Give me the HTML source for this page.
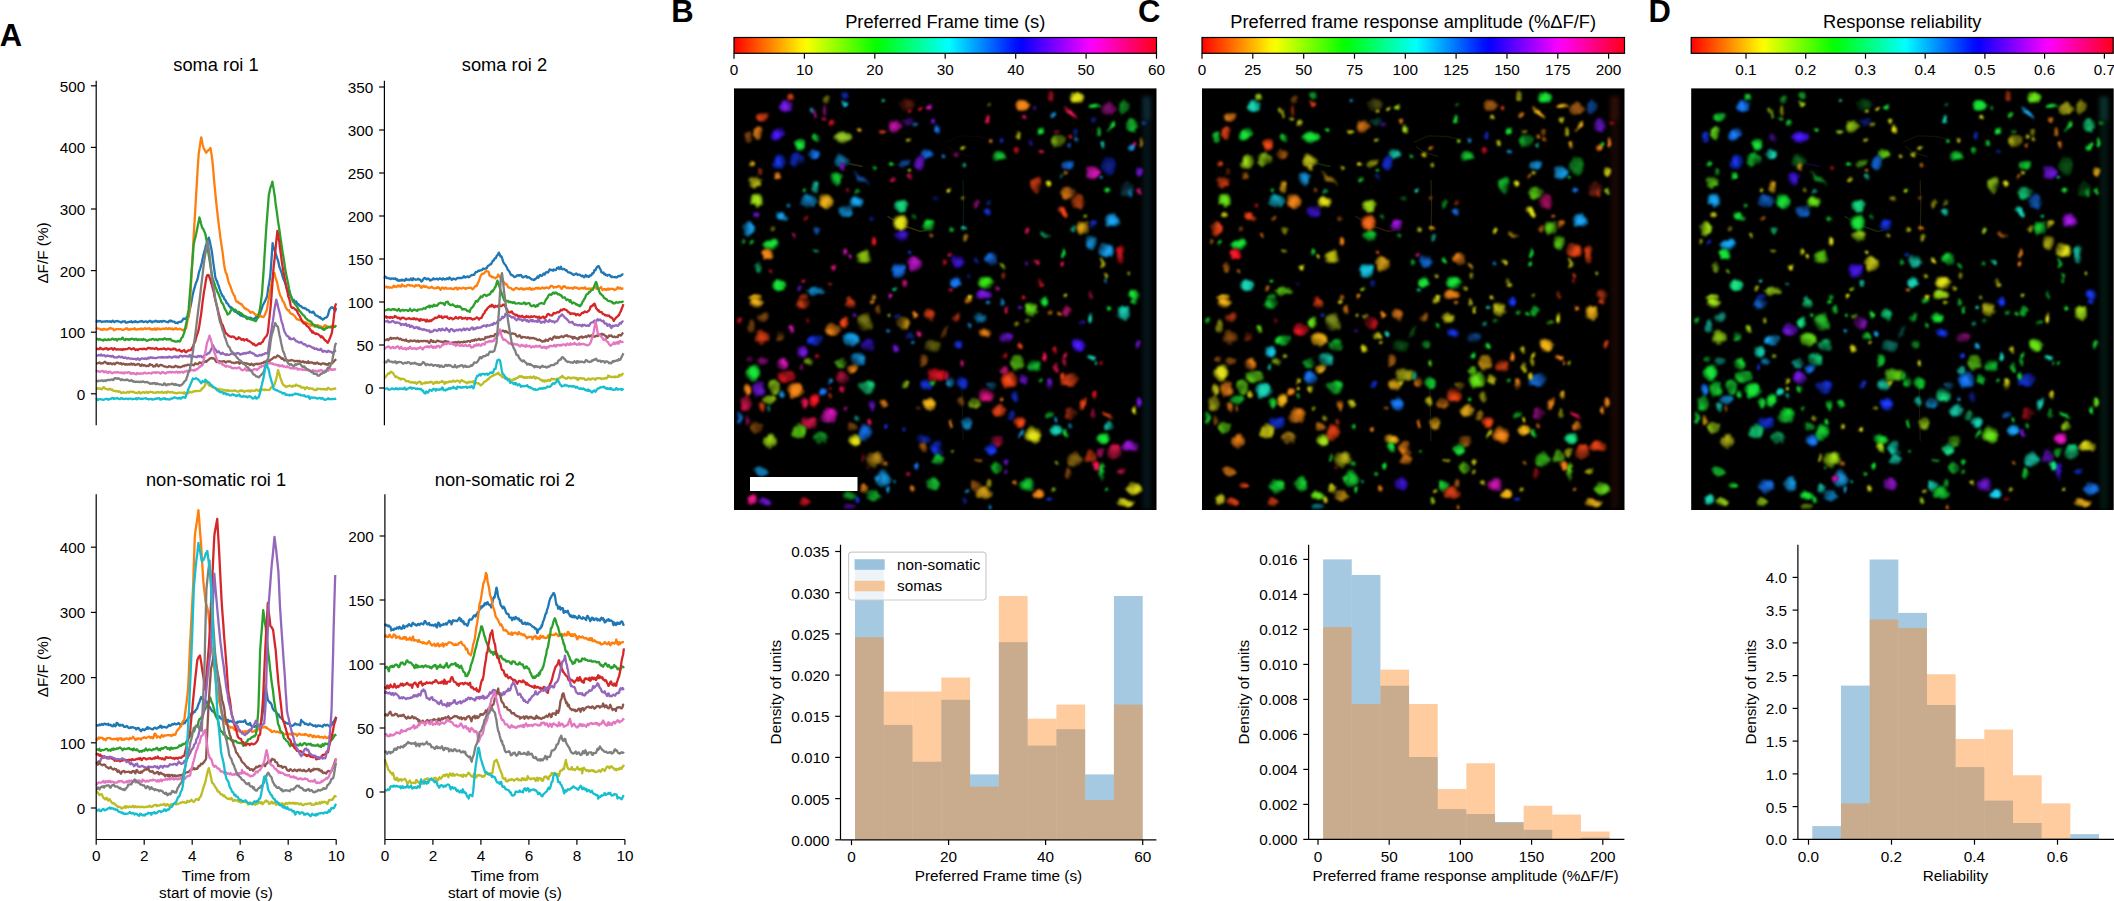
<!DOCTYPE html>
<html lang="en"><head><meta charset="utf-8"><title>Figure</title>
<style>html,body{margin:0;padding:0;background:#fff;overflow:hidden}svg{display:block}text{font-family:"Liberation Sans",Arial,sans-serif}</style>
</head><body>
<svg width="2114" height="901" viewBox="0 0 2114 901">
<rect width="2114" height="901" fill="#fff"/>
<text x="-0.3" y="45.7" font-size="31" text-anchor="start" fill="#000" font-weight="bold">A</text>
<text x="671.2" y="22.3" font-size="31" text-anchor="start" fill="#000" font-weight="bold">B</text>
<text x="1138.0" y="22.3" font-size="31" text-anchor="start" fill="#000" font-weight="bold">C</text>
<text x="1648.5" y="22.3" font-size="31" text-anchor="start" fill="#000" font-weight="bold">D</text>
<g id="panelA">
<polyline points="96.2,322.4 97.0,321.3 97.8,320.9 98.6,321.4 99.4,321.0 100.2,321.1 101.0,321.4 101.8,322.0 102.6,321.7 103.4,321.5 104.2,321.7 105.0,321.4 105.8,321.7 106.6,321.1 107.4,321.2 108.2,321.6 109.0,321.7 109.8,321.2 110.6,321.8 111.4,322.0 112.2,320.8 113.0,320.7 113.8,321.7 114.6,322.1 115.4,321.6 116.2,321.1 117.0,321.1 117.8,321.0 118.6,321.7 119.4,321.7 120.2,321.8 121.0,322.5 121.8,322.1 122.6,321.3 123.4,321.3 124.2,321.7 125.0,321.3 125.8,322.5 126.6,322.6 127.4,322.4 128.2,322.1 129.0,322.0 129.8,321.7 130.6,321.8 131.4,321.2 132.2,322.4 133.0,322.2 133.8,321.6 134.6,322.1 135.4,321.1 136.2,322.0 137.0,322.0 137.8,322.1 138.6,322.0 139.4,321.5 140.2,321.3 141.0,321.7 141.8,320.9 142.6,321.4 143.4,322.0 144.2,321.9 145.0,321.5 145.8,321.3 146.6,321.6 147.4,322.3 148.2,322.0 149.0,321.2 149.8,320.9 150.6,321.0 151.4,322.2 152.2,322.4 153.0,321.5 153.8,321.6 154.6,321.6 155.4,320.6 156.2,321.4 157.0,321.2 157.8,321.9 158.6,321.4 159.4,321.8 160.2,321.1 161.0,321.2 161.8,322.0 162.6,321.1 163.4,320.9 164.2,321.1 165.0,321.3 165.8,321.5 166.6,321.8 167.4,322.2 168.2,322.3 169.0,321.2 169.8,320.5 170.6,321.3 171.4,320.6 172.2,321.3 173.0,321.6 173.8,321.6 174.6,321.9 175.4,323.0 176.2,322.8 177.0,322.7 177.8,323.2 178.6,322.0 179.4,321.8 180.2,321.9 181.0,321.7 181.4,321.7 181.8,320.9 182.6,320.0 183.1,319.4 183.4,318.7 184.2,318.7 185.0,318.9 185.8,318.5 186.2,318.5 186.6,317.0 187.4,316.8 188.2,317.4 188.6,316.5 189.0,314.5 189.8,309.2 190.6,306.2 191.4,302.1 192.2,297.6 192.9,294.1 193.8,290.2 194.6,287.7 195.4,284.7 196.2,282.3 197.0,280.7 198.0,277.4 198.6,273.7 199.4,270.9 200.2,268.8 201.1,265.4 201.8,262.8 202.6,258.8 203.4,255.0 204.2,252.0 205.0,249.7 205.4,247.6 205.8,245.7 206.6,243.6 207.4,240.4 208.2,239.0 208.8,237.6 209.8,241.6 210.6,245.4 211.4,249.1 212.2,253.8 213.0,260.4 213.8,266.1 214.6,271.9 215.2,276.9 216.2,279.8 217.0,281.0 217.8,283.9 218.6,285.6 219.4,288.3 220.2,290.6 221.2,293.5 221.8,294.2 222.6,296.2 223.4,296.4 224.2,298.8 225.0,299.7 226.0,301.1 226.6,303.1 227.4,303.4 228.2,304.3 229.0,306.1 229.8,306.6 230.6,307.8 231.1,308.1 231.4,307.4 232.2,308.5 233.0,309.6 233.8,310.5 234.6,311.5 235.4,311.8 236.2,312.0 237.0,312.4 237.8,313.5 238.6,313.2 239.4,314.3 240.2,315.3 241.0,315.7 241.8,315.7 242.8,316.3 243.4,316.0 244.2,316.5 245.0,316.4 245.8,316.4 246.6,317.5 247.4,317.5 248.2,317.9 249.0,317.7 249.8,318.3 250.6,317.7 251.4,318.3 252.2,319.1 253.0,318.8 253.8,319.3 254.4,319.1 255.4,317.6 256.2,317.1 257.0,317.7 257.8,316.4 258.6,315.7 259.4,314.7 260.2,312.7 261.0,310.2 261.8,308.5 262.8,305.2 263.4,304.3 264.2,302.6 265.0,301.3 265.8,299.3 266.8,297.3 267.4,294.4 268.2,287.9 269.0,283.9 269.8,279.3 270.2,276.8 270.6,271.7 271.4,260.6 272.2,249.4 272.6,243.1 273.0,245.3 273.8,247.9 274.6,249.9 275.0,251.3 275.4,252.9 276.2,255.1 277.0,257.9 277.8,259.9 278.6,262.9 279.4,266.9 280.2,268.9 281.0,271.2 281.8,273.3 282.7,276.9 283.4,278.9 284.2,280.4 285.0,282.5 285.8,285.1 286.6,288.1 287.4,289.3 288.2,292.1 289.0,293.7 289.8,294.6 290.6,295.6 291.4,297.5 292.2,299.1 292.8,299.5 293.8,299.8 294.6,301.7 295.4,301.9 296.2,301.4 297.0,303.0 297.8,304.6 298.6,304.1 299.4,305.3 300.2,306.2 301.0,306.1 301.8,306.9 302.8,307.8 303.4,308.1 304.2,308.0 305.0,308.5 305.8,308.5 306.6,309.4 307.4,310.2 308.2,310.0 309.0,310.6 309.8,312.3 310.6,311.8 311.4,312.4 312.2,312.6 312.7,312.5 313.0,311.7 313.8,312.4 314.6,313.8 315.4,315.1 316.2,315.7 317.0,315.9 317.8,316.0 318.6,316.9 319.4,317.5 320.2,317.1 321.0,318.5 321.8,318.6 322.8,319.7 323.4,318.9 324.2,318.6 325.0,317.8 325.8,317.7 326.6,317.4 327.4,316.0 327.8,315.8 328.2,314.4 329.0,311.0 329.8,309.1 330.6,308.2 331.2,307.4 332.2,307.2 333.0,308.1 333.6,308.2 334.6,310.4 335.2,311.1 336.2,307.7" fill="none" stroke="#1f77b4" stroke-width="2.3" stroke-linejoin="round" stroke-linecap="butt"/>
<polyline points="96.2,327.5 97.0,328.4 97.8,328.6 98.6,328.7 99.4,328.8 100.2,329.3 101.0,329.6 101.8,329.2 102.6,330.0 103.4,329.0 104.2,329.0 105.0,329.4 105.8,329.3 106.6,329.7 107.4,329.7 108.2,328.9 109.0,328.9 109.8,328.0 110.6,327.8 111.4,328.7 112.2,328.9 113.0,328.7 113.8,330.1 114.6,330.1 115.4,329.5 116.2,329.2 117.0,329.2 117.8,329.2 118.6,329.0 119.4,329.2 120.2,329.1 121.0,329.2 121.8,329.7 122.6,329.9 123.4,329.9 124.2,329.3 125.0,329.2 125.8,328.4 126.6,328.8 127.4,328.4 128.2,329.6 129.0,329.4 129.8,329.8 130.6,329.3 131.4,328.8 132.2,329.2 133.0,329.2 133.8,328.7 134.6,328.2 135.4,329.4 136.2,329.7 137.0,329.4 137.8,329.2 138.6,329.4 139.4,328.9 140.2,328.7 141.0,329.3 141.8,328.5 142.6,329.4 143.4,328.9 144.2,328.7 145.0,328.1 145.8,329.0 146.6,328.9 147.4,328.6 148.2,328.5 149.0,328.8 149.8,328.2 150.6,329.4 151.4,329.5 152.2,329.1 153.0,329.5 153.8,329.6 154.6,328.3 155.4,328.6 156.2,329.8 157.0,328.6 157.8,328.4 158.6,329.2 159.4,328.6 160.2,329.5 161.0,329.3 161.8,329.0 162.6,328.6 163.4,328.6 164.2,328.8 165.0,329.1 165.8,328.1 166.6,328.4 167.4,329.1 168.2,329.0 169.0,328.1 169.8,328.4 170.6,329.2 171.4,328.9 172.2,328.5 173.0,329.6 173.8,329.2 174.6,328.5 175.4,329.0 176.2,328.1 177.0,329.1 177.8,329.5 178.6,329.3 179.4,328.7 180.2,328.8 181.0,329.4 181.8,329.6 182.6,330.4 183.1,330.2 183.4,329.8 184.2,329.6 185.0,329.6 185.8,328.4 186.2,328.1 186.6,325.6 187.4,321.4 188.2,317.5 189.0,312.9 189.6,309.3 190.6,291.6 191.4,277.6 192.2,262.4 193.0,248.5 193.6,237.2 194.6,221.1 195.4,207.7 196.2,193.5 197.0,180.7 197.8,166.8 198.7,153.7 199.4,149.3 200.2,143.7 201.2,137.3 201.8,139.9 202.6,144.3 203.5,147.6 204.2,149.2 205.0,150.5 205.8,152.1 206.1,152.7 206.6,152.0 207.4,151.4 208.2,150.3 209.0,149.8 209.8,149.0 210.4,147.9 211.4,153.5 212.1,158.4 213.0,166.6 213.8,176.8 214.6,185.9 215.4,193.6 216.2,202.3 217.0,209.3 217.8,216.5 218.6,223.5 219.4,229.7 220.3,236.6 221.0,241.8 221.8,247.2 222.6,252.4 223.4,259.1 224.2,265.0 224.6,267.4 225.0,269.6 225.8,272.7 226.6,273.9 227.4,277.1 228.2,280.6 229.0,283.3 229.4,283.8 229.8,284.9 230.6,286.9 231.4,289.2 232.2,291.7 233.0,293.3 233.8,295.1 234.6,295.9 235.4,298.9 236.1,301.0 237.0,301.8 237.8,301.6 238.6,303.0 239.4,302.9 240.2,303.6 241.0,304.3 241.8,304.1 242.6,305.9 243.4,306.6 244.2,308.0 245.0,308.5 245.8,308.5 246.2,309.4 246.6,309.4 247.4,309.5 248.2,310.2 249.0,311.0 249.8,311.5 250.6,312.8 251.4,312.4 252.2,312.0 253.0,312.1 253.8,313.1 254.6,313.9 255.4,314.5 256.0,315.2 257.0,314.8 257.8,315.0 258.6,316.1 259.4,316.8 260.2,316.1 261.0,315.9 261.8,316.9 262.6,316.9 263.4,317.0 263.7,316.8 264.2,316.0 265.0,314.7 265.8,312.2 266.8,310.0 267.4,306.6 268.2,301.8 269.0,298.1 269.8,292.6 270.6,288.6 271.2,285.0 272.2,280.4 273.0,277.4 273.8,275.5 274.5,273.2 275.4,277.0 276.2,279.8 277.0,282.0 277.8,285.9 278.6,289.9 279.6,293.5 280.2,295.5 281.0,296.8 281.8,298.3 282.6,300.8 283.4,301.7 284.2,303.0 285.0,305.3 286.0,308.1 286.6,308.5 287.4,310.0 288.2,310.7 289.0,310.3 289.8,312.4 290.6,313.3 291.4,313.7 292.2,314.2 293.0,314.4 293.8,315.3 294.6,315.9 295.4,317.0 296.1,318.2 297.0,319.3 297.8,319.2 298.6,319.8 299.4,320.2 300.2,320.1 301.0,319.4 301.8,320.0 302.6,320.7 303.4,322.0 304.2,322.0 305.0,322.3 305.8,322.4 306.6,322.6 307.4,323.3 308.2,323.6 309.0,323.7 309.3,323.8 309.8,324.1 310.6,325.8 311.4,325.4 312.2,325.1 313.0,325.6 313.8,326.0 314.6,326.6 315.4,325.4 316.2,325.8 317.0,326.1 317.8,325.3 318.6,326.1 319.4,325.9 320.2,326.2 321.1,326.5 321.8,327.6 322.6,327.0 323.4,326.8 324.2,326.1 325.0,325.1 325.8,325.5 326.6,326.0 327.4,327.2 328.2,326.7 329.0,326.9 329.8,327.3 330.6,326.5 331.4,326.1 332.2,326.3 333.0,326.0 333.8,325.9 334.6,326.5 335.4,325.8 336.2,327.0" fill="none" stroke="#ff7f0e" stroke-width="2.3" stroke-linejoin="round" stroke-linecap="butt"/>
<polyline points="96.2,338.5 97.0,338.8 97.8,339.1 98.6,339.8 99.4,339.0 100.2,339.3 101.0,339.8 101.8,340.0 102.6,339.9 103.4,340.5 104.2,339.3 105.0,339.4 105.8,339.8 106.6,340.1 107.4,339.7 108.2,339.2 109.0,340.1 109.8,339.6 110.6,339.6 111.4,339.3 112.2,338.6 113.0,339.0 113.8,339.7 114.6,339.6 115.4,339.0 116.2,339.4 117.0,340.5 117.8,339.3 118.6,338.9 119.4,339.2 120.2,339.4 121.0,339.1 121.8,338.4 122.6,337.6 123.4,339.3 124.2,339.7 125.0,340.1 125.8,338.8 126.6,339.1 127.4,339.5 128.2,339.1 129.0,340.0 129.8,339.2 130.6,339.5 131.4,338.7 132.2,338.8 133.0,338.9 133.8,339.5 134.6,339.9 135.4,338.9 136.2,338.8 137.0,339.9 137.8,340.2 138.6,339.4 139.4,339.5 140.2,339.5 141.0,339.9 141.8,339.3 142.6,339.9 143.4,339.0 144.2,339.6 145.0,339.6 145.8,339.9 146.6,340.8 147.4,340.6 148.2,340.3 149.0,339.9 149.8,339.6 150.6,339.7 151.4,339.6 152.2,339.0 153.0,338.8 153.8,339.3 154.6,339.9 155.4,339.7 156.2,339.1 157.0,340.1 157.8,340.1 158.6,339.3 159.4,339.0 160.2,339.4 161.0,339.3 161.8,339.1 162.6,339.6 163.4,339.6 164.2,338.5 165.0,338.5 165.8,338.8 166.6,339.6 167.4,339.2 168.2,339.0 169.0,339.5 169.8,339.2 170.6,338.9 171.4,340.3 172.2,340.6 173.0,340.7 173.8,341.2 174.6,341.2 175.4,341.6 176.1,341.7 177.0,341.6 177.8,340.9 178.6,341.0 179.4,341.5 180.2,341.2 181.0,339.1 181.8,337.5 182.6,337.2 183.4,334.6 184.2,332.8 184.5,331.5 185.0,329.3 185.8,325.5 186.6,321.5 187.4,316.2 188.2,311.8 188.6,309.9 189.0,304.7 189.8,295.2 190.6,285.2 191.2,276.1 192.2,264.2 193.0,254.1 193.6,245.1 194.6,240.3 195.4,237.1 196.3,233.3 197.0,229.7 197.8,225.8 198.6,222.1 199.4,217.5 200.2,219.9 201.0,223.5 201.8,226.5 202.6,228.5 203.4,229.2 203.7,230.0 204.2,231.2 205.0,232.9 205.8,235.9 206.1,238.4 206.6,240.3 207.4,245.9 208.2,252.1 209.0,256.9 209.8,261.7 210.6,267.1 211.4,272.1 211.9,275.2 212.2,277.1 213.0,279.7 213.8,281.5 214.6,284.0 215.4,287.2 216.2,288.5 217.0,291.3 217.9,292.7 218.6,294.4 219.4,296.5 220.2,298.2 221.0,301.0 221.8,302.8 222.6,303.4 223.4,305.1 224.2,307.1 224.6,308.5 225.0,309.3 225.8,310.4 226.6,311.8 227.4,314.2 227.7,314.6 228.2,313.8 229.0,313.7 229.8,312.8 230.6,311.0 231.4,309.9 232.0,308.6 233.0,309.1 233.8,309.6 234.6,310.0 235.4,309.7 236.2,310.9 237.0,312.3 237.8,312.2 238.6,311.7 239.5,312.4 240.2,313.0 241.0,313.1 241.8,314.0 242.6,314.4 243.4,315.5 244.2,315.8 245.0,316.2 245.8,317.5 246.6,318.5 247.4,319.0 247.9,318.8 248.2,318.1 249.0,318.7 249.8,318.9 250.6,319.4 251.4,319.5 252.2,319.5 253.0,320.2 253.8,320.3 254.6,320.5 255.4,321.0 256.0,321.0 257.0,318.8 257.8,317.9 258.6,314.3 259.4,311.7 260.2,307.1 261.0,301.6 262.0,293.5 262.6,284.6 263.4,273.7 263.7,269.4 264.2,261.0 265.0,248.3 265.8,235.6 266.1,230.7 266.6,223.8 267.4,213.7 268.2,203.1 268.8,195.2 269.8,190.4 270.6,187.2 271.4,185.1 272.4,181.6 273.0,185.4 273.8,189.9 274.6,195.3 275.0,197.6 275.4,202.2 276.2,207.5 277.0,213.4 277.9,220.1 278.6,224.8 279.4,229.7 280.2,235.9 281.0,241.2 281.8,246.7 282.6,252.2 283.4,256.5 284.2,261.9 285.0,267.7 285.3,269.8 285.8,271.9 286.6,276.6 287.4,280.1 288.2,283.9 289.0,288.5 289.4,290.4 289.8,291.9 290.6,294.8 291.4,297.0 292.2,299.5 292.8,301.6 293.8,302.3 294.6,303.5 295.4,304.6 296.2,305.6 297.0,306.3 297.8,308.1 298.6,309.5 299.4,311.1 300.2,311.3 301.0,312.5 301.8,313.5 302.8,314.8 303.4,315.4 304.2,315.7 305.0,317.2 305.8,318.4 306.6,318.8 307.4,319.7 308.2,320.2 309.0,320.6 309.8,321.2 310.6,321.5 311.4,321.9 312.2,324.1 312.7,324.3 313.0,324.1 313.8,324.9 314.6,325.2 315.4,326.4 316.2,326.1 317.0,325.6 317.8,327.1 318.6,327.6 319.4,327.5 320.2,327.7 321.0,327.8 321.8,328.4 322.8,329.3 323.4,328.7 324.2,329.9 325.0,329.1 325.8,328.0 326.6,328.1 327.4,327.8 328.2,327.2 329.0,327.2 329.5,327.1 329.8,327.1 330.6,327.4 331.4,327.1 332.2,326.4 333.0,327.3 333.8,327.0 334.6,326.9 335.4,326.4 336.2,326.6" fill="none" stroke="#2ca02c" stroke-width="2.3" stroke-linejoin="round" stroke-linecap="butt"/>
<polyline points="96.2,349.6 97.0,349.1 97.8,348.7 98.6,349.1 99.4,349.2 100.2,347.8 101.0,348.4 101.8,348.8 102.6,349.4 103.4,349.3 104.2,348.7 105.0,348.8 105.8,348.3 106.6,348.2 107.4,349.5 108.2,349.7 109.0,348.6 109.8,348.8 110.6,348.6 111.4,348.2 112.2,348.5 113.0,349.7 113.8,348.8 114.6,348.3 115.4,349.1 116.2,349.6 117.0,349.6 117.8,349.2 118.6,349.4 119.4,349.4 120.2,349.7 121.0,349.2 121.8,349.7 122.6,350.0 123.4,349.0 124.2,349.4 125.0,349.4 125.8,349.1 126.6,349.2 127.4,348.9 128.2,348.5 129.0,348.0 129.8,348.3 130.6,348.8 131.4,349.4 132.2,349.0 133.0,348.7 133.8,348.1 134.6,349.2 135.4,350.1 136.2,349.5 137.0,349.5 137.8,350.1 138.6,349.4 139.4,349.1 140.2,348.8 141.0,349.0 141.8,348.8 142.6,349.3 143.4,348.8 144.2,348.6 145.0,349.0 145.8,349.4 146.6,349.2 147.4,348.3 148.2,347.9 149.0,348.2 149.8,348.0 150.6,348.6 151.4,348.4 152.2,348.7 153.0,348.3 153.8,348.5 154.6,349.0 155.4,348.7 156.2,347.9 157.0,348.5 157.8,349.5 158.6,349.3 159.4,349.1 160.2,349.1 161.0,348.8 161.8,349.2 162.6,348.9 163.4,348.7 164.2,348.4 165.0,349.3 165.8,349.2 166.6,349.6 167.4,348.6 168.2,348.6 169.0,348.8 169.8,348.9 170.6,349.9 171.4,349.3 172.2,349.4 173.0,348.7 173.8,349.1 174.6,348.6 175.4,348.8 176.2,350.0 177.0,350.4 177.8,350.4 178.6,349.9 179.4,349.7 180.2,350.8 181.0,351.1 181.8,351.7 182.6,350.6 183.4,350.7 184.2,350.0 185.0,351.6 185.8,352.0 186.2,352.2 186.6,351.6 187.4,351.2 188.2,350.4 189.0,350.4 189.8,350.3 190.6,350.2 191.0,349.7 191.4,349.2 192.2,347.7 193.0,346.2 193.8,344.2 194.6,342.6 195.4,340.7 196.2,337.5 197.0,334.8 197.8,332.8 198.6,329.9 199.4,325.5 200.2,319.8 201.0,315.1 201.8,308.6 202.6,301.9 203.4,296.2 203.7,293.9 204.2,290.6 205.0,286.3 205.8,280.9 206.6,276.8 207.1,275.6 207.4,275.1 208.2,275.0 208.8,275.5 209.8,278.3 210.6,280.6 211.4,283.7 211.9,284.7 212.2,286.2 213.0,289.4 213.8,292.3 214.6,296.8 215.4,300.3 216.2,303.1 217.0,306.5 217.8,309.6 218.6,313.4 219.4,316.1 220.3,319.0 221.0,322.0 221.8,323.9 222.6,325.0 223.4,327.1 224.2,329.5 225.0,331.5 226.0,333.6 226.6,333.7 227.4,334.3 228.2,335.5 229.0,335.8 229.8,336.3 230.6,336.6 231.4,337.0 232.2,336.5 233.0,336.7 233.8,336.6 234.4,337.6 235.4,337.8 236.2,339.2 237.0,338.8 237.8,338.9 238.6,337.3 239.4,337.7 240.2,338.2 241.0,339.5 241.8,339.8 242.6,339.1 243.4,339.2 244.2,340.5 245.0,339.6 245.8,339.6 246.2,339.8 246.6,339.1 247.4,340.0 248.2,340.9 249.0,341.0 249.8,341.5 250.6,342.1 251.4,342.7 252.2,343.1 253.0,344.4 253.8,343.8 254.6,344.8 255.4,345.5 256.0,345.5 257.0,345.2 257.8,344.3 258.6,343.9 259.4,343.2 260.2,343.9 261.0,343.4 261.8,342.4 262.8,341.7 263.4,340.2 264.2,338.9 265.0,337.5 265.8,336.8 266.6,335.9 267.4,333.9 267.8,332.5 268.2,329.5 269.0,321.5 269.8,314.1 270.6,306.8 271.2,299.8 272.2,286.6 273.0,275.9 273.6,267.2 274.6,258.8 275.4,250.3 276.2,241.9 277.0,234.6 277.4,230.8 277.8,232.9 278.6,238.1 279.4,242.6 280.0,248.0 281.0,255.1 281.8,261.5 282.7,267.4 283.4,271.5 284.2,275.5 285.0,280.3 285.8,283.9 286.6,288.4 287.4,291.8 287.7,293.1 288.2,296.3 289.0,297.9 289.8,301.0 290.6,305.3 291.1,306.6 291.4,307.2 292.2,308.0 293.0,307.7 293.8,307.9 294.6,308.8 295.4,309.7 296.1,309.7 297.0,311.0 297.8,313.0 298.6,314.4 299.4,315.6 300.2,316.9 301.0,319.3 301.8,320.9 302.8,322.5 303.4,322.5 304.2,323.7 305.0,323.6 305.8,324.4 306.6,325.7 307.4,326.2 308.2,326.8 309.0,327.8 309.8,328.8 310.6,330.5 311.4,330.5 312.2,332.6 312.7,332.0 313.0,331.5 313.8,332.9 314.6,333.1 315.4,334.0 316.2,333.5 317.0,333.9 317.8,334.0 318.6,334.7 319.4,335.4 320.2,336.1 321.0,337.2 321.8,336.3 322.8,337.5 323.4,338.0 324.2,339.6 325.0,340.1 325.8,340.9 326.6,341.3 327.4,342.6 327.8,342.8 328.2,342.1 329.0,340.4 329.8,338.3 330.6,336.5 331.4,334.2 331.9,332.9 332.2,330.5 333.0,324.8 333.8,317.7 334.6,310.9 335.2,305.7 336.2,303.4" fill="none" stroke="#d62728" stroke-width="2.3" stroke-linejoin="round" stroke-linecap="butt"/>
<polyline points="96.2,355.6 97.0,355.7 97.8,355.6 98.6,354.9 99.4,355.1 100.2,355.5 101.0,354.5 101.8,355.4 102.6,355.7 103.4,355.4 104.2,355.1 105.0,355.9 105.8,356.4 106.6,356.0 107.4,355.5 108.2,355.9 109.0,355.9 109.8,356.3 110.6,356.2 111.4,356.6 112.2,355.9 113.0,356.0 113.8,357.3 114.6,357.2 115.4,357.3 116.2,357.4 117.0,357.6 117.8,357.1 118.6,356.5 119.4,356.5 120.2,357.3 121.0,357.2 121.8,356.7 122.6,357.0 123.4,357.9 124.2,357.9 125.0,357.4 125.8,357.7 126.6,358.5 127.4,358.4 128.2,357.8 129.0,358.5 129.8,358.7 130.6,358.5 131.4,358.6 132.2,358.9 133.0,358.9 133.8,358.8 134.6,358.9 135.4,358.8 136.2,359.7 137.0,358.7 137.8,358.3 138.6,358.8 139.4,360.1 140.2,359.5 141.0,358.8 141.8,358.3 142.6,358.6 143.4,358.7 144.2,358.9 145.0,358.5 145.8,358.5 146.6,359.1 147.4,358.6 148.2,357.7 149.0,358.4 149.8,357.7 150.6,357.2 151.4,357.6 152.2,358.1 153.0,357.6 153.8,357.9 154.6,358.0 155.4,358.2 156.2,358.2 157.0,357.6 157.8,357.6 158.6,357.4 159.4,357.4 160.2,357.3 161.0,357.6 161.8,357.0 162.6,357.6 163.4,357.2 164.2,357.4 165.0,357.5 165.8,357.4 166.6,357.1 167.4,357.6 168.2,357.4 169.0,356.6 169.8,356.9 170.6,357.2 171.4,357.8 172.2,357.5 173.0,356.9 173.8,357.0 174.6,356.4 175.4,356.7 176.2,357.4 177.0,356.6 177.8,356.9 178.6,357.6 179.4,356.3 180.2,355.7 181.0,355.9 181.8,356.2 182.6,356.6 183.4,356.2 184.2,356.2 185.0,355.9 185.8,356.1 186.6,356.3 187.4,356.3 188.2,356.6 189.0,356.2 189.8,354.9 190.6,356.2 191.4,357.6 192.2,357.3 193.0,356.2 193.8,356.6 194.6,356.7 195.4,356.8 196.2,357.1 197.0,357.1 197.8,355.8 198.6,356.0 199.4,356.6 200.2,355.8 201.0,355.8 201.8,357.1 202.6,357.3 203.4,356.5 204.2,355.6 205.0,354.7 205.8,354.6 206.6,354.6 207.4,353.8 208.2,353.1 209.0,353.3 209.5,352.9 209.8,351.9 210.6,350.8 211.4,349.1 212.2,346.8 212.8,345.1 213.8,347.0 214.6,348.7 215.4,349.4 216.2,350.4 216.9,352.3 217.8,352.0 218.6,351.2 219.4,352.5 220.2,353.1 221.0,354.0 221.8,353.6 222.6,352.6 223.4,353.6 224.2,354.2 225.0,354.5 226.0,355.0 226.6,354.1 227.4,354.5 228.2,354.8 229.0,354.9 229.8,354.5 230.6,354.3 231.4,353.5 232.2,353.5 233.0,353.6 233.8,353.4 234.6,353.5 235.4,353.7 236.2,353.5 237.0,353.6 237.8,353.0 238.6,353.2 239.4,353.8 240.2,354.7 241.0,354.3 241.8,353.7 242.6,354.1 243.4,353.4 244.2,352.9 245.0,353.6 245.8,353.7 246.6,352.7 247.4,352.8 248.2,352.7 249.0,352.8 249.6,351.6 250.6,352.2 251.4,353.0 252.2,352.8 253.0,353.6 253.8,353.7 254.6,354.3 255.4,355.6 256.2,355.4 257.0,355.7 257.7,356.2 258.6,355.8 259.4,355.0 260.2,355.0 261.0,355.3 261.8,355.3 262.6,354.2 263.4,354.3 264.2,354.0 265.0,353.4 265.8,353.1 266.6,353.3 267.4,353.4 267.8,353.7 268.2,351.3 269.0,345.2 269.8,339.7 270.6,334.7 271.4,330.1 271.9,326.9 272.2,324.8 273.0,320.4 273.8,314.4 274.6,308.3 275.4,304.6 276.2,299.6 277.0,302.4 277.8,305.6 278.6,309.2 279.4,311.9 280.3,315.3 281.0,319.0 281.8,322.1 282.6,324.2 283.4,327.8 284.4,331.5 285.0,332.5 285.8,334.0 286.6,335.5 287.4,336.1 288.2,336.4 289.0,337.8 289.4,338.7 289.8,337.6 290.6,339.0 291.4,339.3 292.2,338.9 293.0,338.9 293.8,338.3 294.4,339.3 295.4,340.1 296.2,341.3 297.0,341.3 297.8,341.8 298.6,342.4 299.4,342.5 300.2,342.5 301.0,342.0 301.8,342.6 302.8,343.7 303.4,344.3 304.2,344.2 305.0,344.2 305.8,345.5 306.6,345.7 307.4,346.5 308.2,345.6 309.0,345.8 309.8,345.9 310.6,346.6 311.4,347.0 312.2,347.5 312.7,347.8 313.0,347.7 313.8,347.6 314.6,349.0 315.4,348.8 316.2,348.5 317.0,348.8 317.8,349.8 318.6,349.5 319.4,350.0 320.2,349.6 321.0,348.8 321.8,350.5 322.8,351.8 323.4,350.9 324.2,351.0 325.0,351.4 325.8,351.2 326.6,352.1 327.4,351.9 328.2,350.7 329.0,351.5 329.8,351.5 330.6,351.6 331.2,351.8 332.2,352.9 333.0,352.7 333.8,351.8 334.6,351.4 335.4,350.7 336.2,350.5" fill="none" stroke="#9467bd" stroke-width="2.3" stroke-linejoin="round" stroke-linecap="butt"/>
<polyline points="96.2,363.0 97.0,363.3 97.8,363.3 98.6,362.9 99.4,362.5 100.2,363.1 101.0,363.7 101.8,363.1 102.6,363.4 103.4,363.1 104.2,362.1 105.0,361.7 105.8,362.6 106.6,362.9 107.4,363.8 108.2,363.0 109.0,363.9 109.8,363.4 110.6,363.2 111.4,363.8 112.2,364.3 113.0,363.5 113.8,363.3 114.6,364.4 115.4,363.8 116.2,362.9 117.0,362.6 117.8,362.8 118.6,363.3 119.4,363.5 120.2,363.6 121.0,363.1 121.8,364.4 122.6,364.0 123.4,363.7 124.2,364.0 125.0,364.7 125.8,364.2 126.6,364.2 127.4,364.6 128.2,364.5 129.0,364.2 129.8,364.6 130.6,364.1 131.4,363.5 132.2,364.7 133.0,364.4 133.8,363.8 134.6,364.9 135.4,365.0 136.2,364.6 137.0,364.6 137.8,363.9 138.6,364.3 139.4,364.4 140.2,365.6 141.0,365.9 141.8,364.5 142.6,365.1 143.4,365.5 144.2,364.9 145.0,365.5 145.8,366.2 146.6,366.1 147.4,365.6 148.2,366.2 149.0,365.8 149.8,364.1 150.6,364.9 151.4,364.9 152.2,365.0 153.0,366.3 153.8,366.6 154.6,365.8 155.4,366.2 156.2,364.4 157.0,364.4 157.8,365.8 158.6,366.5 159.4,365.8 160.2,364.9 161.0,364.9 161.8,365.1 162.6,365.6 163.4,366.2 164.2,366.4 165.0,366.7 165.8,366.5 166.6,367.2 167.4,367.1 168.2,366.8 169.0,366.1 169.8,366.3 170.6,366.6 171.4,367.1 172.2,366.9 173.0,367.0 173.8,367.1 174.6,366.8 175.4,365.8 176.2,366.2 177.0,366.3 177.8,367.3 178.6,366.7 179.4,367.0 180.2,367.3 181.0,367.0 181.8,366.7 182.6,366.2 183.4,365.8 184.2,366.1 185.0,365.3 185.8,365.4 186.6,365.5 187.4,364.7 188.2,364.9 189.0,364.8 189.8,365.3 190.6,364.6 191.4,364.1 192.2,364.8 193.0,365.0 193.8,365.4 194.6,364.2 195.4,363.3 196.2,363.9 197.0,364.2 197.8,364.1 198.6,363.6 199.4,362.3 200.2,362.6 201.0,362.7 201.8,363.7 202.6,362.7 203.4,362.1 204.2,362.1 205.0,361.8 205.8,361.1 206.1,361.7 206.6,361.8 207.4,360.4 208.2,360.2 209.0,359.3 209.8,358.4 210.6,358.5 211.4,357.9 211.9,358.2 212.2,358.0 213.0,358.7 213.8,358.4 214.6,358.9 215.4,360.5 216.2,361.7 217.0,362.2 217.9,362.0 218.6,361.3 219.4,361.1 220.2,361.4 221.0,361.6 221.8,361.8 222.6,361.3 223.4,361.4 224.2,361.1 225.0,361.9 225.8,362.5 226.6,362.0 227.4,361.3 228.2,361.4 229.0,361.5 229.8,361.4 230.6,361.7 231.4,362.5 232.2,362.6 233.0,362.7 233.8,362.8 234.4,363.2 235.4,362.7 236.2,362.4 237.0,362.6 237.8,362.2 238.6,362.2 239.4,363.8 240.2,363.2 241.0,362.2 241.8,362.7 242.6,362.9 243.4,362.8 244.2,362.9 245.0,363.6 245.8,363.3 246.6,363.4 247.4,363.6 248.2,364.0 249.0,364.2 249.8,364.9 250.6,364.8 251.4,363.7 252.2,364.0 253.0,365.2 253.8,365.5 254.4,364.3 255.4,364.0 256.2,364.0 257.0,363.6 257.8,364.3 258.6,363.9 259.4,363.7 260.2,363.6 261.0,363.6 261.8,362.8 262.6,363.1 263.4,362.7 264.2,361.7 265.0,362.3 265.8,361.5 266.6,361.0 267.4,360.0 268.2,361.0 269.0,361.3 269.5,361.3 269.8,360.3 270.6,359.6 271.4,359.5 272.2,358.8 273.0,358.1 273.8,357.3 274.6,357.2 275.4,357.5 276.2,357.1 277.0,356.0 277.6,355.4 278.6,356.1 279.4,356.6 280.2,357.0 281.0,358.1 281.8,358.8 282.6,358.2 283.4,359.2 284.4,360.4 285.0,360.5 285.8,359.8 286.6,359.7 287.4,360.7 288.2,360.6 289.0,360.5 289.8,360.7 290.6,360.5 291.4,359.9 292.2,360.3 293.0,360.5 293.8,360.6 294.6,361.3 295.4,361.1 296.2,360.8 297.0,360.9 297.8,361.3 298.6,361.3 299.4,360.8 300.2,361.8 301.0,361.9 301.8,361.9 302.8,361.4 303.4,361.5 304.2,362.6 305.0,361.9 305.8,362.2 306.6,362.9 307.4,362.6 308.2,361.3 309.0,363.0 309.8,362.6 310.6,362.5 311.4,362.5 312.2,362.5 313.0,362.9 313.8,363.6 314.6,362.9 315.4,363.8 316.2,363.3 317.0,362.5 317.8,363.1 318.6,364.0 319.4,363.7 320.2,363.9 321.0,364.6 321.8,363.7 322.6,363.3 323.4,363.6 324.2,363.4 325.0,364.3 325.8,363.9 326.1,363.8 326.6,364.7 327.4,364.2 328.2,364.7 329.0,363.2 329.8,363.3 330.6,363.5 331.4,364.0 332.2,362.4 332.6,362.7 333.0,362.6 333.8,361.6 334.6,360.6 335.4,359.8 336.2,359.1" fill="none" stroke="#8c564b" stroke-width="2.3" stroke-linejoin="round" stroke-linecap="butt"/>
<polyline points="96.2,370.0 97.0,371.4 97.8,371.1 98.6,371.1 99.4,371.9 100.2,371.8 101.0,371.4 101.8,371.2 102.6,370.8 103.4,371.6 104.2,372.4 105.0,371.7 105.8,371.2 106.6,372.5 107.4,372.1 108.2,372.9 109.0,371.6 109.8,371.7 110.6,372.4 111.4,372.8 112.2,373.3 113.0,372.8 113.8,372.5 114.6,372.4 115.4,372.1 116.2,372.5 117.0,372.4 117.8,372.0 118.6,372.4 119.4,372.7 120.2,372.8 121.0,372.4 121.8,373.2 122.6,372.7 123.4,372.7 124.2,373.6 125.0,372.4 125.8,372.5 126.6,372.7 127.4,372.8 128.2,372.1 129.0,372.5 129.8,372.3 130.6,373.9 131.4,373.2 132.2,373.6 133.0,373.0 133.8,373.5 134.6,373.5 135.4,374.1 136.2,374.3 137.0,373.0 137.8,373.8 138.6,373.3 139.4,373.6 140.2,373.8 141.0,373.3 141.8,373.4 142.6,373.7 143.4,373.4 144.2,372.7 145.0,372.6 145.8,373.3 146.6,373.4 147.4,373.3 148.2,373.2 149.0,372.8 149.8,373.1 150.6,373.3 151.4,373.5 152.2,372.3 153.0,372.5 153.8,372.6 154.6,372.7 155.4,372.2 156.2,372.9 157.0,372.5 157.8,372.4 158.6,372.3 159.4,372.7 160.2,373.5 161.0,373.4 161.8,372.1 162.6,371.9 163.4,372.6 164.2,372.7 165.0,373.1 165.8,373.5 166.6,372.7 167.4,372.4 168.2,372.1 169.0,372.5 169.8,371.9 170.6,371.9 171.4,372.5 172.2,371.9 173.0,372.2 173.8,372.3 174.6,372.5 175.4,372.4 176.2,371.6 177.0,371.8 177.8,372.7 178.6,372.0 179.4,372.6 180.2,372.2 181.0,372.2 181.8,371.7 182.6,372.4 183.4,372.7 184.2,371.6 185.0,371.5 185.8,371.7 186.6,370.8 187.4,370.8 188.2,371.5 189.0,371.4 189.8,370.9 190.6,370.0 191.4,369.7 192.2,370.2 193.0,370.4 193.8,370.7 194.6,369.8 195.4,370.3 196.3,369.1 197.0,369.3 197.8,368.8 198.6,367.9 199.4,366.5 200.2,366.8 201.0,366.0 201.8,365.5 202.8,364.8 203.4,361.3 204.2,357.9 205.0,353.7 205.8,349.7 206.6,345.0 207.1,342.6 207.4,341.6 208.2,340.2 209.0,337.3 209.5,335.6 209.8,336.9 210.6,338.8 211.4,341.5 212.2,345.8 213.0,348.2 213.6,350.2 214.6,353.2 215.4,355.2 216.2,357.2 217.0,359.7 217.9,361.6 218.6,362.5 219.4,363.3 220.2,362.7 221.0,362.9 221.8,363.8 222.6,364.8 223.4,364.6 224.2,365.5 225.0,366.0 226.0,366.7 226.6,365.7 227.4,366.2 228.2,366.3 229.0,366.8 229.8,366.9 230.6,366.7 231.4,368.0 232.2,367.8 233.0,368.3 233.8,368.3 234.6,367.9 235.4,368.0 236.2,368.2 237.0,368.4 237.8,367.8 238.6,367.5 239.4,367.5 240.2,368.5 241.0,369.4 241.8,370.1 242.8,370.3 243.4,369.8 244.2,369.7 245.0,368.4 245.8,369.4 246.6,370.6 247.4,370.4 248.2,370.0 249.0,370.4 249.8,369.5 250.6,369.6 251.4,370.3 252.2,370.3 253.0,370.2 253.8,369.1 254.6,369.1 255.4,369.4 256.0,369.3 257.0,370.0 257.8,368.9 258.6,368.7 259.4,367.7 260.2,366.5 261.0,367.0 261.8,366.1 262.6,366.3 263.4,365.9 264.2,365.6 265.0,364.5 265.8,365.0 266.6,364.4 267.4,363.9 268.2,363.5 269.0,362.8 269.5,362.8 269.8,363.4 270.6,363.1 271.4,363.3 272.2,363.8 273.0,363.6 273.8,364.3 274.6,364.5 275.4,364.3 276.2,364.9 277.0,365.2 277.8,365.5 278.6,364.9 279.6,366.2 280.2,365.6 281.0,366.1 281.8,366.1 282.6,365.3 283.4,366.5 284.2,366.5 285.0,366.6 285.8,366.9 286.6,367.3 287.4,366.3 288.2,367.2 289.0,367.4 289.8,367.7 290.6,368.4 291.4,368.5 292.2,367.7 292.8,368.2 293.8,368.7 294.6,368.5 295.4,368.3 296.2,368.0 297.0,368.3 297.8,369.7 298.6,369.1 299.4,369.0 300.2,369.4 301.0,369.4 301.8,369.3 302.6,370.0 303.4,369.4 304.2,369.9 305.0,369.5 305.8,370.2 306.6,369.9 307.4,369.5 308.2,370.2 309.0,369.8 309.3,370.7 309.8,370.6 310.6,371.0 311.4,371.0 312.2,370.5 313.0,370.2 313.8,370.9 314.6,371.3 315.4,370.7 316.2,371.1 317.0,371.0 317.8,371.5 318.6,370.5 319.4,371.2 320.2,370.5 321.0,369.9 321.8,370.5 322.6,371.0 323.4,370.8 324.2,371.1 325.0,370.9 325.8,371.0 326.1,371.3 326.6,370.9 327.4,370.4 328.2,370.8 329.0,369.8 329.8,369.0 330.6,369.6 331.4,369.1 332.2,369.8 333.0,369.9 333.8,369.1 334.6,369.5 335.4,369.4 336.2,369.4" fill="none" stroke="#e377c2" stroke-width="2.3" stroke-linejoin="round" stroke-linecap="butt"/>
<polyline points="96.2,380.3 97.0,381.0 97.8,381.3 98.6,380.6 99.4,380.9 100.2,380.8 101.0,380.7 101.8,380.4 102.6,380.3 103.4,381.1 104.2,380.9 105.0,380.3 105.8,381.0 106.6,380.4 107.4,379.9 108.2,379.9 109.0,380.0 109.8,380.1 110.6,379.7 111.4,379.6 112.2,379.4 113.0,380.1 113.8,379.5 114.4,378.4 115.4,378.1 116.2,378.6 117.0,378.5 117.8,378.8 118.6,378.2 119.4,379.0 120.2,379.4 121.0,380.2 121.8,379.2 122.6,379.6 123.4,379.9 124.2,380.2 125.0,380.0 125.8,380.1 126.6,379.5 127.4,379.7 128.2,380.2 129.0,380.7 129.8,381.0 130.8,380.6 131.4,380.0 132.2,380.9 133.0,381.6 133.8,381.1 134.6,381.8 135.4,382.0 136.2,381.7 137.0,381.8 137.8,381.6 138.6,381.9 139.4,382.2 140.2,381.7 141.0,382.0 141.8,381.9 142.6,381.3 143.4,381.8 144.2,381.8 145.0,382.4 145.8,382.2 146.6,382.1 147.4,381.9 148.2,382.8 149.0,382.8 149.8,383.9 150.6,383.7 151.4,383.6 152.2,383.2 153.0,383.6 153.8,383.0 154.6,382.8 155.4,384.1 156.2,384.2 157.0,383.1 157.8,383.9 158.6,384.1 159.4,384.4 160.2,384.3 161.0,384.3 161.8,384.9 162.6,384.8 163.4,384.9 164.2,383.3 165.0,383.7 165.8,385.0 166.6,385.4 167.4,384.3 168.2,384.2 169.0,384.6 169.8,384.4 170.6,384.2 171.4,384.1 172.2,383.6 173.0,383.8 173.8,384.9 174.6,384.4 175.4,383.9 176.2,385.1 177.0,384.9 177.8,384.9 178.6,385.3 179.4,385.8 180.2,385.1 181.0,385.4 181.8,384.6 182.6,383.9 183.4,383.1 184.2,381.6 185.0,381.0 185.8,380.2 186.2,379.7 186.6,377.7 187.4,376.3 188.2,372.8 189.0,371.6 189.8,369.1 190.6,365.5 191.2,362.7 192.2,355.7 193.0,351.4 193.8,344.8 194.6,339.5 195.4,333.3 196.3,326.5 197.0,320.3 197.8,314.0 198.6,307.1 199.4,301.6 200.4,293.3 201.0,287.7 201.8,281.3 202.6,274.7 203.4,267.6 204.2,261.2 205.0,255.8 205.8,251.2 206.6,247.5 207.6,241.3 208.2,245.4 209.0,250.9 209.7,255.5 210.6,264.1 211.4,272.2 211.9,277.8 212.2,279.4 213.0,284.2 213.8,289.0 214.6,293.7 215.2,298.5 216.2,303.7 217.0,306.9 217.8,310.8 218.6,315.3 219.6,320.2 220.2,322.6 221.0,324.4 221.8,327.3 222.6,330.1 223.4,331.8 224.2,334.8 224.6,336.5 225.0,337.5 225.8,339.4 226.6,342.0 227.4,344.4 228.2,346.4 229.0,346.6 229.8,347.8 230.6,350.0 231.1,351.2 231.4,351.2 232.2,351.7 233.0,353.5 233.8,354.4 234.6,355.0 235.4,355.2 236.2,356.6 237.0,357.6 237.8,358.3 238.6,359.2 239.4,360.0 240.2,360.6 241.0,360.9 241.8,361.9 242.8,363.7 243.4,363.7 244.2,364.1 245.0,364.8 245.8,365.6 246.6,366.7 247.4,367.6 248.2,367.5 249.0,369.3 249.8,370.4 250.6,370.4 251.4,371.3 252.2,372.3 252.9,373.7 253.8,374.6 254.6,374.7 255.4,375.5 256.2,376.4 257.0,376.6 257.8,376.7 258.7,377.5 259.4,376.5 260.2,375.8 261.0,375.2 261.8,374.1 262.8,373.5 263.4,372.3 264.2,370.8 265.0,367.3 265.8,365.7 266.6,363.7 267.4,360.8 267.8,359.5 268.2,357.8 269.0,352.8 269.8,348.3 270.6,341.6 271.4,336.8 271.9,334.1 272.2,333.3 273.0,331.2 273.8,327.5 274.6,325.5 275.2,323.0 276.2,324.9 277.0,326.1 277.9,326.7 278.6,330.4 279.4,335.0 280.2,337.9 281.0,342.2 281.8,345.7 282.7,349.8 283.4,351.8 284.2,353.4 285.0,356.0 285.8,358.4 286.6,360.1 287.4,362.1 287.7,362.7 288.2,363.5 289.0,363.8 289.8,364.8 290.6,364.1 291.4,364.4 292.2,365.4 292.8,365.3 293.8,366.5 294.6,365.6 295.4,364.2 296.2,364.8 297.0,364.5 297.8,363.6 298.6,364.0 299.5,363.9 300.2,363.9 301.0,364.7 301.8,366.1 302.6,367.0 303.4,366.8 304.2,366.4 305.0,367.5 305.8,368.0 306.6,369.0 307.4,369.3 307.9,369.6 308.2,370.3 309.0,370.2 309.8,370.8 310.6,371.3 311.4,372.3 312.2,371.8 313.0,372.3 313.8,373.9 314.6,373.6 315.4,374.0 316.2,373.6 317.0,374.4 317.7,375.6 318.6,375.6 319.4,375.5 320.2,374.3 321.0,373.7 321.8,373.9 322.6,372.9 323.4,372.7 324.2,372.6 325.0,372.2 325.8,371.8 326.1,371.2 326.6,370.1 327.4,368.4 328.2,367.4 329.0,368.1 329.8,367.0 330.6,365.3 331.4,363.8 331.9,362.7 332.2,361.1 333.0,356.3 333.8,353.1 334.6,348.2 335.2,344.9 336.2,342.8" fill="none" stroke="#7f7f7f" stroke-width="2.3" stroke-linejoin="round" stroke-linecap="butt"/>
<polyline points="96.2,389.8 97.0,388.9 97.8,388.2 98.6,388.2 99.4,388.8 100.2,388.6 101.0,388.8 101.8,389.3 102.6,388.2 103.4,387.4 103.9,387.1 104.2,387.6 105.0,388.5 105.8,388.8 106.6,389.2 107.4,389.0 108.2,389.7 109.0,389.2 109.8,388.9 110.6,389.2 111.4,389.8 112.2,389.5 113.0,390.4 113.8,390.9 114.6,390.9 115.4,391.3 116.2,391.4 117.0,391.0 117.8,391.3 118.6,391.8 119.4,391.3 120.2,391.5 121.0,393.0 121.4,392.8 121.8,393.0 122.6,392.6 123.4,392.2 124.2,392.3 125.0,392.9 125.8,392.9 126.6,392.6 127.4,391.8 128.2,391.9 129.0,392.7 129.8,391.9 130.6,391.7 131.4,391.6 132.2,392.1 133.0,391.8 133.8,391.8 134.6,392.6 135.4,392.8 136.2,392.8 137.0,393.2 137.8,392.8 138.6,391.9 139.4,392.0 140.2,393.3 141.0,393.1 141.8,392.7 142.6,392.3 143.4,392.1 144.2,392.4 145.0,392.9 145.8,392.5 146.6,391.8 147.4,392.4 148.2,393.0 149.0,392.2 149.8,392.0 150.6,391.7 151.4,392.1 152.2,392.1 153.0,392.5 153.8,392.9 154.6,392.7 155.4,392.5 156.2,392.8 157.0,392.2 157.8,392.0 158.6,392.6 159.4,392.3 160.2,392.5 161.0,392.3 161.8,391.6 162.6,392.6 163.4,392.9 164.2,392.3 165.0,392.2 165.8,392.3 166.6,393.0 167.4,391.6 168.2,392.0 169.0,391.7 169.8,392.5 170.6,392.4 171.4,392.1 172.2,391.9 173.0,392.7 173.8,392.7 174.6,393.0 175.4,392.8 176.2,393.4 177.0,393.3 177.8,392.6 178.6,392.8 179.4,392.6 180.2,392.7 181.0,392.8 181.8,393.0 182.6,392.6 183.4,393.5 184.2,392.3 185.0,393.7 185.8,393.0 186.6,393.1 187.4,393.2 188.2,393.3 189.0,392.7 189.8,391.6 190.6,392.1 191.4,392.3 192.2,392.2 193.0,391.9 193.8,391.2 194.6,391.4 195.4,391.1 196.2,390.8 197.0,391.2 197.8,391.2 198.6,390.8 199.4,390.8 200.2,390.8 201.1,390.3 201.8,388.5 202.6,388.5 203.4,387.5 204.2,386.7 204.7,385.8 205.0,385.0 205.8,382.9 206.6,380.6 207.4,382.6 208.2,383.8 209.0,385.5 209.5,385.5 209.8,385.5 210.6,386.0 211.4,386.5 212.2,387.2 213.0,387.4 213.8,387.6 214.6,388.2 215.4,388.5 216.2,388.6 217.0,389.3 217.9,388.9 218.6,388.8 219.4,389.3 220.2,389.9 221.0,389.5 221.8,389.3 222.6,389.5 223.4,390.2 224.2,390.5 225.0,390.1 226.0,390.3 226.6,391.2 227.4,390.2 228.2,390.1 229.0,390.9 229.8,390.8 230.6,390.7 231.4,390.6 232.2,391.2 233.0,390.6 233.8,390.6 234.6,390.8 235.4,390.4 236.2,391.0 237.0,391.4 237.8,391.5 238.6,391.6 239.4,391.1 240.2,390.5 241.0,391.1 241.8,390.3 242.6,390.6 243.4,391.0 244.2,392.1 245.0,391.6 245.8,390.9 246.6,390.9 247.4,390.7 248.2,391.2 249.0,390.5 249.8,391.3 250.6,391.6 251.2,390.3 252.2,390.6 253.0,390.6 253.8,390.8 254.6,390.8 255.4,390.6 256.2,389.5 257.0,389.8 257.8,390.7 258.6,390.8 259.4,390.2 260.2,389.2 261.0,389.7 261.8,390.2 262.6,389.4 263.4,389.6 264.2,390.2 265.0,389.4 265.8,389.9 266.6,390.0 267.4,389.8 268.2,389.8 269.0,390.1 269.5,389.8 269.8,389.5 270.6,388.3 271.4,387.2 272.2,387.0 273.0,386.5 273.8,385.9 274.5,384.7 275.4,381.7 276.2,379.1 277.0,375.6 277.8,371.6 278.1,370.1 278.6,371.8 279.4,374.2 280.2,377.3 281.0,379.4 282.0,382.6 282.6,383.4 283.4,385.1 284.2,385.5 285.0,385.9 286.0,387.1 286.6,386.5 287.4,386.4 288.2,386.0 289.0,386.0 289.8,385.6 290.6,386.1 291.4,386.3 292.2,386.7 293.0,385.6 293.8,385.7 294.6,386.2 295.4,385.7 296.1,384.5 297.0,385.3 297.8,385.5 298.6,386.0 299.4,386.4 300.2,386.0 301.0,387.2 301.8,387.8 302.6,387.7 303.4,387.3 304.2,387.5 305.0,389.2 305.8,388.5 306.2,387.8 306.6,387.2 307.4,387.5 308.2,388.2 309.0,388.9 309.8,388.2 310.6,388.6 311.4,388.6 312.2,388.5 313.0,388.9 313.8,389.8 314.6,390.0 315.4,390.0 316.2,390.0 317.0,388.6 317.7,389.3 318.6,388.6 319.4,388.8 320.2,388.8 321.0,389.3 321.8,389.2 322.6,388.8 323.4,389.3 324.2,389.0 325.0,389.4 325.8,389.0 326.6,389.7 327.4,388.7 328.2,387.8 329.0,388.5 329.8,388.7 330.6,389.6 331.4,389.3 332.2,389.4 333.0,388.8 333.8,388.7 334.6,388.8 335.4,388.5 336.2,388.2" fill="none" stroke="#bcbd22" stroke-width="2.3" stroke-linejoin="round" stroke-linecap="butt"/>
<polyline points="96.2,399.8 97.0,398.8 97.8,400.0 98.6,399.5 99.4,399.2 100.2,399.0 101.0,399.3 101.8,399.5 102.6,399.6 103.4,399.8 104.2,399.5 105.0,399.3 105.8,398.8 106.6,399.0 107.4,398.9 108.2,399.8 109.0,399.3 109.8,399.0 110.6,398.9 111.4,398.6 112.2,397.8 113.0,398.0 113.8,398.9 114.6,398.5 115.4,398.6 116.2,398.4 117.0,398.0 117.8,398.5 118.6,398.6 119.4,399.2 120.2,399.1 121.0,398.1 121.8,398.2 122.6,398.9 123.4,398.8 124.2,399.2 125.0,398.9 125.8,398.6 126.6,398.7 127.4,398.8 128.2,399.1 129.0,398.7 129.8,398.7 130.6,398.6 131.4,398.8 132.2,399.3 133.0,398.9 133.8,398.8 134.6,399.0 135.4,398.8 136.2,398.3 137.0,399.4 137.8,398.6 138.6,398.0 139.4,398.3 140.2,398.9 141.0,398.9 141.8,398.7 142.6,399.0 143.4,398.7 144.2,398.5 145.0,398.3 145.8,398.2 146.6,398.9 147.4,398.9 148.2,399.1 149.0,399.4 149.8,399.0 150.6,398.8 151.4,398.9 152.2,399.6 153.0,399.3 153.8,399.4 154.6,399.2 155.4,398.5 156.2,398.8 157.0,398.6 157.8,398.2 158.6,398.5 159.4,398.2 160.2,399.6 161.0,399.4 161.8,399.4 162.6,398.5 163.4,398.3 164.2,398.8 165.0,398.3 165.8,399.3 166.6,399.1 167.4,399.1 168.2,399.4 169.0,399.4 169.8,399.6 170.6,398.7 171.4,398.5 172.2,398.7 173.0,398.3 173.8,397.6 174.6,397.4 175.4,397.7 176.2,398.0 177.0,398.0 177.8,398.7 178.6,398.4 179.4,397.6 180.2,398.4 181.0,398.7 181.8,397.6 182.6,397.4 183.4,397.2 184.2,397.2 185.2,397.8 185.8,396.6 186.6,394.0 187.4,391.9 188.2,389.5 189.0,387.8 189.6,386.5 190.6,384.0 191.4,382.2 192.2,380.3 192.9,378.5 193.8,379.0 194.6,378.8 195.4,378.5 196.2,378.1 197.0,379.1 198.0,379.2 198.6,380.2 199.4,380.9 200.2,381.7 201.1,383.2 201.8,382.4 202.6,381.0 203.4,381.6 204.2,381.8 205.0,381.1 205.4,379.6 205.8,380.2 206.6,381.5 207.4,382.1 208.2,382.1 209.0,382.5 209.5,383.0 209.8,383.3 210.6,385.0 211.4,385.2 212.2,385.6 213.0,386.6 213.8,387.2 214.6,387.6 215.4,388.1 216.2,389.0 217.0,390.3 217.9,390.5 218.6,390.8 219.4,391.9 220.2,392.0 221.0,392.1 221.8,392.1 222.6,392.1 223.4,393.8 224.2,393.1 225.0,393.2 226.0,394.0 226.6,394.5 227.4,394.0 228.2,394.3 229.0,394.6 229.8,395.4 230.6,395.3 231.4,395.1 232.2,394.5 233.0,394.4 233.8,395.1 234.6,394.8 235.4,395.5 236.2,396.2 237.0,395.4 237.8,395.6 238.6,395.0 239.4,394.5 240.2,396.3 241.0,396.4 241.8,396.8 242.8,396.7 243.4,395.9 244.2,396.4 245.0,396.6 245.8,396.5 246.6,396.5 247.4,397.4 248.2,396.7 249.0,396.3 249.8,396.2 250.6,396.9 251.4,397.3 252.2,398.3 253.0,398.5 253.8,398.4 254.4,397.6 255.4,396.5 256.2,398.6 257.0,398.6 257.8,397.5 258.7,397.3 259.4,395.2 260.2,392.1 261.0,388.0 262.0,384.3 262.6,381.6 263.4,378.4 264.2,373.9 265.0,369.6 265.4,367.7 265.8,366.4 266.8,363.4 267.4,366.6 268.2,368.4 269.0,370.9 269.5,373.5 269.8,375.0 270.6,378.0 271.4,381.3 272.2,383.3 273.0,386.5 273.6,389.0 274.6,389.4 275.4,389.8 276.2,390.3 277.0,390.1 277.8,390.7 278.6,391.3 279.6,391.7 280.2,392.0 281.0,392.0 281.8,392.7 282.6,393.6 283.4,393.2 284.2,393.2 285.0,393.5 285.8,394.8 286.6,394.6 287.4,394.9 288.2,395.0 289.0,395.1 289.4,394.8 289.8,395.5 290.6,395.0 291.4,394.7 292.2,395.3 293.0,394.7 293.8,394.5 294.6,394.1 295.4,393.5 296.1,394.1 297.0,393.9 297.8,393.9 298.6,394.6 299.4,394.8 300.2,394.5 301.0,395.4 301.8,395.4 302.6,395.4 303.4,395.7 304.2,395.1 305.0,396.2 305.8,396.6 306.6,396.7 307.4,396.4 308.2,396.5 309.0,396.5 309.3,398.1 309.8,398.9 310.6,397.5 311.4,397.3 312.2,397.9 313.0,397.7 313.8,397.5 314.6,397.6 315.4,397.9 316.2,397.9 317.0,398.6 317.8,398.7 318.6,398.1 319.4,398.0 320.2,397.9 321.0,398.8 321.8,398.3 322.6,398.0 323.4,399.1 324.2,399.5 325.0,399.9 325.8,399.5 326.6,399.3 327.4,399.1 328.2,398.2 329.0,399.2 329.8,399.1 330.6,399.0 331.4,399.2 332.2,399.3 333.0,398.9 333.8,398.8 334.6,399.0 335.4,398.9 336.2,398.6" fill="none" stroke="#17becf" stroke-width="2.3" stroke-linejoin="round" stroke-linecap="butt"/>
<line x1="96.2" y1="80.8" x2="96.2" y2="425.3" stroke="#000" stroke-width="1.2"/>
<line x1="90.9" y1="393.8" x2="96.2" y2="393.8" stroke="#000" stroke-width="1.2"/>
<text x="85.2" y="399.7" font-size="15.3" text-anchor="end" fill="#000">0</text>
<line x1="90.9" y1="332.2" x2="96.2" y2="332.2" stroke="#000" stroke-width="1.2"/>
<text x="85.2" y="338.1" font-size="15.3" text-anchor="end" fill="#000">100</text>
<line x1="90.9" y1="270.6" x2="96.2" y2="270.6" stroke="#000" stroke-width="1.2"/>
<text x="85.2" y="276.5" font-size="15.3" text-anchor="end" fill="#000">200</text>
<line x1="90.9" y1="209.0" x2="96.2" y2="209.0" stroke="#000" stroke-width="1.2"/>
<text x="85.2" y="214.9" font-size="15.3" text-anchor="end" fill="#000">300</text>
<line x1="90.9" y1="147.4" x2="96.2" y2="147.4" stroke="#000" stroke-width="1.2"/>
<text x="85.2" y="153.3" font-size="15.3" text-anchor="end" fill="#000">400</text>
<line x1="90.9" y1="85.8" x2="96.2" y2="85.8" stroke="#000" stroke-width="1.2"/>
<text x="85.2" y="91.7" font-size="15.3" text-anchor="end" fill="#000">500</text>
<text x="216.0" y="71.2" font-size="18.3" text-anchor="middle" fill="#000">soma roi 1</text>
<text x="48.4" y="253.0" font-size="15.3" text-anchor="middle" fill="#000" transform="rotate(-90 48.4 253.0)">ΔF/F (%)</text>
<polyline points="384.4,278.4 385.2,276.5 386.0,277.1 386.8,278.0 387.6,277.9 388.4,278.3 389.2,278.5 390.0,278.4 390.8,279.0 391.6,278.5 392.4,278.7 393.2,278.4 394.0,278.9 394.8,278.6 395.6,278.4 396.4,279.7 397.2,279.1 397.8,280.7 398.8,280.8 399.6,280.2 400.4,280.6 401.2,279.6 402.0,280.6 402.8,279.7 403.7,280.3 404.5,280.8 405.3,279.7 406.1,278.6 406.9,279.8 407.7,279.7 408.5,279.5 409.3,280.2 410.1,279.5 410.9,278.5 411.7,280.1 412.5,280.2 413.3,278.3 414.1,279.0 414.9,279.3 415.7,279.8 416.5,279.7 417.3,279.5 418.1,278.6 418.9,279.6 419.7,279.3 420.5,280.0 421.3,281.5 422.1,281.2 422.9,279.7 423.7,278.7 424.5,277.8 425.3,278.0 426.1,279.0 426.9,279.4 427.7,278.6 428.5,278.6 429.3,279.4 430.1,280.6 430.9,280.0 431.7,280.1 432.5,279.2 433.4,278.3 434.1,279.3 434.9,279.2 435.7,279.2 436.5,278.6 437.3,279.1 438.1,279.6 438.9,279.0 439.7,278.2 440.6,278.9 441.4,278.9 442.2,279.7 443.0,278.3 443.8,278.5 444.6,279.4 445.4,279.2 446.2,279.3 447.0,278.3 447.8,278.8 448.6,279.1 449.4,277.4 450.2,278.3 451.0,278.6 451.8,279.9 452.6,279.3 453.4,278.5 454.2,278.9 455.0,279.1 455.8,279.6 456.6,278.7 457.4,277.9 458.2,278.2 459.0,277.9 460.0,278.2 460.6,277.8 461.4,278.1 462.2,277.8 463.0,277.4 463.8,276.1 464.6,277.0 465.4,277.6 466.2,276.9 467.0,276.8 467.8,276.4 468.6,277.2 469.4,276.7 470.2,276.2 471.0,275.5 471.8,274.9 472.5,275.2 473.4,274.7 474.2,274.8 475.0,273.2 475.8,272.0 476.6,272.2 477.4,271.8 478.3,270.6 479.1,270.6 479.7,270.8 480.7,270.3 481.5,270.1 482.3,269.9 483.1,268.5 483.9,268.9 484.7,268.9 485.5,268.7 486.3,268.2 486.6,268.4 487.1,267.3 487.9,265.8 488.7,265.5 489.5,265.1 490.3,264.2 491.1,264.2 491.9,262.6 492.7,260.8 493.5,260.7 493.8,260.3 494.3,259.3 495.1,258.2 495.9,258.0 496.7,255.8 497.5,255.3 498.3,253.9 498.9,252.6 499.9,255.1 500.7,256.6 501.5,256.5 502.3,258.7 503.1,261.6 503.9,263.2 504.4,263.8 504.7,264.2 505.5,265.0 506.3,266.5 507.1,268.1 507.9,270.1 508.7,270.6 509.7,272.1 510.3,273.6 511.1,275.0 511.9,274.9 512.7,275.5 513.5,276.3 514.2,277.1 515.2,276.6 516.0,276.6 516.8,275.5 517.6,275.5 518.4,275.1 519.2,275.8 519.5,275.1 520.0,275.4 520.8,274.9 521.6,275.7 522.4,277.1 523.2,277.3 524.0,276.8 524.8,276.5 525.6,276.2 526.4,276.1 527.2,277.6 528.0,277.2 528.8,277.2 529.6,277.9 530.4,278.3 531.2,279.1 532.0,279.6 532.8,279.7 533.6,279.6 533.9,280.1 534.4,279.2 535.2,279.3 536.0,278.6 536.8,277.6 537.6,276.5 538.4,277.8 539.2,276.2 540.0,274.9 540.8,275.5 541.6,275.9 542.4,275.4 543.2,274.0 544.0,273.4 544.8,274.5 545.6,273.0 546.4,272.1 547.2,272.1 548.1,272.5 548.8,271.1 549.6,269.4 550.4,270.2 551.2,269.9 552.0,270.0 552.9,270.7 553.7,269.5 554.5,270.0 555.3,270.1 556.1,269.8 556.9,268.0 557.7,268.3 558.5,267.1 559.3,269.0 560.1,268.9 560.6,267.7 560.9,266.8 561.7,268.8 562.5,269.4 563.3,269.2 564.1,268.9 564.9,269.4 565.8,270.5 566.5,270.2 567.3,271.4 568.1,272.4 568.9,272.3 569.7,272.3 570.5,273.2 571.3,273.1 572.1,274.0 572.9,274.4 573.7,275.0 574.5,274.7 575.3,273.8 576.4,273.5 576.9,274.0 577.7,275.0 578.5,274.6 579.3,274.6 580.1,275.1 580.9,275.7 581.7,276.2 582.5,275.5 583.3,276.3 584.1,277.4 584.9,276.4 585.7,275.0 586.5,276.5 587.3,276.0 588.1,276.4 588.9,276.9 589.7,275.4 590.6,275.6 591.4,275.2 592.2,273.3 593.0,273.5 593.8,272.5 594.2,270.5 594.6,270.2 595.4,270.4 596.2,268.4 597.0,267.1 597.8,266.4 598.7,266.1 599.4,267.6 600.2,269.0 601.0,270.6 601.4,272.3 601.8,272.3 602.6,272.9 603.4,272.4 604.2,274.3 605.0,273.9 605.8,275.1 606.6,275.0 607.4,275.8 608.2,274.8 609.0,274.8 609.8,275.0 610.6,276.4 611.4,277.1 612.2,276.5 613.0,277.2 613.8,277.1 614.6,277.2 615.4,276.9 616.2,277.5 617.0,277.3 617.8,276.7 618.6,275.9 619.4,276.0 620.2,276.2 621.0,275.4 621.8,274.8 622.6,274.4 623.4,274.6" fill="none" stroke="#1f77b4" stroke-width="2.3" stroke-linejoin="round" stroke-linecap="butt"/>
<polyline points="384.4,287.2 385.2,287.4 386.0,286.5 386.8,286.9 387.6,287.5 388.4,287.0 389.2,287.5 390.0,287.5 390.8,287.6 391.6,287.6 392.4,287.5 393.2,286.4 394.0,285.6 394.8,286.7 395.6,286.3 396.4,287.0 397.2,286.4 398.0,285.4 398.8,286.3 399.6,285.8 400.4,286.7 401.2,286.7 402.0,284.4 402.8,285.4 403.7,285.7 404.5,286.4 405.3,286.4 406.1,286.4 406.9,285.5 407.7,285.0 408.5,284.9 409.3,285.1 410.1,285.7 410.9,285.3 411.7,285.4 412.0,285.7 412.5,285.6 413.3,286.2 414.1,286.5 414.9,286.5 415.7,285.2 416.5,285.3 417.3,285.6 418.1,285.5 418.9,285.1 419.7,285.8 420.5,286.8 421.3,287.9 422.1,286.5 422.9,286.7 423.7,285.7 424.5,286.9 425.3,286.8 426.1,286.4 426.9,286.8 427.7,287.5 428.5,287.6 429.3,288.1 430.1,287.6 430.9,287.3 431.7,286.6 432.5,287.7 433.3,287.9 434.1,288.4 434.9,288.4 435.7,288.2 436.5,288.2 437.3,287.3 438.1,287.8 438.9,287.4 439.7,288.3 440.6,289.8 441.4,288.5 442.2,287.5 443.0,287.8 443.8,288.8 444.6,288.7 445.4,287.6 446.2,288.0 447.0,288.6 447.8,288.6 448.6,288.5 449.4,288.7 450.2,288.6 451.0,288.1 451.8,289.1 452.6,288.9 453.4,288.9 454.2,289.1 455.0,287.8 455.8,287.8 456.6,287.7 457.4,289.5 458.2,289.0 459.0,287.8 459.8,288.1 460.6,288.3 461.4,288.6 462.2,288.2 463.0,287.6 463.8,288.0 464.6,288.2 465.4,289.0 466.2,288.1 467.0,288.4 467.8,287.9 468.6,287.8 469.4,287.9 470.2,287.8 471.0,287.7 471.8,288.6 472.5,289.3 473.4,288.6 474.2,287.4 475.0,286.4 475.8,286.1 476.6,286.0 477.0,285.0 477.4,284.1 478.3,282.2 479.1,280.4 479.9,277.8 480.7,275.7 481.4,274.8 482.3,273.7 483.1,273.6 483.9,273.5 484.7,272.5 485.5,271.4 486.4,271.2 487.1,271.3 487.9,271.4 488.7,272.0 489.5,275.7 490.3,275.9 491.1,276.3 491.9,277.2 492.7,276.9 493.5,277.3 494.3,277.5 495.1,278.3 495.5,278.3 495.9,277.7 496.7,277.3 497.5,276.7 498.2,274.5 499.1,276.0 499.9,277.0 500.7,277.6 501.5,278.7 502.3,281.1 502.7,280.5 503.1,280.9 503.9,282.7 504.7,282.9 505.5,284.4 506.3,284.2 507.1,284.9 507.9,287.0 508.7,287.7 509.7,287.7 510.3,288.0 511.1,288.2 511.9,289.1 512.7,289.5 513.5,290.2 514.2,289.2 515.2,288.6 516.0,287.8 516.8,287.9 517.6,288.7 518.4,288.8 519.2,289.3 520.0,288.7 520.8,288.2 521.6,288.9 522.4,288.4 523.2,289.6 524.0,289.3 524.8,288.6 525.6,289.2 526.4,288.4 527.2,288.4 528.0,288.9 528.8,289.1 529.6,287.8 530.4,288.4 531.2,289.8 532.0,289.1 532.8,288.6 533.6,289.5 534.4,288.8 535.2,288.6 536.0,287.9 536.8,288.0 537.6,288.8 538.4,287.8 539.2,288.2 540.0,288.8 540.8,288.5 541.6,287.9 542.4,287.5 543.2,288.1 544.0,288.6 544.8,287.8 545.6,288.0 546.4,287.4 547.2,287.8 548.0,287.8 548.8,288.3 549.6,287.6 550.4,286.3 551.2,285.9 552.0,285.9 552.9,286.8 553.4,287.3 553.7,287.7 554.5,287.1 555.3,287.0 556.1,287.4 556.9,286.6 557.7,286.8 558.5,286.0 559.3,286.4 560.1,286.6 560.9,288.1 561.7,289.0 562.5,287.6 563.3,286.3 564.1,286.9 564.9,286.3 565.7,287.2 566.5,288.0 567.3,288.1 568.1,287.5 568.9,288.3 569.7,288.2 570.5,287.8 571.1,287.9 572.1,288.2 572.9,288.7 573.7,287.6 574.5,287.2 575.3,287.6 576.1,288.0 576.9,287.6 577.7,288.3 578.5,288.4 579.3,289.0 580.1,288.2 580.9,288.3 581.7,288.0 582.5,287.8 583.3,288.6 584.1,288.0 584.9,287.2 585.7,288.9 586.5,288.6 587.3,288.8 588.1,289.2 588.9,288.5 589.7,288.6 590.6,288.9 591.4,288.5 592.2,288.3 593.0,288.4 593.8,287.7 594.6,286.8 595.4,287.0 596.2,288.4 597.0,288.9 597.8,288.6 598.6,288.6 599.4,288.7 600.2,287.8 601.0,286.9 601.8,288.7 602.6,290.1 603.4,289.2 604.2,289.5 605.0,288.9 605.8,289.7 606.6,290.0 607.4,289.0 608.2,288.5 609.0,289.6 609.8,289.2 610.6,288.7 611.4,288.8 612.2,288.8 613.0,288.8 613.8,289.5 614.6,290.1 615.4,289.5 616.2,289.3 617.0,288.2 617.8,287.1 618.6,288.4 619.4,288.7 620.2,287.7 621.0,288.6 621.8,288.9 622.6,288.4 623.4,288.3" fill="none" stroke="#ff7f0e" stroke-width="2.3" stroke-linejoin="round" stroke-linecap="butt"/>
<polyline points="384.4,310.2 385.2,310.3 386.0,310.2 386.8,309.6 387.6,309.8 388.4,309.2 389.2,309.5 390.0,309.6 390.8,310.2 391.6,309.7 392.4,309.1 393.2,309.5 394.0,308.9 394.8,309.9 395.6,309.6 396.4,310.1 397.2,310.7 398.0,309.7 398.8,308.9 399.6,310.2 400.4,311.2 401.2,310.4 402.0,310.1 402.8,309.7 403.7,310.7 404.5,310.4 405.3,310.2 406.1,310.2 406.9,310.2 407.7,310.8 408.5,310.8 409.3,310.1 410.1,308.8 410.9,310.1 411.7,311.1 412.5,310.7 413.3,309.8 414.1,309.5 414.9,310.0 415.6,309.9 416.5,310.7 417.3,310.8 418.1,309.5 418.9,309.7 419.7,309.5 420.5,309.3 421.3,309.4 422.1,309.4 422.9,308.7 423.7,308.2 424.5,308.3 425.3,308.7 426.1,307.6 426.9,307.1 427.7,306.8 428.5,306.4 429.3,305.7 429.8,307.3 430.1,306.9 430.9,305.8 431.7,306.3 432.5,306.7 433.3,305.4 434.1,304.7 434.9,306.0 435.7,305.7 436.5,305.5 437.3,305.6 438.1,304.4 438.9,303.3 439.7,303.4 440.6,302.7 441.3,303.0 442.2,303.3 443.0,303.1 443.8,304.0 444.6,305.0 445.4,303.2 446.2,302.0 447.0,301.8 447.8,301.6 448.6,303.8 449.4,304.0 450.2,305.0 451.0,305.1 451.8,305.0 452.6,304.2 453.4,305.0 454.2,305.8 454.7,305.9 455.8,306.9 456.6,306.8 457.4,305.6 458.2,306.7 459.0,306.9 459.8,306.2 460.6,307.0 461.4,308.2 462.2,309.5 463.0,309.0 463.6,309.4 464.6,309.1 465.4,309.6 466.2,309.7 467.0,310.7 467.8,311.2 468.6,310.9 469.4,311.5 469.8,311.9 470.2,310.0 471.0,308.5 471.8,307.9 472.6,307.1 473.4,306.0 474.2,304.3 475.0,303.1 475.8,301.2 476.6,300.9 477.4,301.5 478.3,300.3 479.1,298.7 479.9,298.4 480.7,296.4 481.4,296.9 482.3,297.2 483.1,295.5 483.9,295.2 484.7,294.6 485.5,295.2 486.3,296.0 487.1,295.6 487.9,295.0 488.7,294.5 489.5,294.6 490.2,294.0 491.1,292.0 491.9,291.0 492.7,291.6 493.5,289.7 494.3,289.0 494.8,287.2 495.1,287.4 495.9,285.9 496.7,282.9 497.4,280.6 498.3,282.9 499.1,285.5 499.9,287.9 500.8,290.9 501.5,292.5 502.3,295.1 503.1,297.6 503.9,299.4 504.4,300.7 504.7,299.9 505.5,300.6 506.3,300.8 507.1,301.0 507.9,300.8 508.7,302.2 509.5,301.7 510.3,301.9 510.9,302.5 511.9,302.1 512.7,303.0 513.5,302.5 514.3,302.1 515.2,303.4 516.0,303.7 516.8,303.5 517.6,303.3 518.4,303.2 519.2,303.2 520.0,303.6 520.8,303.7 521.6,303.9 522.4,303.6 523.2,303.4 524.0,302.5 525.0,302.8 525.6,304.3 526.4,303.9 527.2,303.7 528.0,303.1 528.8,303.1 529.6,303.6 530.4,305.2 531.2,306.0 532.0,305.9 532.8,306.1 533.6,305.2 534.4,305.3 535.2,306.5 535.6,306.8 536.0,306.3 536.8,305.3 537.6,306.2 538.4,304.6 539.2,303.8 540.0,303.5 540.8,303.2 541.6,303.0 542.4,303.5 543.2,303.7 544.0,303.9 544.5,303.0 544.8,301.8 545.6,300.4 546.4,298.9 547.2,298.1 548.0,296.6 548.8,295.0 549.8,294.3 550.4,294.5 551.2,294.9 552.0,294.2 552.9,292.6 553.7,292.8 554.5,293.6 555.3,292.4 556.1,293.1 556.9,293.0 557.7,294.3 558.5,294.5 559.3,294.2 560.1,295.0 560.6,295.6 560.9,295.1 561.7,295.8 562.5,297.5 563.3,297.6 564.1,297.5 564.9,297.5 565.7,298.9 566.5,300.1 567.3,299.4 568.1,299.8 568.9,299.8 569.7,301.7 570.5,300.2 571.1,301.9 572.1,303.5 572.9,302.6 573.7,302.4 574.5,303.4 575.3,303.5 576.1,304.5 576.9,304.3 577.7,305.4 578.5,305.5 579.3,305.2 580.0,306.3 580.9,305.3 581.7,303.9 582.5,301.8 583.3,301.0 584.1,299.2 584.6,298.5 584.9,298.5 585.7,296.1 586.5,294.4 587.3,294.2 588.1,293.7 588.9,291.9 589.7,292.3 590.6,291.1 591.4,290.0 592.2,289.8 593.0,289.7 593.4,288.2 593.8,287.3 594.6,285.5 595.4,283.0 596.1,282.0 597.0,284.5 597.8,288.1 598.6,289.4 599.4,292.0 599.7,292.3 600.2,293.7 601.0,293.9 601.8,295.1 602.6,295.6 603.0,295.9 603.4,296.9 604.2,298.2 605.0,298.2 605.8,299.1 606.6,299.2 607.4,300.2 608.2,301.0 609.0,301.2 609.8,301.0 610.6,301.5 611.4,301.7 611.9,302.4 612.2,301.8 613.0,303.3 613.8,303.1 614.6,303.5 615.4,302.7 616.2,302.0 617.0,302.7 617.4,302.5 617.8,302.6 618.6,302.6 619.4,302.0 620.2,302.2 621.0,302.2 621.8,302.0 622.6,301.6 623.4,302.5" fill="none" stroke="#2ca02c" stroke-width="2.3" stroke-linejoin="round" stroke-linecap="butt"/>
<polyline points="384.4,317.7 385.2,317.0 386.0,316.2 386.8,317.7 387.6,317.2 388.4,317.3 389.2,317.2 390.0,317.9 390.8,317.0 391.6,317.3 392.4,317.8 393.2,317.3 394.0,317.3 394.8,316.0 395.6,316.4 396.4,317.0 397.2,317.8 398.0,318.1 398.8,317.7 399.6,318.1 400.4,319.2 401.2,318.4 402.0,317.7 402.8,317.9 403.7,317.7 404.5,318.5 405.3,318.7 406.1,319.3 406.7,318.8 407.7,318.6 408.5,318.5 409.3,318.1 410.1,318.8 410.9,319.2 411.7,318.9 412.5,318.5 413.3,319.2 414.1,318.1 414.9,318.7 415.7,319.6 416.5,318.6 417.3,319.0 418.1,319.4 418.9,320.0 419.7,320.9 420.5,319.0 421.3,319.4 422.1,320.0 422.8,320.0 423.7,319.7 424.5,319.7 425.3,320.9 426.1,321.6 426.9,319.6 427.7,321.2 428.5,320.9 429.3,321.4 430.1,320.2 430.9,321.1 431.7,320.5 432.5,319.5 433.3,319.4 434.1,318.8 434.9,317.7 435.7,317.6 436.5,318.0 437.3,317.7 438.1,317.0 438.9,315.7 439.6,317.1 440.6,316.8 441.4,316.1 442.2,318.0 443.0,318.0 443.8,317.3 444.6,316.4 445.4,316.9 446.2,316.7 447.0,316.5 447.8,318.2 448.6,318.5 449.4,318.9 450.2,317.7 451.1,318.2 451.8,318.1 452.6,319.3 453.4,318.9 454.2,318.6 455.0,318.0 455.8,316.9 456.6,318.0 457.4,318.3 458.2,318.5 459.0,317.3 459.8,317.7 460.6,317.2 461.4,317.9 462.2,318.9 463.0,318.1 463.8,318.4 464.6,318.3 465.4,317.7 466.2,318.3 467.0,319.3 467.8,318.0 468.9,318.4 469.4,318.1 470.2,318.6 471.0,318.2 471.8,319.0 472.6,319.5 473.4,318.9 474.2,319.2 475.0,318.7 475.8,318.4 476.6,317.4 477.4,317.7 478.3,318.4 479.1,319.6 479.7,318.5 480.7,318.0 481.5,317.9 482.3,316.3 483.1,314.3 483.9,313.6 484.7,312.8 485.0,311.6 485.5,310.5 486.3,310.1 487.1,308.8 487.9,307.8 488.7,307.1 489.5,306.5 490.2,305.6 491.1,306.5 491.9,304.7 492.7,305.2 493.5,306.8 494.3,307.4 495.1,306.6 495.5,305.7 495.9,306.1 496.7,306.4 497.5,306.6 498.3,305.3 499.1,305.3 499.9,305.7 500.7,306.0 501.5,306.1 502.3,305.4 503.1,304.6 503.9,304.7 504.4,305.2 504.7,304.9 505.5,306.7 506.3,308.5 507.3,309.8 507.9,311.7 508.7,312.1 509.5,312.3 510.3,312.4 511.1,311.6 511.9,311.5 512.7,313.4 513.5,313.6 514.3,314.2 515.2,314.6 516.0,315.5 516.8,314.8 517.8,316.0 518.4,316.6 519.2,316.0 520.0,316.6 520.8,316.4 521.6,316.7 522.4,315.8 523.2,317.2 524.0,317.5 524.8,317.1 525.6,317.1 526.4,315.9 527.2,316.8 528.0,317.1 528.8,316.5 529.6,317.4 530.4,317.1 531.2,316.2 532.0,316.9 532.8,316.9 533.6,316.3 534.4,316.2 535.2,316.6 536.0,317.2 536.8,316.8 537.6,317.8 538.4,317.4 539.2,316.6 540.0,318.3 540.8,318.3 541.6,317.4 542.4,317.3 543.2,316.5 544.0,317.2 544.5,318.5 544.8,318.1 545.6,317.2 546.4,316.7 547.2,314.6 548.0,314.0 548.8,313.8 549.6,315.0 550.4,315.3 551.2,315.3 552.0,315.5 552.9,314.3 553.4,313.4 553.7,313.0 554.5,313.1 555.3,313.3 556.1,313.0 556.9,312.3 557.7,312.1 558.5,312.4 559.3,312.0 560.1,310.9 560.9,309.8 561.7,310.3 562.5,310.1 563.2,309.1 564.1,309.1 564.9,309.6 565.7,309.8 566.5,310.2 567.3,310.7 568.1,312.1 568.9,312.3 569.7,312.8 570.5,314.1 571.1,313.4 572.1,313.7 572.9,313.3 573.7,313.9 574.5,313.6 575.3,314.1 576.1,315.3 576.9,314.4 577.7,314.0 578.5,314.7 579.3,315.4 580.0,315.3 580.9,314.3 581.7,313.2 582.5,312.6 583.3,313.0 584.1,312.1 584.9,311.5 585.7,312.0 586.5,312.1 587.3,311.9 588.1,311.0 588.9,310.7 589.7,309.5 590.6,306.4 591.4,306.6 592.2,305.9 593.0,304.8 593.8,305.4 594.2,303.8 594.6,303.7 595.4,305.8 596.2,308.4 597.0,309.0 597.8,310.6 598.6,310.1 599.4,311.8 600.2,312.0 601.0,312.1 601.8,312.1 602.6,313.7 603.4,314.2 604.2,314.3 605.0,315.4 605.8,315.1 606.6,315.5 607.4,315.5 608.2,315.9 609.0,315.4 609.8,316.6 610.6,317.4 611.4,317.5 612.2,318.0 613.0,319.3 613.8,320.9 614.6,319.4 615.4,318.5 616.2,317.5 617.0,316.9 617.8,316.3 618.6,315.1 619.1,315.1 619.4,313.7 620.2,312.3 621.0,310.9 621.8,308.3 622.6,306.7 623.4,304.2" fill="none" stroke="#d62728" stroke-width="2.3" stroke-linejoin="round" stroke-linecap="butt"/>
<polyline points="384.4,321.9 385.2,321.3 386.0,321.4 386.8,321.1 387.6,320.7 388.4,322.2 389.2,321.8 390.0,322.4 390.8,322.0 391.6,321.6 392.4,321.1 393.2,321.0 394.0,321.9 394.8,322.4 395.6,323.0 396.4,322.2 397.2,322.6 398.0,322.7 398.8,322.9 399.6,322.9 400.4,324.3 401.2,325.1 402.0,324.0 403.1,324.3 403.7,324.6 404.5,325.0 405.3,324.1 406.1,323.7 406.9,325.8 407.7,325.6 408.5,325.2 409.3,324.9 410.1,327.0 410.9,326.7 411.7,325.8 412.5,326.4 413.3,327.0 414.1,328.2 414.9,327.7 415.7,327.9 416.5,326.9 417.3,327.6 418.1,328.5 418.9,328.8 419.2,327.5 419.7,329.0 420.5,329.0 421.3,329.0 422.1,329.6 422.9,329.8 423.7,329.2 424.5,329.5 425.3,330.0 426.1,330.0 426.9,330.6 427.7,330.4 428.5,330.6 429.3,330.4 429.8,332.0 430.1,331.9 430.9,332.1 431.7,331.4 432.5,331.5 433.3,331.1 434.1,329.8 434.9,329.8 435.7,330.1 436.5,330.7 437.3,331.1 438.1,330.1 438.9,329.0 439.7,329.2 440.6,330.6 441.4,330.0 442.2,328.7 443.0,329.7 443.8,329.9 444.2,330.2 444.6,330.4 445.4,330.0 446.2,328.3 447.0,328.8 447.8,330.2 448.6,330.2 449.4,331.7 450.2,330.0 451.0,329.1 451.8,329.2 452.6,329.6 453.4,330.8 454.2,331.4 454.7,330.4 455.8,330.5 456.6,329.7 457.4,330.2 458.2,330.4 459.0,329.5 459.8,329.6 460.6,329.4 461.4,330.5 462.2,329.9 463.0,329.5 463.8,328.5 464.6,330.0 465.4,330.0 466.2,329.0 467.0,328.7 467.8,328.9 468.9,329.9 469.4,330.1 470.2,329.4 471.0,328.2 471.8,327.7 472.6,327.5 473.4,329.5 474.2,329.1 475.0,328.1 475.8,328.8 476.6,327.6 477.4,327.3 478.3,328.0 479.1,327.6 479.9,327.6 480.7,327.3 481.4,327.3 482.3,326.1 483.1,326.0 483.9,325.5 484.7,325.7 485.5,325.9 486.3,326.5 487.1,325.0 487.9,325.6 488.7,325.6 489.5,325.5 490.3,325.2 491.1,324.7 491.9,324.2 492.7,324.9 493.5,324.2 493.8,322.8 494.3,323.4 495.1,323.6 495.9,323.2 496.7,322.6 497.5,321.5 498.3,320.4 499.1,320.4 499.9,320.1 500.7,319.5 501.5,318.5 502.3,316.7 502.7,318.2 503.1,317.8 503.9,317.3 504.7,316.4 505.5,313.8 506.3,314.2 507.1,314.1 507.9,315.0 508.7,315.4 509.5,315.8 510.3,316.0 511.1,317.1 511.9,317.6 512.7,317.4 513.5,317.0 514.2,317.4 515.2,319.2 516.0,319.7 516.8,320.3 517.6,319.3 518.4,318.1 519.2,318.1 520.0,319.7 520.8,319.7 521.6,319.5 522.4,320.8 523.2,320.3 524.0,320.1 524.8,319.1 525.6,319.8 526.4,320.7 526.7,321.2 527.2,320.1 528.0,320.7 528.8,321.9 529.6,321.1 530.4,320.2 531.2,320.0 532.0,321.4 532.8,319.9 533.6,321.1 534.4,321.4 535.2,321.4 536.0,320.8 536.8,321.6 537.6,321.8 538.4,319.1 539.2,320.7 540.0,321.3 540.8,322.8 541.6,321.9 542.4,322.3 543.2,321.7 544.0,322.0 544.5,322.6 544.8,322.0 545.6,319.9 546.4,320.7 547.2,321.5 548.0,321.7 548.8,321.8 549.6,319.8 550.4,320.9 551.2,320.8 552.0,321.6 552.9,321.3 553.7,321.4 554.5,322.5 555.3,321.5 556.1,321.3 557.0,321.2 557.7,320.0 558.5,318.6 559.3,316.6 560.1,316.3 560.9,316.0 561.7,314.4 562.2,314.6 563.3,315.6 564.1,316.6 564.9,317.7 565.7,318.3 566.5,318.8 567.5,320.1 568.1,320.3 568.9,322.1 569.7,322.4 570.5,322.4 571.3,322.3 572.1,321.8 572.9,322.6 573.7,324.0 574.5,324.8 575.3,324.5 576.4,324.7 576.9,325.2 577.7,325.1 578.5,325.4 579.3,324.8 580.1,325.0 580.9,325.4 581.7,326.3 582.5,324.8 583.3,325.5 584.1,325.0 584.9,325.0 585.7,325.7 586.5,325.9 587.3,325.3 588.1,325.8 588.9,326.0 589.7,324.6 590.6,323.2 591.4,322.5 592.2,322.3 593.0,322.5 593.8,321.2 594.6,320.5 595.4,320.8 596.2,321.4 597.0,319.9 597.8,319.2 598.6,320.3 599.4,319.9 600.2,319.6 601.0,320.3 601.8,321.2 602.6,321.3 603.4,320.7 604.2,322.7 605.0,323.7 605.8,323.4 606.6,323.8 607.4,325.8 608.2,325.5 609.0,324.4 609.8,324.8 610.6,327.1 611.4,328.1 611.9,326.5 612.2,325.8 613.0,325.7 613.8,326.3 614.6,325.8 615.4,325.5 616.2,325.2 617.0,325.6 617.8,325.8 618.6,325.1 619.1,324.5 619.4,323.6 620.2,322.9 621.0,323.5 621.8,322.1 622.6,321.4 623.4,322.0" fill="none" stroke="#9467bd" stroke-width="2.3" stroke-linejoin="round" stroke-linecap="butt"/>
<polyline points="384.4,340.4 385.2,340.0 386.0,340.0 386.8,339.3 387.6,339.2 388.4,340.2 389.2,339.4 390.0,338.2 390.8,337.6 391.6,338.8 392.4,338.3 393.2,338.2 393.5,338.4 394.0,338.3 394.8,338.1 395.6,338.7 396.4,338.4 397.2,337.7 398.0,338.2 398.8,338.7 399.6,339.3 400.4,338.7 401.2,339.0 402.0,340.0 402.8,340.2 403.7,339.9 404.5,340.4 405.3,340.7 406.1,339.4 406.7,340.9 407.7,341.1 408.5,341.5 409.3,341.5 410.1,340.3 410.9,340.5 411.7,340.8 412.5,341.1 413.3,340.8 414.1,340.6 414.9,340.5 415.7,341.3 416.5,341.6 417.3,340.9 418.1,340.6 418.9,341.8 419.7,341.1 420.5,341.1 421.3,340.8 422.1,341.2 422.9,341.3 423.7,340.9 424.5,340.9 425.3,341.1 426.1,341.3 426.9,340.8 427.7,341.3 428.5,342.3 429.3,343.0 430.1,341.5 430.9,340.0 431.7,340.6 432.5,341.7 433.4,341.0 434.1,342.0 434.9,341.8 435.7,342.1 436.5,341.4 437.3,340.6 438.1,340.8 438.9,341.1 439.7,341.4 440.6,341.7 441.4,341.5 442.2,342.0 443.0,342.2 443.8,341.9 444.6,341.2 445.4,341.0 446.2,341.6 447.0,341.7 447.8,341.7 448.6,341.9 449.4,342.7 450.2,343.6 451.0,343.1 451.8,342.6 452.6,342.8 453.4,342.4 454.2,342.4 455.0,342.6 455.8,342.1 456.6,342.5 457.4,342.8 458.2,341.7 459.0,342.3 460.0,342.7 460.6,341.8 461.4,342.1 462.2,342.2 463.0,342.4 463.8,341.5 464.6,341.7 465.4,342.2 466.2,341.5 467.0,341.6 467.8,341.2 468.6,341.2 469.4,341.2 470.2,341.9 471.0,340.7 471.8,340.3 472.6,340.8 473.4,340.0 474.2,340.8 475.0,339.5 475.8,339.5 476.6,340.2 477.4,339.7 478.3,339.3 479.1,338.8 479.7,339.7 480.7,339.9 481.5,339.2 482.3,339.2 483.1,339.3 483.9,339.5 484.7,338.8 485.5,337.0 486.3,337.5 487.1,337.5 487.9,336.7 488.7,337.1 489.5,337.2 490.2,336.2 491.1,335.9 491.9,336.4 492.7,335.8 493.5,336.2 494.3,335.8 495.1,334.1 495.9,334.0 496.7,333.8 497.4,333.2 498.3,332.6 499.1,333.1 499.9,332.4 500.7,331.8 501.5,331.2 502.3,331.0 502.7,330.7 503.1,330.6 503.9,331.1 504.7,332.1 505.5,331.0 506.3,331.4 507.3,332.4 507.9,332.5 508.7,333.1 509.5,333.0 510.3,333.3 511.1,334.2 511.9,333.3 512.7,333.3 513.5,333.8 514.3,333.8 515.2,333.9 516.0,335.1 516.8,336.3 517.8,336.7 518.4,336.2 519.2,335.2 520.0,335.6 520.8,337.1 521.6,337.9 522.4,337.0 523.2,337.0 524.0,337.2 524.8,337.1 525.6,337.4 526.4,337.7 527.2,337.8 528.0,337.2 528.8,337.6 529.6,338.6 530.4,338.0 531.2,337.9 532.0,338.3 532.8,338.0 533.6,338.0 534.4,338.5 535.2,338.6 536.0,338.7 536.8,339.7 537.6,339.8 538.4,340.2 539.2,339.5 540.0,339.8 540.8,340.8 541.6,340.9 542.4,341.8 542.8,341.6 543.2,341.1 544.0,340.9 544.8,341.4 545.6,339.7 546.4,339.9 547.2,340.7 548.0,340.8 548.8,339.5 549.6,338.6 550.4,338.5 551.2,339.1 552.0,339.8 552.9,338.5 553.4,337.3 553.7,337.6 554.5,336.4 555.3,336.7 556.1,337.9 556.9,337.7 557.7,336.9 558.5,337.8 559.3,337.7 560.1,336.6 560.9,336.6 561.7,336.2 562.5,336.8 563.3,337.3 564.1,336.5 564.9,335.6 565.8,335.9 566.5,335.2 567.3,335.4 568.1,336.5 568.9,336.3 569.7,336.3 570.5,336.5 571.3,337.1 572.1,337.0 572.9,338.7 573.7,337.1 574.5,336.8 575.3,338.1 576.4,338.3 576.9,338.2 577.7,339.3 578.5,339.0 579.3,337.2 580.1,337.4 580.9,337.0 581.7,336.4 582.5,337.7 583.3,337.2 584.1,337.1 584.9,336.7 585.7,336.3 586.5,337.2 587.3,336.3 588.1,335.6 588.9,335.3 589.7,336.5 590.6,336.1 591.4,335.3 592.2,336.5 592.5,336.9 593.0,336.0 593.8,336.6 594.6,336.4 595.4,336.6 596.2,335.7 597.0,335.5 597.8,336.0 598.6,335.4 599.4,334.6 599.7,334.1 600.2,334.8 601.0,335.2 601.8,333.7 602.6,334.6 603.4,334.3 604.2,334.8 605.0,335.7 605.8,335.8 606.6,337.6 607.4,337.9 608.2,336.6 609.0,335.4 609.8,336.0 610.6,335.6 611.4,335.5 612.2,336.6 613.0,336.9 613.8,337.0 614.6,336.5 615.4,337.2 616.2,337.2 617.0,336.6 617.8,337.0 618.6,335.0 619.4,334.8 620.2,335.0 620.8,335.6 621.8,334.4 622.6,333.3 623.4,332.9" fill="none" stroke="#8c564b" stroke-width="2.3" stroke-linejoin="round" stroke-linecap="butt"/>
<polyline points="384.4,347.5 385.2,348.6 386.0,347.2 386.8,347.2 387.6,346.7 388.4,346.3 389.2,346.7 390.0,347.8 390.8,348.3 391.6,347.6 392.4,347.2 393.2,346.9 394.0,348.0 394.8,348.1 395.6,347.8 396.4,346.8 397.2,346.7 398.0,346.3 398.8,347.6 399.6,348.8 400.4,348.0 401.2,346.7 402.0,348.2 402.8,348.8 403.7,349.0 404.5,348.2 405.3,348.1 406.1,349.5 406.9,348.9 407.7,348.1 408.5,348.9 409.3,347.7 410.1,346.7 410.9,348.2 411.7,348.8 412.5,348.5 413.3,348.7 414.1,348.2 414.9,348.2 415.6,348.9 416.5,349.3 417.3,348.3 418.1,348.5 418.9,348.3 419.7,347.3 420.5,347.2 421.3,348.1 422.1,349.0 422.9,349.4 423.7,347.8 424.5,347.5 425.3,346.8 426.1,346.6 426.9,347.1 427.7,346.1 428.5,347.2 429.3,347.4 430.1,346.7 430.9,345.7 431.7,346.0 432.5,347.5 433.3,348.0 434.1,346.6 434.9,346.7 435.7,347.8 436.5,347.3 437.0,346.0 437.3,345.8 438.1,345.8 438.9,345.8 439.7,347.5 440.6,346.7 441.4,346.2 442.2,345.0 443.0,343.9 443.8,344.5 444.6,343.9 445.4,343.6 446.2,344.2 447.0,343.7 447.5,343.4 448.6,343.3 449.4,342.8 450.2,343.8 451.0,343.0 451.8,343.5 452.6,344.1 453.4,344.6 454.2,344.6 455.0,344.1 455.8,346.0 456.4,344.8 457.4,344.6 458.2,345.1 459.0,345.3 459.8,345.6 460.6,345.8 461.4,344.9 462.2,345.1 463.0,345.8 463.8,345.9 464.6,345.4 465.4,345.1 466.2,345.4 467.0,346.1 467.8,345.9 468.6,345.9 469.4,344.8 470.2,345.3 471.0,347.4 471.8,347.5 472.5,346.8 473.4,347.1 474.2,345.2 475.0,345.6 475.8,345.9 476.6,344.3 477.4,344.8 478.3,345.6 479.1,344.3 479.9,345.0 480.7,345.8 481.5,345.2 482.3,344.0 483.1,343.9 483.9,344.3 484.7,344.6 485.0,343.9 485.5,342.2 486.3,342.4 487.1,341.8 487.9,342.1 488.7,341.5 489.5,340.9 490.3,341.5 491.1,341.0 491.9,341.6 492.7,341.1 493.5,340.3 493.8,341.1 494.3,339.2 495.1,338.3 495.9,338.6 496.7,336.1 497.5,335.9 498.2,334.9 499.1,333.1 500.1,329.4 500.7,331.4 501.5,335.7 502.3,337.8 502.7,338.0 503.1,339.4 503.9,339.9 504.7,339.4 505.5,340.0 506.3,340.9 507.1,341.5 507.9,342.1 508.7,343.5 509.5,343.2 510.3,343.3 510.9,344.2 511.9,344.0 512.7,343.9 513.5,344.2 514.3,343.6 515.2,344.5 516.0,344.7 516.8,344.1 517.6,345.0 518.4,345.2 519.2,345.6 520.0,346.5 520.8,345.9 521.6,344.8 522.4,345.2 523.2,346.1 524.0,345.5 524.8,346.3 525.6,346.8 526.4,344.9 526.7,345.9 527.2,346.2 528.0,346.3 528.8,346.1 529.6,345.7 530.4,346.4 531.2,347.6 532.0,347.1 532.8,346.2 533.6,346.6 534.4,347.2 535.2,346.3 536.0,345.6 536.8,346.6 537.6,346.6 538.4,346.0 539.2,346.5 540.0,345.7 540.8,346.8 541.6,347.9 542.4,347.9 543.2,347.1 544.0,346.7 544.5,347.4 544.8,346.9 545.6,348.2 546.4,348.4 547.2,346.9 548.0,347.0 548.8,347.3 549.6,345.9 550.4,346.2 551.2,345.9 552.0,346.3 552.9,346.2 553.7,345.5 554.5,344.9 555.3,346.6 556.1,346.6 556.9,345.0 557.7,345.1 558.5,344.8 559.3,345.5 560.1,345.0 560.9,345.6 561.7,345.4 562.2,344.7 563.3,344.5 564.1,344.5 564.9,344.7 565.7,345.6 566.5,344.3 567.3,343.5 568.1,344.4 568.9,344.8 569.7,344.9 570.5,343.3 571.3,344.3 572.1,344.4 572.9,344.1 573.7,344.0 574.5,342.8 575.3,344.1 576.1,344.1 576.9,344.8 577.7,344.3 578.5,344.4 579.3,343.3 580.0,344.7 580.9,344.4 581.7,344.1 582.5,344.2 583.3,343.8 584.1,344.2 584.9,344.5 585.7,344.9 586.5,345.0 587.3,345.3 588.1,345.1 588.9,344.8 589.7,344.0 590.6,342.6 591.4,340.1 592.2,337.8 592.5,336.2 593.0,334.8 593.8,331.3 594.6,326.7 595.6,321.5 596.2,324.4 597.0,328.5 597.8,333.9 598.6,334.0 599.4,334.6 600.2,335.6 601.0,336.2 601.8,337.2 602.6,338.4 603.0,338.8 603.4,339.8 604.2,340.1 605.0,339.1 605.8,339.3 606.6,341.1 607.4,342.1 608.2,342.2 609.0,344.2 609.8,344.9 610.6,345.7 611.2,345.3 612.2,344.3 613.0,344.2 613.8,342.5 614.6,342.6 615.4,344.1 616.2,342.6 617.0,343.1 617.4,341.9 617.8,342.1 618.6,343.8 619.4,341.5 620.2,341.0 621.0,342.1 621.8,341.8 622.6,341.9 623.4,341.3" fill="none" stroke="#e377c2" stroke-width="2.3" stroke-linejoin="round" stroke-linecap="butt"/>
<polyline points="384.4,362.8 385.2,361.6 386.0,362.5 386.8,361.9 387.6,360.7 388.4,359.9 389.2,361.4 390.0,361.5 390.8,361.7 391.6,361.7 392.4,362.3 393.2,361.8 394.0,362.4 394.8,361.5 395.6,361.5 396.4,363.2 397.2,362.1 398.0,362.6 398.8,362.1 399.6,361.8 400.4,362.0 401.2,362.2 402.0,363.0 402.8,363.5 403.7,363.5 404.5,362.8 405.3,362.6 406.1,363.2 406.7,363.1 407.7,362.1 408.5,362.3 409.3,362.4 410.1,363.1 410.9,364.0 411.7,363.5 412.5,363.0 413.3,363.4 414.1,363.5 414.9,362.7 415.7,363.4 416.5,364.1 417.3,363.8 418.1,364.0 418.9,364.9 419.7,364.2 420.5,365.1 421.3,364.0 422.1,363.7 422.9,362.1 423.7,362.3 424.5,362.9 425.3,364.6 426.1,365.2 426.9,364.1 427.7,364.3 428.5,364.8 429.3,365.0 430.1,365.1 430.9,364.3 431.7,364.6 432.5,365.0 433.4,365.9 434.1,365.1 434.9,365.1 435.7,365.1 436.5,365.4 437.3,366.0 438.1,365.1 438.9,365.4 439.7,367.0 440.6,365.8 441.4,365.5 442.2,366.6 443.0,366.9 443.8,366.8 444.6,366.1 445.4,364.9 446.2,365.0 447.0,366.0 447.8,365.6 448.6,364.9 449.4,365.6 450.2,365.4 451.1,365.8 451.8,366.5 452.6,366.9 453.4,367.2 454.2,366.7 455.0,365.0 455.8,366.7 456.6,367.6 457.4,367.1 458.2,366.2 459.0,366.1 459.8,366.3 460.6,365.3 461.4,365.4 462.2,365.2 463.0,366.3 463.6,367.2 464.6,365.8 465.4,365.7 466.2,366.9 467.0,366.7 467.8,366.9 468.6,366.6 469.4,366.7 470.2,366.2 471.0,365.1 471.8,365.8 472.5,365.3 473.4,364.0 474.2,362.5 475.0,362.5 475.8,362.8 476.6,362.5 477.4,361.9 478.3,360.4 479.1,359.1 479.7,357.4 480.7,357.1 481.5,358.2 482.3,357.4 483.1,356.2 483.9,356.3 484.7,356.2 485.5,355.8 486.3,355.4 486.6,354.7 487.1,355.1 487.9,355.2 488.7,353.9 489.5,352.1 490.3,351.6 491.1,352.0 491.9,351.7 492.7,352.0 493.5,351.3 493.8,351.1 494.3,351.0 495.1,348.0 495.9,344.8 496.5,343.1 497.5,330.9 498.3,320.4 498.9,312.0 499.9,294.2 500.8,278.7 501.5,275.0 502.0,273.1 502.3,275.4 503.1,281.7 503.9,290.0 504.4,294.1 504.7,295.8 505.5,302.5 506.3,308.9 507.1,313.6 508.0,320.3 508.7,324.8 509.5,329.5 510.3,335.0 511.1,338.9 511.6,342.6 511.9,344.1 512.7,345.4 513.5,347.7 514.3,349.1 515.2,350.6 516.2,354.2 516.8,355.0 517.6,354.9 518.4,356.0 519.2,358.3 520.0,358.8 520.8,360.1 521.6,360.7 522.4,361.4 523.1,360.3 524.0,360.5 524.8,361.8 525.6,362.5 526.4,363.1 527.2,364.6 528.0,363.8 528.8,363.8 529.6,364.9 530.4,364.0 531.2,364.9 532.0,365.2 532.8,365.8 533.6,366.5 533.9,366.1 534.4,367.4 535.2,365.9 536.0,366.7 536.8,366.2 537.6,367.1 538.4,366.7 539.2,366.9 540.0,367.9 540.8,366.6 541.6,366.9 542.4,365.7 543.2,366.3 544.0,367.0 544.8,366.8 545.6,366.6 546.4,367.6 547.2,367.4 548.0,366.6 548.8,366.4 549.6,366.5 550.4,365.5 551.2,365.1 552.0,365.2 552.9,365.2 553.7,365.2 554.5,364.4 555.3,363.6 556.1,363.3 556.9,363.5 557.7,362.4 558.5,360.5 559.3,360.2 560.1,359.5 560.9,359.6 561.7,357.5 562.7,357.1 563.3,357.6 564.1,358.7 564.9,359.0 565.7,360.7 566.5,360.9 567.5,362.0 568.1,361.7 568.9,361.9 569.7,361.8 570.5,362.5 571.3,362.4 572.1,362.4 572.9,362.9 573.7,362.2 574.5,361.2 575.3,362.0 576.4,363.0 576.9,361.2 577.7,361.2 578.5,362.4 579.3,361.6 580.1,362.1 580.9,361.7 581.7,361.6 582.5,361.9 583.3,362.1 584.1,362.4 584.9,362.0 585.7,360.2 586.5,360.2 587.3,360.8 588.1,361.7 588.9,361.9 589.7,362.1 590.6,361.6 591.4,361.7 592.2,360.2 593.0,360.6 593.8,359.6 594.6,359.9 595.4,359.0 596.1,358.7 597.0,360.0 597.8,361.1 598.6,360.9 599.4,360.6 600.2,360.7 601.0,362.0 601.4,361.7 601.8,361.1 602.6,361.4 603.4,361.1 604.2,361.7 605.0,362.7 605.8,361.4 606.6,361.4 607.4,361.7 608.2,362.0 609.0,363.2 609.8,362.9 610.6,363.0 611.4,363.3 612.2,361.9 613.0,361.0 613.8,361.7 614.6,361.0 615.4,361.0 616.2,360.6 617.0,360.2 617.8,360.6 618.6,359.3 619.4,359.8 620.2,359.8 620.8,358.7 621.8,356.5 622.6,354.9 623.4,353.2" fill="none" stroke="#7f7f7f" stroke-width="2.3" stroke-linejoin="round" stroke-linecap="butt"/>
<polyline points="384.4,378.6 385.2,377.6 386.0,376.4 386.8,375.2 387.6,374.3 388.0,373.6 388.4,373.1 389.2,373.7 390.0,372.8 390.8,371.6 391.6,372.4 392.4,372.5 393.2,373.2 394.0,374.9 394.8,375.9 395.6,377.0 396.4,376.4 397.2,377.1 397.8,377.5 398.8,378.4 399.6,378.1 400.4,379.5 401.2,378.6 402.0,379.1 402.8,379.0 403.7,378.8 404.5,379.4 405.3,380.4 406.1,381.3 406.7,380.9 407.7,381.1 408.5,381.1 409.3,382.0 410.1,382.3 410.9,382.5 411.7,382.0 412.5,382.2 413.3,382.7 414.1,383.0 414.9,382.2 415.7,382.4 416.5,383.8 417.3,382.8 418.1,382.7 418.9,381.6 419.7,381.8 420.5,381.8 421.3,384.0 422.1,384.2 422.9,383.3 423.7,383.2 424.5,382.7 425.3,383.4 426.1,382.3 426.9,382.9 427.7,382.6 428.5,382.4 429.3,382.8 430.1,381.8 430.9,381.8 431.7,381.9 432.5,383.0 433.3,383.9 434.1,383.3 434.9,382.1 435.7,382.9 436.5,381.7 437.3,382.0 438.1,383.0 438.9,382.9 439.7,382.2 440.6,382.0 441.4,381.9 442.2,380.9 443.0,381.9 443.8,382.4 444.6,383.9 445.4,382.0 446.2,382.8 447.0,382.1 447.8,382.4 448.6,382.1 449.4,381.4 450.2,381.4 451.1,382.0 451.8,381.7 452.6,381.1 453.4,380.6 454.2,381.3 455.0,381.6 455.8,381.6 456.6,380.7 457.4,380.7 458.2,380.8 459.0,381.5 459.8,382.5 460.6,381.1 461.4,380.1 462.2,380.3 463.0,381.2 463.8,381.5 464.6,381.7 465.4,382.5 466.2,382.3 467.0,383.2 467.8,382.7 468.6,381.6 469.4,382.4 470.2,381.9 471.0,382.0 471.8,382.0 472.5,382.0 473.4,381.2 474.2,382.9 475.0,382.4 475.8,382.9 476.6,383.3 477.4,383.3 478.3,383.1 479.1,383.7 479.9,384.7 480.7,385.5 481.4,384.7 482.3,384.3 483.1,383.5 483.9,382.0 484.7,381.6 485.5,381.3 486.3,380.9 487.1,379.9 487.9,378.9 488.7,379.1 489.5,377.6 490.2,377.1 491.1,376.9 491.9,375.9 492.7,375.9 493.5,375.1 494.3,375.0 495.1,374.6 495.9,374.3 496.7,373.6 497.5,374.0 498.2,372.6 499.1,373.9 499.9,375.2 500.7,374.8 501.5,375.5 502.3,377.3 503.1,377.0 503.9,376.3 504.4,377.6 504.7,378.4 505.5,378.6 506.3,377.7 507.1,378.7 507.9,379.4 508.7,378.8 509.5,378.8 510.3,379.5 510.9,380.7 511.9,380.3 512.7,379.9 513.5,379.9 514.3,378.7 515.2,379.4 516.0,378.5 516.8,377.8 517.6,377.9 518.4,377.1 519.2,376.6 519.5,376.1 520.0,376.8 520.8,376.8 521.6,376.0 522.4,377.0 523.2,377.8 524.0,376.9 524.8,378.0 525.6,377.8 526.4,376.9 527.2,377.7 528.0,377.2 528.8,377.4 529.6,377.8 530.4,376.7 531.2,377.5 532.0,377.9 532.8,377.0 533.6,376.4 534.4,377.1 535.2,378.6 535.6,377.9 536.0,377.3 536.8,378.2 537.6,378.0 538.4,378.1 539.2,378.7 540.0,379.4 540.8,379.9 541.6,380.0 542.4,381.2 543.2,380.4 544.0,380.5 544.5,381.7 544.8,381.2 545.6,380.4 546.4,381.1 547.2,381.0 548.0,380.0 548.8,379.8 549.6,380.9 550.4,380.4 551.2,378.9 552.0,378.6 552.9,379.3 553.7,378.8 554.5,379.0 555.3,379.7 556.1,379.6 556.9,379.1 557.7,378.6 558.5,378.5 559.3,378.4 560.1,377.6 560.9,376.9 561.7,377.1 562.2,375.8 563.3,377.2 564.1,377.5 564.9,378.1 565.7,378.4 566.5,378.9 567.3,378.0 568.1,377.2 568.9,377.6 569.7,378.2 570.5,377.6 571.3,378.5 572.1,378.0 572.9,377.7 573.7,377.5 574.5,378.2 575.3,377.8 576.1,378.7 576.9,377.9 577.7,380.1 578.5,379.6 579.3,378.1 580.0,378.2 580.9,378.0 581.7,378.6 582.5,378.5 583.3,378.4 584.1,378.4 584.9,379.8 585.7,379.7 586.5,379.8 587.3,379.7 588.1,378.6 588.9,378.4 589.7,379.3 590.6,379.6 591.4,379.0 592.2,378.4 593.0,378.6 593.8,378.7 594.6,379.2 595.4,379.8 596.2,378.6 597.0,378.1 597.8,378.2 598.6,378.4 599.4,378.2 600.2,378.2 601.0,378.8 601.8,379.1 602.6,378.3 603.4,378.3 604.2,379.0 605.0,378.3 605.8,377.9 606.6,378.3 607.4,378.0 608.2,375.5 609.0,376.7 609.8,376.7 610.2,376.3 610.6,376.8 611.4,377.2 612.2,377.0 613.0,377.0 613.8,376.7 614.6,377.4 615.4,376.4 616.2,377.0 617.0,376.8 617.8,376.5 618.6,376.8 619.1,374.9 619.4,374.9 620.2,375.0 621.0,375.8 621.8,374.8 622.6,373.9 623.4,373.2" fill="none" stroke="#bcbd22" stroke-width="2.3" stroke-linejoin="round" stroke-linecap="butt"/>
<polyline points="384.4,389.6 385.2,388.7 386.0,388.7 386.8,388.3 387.6,388.4 388.4,389.7 389.2,389.7 390.0,389.5 390.8,389.3 391.6,388.4 392.4,388.5 393.2,389.0 394.0,389.0 394.8,389.2 395.6,388.3 396.4,389.1 397.2,388.4 398.0,389.2 398.8,389.3 399.6,388.3 400.4,388.5 401.2,388.8 402.0,388.5 402.8,389.0 403.7,389.1 404.5,387.6 405.3,388.4 406.1,389.8 406.7,389.4 407.7,388.7 408.5,388.1 409.3,388.1 410.1,387.3 410.9,387.4 411.7,388.8 412.5,387.9 413.3,388.2 414.1,388.0 414.9,388.3 415.7,388.9 416.5,389.0 417.3,388.4 418.1,389.1 418.9,389.0 419.7,388.9 420.5,388.8 421.3,389.3 421.6,390.3 422.1,390.5 422.9,390.5 423.7,392.4 424.5,392.9 425.3,393.6 426.1,391.4 426.9,392.0 427.7,392.8 428.5,391.9 429.3,390.5 429.8,389.7 430.1,390.2 430.9,390.2 431.7,390.9 432.5,390.0 433.3,388.9 434.1,388.9 434.9,389.3 435.7,390.8 436.5,389.1 437.3,389.7 438.1,389.5 438.9,389.9 439.7,389.3 440.6,389.0 441.4,389.4 442.2,387.4 443.0,388.3 443.8,390.2 444.6,390.2 445.4,390.5 446.2,389.3 447.0,389.5 447.8,389.5 448.6,388.1 449.4,388.5 450.2,389.0 451.1,388.0 451.8,388.0 452.6,388.1 453.4,386.8 454.2,387.8 455.0,388.1 455.8,388.6 456.6,388.9 457.4,386.7 458.2,386.9 459.0,387.4 459.8,386.8 460.6,387.3 461.4,387.9 462.2,387.4 463.0,387.0 463.8,387.3 464.6,387.0 465.4,386.8 466.2,386.6 467.0,388.0 467.8,387.4 468.9,387.1 469.4,386.7 470.2,387.4 471.0,386.6 471.8,386.2 472.6,387.4 473.4,388.4 474.2,386.0 475.0,382.6 475.8,378.9 476.6,377.1 477.0,376.0 477.4,376.1 478.3,375.8 479.1,374.7 479.9,374.2 480.7,375.5 481.4,374.1 482.3,374.1 483.1,373.7 483.9,374.1 484.7,374.6 485.5,373.9 486.3,374.3 487.1,373.6 487.9,374.7 488.7,374.3 489.5,373.6 490.3,372.5 491.1,372.8 491.9,372.4 492.7,372.9 493.5,371.3 494.3,369.1 495.1,368.8 495.5,368.9 495.9,366.7 496.7,362.9 497.4,360.2 498.3,359.8 499.1,359.6 500.1,360.7 500.7,364.1 501.8,370.4 502.3,372.9 503.1,374.1 503.9,374.7 504.7,376.3 505.4,378.3 506.3,377.8 507.1,379.3 507.9,380.4 508.7,379.9 509.5,381.3 510.3,382.9 510.9,382.3 511.9,382.3 512.7,382.7 513.5,384.0 514.3,382.9 515.2,384.5 516.0,383.1 516.8,384.3 517.6,385.4 518.4,384.8 519.2,384.2 520.0,384.9 520.8,386.7 521.4,386.0 522.4,386.4 523.2,386.1 524.0,386.2 524.8,386.0 525.6,386.1 526.4,385.8 527.2,385.1 528.0,386.5 528.8,387.4 529.6,387.2 530.4,387.1 531.2,388.2 532.0,388.3 532.8,388.6 533.6,389.6 534.4,389.5 535.2,389.0 535.6,389.7 536.0,389.9 536.8,389.8 537.6,389.5 538.4,389.3 539.2,388.4 540.0,388.8 540.8,388.5 541.6,388.1 542.4,388.9 543.2,388.5 544.0,387.7 544.5,388.2 544.8,388.4 545.6,388.1 546.4,387.5 547.2,386.5 548.0,386.6 548.8,386.8 549.6,387.0 550.4,386.3 551.2,385.6 552.0,384.5 552.9,383.3 553.4,383.3 553.7,383.2 554.5,383.9 555.3,382.5 556.1,382.3 556.9,381.0 557.2,379.5 557.7,379.8 558.5,381.4 559.3,382.6 560.1,384.6 560.9,385.0 561.3,385.8 561.7,386.5 562.5,386.2 563.3,385.9 564.1,385.6 564.9,384.6 565.7,385.2 566.5,385.7 567.3,385.3 568.1,385.9 568.9,386.6 569.7,386.1 570.5,385.8 571.3,386.4 572.1,386.7 572.9,386.0 573.7,386.4 574.7,386.5 575.3,387.5 576.1,387.6 576.9,386.7 577.7,387.5 578.5,388.3 579.3,388.7 580.1,389.0 580.9,388.3 581.7,388.8 582.5,389.1 583.3,388.5 584.1,389.1 584.9,389.9 585.3,389.5 585.7,390.3 586.5,390.1 587.3,390.7 588.1,389.5 588.9,390.9 589.7,390.3 590.6,391.3 591.4,392.2 592.2,391.7 592.5,392.3 593.0,391.1 593.8,390.8 594.6,390.4 595.4,391.7 596.2,390.8 597.0,389.4 597.8,388.4 598.6,388.5 599.4,388.1 600.2,387.2 601.0,387.4 601.4,387.3 601.8,387.4 602.6,386.9 603.4,387.0 604.2,386.7 605.0,387.9 605.8,388.3 606.6,388.8 607.4,388.2 608.2,388.9 609.0,388.6 609.8,389.1 610.2,389.3 610.6,388.0 611.4,388.6 612.2,389.5 613.0,389.9 613.8,389.7 614.6,389.6 615.4,389.6 616.2,388.1 617.0,388.9 617.8,389.6 618.6,389.3 619.4,389.3 620.2,389.2 621.0,388.9 621.8,390.1 622.6,389.1 623.4,390.2" fill="none" stroke="#17becf" stroke-width="2.3" stroke-linejoin="round" stroke-linecap="butt"/>
<line x1="384.4" y1="80.8" x2="384.4" y2="425.3" stroke="#000" stroke-width="1.2"/>
<line x1="379.1" y1="388.0" x2="384.4" y2="388.0" stroke="#000" stroke-width="1.2"/>
<text x="373.4" y="393.9" font-size="15.3" text-anchor="end" fill="#000">0</text>
<line x1="379.1" y1="345.0" x2="384.4" y2="345.0" stroke="#000" stroke-width="1.2"/>
<text x="373.4" y="350.9" font-size="15.3" text-anchor="end" fill="#000">50</text>
<line x1="379.1" y1="302.0" x2="384.4" y2="302.0" stroke="#000" stroke-width="1.2"/>
<text x="373.4" y="307.9" font-size="15.3" text-anchor="end" fill="#000">100</text>
<line x1="379.1" y1="259.0" x2="384.4" y2="259.0" stroke="#000" stroke-width="1.2"/>
<text x="373.4" y="264.9" font-size="15.3" text-anchor="end" fill="#000">150</text>
<line x1="379.1" y1="216.0" x2="384.4" y2="216.0" stroke="#000" stroke-width="1.2"/>
<text x="373.4" y="221.9" font-size="15.3" text-anchor="end" fill="#000">200</text>
<line x1="379.1" y1="173.0" x2="384.4" y2="173.0" stroke="#000" stroke-width="1.2"/>
<text x="373.4" y="178.9" font-size="15.3" text-anchor="end" fill="#000">250</text>
<line x1="379.1" y1="130.0" x2="384.4" y2="130.0" stroke="#000" stroke-width="1.2"/>
<text x="373.4" y="135.9" font-size="15.3" text-anchor="end" fill="#000">300</text>
<line x1="379.1" y1="87.0" x2="384.4" y2="87.0" stroke="#000" stroke-width="1.2"/>
<text x="373.4" y="92.9" font-size="15.3" text-anchor="end" fill="#000">350</text>
<text x="504.5" y="71.2" font-size="18.3" text-anchor="middle" fill="#000">soma roi 2</text>
<polyline points="96.2,725.8 97.0,725.2 97.8,725.7 98.6,725.3 99.4,724.4 100.2,725.1 101.0,724.9 101.8,723.9 102.6,724.6 103.4,724.8 104.2,723.7 105.0,723.7 105.8,724.3 106.6,724.1 107.4,724.6 108.2,723.8 109.0,725.1 109.8,724.8 110.6,724.7 111.4,725.7 112.2,726.2 113.0,726.3 113.8,724.4 114.6,725.8 115.4,726.2 116.2,725.1 116.6,722.8 117.0,722.9 117.8,723.4 118.6,724.9 119.5,725.7 120.2,724.7 121.0,725.4 121.8,725.4 122.6,724.8 123.4,726.0 124.2,727.0 125.0,726.7 125.8,726.8 126.6,726.0 127.4,726.4 128.2,727.6 129.0,728.1 129.8,728.1 130.6,727.1 131.4,727.7 132.2,727.1 133.0,727.3 133.8,727.6 134.6,727.8 135.4,728.0 136.2,729.4 137.0,728.2 137.8,728.3 138.6,727.9 139.4,729.5 140.2,729.9 141.0,731.3 141.8,730.1 142.6,729.2 143.4,729.5 144.2,730.3 145.0,729.9 145.8,728.6 146.6,728.8 147.4,727.1 148.2,728.7 149.0,727.9 149.8,728.3 150.6,728.5 151.4,729.0 152.2,729.1 153.0,729.4 153.8,728.2 154.6,727.6 155.4,728.1 156.2,728.6 157.0,728.5 157.8,727.9 158.6,727.1 159.4,727.4 160.2,725.7 161.0,725.9 161.8,727.8 162.6,726.6 163.4,727.2 164.2,726.9 165.0,727.1 165.8,727.4 166.6,727.6 167.4,727.0 168.2,726.0 169.0,724.9 169.8,725.9 170.6,725.9 171.4,724.9 172.2,724.1 173.0,724.6 173.8,724.0 174.6,723.4 175.4,723.9 176.2,724.4 177.0,724.0 177.8,723.7 178.6,722.9 179.4,724.3 180.2,724.7 181.0,723.8 181.8,724.1 182.6,723.3 183.4,723.7 184.2,722.9 185.0,723.0 185.8,721.0 186.6,720.9 187.4,719.7 188.1,718.0 189.0,717.6 189.8,716.7 190.6,715.7 191.4,713.4 192.2,714.3 193.0,713.0 193.8,712.0 194.6,712.2 195.4,710.6 196.3,709.6 197.0,708.8 197.8,706.4 198.6,703.8 199.4,702.3 200.2,699.7 201.1,697.0 201.8,698.9 202.6,698.8 203.4,699.9 204.2,700.3 205.0,700.4 205.4,702.4 205.8,702.9 206.6,701.5 207.4,703.3 208.2,705.6 209.0,707.1 209.8,707.0 210.2,707.7 210.6,708.7 211.4,709.7 212.2,711.1 213.0,711.6 213.8,711.4 214.6,713.3 215.4,715.0 216.2,716.0 217.0,716.6 217.8,717.7 218.6,717.3 219.4,716.3 220.2,718.1 221.0,718.5 221.8,719.3 222.6,719.5 223.4,719.5 224.2,720.0 225.0,719.3 225.8,720.6 226.6,721.3 227.4,720.0 228.2,720.0 229.0,721.8 229.8,721.4 230.6,720.8 231.4,721.5 232.2,721.6 233.0,722.2 233.8,722.8 234.6,722.8 235.4,723.5 236.1,722.4 237.0,723.0 237.8,721.7 238.6,722.2 239.4,721.5 240.2,721.4 241.0,721.9 241.8,721.6 242.6,721.7 243.4,721.8 244.2,721.1 245.0,720.2 245.8,722.3 246.6,723.8 247.4,724.1 248.2,724.6 249.0,724.6 250.0,722.9 250.6,724.5 251.4,726.1 252.2,726.6 253.0,726.8 253.8,726.2 254.6,726.8 255.4,726.3 256.2,725.7 257.0,726.5 257.8,724.8 258.6,725.3 259.4,726.8 260.1,726.4 261.0,722.3 261.8,718.5 262.6,713.3 263.4,709.8 264.2,703.8 265.0,694.1 265.6,685.7 266.6,692.6 267.4,697.3 268.0,700.4 269.0,701.3 269.8,702.8 270.6,702.7 271.4,704.2 272.2,706.9 273.0,709.1 274.0,710.4 274.6,711.0 275.4,711.3 276.2,712.1 277.0,713.4 277.8,714.3 278.6,714.4 279.4,716.7 280.2,717.4 281.0,717.8 281.8,718.7 282.2,719.2 282.6,719.2 283.4,721.0 284.2,722.6 285.0,722.0 285.8,722.9 286.6,723.2 287.4,723.6 288.2,723.2 289.0,724.0 289.8,724.4 290.1,726.0 290.6,725.7 291.4,725.5 292.2,725.8 293.0,725.5 293.8,725.1 294.6,723.8 295.4,723.5 296.2,724.4 297.0,724.5 297.8,724.5 298.6,724.6 299.4,724.6 300.2,725.5 301.2,720.0 301.8,721.6 302.6,721.5 303.4,722.2 304.0,722.6 305.0,724.1 305.8,723.6 306.6,724.1 307.4,724.5 308.2,725.0 309.0,724.5 309.8,723.5 310.6,724.3 311.4,724.5 312.2,725.0 313.0,725.8 313.8,725.6 314.6,725.9 315.4,725.3 316.0,726.7 317.0,726.4 317.8,725.5 318.6,725.5 319.4,725.9 320.2,725.6 321.0,726.2 321.8,726.4 322.6,726.7 323.4,725.2 324.2,724.6 325.0,725.0 325.8,725.5 326.6,725.0 327.4,724.9 328.2,725.3 329.0,725.9 329.8,726.8 330.2,726.4 330.6,725.4 331.4,725.3 332.2,723.6 333.0,722.2 333.8,721.6 334.6,720.0 335.4,718.7 336.2,716.8" fill="none" stroke="#1f77b4" stroke-width="2.3" stroke-linejoin="round" stroke-linecap="butt"/>
<polyline points="96.2,738.3 97.0,739.9 97.8,738.6 98.6,737.5 99.4,738.6 100.2,737.6 101.0,737.9 101.8,737.9 102.6,737.9 103.4,739.4 104.2,739.7 105.0,738.9 105.8,740.2 106.6,738.5 107.4,738.1 108.2,738.2 109.0,738.0 109.8,738.1 110.6,738.4 111.4,739.2 112.2,739.2 113.0,739.3 113.8,738.9 114.6,739.0 115.4,739.1 116.2,739.1 117.0,738.3 117.8,740.4 118.6,739.0 119.4,738.4 120.2,738.5 121.0,738.2 121.8,740.0 122.6,738.9 123.4,739.2 124.2,739.9 125.0,738.9 125.8,738.4 126.6,738.5 127.4,738.6 128.2,739.0 129.0,739.5 129.8,737.9 130.6,738.6 131.4,738.7 132.2,738.0 133.0,736.8 133.8,737.8 134.6,738.6 135.4,740.0 136.2,739.6 137.0,738.5 137.8,739.1 138.6,738.3 139.4,738.7 140.2,738.6 141.0,739.6 141.8,738.4 142.6,737.8 143.4,737.8 144.2,737.2 145.0,737.6 145.8,738.0 146.6,738.0 147.4,737.3 148.2,737.0 149.0,736.6 149.8,737.1 150.6,738.1 151.4,737.0 152.2,737.3 153.0,738.3 153.3,737.9 153.8,736.3 154.6,733.6 155.0,733.8 155.4,733.9 156.2,735.3 156.7,737.2 157.0,737.6 157.8,736.3 158.6,736.5 159.4,736.8 160.2,737.8 161.0,736.3 161.8,735.0 162.6,736.4 163.4,736.7 164.2,735.4 165.0,735.6 165.8,735.5 166.6,735.3 167.4,735.2 168.2,735.2 169.0,735.0 169.8,735.5 170.6,735.2 171.4,736.0 172.2,735.4 173.0,734.5 173.8,734.6 174.6,734.9 175.4,734.6 176.2,732.4 177.0,730.6 177.8,730.0 178.6,729.1 179.4,727.9 180.2,726.8 181.0,726.5 181.8,724.0 182.6,721.8 183.4,720.7 184.3,720.0 185.0,714.0 185.8,707.9 186.6,702.3 187.4,695.4 188.1,688.3 189.0,669.6 189.8,650.3 190.6,634.2 191.4,618.2 192.2,603.3 193.2,585.0 193.8,565.4 194.8,536.7 195.4,531.3 196.2,525.8 197.0,521.1 197.8,515.1 198.4,510.1 199.4,522.3 200.2,533.6 201.1,544.1 201.8,557.4 202.8,572.9 203.4,581.9 204.2,589.5 205.0,596.4 205.4,600.8 205.8,602.5 206.6,605.4 207.4,608.2 208.3,612.8 209.0,619.4 209.8,627.9 210.6,636.4 211.4,645.4 212.2,651.9 213.0,657.0 213.8,664.8 214.6,670.5 215.4,678.1 216.2,684.5 217.0,688.8 217.8,692.4 218.6,698.3 219.4,702.7 220.2,705.4 221.0,710.0 221.8,713.3 222.6,715.2 223.4,717.8 224.2,719.7 225.0,720.4 225.8,723.9 226.6,723.3 227.4,724.7 228.2,726.1 229.2,726.5 229.8,726.8 230.6,727.7 231.4,727.3 232.2,727.4 233.0,727.8 233.8,728.9 234.6,730.0 235.4,729.8 236.1,730.1 237.0,730.2 237.8,729.8 238.6,731.2 239.4,731.0 240.2,731.6 241.0,732.2 241.8,732.1 242.6,731.2 243.4,732.7 244.0,732.5 245.0,731.2 245.8,731.9 246.6,731.6 247.4,730.9 248.2,731.6 249.0,730.7 249.8,730.6 250.6,731.0 251.4,731.0 252.2,731.9 253.0,731.9 253.8,731.4 254.6,730.6 255.4,730.7 256.0,730.3 257.0,730.7 257.8,729.6 258.6,729.1 259.4,727.9 260.2,729.1 261.0,727.2 261.8,727.6 262.6,727.2 263.4,727.5 264.2,726.8 265.0,726.7 265.8,727.8 266.1,727.2 266.6,727.3 267.4,728.6 268.2,728.8 269.0,729.4 269.8,730.4 270.6,730.0 271.4,731.8 272.1,732.1 273.0,731.5 273.8,730.9 274.6,731.3 275.4,731.7 276.2,732.2 277.0,731.6 277.8,731.7 278.6,732.2 279.4,732.3 280.2,733.0 281.0,732.9 281.8,732.9 282.6,733.2 283.4,733.9 284.2,734.4 285.0,734.3 285.8,733.7 286.6,733.0 287.4,733.6 288.2,733.9 289.0,734.2 289.8,733.7 290.6,733.9 291.4,734.9 292.2,734.1 293.0,733.7 293.8,733.4 294.6,734.3 295.4,734.1 296.2,734.6 297.0,735.8 297.8,735.2 298.6,733.8 299.4,733.7 300.2,734.2 301.0,734.7 301.8,734.8 302.6,734.6 303.4,734.7 304.2,735.0 305.0,733.9 305.8,734.1 306.6,734.9 307.4,735.2 308.2,735.7 309.0,736.2 309.8,734.7 310.6,735.1 311.4,735.4 312.2,736.5 313.0,737.3 313.8,735.6 314.6,736.1 315.4,736.8 316.0,737.2 317.0,736.4 317.8,736.8 318.6,736.0 319.4,737.3 320.2,737.0 321.0,737.3 321.8,736.9 322.6,737.2 323.4,738.0 324.2,737.4 325.0,736.5 325.8,737.1 326.6,738.2 327.4,738.0 328.2,737.5 329.0,736.4 329.8,737.4 330.6,738.0 331.4,738.9 332.1,738.7 333.0,737.3 333.8,736.2 334.6,735.2 335.4,735.2 336.2,734.9" fill="none" stroke="#ff7f0e" stroke-width="2.3" stroke-linejoin="round" stroke-linecap="butt"/>
<polyline points="96.2,749.3 97.0,749.6 97.8,749.3 98.6,750.1 99.4,748.7 100.2,750.9 101.0,750.8 101.8,749.9 102.6,750.1 103.4,750.2 104.2,750.0 105.0,749.5 105.8,748.9 106.6,748.8 107.4,749.3 108.2,750.5 109.0,749.9 109.8,749.8 110.6,750.8 111.4,749.2 112.2,748.7 113.0,749.8 113.8,748.5 114.6,749.4 115.4,749.2 116.2,749.1 117.0,748.1 117.8,748.7 118.6,748.4 119.4,747.7 120.2,747.5 121.0,748.3 121.8,749.1 122.6,750.2 123.4,749.0 124.2,748.5 125.0,749.2 125.8,749.2 126.6,749.0 127.4,748.5 128.2,748.5 129.0,748.0 129.8,748.9 130.6,749.3 131.4,749.6 132.2,749.1 133.0,750.3 133.8,748.5 134.6,749.4 135.4,749.9 136.2,750.3 137.0,749.3 137.8,750.3 138.6,750.9 139.4,751.7 140.2,751.2 141.0,751.2 141.8,751.7 142.6,750.3 143.4,750.4 144.2,750.8 145.0,750.1 145.8,748.5 146.6,749.6 147.4,750.6 148.2,750.1 149.0,749.3 149.8,749.5 150.6,749.8 151.4,750.3 152.2,750.2 153.0,749.4 153.8,749.0 154.6,749.3 155.4,749.2 156.2,748.3 157.0,747.8 157.8,749.0 158.6,750.0 159.4,748.9 160.2,750.3 161.0,748.6 161.8,748.0 162.6,748.9 163.4,748.3 164.2,747.8 165.0,747.2 165.8,747.1 166.6,747.6 167.4,748.9 168.2,748.3 169.0,748.2 169.8,749.7 170.6,748.1 171.4,747.6 172.2,748.8 173.0,748.1 173.8,748.3 174.6,748.1 175.4,748.0 176.1,748.1 177.0,747.7 177.8,747.4 178.6,746.8 179.4,745.4 180.2,745.7 181.0,746.0 181.8,744.5 182.6,744.9 183.4,743.7 184.3,744.2 185.0,743.6 185.8,743.1 186.6,741.1 187.4,740.1 188.2,738.5 189.0,737.9 189.8,736.4 190.6,735.6 191.4,734.0 192.2,733.2 193.0,730.8 193.8,730.7 194.1,731.5 194.6,729.6 195.4,727.4 196.2,726.3 197.0,725.8 197.8,725.3 198.6,721.3 199.4,719.3 200.2,718.8 201.0,718.3 201.8,716.4 202.3,716.9 202.6,715.5 203.4,712.8 204.2,710.8 205.0,709.5 205.8,707.9 206.6,707.1 207.4,704.9 208.2,702.8 209.0,700.9 209.8,697.9 210.2,697.5 210.6,698.7 211.4,701.6 212.2,703.1 213.0,705.2 213.8,708.6 214.3,709.6 214.6,712.0 215.4,714.1 216.2,717.3 217.0,718.2 217.8,720.0 218.6,723.4 219.4,727.0 220.3,730.2 221.0,731.0 221.8,731.9 222.6,732.3 223.4,734.4 224.2,734.7 225.0,734.9 225.8,735.6 226.6,736.3 227.4,738.7 228.2,738.1 229.0,738.2 229.8,738.6 230.6,739.6 231.4,740.2 232.2,741.0 233.0,740.2 233.8,740.8 234.6,741.4 235.4,740.8 236.1,741.2 237.0,742.4 237.8,742.7 238.6,742.8 239.4,742.8 240.2,743.2 241.0,743.0 241.8,742.9 242.6,744.3 243.4,745.9 244.0,744.8 245.0,744.3 245.8,742.5 246.6,741.8 247.4,741.3 248.2,739.3 249.0,739.1 250.0,738.8 250.6,738.6 251.4,737.3 252.2,737.2 253.0,736.7 253.8,736.0 254.6,736.4 255.4,735.2 256.0,734.1 257.0,725.4 257.8,717.4 258.4,708.6 259.4,676.9 260.1,651.3 261.0,638.7 261.8,629.3 262.6,618.6 263.2,610.2 264.2,617.1 265.0,623.0 265.8,628.2 266.1,632.1 266.6,636.5 267.4,643.8 268.2,652.2 269.0,658.8 269.8,665.9 270.2,669.9 270.6,672.7 271.4,680.5 272.2,685.6 273.0,690.7 274.0,700.1 274.6,703.7 275.4,708.7 276.2,712.8 277.0,716.8 277.8,721.8 278.1,724.2 278.6,725.0 279.4,726.9 280.2,730.4 281.0,731.6 281.8,732.0 282.6,732.9 283.4,736.2 284.1,738.4 285.0,738.8 285.8,739.9 286.6,741.1 287.4,741.3 288.2,742.2 289.0,744.4 289.8,745.2 290.1,746.3 290.6,745.4 291.4,744.5 292.2,745.1 293.0,745.6 293.8,743.8 294.6,744.9 295.4,745.9 296.2,744.6 297.0,744.8 297.8,744.8 298.6,745.6 299.4,744.4 300.2,743.4 301.0,745.0 301.8,745.4 302.6,744.9 303.4,743.8 304.0,743.2 305.0,743.1 305.8,743.9 306.6,745.0 307.4,744.5 308.2,743.8 309.0,744.3 309.8,744.3 310.6,743.6 311.4,745.3 312.2,745.5 313.0,745.0 313.8,745.7 314.6,745.3 315.4,745.7 316.0,745.8 317.0,745.3 317.8,744.4 318.6,746.0 319.4,746.4 320.2,745.4 321.0,747.0 321.8,745.9 322.6,744.0 323.4,745.8 324.2,745.3 325.0,743.4 325.8,743.9 326.6,743.8 327.4,743.7 328.0,744.6 329.0,743.9 329.8,741.8 330.6,740.8 331.4,740.0 332.2,739.5 333.0,738.1 333.8,736.9 334.6,735.0 335.4,735.1 336.2,734.5" fill="none" stroke="#2ca02c" stroke-width="2.3" stroke-linejoin="round" stroke-linecap="butt"/>
<polyline points="96.2,755.1 97.0,754.0 97.8,753.9 98.6,755.0 99.4,755.8 100.2,754.5 101.0,756.1 101.8,756.8 102.6,756.2 103.4,757.6 104.2,757.5 105.0,756.8 105.8,757.1 106.6,758.1 107.4,758.3 108.2,757.3 109.0,757.3 109.8,756.9 110.6,757.9 111.4,758.5 112.2,758.7 113.0,759.1 113.8,759.2 114.6,760.7 115.4,759.1 116.2,760.4 117.0,760.9 117.8,760.1 118.6,760.2 119.4,760.9 120.2,761.4 121.0,760.8 121.8,759.8 122.6,760.7 123.4,759.6 124.2,759.6 125.0,759.6 125.8,760.4 126.6,760.4 127.4,760.1 128.2,760.5 129.0,759.7 129.8,760.1 130.6,759.7 131.4,760.5 132.2,759.2 133.0,759.3 133.8,760.0 134.6,759.9 135.4,759.5 136.2,759.2 137.0,758.9 137.8,759.1 138.6,758.5 139.4,759.2 140.2,758.0 141.0,759.5 141.8,760.1 142.6,758.6 143.4,758.2 144.2,758.2 145.0,758.3 145.8,759.4 146.6,759.3 147.4,758.6 148.2,758.6 149.0,758.7 149.8,758.0 150.6,758.6 151.4,759.0 152.2,759.0 153.0,758.6 153.8,758.0 154.6,758.6 155.4,757.3 156.2,758.2 157.0,758.0 157.8,756.5 158.6,758.4 159.4,758.4 160.2,758.2 161.0,758.3 161.8,759.1 162.6,758.3 163.4,759.0 164.2,759.6 165.0,759.4 165.8,757.2 166.6,757.4 167.4,757.8 168.2,757.7 169.0,757.8 169.8,757.7 170.6,757.3 171.4,757.9 172.2,758.3 173.0,758.4 173.8,758.0 174.6,759.0 175.4,758.1 176.1,757.9 177.0,758.1 177.8,758.8 178.6,757.7 179.4,757.6 180.2,757.6 181.0,758.0 181.8,757.2 182.6,756.4 183.4,756.0 184.3,755.7 185.0,752.6 185.8,749.4 186.6,746.0 187.4,742.1 188.2,738.4 189.0,735.8 189.8,733.3 190.3,730.4 190.6,725.9 191.4,717.7 192.2,710.7 193.0,701.3 193.8,693.4 194.1,690.1 194.6,685.4 195.4,677.3 196.2,670.3 197.2,660.6 197.8,658.9 198.6,657.1 199.4,656.1 199.9,655.5 200.2,656.6 201.0,661.2 201.8,666.8 202.3,670.1 202.6,672.4 203.4,677.1 204.2,682.3 205.2,689.9 205.8,682.5 206.6,673.4 207.4,664.2 208.2,654.6 209.0,644.9 209.8,629.7 210.6,611.7 211.4,596.4 212.2,580.1 212.6,571.7 213.0,563.1 213.8,545.9 214.3,536.7 214.6,533.5 215.4,529.0 216.2,524.7 217.2,518.9 217.8,529.0 218.8,545.5 219.4,556.9 220.2,573.5 221.0,588.7 221.5,598.7 221.8,603.7 222.6,615.0 223.4,625.3 224.1,636.2 225.0,647.0 226.0,659.5 226.6,667.4 227.4,679.0 228.2,690.6 229.0,695.5 229.8,699.6 230.6,705.4 231.4,712.6 232.0,715.8 233.0,718.3 233.8,722.4 234.6,725.6 235.4,727.3 236.2,729.7 237.0,733.6 238.0,737.1 238.6,737.6 239.4,738.4 240.2,738.7 241.0,738.9 241.8,741.2 242.6,742.0 243.4,742.1 244.0,743.9 245.0,745.1 245.8,745.4 246.6,744.1 247.4,744.0 248.2,743.9 249.0,743.8 249.8,745.1 250.6,744.3 251.4,743.5 252.2,743.8 253.0,744.1 253.8,744.3 254.6,743.9 255.4,743.3 256.0,742.5 257.0,741.4 257.8,739.8 258.6,735.4 259.4,735.3 260.1,734.5 261.0,724.2 261.8,714.7 262.6,704.6 263.0,699.5 263.4,690.8 264.2,672.9 265.2,651.4 265.8,639.0 266.6,625.0 267.4,611.2 267.8,603.0 268.2,607.5 269.0,614.1 269.8,620.2 270.4,626.2 271.4,626.7 272.2,628.4 273.1,629.8 273.8,635.7 274.6,642.0 275.4,648.1 275.7,650.2 276.4,658.9 277.0,667.0 277.8,675.7 278.1,679.8 278.6,684.9 279.4,691.2 280.2,698.4 281.0,705.2 281.8,712.4 282.2,716.8 282.6,718.5 283.4,721.2 284.2,723.0 285.0,726.5 285.8,728.5 286.6,731.9 287.4,734.6 288.2,737.9 289.0,738.9 289.8,739.5 290.6,740.6 291.4,743.6 292.2,745.2 293.0,744.9 293.8,746.6 294.6,748.1 295.4,748.7 296.1,749.5 297.0,750.9 297.8,750.4 298.6,751.5 299.4,751.2 300.2,751.2 301.0,751.3 301.8,752.4 302.6,752.4 303.4,753.4 304.2,754.7 305.0,754.3 305.8,754.9 306.2,755.7 306.6,755.2 307.4,756.0 308.2,755.4 309.0,754.4 309.8,755.6 310.6,756.7 311.4,755.7 312.2,756.9 313.0,757.3 313.8,756.1 314.6,756.2 315.4,757.3 316.2,759.3 317.0,759.1 317.8,757.1 318.6,758.8 319.4,758.3 320.1,758.1 321.0,756.6 321.8,757.2 322.6,755.0 323.4,755.0 324.2,754.6 325.0,754.6 325.8,753.6 326.6,751.7 327.4,751.9 328.0,752.2 329.0,747.0 329.8,743.5 330.6,740.5 331.4,737.5 332.2,734.0 333.1,730.4 333.8,725.8 334.6,722.8 335.4,720.8 336.2,717.0" fill="none" stroke="#d62728" stroke-width="2.3" stroke-linejoin="round" stroke-linecap="butt"/>
<polyline points="96.2,762.7 97.0,763.0 97.8,762.3 98.6,761.2 99.4,761.6 100.2,761.3 101.0,758.9 101.8,758.3 102.6,757.9 103.4,756.8 104.2,756.0 105.0,757.2 105.8,757.6 106.6,757.2 107.4,757.0 108.2,758.4 109.0,758.8 109.8,756.9 110.6,757.0 111.4,757.1 112.2,757.3 113.0,757.9 113.8,758.6 114.6,758.2 115.5,759.2 116.3,759.7 117.1,759.0 117.9,759.3 118.7,759.1 119.5,759.5 120.2,759.5 121.1,759.4 121.9,758.5 122.7,758.4 123.5,759.5 124.3,759.8 125.1,760.3 125.9,761.3 126.7,762.2 127.5,761.5 128.3,761.3 129.1,762.0 129.9,763.7 130.7,764.2 131.5,763.0 132.2,764.2 133.1,764.4 133.9,766.3 134.7,765.9 135.5,764.1 136.3,764.5 137.1,763.6 137.9,766.3 138.7,766.3 139.5,767.0 140.3,766.5 141.1,766.3 141.9,765.9 142.7,766.3 143.5,766.4 144.2,767.4 145.1,767.1 145.9,767.9 146.7,768.1 147.5,767.4 148.3,766.4 149.1,767.5 149.9,766.7 150.7,767.1 151.5,766.8 152.4,767.2 153.2,767.2 154.0,766.3 154.8,766.2 155.6,766.6 156.4,767.4 157.2,766.4 158.0,767.9 158.6,768.6 159.6,767.5 160.4,766.0 161.2,766.3 162.0,766.4 162.8,767.7 163.6,766.3 164.4,765.8 165.2,766.3 166.0,766.5 166.8,766.2 167.6,766.7 168.4,766.3 169.2,765.2 170.0,764.3 170.8,764.7 171.6,764.7 172.4,764.5 173.2,764.5 174.0,763.9 174.8,763.8 175.4,763.8 176.4,765.1 177.2,764.5 178.0,762.9 178.8,761.5 179.6,762.7 180.4,763.1 181.2,763.9 182.0,763.4 182.8,763.3 183.6,762.6 184.3,760.8 185.2,760.9 186.0,759.7 186.8,758.6 187.6,758.5 188.4,756.1 189.2,754.8 190.1,753.2 190.9,751.5 191.7,749.5 192.2,748.8 193.3,747.9 194.1,744.7 194.9,744.0 195.7,743.0 196.5,739.1 197.3,738.1 198.2,736.3 198.9,733.2 199.7,729.6 200.5,725.5 201.3,722.0 202.1,719.1 202.9,715.9 203.7,712.2 204.2,710.1 204.5,707.2 205.3,700.3 206.1,692.3 206.9,683.9 207.7,675.4 208.3,669.0 209.3,661.5 210.1,655.1 210.7,648.3 211.7,628.0 212.5,610.9 213.3,594.1 214.3,573.7 214.9,580.9 215.7,591.2 216.5,599.9 217.3,609.2 217.9,615.8 218.9,626.7 219.7,634.7 220.5,642.6 221.3,648.5 222.1,655.5 222.7,659.6 223.7,666.2 224.1,669.9 224.5,673.3 225.3,678.8 226.1,686.0 227.0,691.2 227.8,694.8 228.2,698.7 228.6,701.1 229.4,704.2 230.2,707.6 231.0,711.3 231.8,714.2 232.6,717.4 233.0,719.2 233.4,720.4 234.2,722.5 235.0,724.2 235.8,724.2 236.6,725.6 237.4,726.0 238.2,727.8 239.0,729.6 239.8,730.0 240.2,731.1 240.6,731.9 241.4,732.2 242.2,733.5 243.0,733.4 243.8,734.3 244.6,734.8 245.0,735.2 245.4,734.6 246.2,733.7 247.0,733.6 247.8,732.8 248.6,732.3 249.4,730.0 250.2,729.5 251.0,730.1 251.8,728.6 252.2,727.2 252.6,727.0 253.4,725.8 254.2,724.3 255.0,722.7 256.0,720.6 256.6,722.4 257.4,724.7 258.2,724.6 259.0,725.6 260.1,728.3 260.6,726.6 261.4,726.0 262.2,725.2 263.0,724.3 263.8,723.6 264.2,723.5 264.7,717.3 265.6,703.4 266.3,681.8 266.8,659.0 267.9,628.3 268.5,607.0 269.5,593.7 270.3,583.4 271.2,571.3 271.9,563.0 272.7,556.2 273.5,547.4 274.5,536.9 275.1,542.0 275.9,547.9 276.7,555.1 277.5,562.8 278.4,571.9 279.1,586.5 280.0,606.8 280.7,617.4 281.5,629.3 282.3,641.1 283.1,652.5 283.6,660.4 284.7,674.0 285.1,680.7 285.5,688.6 286.3,700.0 287.0,711.1 287.9,715.5 288.7,718.5 289.5,722.6 290.3,725.8 291.1,729.2 291.9,732.3 292.7,735.3 293.5,737.8 294.3,741.1 295.1,743.9 296.1,747.0 296.7,748.0 297.5,749.4 298.3,750.9 299.1,752.2 299.9,754.3 300.7,755.0 301.2,756.2 301.5,755.9 302.4,754.6 303.2,752.5 304.0,750.6 304.8,748.9 305.6,749.1 306.2,748.5 307.2,750.4 308.0,749.8 308.8,751.3 309.6,753.3 310.0,754.1 310.4,753.7 311.2,754.7 312.0,755.1 312.8,755.3 313.6,755.7 314.4,755.9 315.2,755.7 316.0,756.6 316.8,757.6 317.6,757.9 318.4,757.0 319.2,758.8 320.1,758.2 320.8,757.1 321.6,757.6 322.4,758.6 323.2,758.4 324.0,758.1 324.8,757.9 325.2,758.2 325.6,757.4 326.4,753.9 327.2,751.7 328.0,749.3 329.0,745.3 329.6,737.7 330.4,726.6 331.2,715.8 331.6,709.4 332.0,693.2 333.1,653.1 333.6,630.3 334.4,601.5 335.2,575.0" fill="none" stroke="#9467bd" stroke-width="2.3" stroke-linejoin="round" stroke-linecap="butt"/>
<polyline points="96.2,762.2 97.0,763.2 97.8,764.8 98.6,763.0 99.4,762.1 100.2,764.1 101.0,764.6 101.8,764.7 102.6,765.3 103.4,764.7 104.2,764.5 105.0,764.8 105.8,766.3 106.6,767.0 107.4,767.3 108.2,768.1 109.0,768.4 109.8,767.8 110.6,766.9 111.4,768.2 112.2,768.8 113.0,769.5 113.8,768.9 114.6,768.7 115.4,769.6 116.2,769.1 117.0,771.1 117.8,772.0 118.6,770.5 119.4,771.7 120.2,772.7 121.0,773.7 121.8,771.7 122.6,771.6 123.4,771.1 124.2,770.9 125.0,772.4 125.8,772.0 126.6,771.8 127.4,771.9 128.2,771.9 129.0,771.6 129.8,772.6 130.6,772.1 131.4,772.9 132.2,771.1 133.0,771.6 133.8,771.0 134.6,772.0 135.4,773.4 136.2,770.6 137.0,769.9 137.8,771.6 138.6,772.6 139.4,772.5 140.2,772.9 141.0,771.5 141.8,772.6 142.6,771.3 143.4,770.9 144.2,770.1 145.0,769.5 145.8,769.3 146.6,769.6 147.4,769.4 148.2,768.3 149.0,770.1 149.8,771.5 150.6,771.5 151.4,771.9 152.2,770.9 153.0,771.6 153.8,773.3 154.6,773.1 155.4,773.3 156.2,772.7 157.0,772.0 157.8,771.8 158.6,774.1 159.4,774.3 160.2,772.6 161.0,772.8 161.8,773.9 162.6,773.9 163.4,774.5 164.2,774.5 165.0,776.3 165.8,775.5 166.6,775.0 167.4,774.9 168.2,776.4 169.0,774.8 169.8,776.5 170.6,775.3 171.4,775.0 172.2,774.8 173.0,776.3 173.8,776.3 174.6,775.1 175.4,775.9 176.2,776.4 177.0,775.6 177.8,775.8 178.6,775.5 179.4,775.6 180.2,775.1 181.0,775.5 181.8,775.0 182.6,774.4 183.4,775.5 184.2,774.4 185.0,772.9 185.8,772.6 186.6,772.3 187.4,772.4 188.2,771.9 189.0,771.4 189.8,771.0 190.6,769.6 191.4,769.8 192.2,769.5 193.0,768.9 193.8,767.9 194.6,769.4 195.4,769.0 196.3,768.5 197.0,768.9 197.8,768.0 198.6,766.0 199.4,766.1 200.2,765.5 201.0,763.6 201.8,764.2 202.6,763.9 203.2,762.9 204.2,761.9 205.0,760.4 205.8,759.5 206.1,758.5 206.6,747.0 207.4,729.2 208.3,710.2 209.0,698.6 209.8,686.0 210.6,674.4 210.9,668.3 211.4,667.1 212.2,663.4 213.0,659.3 213.8,656.3 214.6,659.2 215.4,661.9 216.2,665.5 217.0,670.3 217.8,673.9 218.6,677.5 219.1,680.7 219.4,683.5 220.2,686.8 221.0,693.0 221.8,697.8 222.2,700.8 222.6,701.5 223.4,704.5 224.2,708.2 225.0,715.4 226.0,721.0 226.6,722.5 227.4,724.5 228.2,728.1 229.0,731.2 229.8,734.9 230.1,735.4 230.6,736.4 231.4,739.8 232.2,740.8 233.0,742.5 233.8,745.7 234.6,747.0 235.4,749.4 236.1,752.4 237.0,752.9 237.8,754.4 238.6,755.8 239.4,757.0 240.2,757.7 241.0,759.9 241.8,761.3 242.1,761.9 242.6,762.3 243.4,763.0 244.2,763.7 245.0,764.9 245.8,765.8 246.6,766.6 247.4,768.0 248.2,767.4 249.0,768.3 250.0,770.0 250.6,769.8 251.4,769.2 252.2,769.3 253.0,770.7 253.8,769.7 254.6,768.8 255.4,768.1 256.2,766.8 257.0,767.4 257.8,767.0 258.2,766.8 258.6,766.2 259.4,765.6 260.2,766.3 261.0,766.0 261.8,766.0 262.6,765.3 263.4,764.1 264.2,765.5 265.0,766.2 265.8,764.3 266.6,763.6 267.4,762.9 268.2,761.1 269.0,762.0 269.8,762.4 270.2,763.0 270.6,761.7 271.4,759.7 272.2,758.8 273.1,759.7 273.8,759.5 274.6,759.9 275.4,762.2 276.2,762.2 277.0,762.3 277.8,764.7 278.1,766.0 278.6,765.9 279.4,765.6 280.2,766.4 281.0,766.0 281.8,766.4 282.6,767.9 283.4,767.2 284.2,766.8 285.0,766.9 285.8,767.3 286.6,769.1 287.4,770.3 288.2,770.7 289.0,770.8 289.8,769.5 290.6,769.2 291.4,770.1 292.2,770.7 293.0,771.1 293.8,770.2 294.6,769.5 295.4,770.5 296.2,770.3 297.0,771.2 297.8,770.1 298.6,769.7 299.4,770.4 300.2,769.5 301.0,770.4 301.8,770.6 302.6,771.0 303.4,770.0 304.0,769.8 305.0,770.9 305.8,771.4 306.6,771.2 307.4,770.6 308.2,770.3 309.0,769.0 309.8,770.6 310.6,771.6 311.4,770.9 312.2,769.8 313.0,770.4 313.8,768.7 314.6,769.3 315.4,769.4 316.0,769.1 317.0,768.9 317.8,768.9 318.6,770.0 319.4,769.3 320.2,770.8 321.0,771.4 321.8,770.5 322.6,772.5 323.4,773.1 324.2,772.7 325.0,772.7 325.8,773.2 326.1,773.6 326.6,772.7 327.4,771.6 328.2,771.0 329.0,771.1 329.8,771.3 330.6,771.7 331.4,771.4 332.1,769.7 333.0,767.3 333.8,764.7 334.6,762.7 335.4,759.7 336.2,758.6" fill="none" stroke="#8c564b" stroke-width="2.3" stroke-linejoin="round" stroke-linecap="butt"/>
<polyline points="96.2,783.2 97.0,784.2 97.8,782.9 98.6,782.5 99.4,782.6 100.2,782.7 101.0,782.7 101.8,782.3 102.6,781.8 103.4,780.9 104.2,782.7 105.0,782.6 105.8,781.1 106.6,781.9 107.4,782.1 108.2,780.9 109.0,781.9 109.8,780.9 110.6,782.3 111.4,782.1 112.2,781.6 113.0,781.9 113.8,782.3 114.6,782.7 115.4,782.5 116.2,782.5 117.0,782.7 117.8,781.9 118.6,781.0 119.4,781.6 120.2,781.3 121.0,781.2 121.8,780.9 122.6,781.6 123.4,782.6 124.2,782.4 125.0,782.3 125.8,782.1 126.6,781.2 127.4,782.4 128.2,781.6 129.0,780.7 129.8,781.7 130.6,781.0 131.4,780.4 132.2,781.7 133.0,781.3 133.8,781.7 134.6,781.7 135.4,782.3 136.2,781.2 137.0,780.3 137.8,780.5 138.6,781.0 139.4,780.5 140.2,781.4 141.0,781.2 141.8,782.0 142.6,779.7 143.4,780.3 144.2,780.8 145.0,781.5 145.8,781.6 146.6,780.9 147.4,780.6 148.2,781.6 149.0,781.0 149.8,780.3 150.6,780.1 151.4,780.4 152.2,780.5 153.0,779.5 153.8,779.8 154.6,780.0 155.4,780.6 156.2,780.9 157.0,781.6 157.8,780.0 158.6,781.4 159.4,781.3 160.2,780.0 161.0,779.4 161.8,781.3 162.6,780.1 163.4,779.9 164.2,779.9 165.0,779.8 165.8,778.7 166.6,779.0 167.4,779.7 168.2,779.0 169.0,778.9 169.8,779.6 170.6,779.0 171.4,778.1 172.2,778.4 173.0,778.9 173.8,779.6 174.6,779.0 175.4,778.6 176.2,778.4 177.0,779.3 177.8,779.3 178.6,778.3 179.4,779.1 180.2,778.8 181.0,777.8 181.8,778.1 182.6,778.1 183.4,778.1 184.3,778.6 185.0,778.9 185.8,777.7 186.6,776.9 187.4,776.2 188.2,776.0 189.0,775.9 189.8,775.4 190.3,775.0 190.6,772.1 191.4,768.9 192.2,766.9 193.0,763.0 193.8,760.5 194.6,757.6 195.4,753.8 196.3,750.6 197.0,749.3 197.8,747.3 198.6,743.7 199.4,743.4 200.2,740.0 201.1,736.2 201.8,736.0 202.6,735.2 203.4,732.7 204.2,731.4 205.2,729.9 205.8,735.4 206.6,741.3 207.4,747.2 208.3,753.4 209.0,755.2 209.8,758.1 210.6,758.3 211.4,759.5 212.2,762.3 213.0,765.1 213.8,765.9 214.3,766.8 214.6,766.2 215.4,765.8 216.2,766.7 217.0,767.6 217.8,768.7 218.6,768.5 219.4,769.0 220.2,770.9 221.0,771.7 221.8,771.4 222.2,771.4 222.6,771.4 223.4,772.4 224.2,773.2 225.0,773.2 225.8,772.2 226.6,772.8 227.4,773.9 228.2,773.3 229.0,773.6 229.8,774.3 230.6,773.1 231.4,774.4 232.0,774.7 233.0,774.8 233.8,773.9 234.6,774.6 235.4,774.0 236.2,774.6 237.0,775.1 237.8,774.7 238.6,773.7 239.4,773.0 240.2,773.4 241.0,773.7 241.8,771.6 242.1,769.8 242.6,772.6 243.4,773.3 244.2,772.2 245.0,772.5 245.8,773.9 246.6,774.3 247.4,773.7 248.2,775.0 249.0,775.5 249.8,775.4 250.6,776.5 251.4,776.2 252.2,775.6 253.0,775.8 253.8,774.7 254.6,774.6 255.4,772.7 256.2,771.5 257.0,772.3 257.8,772.4 258.6,770.6 259.4,770.3 260.1,770.1 261.0,768.2 261.8,767.2 262.6,764.7 263.4,763.7 264.2,761.7 265.0,757.5 265.8,753.5 266.6,750.2 267.4,753.5 268.2,758.0 269.0,762.0 269.8,763.4 270.6,764.2 271.4,764.9 272.2,765.7 273.0,765.6 273.8,767.0 274.6,768.3 275.4,769.2 276.2,769.0 277.0,770.8 277.8,770.9 278.6,772.7 279.4,771.8 280.2,772.9 281.0,772.6 281.8,772.7 282.6,773.1 283.4,773.5 284.2,774.1 285.0,774.9 285.8,775.1 286.6,775.1 287.4,775.6 288.2,775.4 289.0,775.0 289.8,776.2 290.6,777.1 291.4,776.7 292.2,777.2 293.0,776.5 293.8,776.5 294.6,777.9 295.4,777.4 296.2,777.4 297.0,778.4 297.8,779.3 298.6,778.9 299.4,779.1 300.2,778.2 301.0,778.5 301.8,779.3 302.6,779.5 303.4,779.1 304.0,779.1 305.0,778.3 305.8,779.0 306.6,779.2 307.4,779.1 308.2,780.5 309.0,781.1 309.8,781.2 310.6,781.5 311.4,781.2 312.2,780.9 313.0,781.5 313.8,781.0 314.6,779.8 315.4,781.7 316.2,782.8 317.0,783.2 317.8,782.4 318.6,782.6 319.4,783.1 320.1,782.7 321.0,782.2 321.8,780.9 322.6,781.6 323.4,780.6 324.2,779.8 325.0,779.6 325.8,778.6 326.6,778.0 327.4,778.8 328.0,777.4 329.0,776.7 329.8,773.8 330.6,772.8 331.4,770.5 332.2,768.2 333.0,766.9 334.0,765.3 334.6,763.9 335.4,762.8 336.2,758.4" fill="none" stroke="#e377c2" stroke-width="2.3" stroke-linejoin="round" stroke-linecap="butt"/>
<polyline points="96.2,788.9 97.0,789.0 97.8,787.4 98.6,788.0 99.4,789.4 100.2,788.0 101.0,787.0 101.8,786.6 102.6,787.1 103.4,786.3 104.2,787.5 105.0,786.2 105.8,786.1 106.6,785.6 107.4,785.3 108.2,785.4 109.0,785.4 109.8,787.3 110.6,787.7 111.4,786.0 112.2,785.2 113.0,785.3 113.8,784.5 114.6,786.1 115.4,786.5 116.2,786.5 117.0,786.3 117.8,786.9 118.6,787.6 119.4,788.4 120.2,787.7 121.0,788.9 121.8,789.2 122.6,789.5 123.4,789.0 124.2,790.1 125.0,789.7 125.8,788.7 126.6,787.7 127.4,787.1 128.2,784.7 129.0,784.7 129.8,784.5 130.6,784.2 131.4,784.4 132.2,782.6 133.0,781.2 133.8,780.7 134.6,779.5 135.4,780.1 136.2,781.5 137.0,782.3 137.8,781.8 138.6,782.7 139.4,783.2 140.2,784.3 141.0,784.6 141.8,784.7 142.6,785.3 143.4,785.3 144.2,785.4 145.0,786.8 145.8,788.1 146.6,787.7 147.4,786.1 148.2,786.8 149.0,787.3 149.8,789.2 150.6,788.1 151.4,787.1 152.2,788.8 153.0,788.9 153.8,789.3 154.6,790.2 155.4,789.1 156.2,789.7 157.0,790.1 157.8,790.1 158.6,790.6 159.4,791.3 160.2,790.3 161.0,790.6 161.8,790.9 162.6,791.5 163.4,792.6 164.2,793.2 165.0,793.8 165.8,792.7 166.6,793.3 167.4,795.2 168.2,794.9 169.0,793.7 169.8,793.6 170.6,794.3 171.4,792.9 172.2,790.9 173.0,791.8 173.8,791.4 174.6,792.6 175.4,792.1 176.1,792.6 177.0,790.0 177.8,787.7 178.6,786.9 179.4,784.9 180.2,784.3 181.0,782.8 181.8,782.0 182.1,780.6 182.6,778.3 183.4,774.3 184.2,770.7 185.0,767.7 185.8,764.1 186.6,760.1 187.4,755.9 188.1,752.7 189.0,749.9 189.8,745.9 190.6,741.3 191.4,738.8 192.2,735.6 193.2,730.4 193.8,727.8 194.6,727.6 195.4,726.7 196.3,725.5 197.0,726.3 197.8,726.8 198.6,727.0 199.4,729.0 200.2,729.0 201.0,730.3 201.8,730.6 202.6,710.2 203.4,692.0 204.2,673.2 204.7,659.8 205.0,644.5 205.8,612.7 206.4,589.5 207.4,579.5 208.2,571.5 209.0,565.1 209.5,560.7 209.8,566.2 210.6,579.6 211.4,593.0 212.2,605.9 212.6,612.8 213.0,619.9 213.8,632.2 214.6,645.2 215.0,652.0 215.4,655.2 216.2,661.8 217.2,670.3 217.8,677.0 218.6,684.9 219.4,691.5 220.3,700.0 221.0,706.5 221.8,712.0 222.6,717.5 223.4,724.2 224.1,730.2 225.0,734.4 225.8,738.2 226.6,740.6 227.4,744.7 228.2,748.4 229.2,754.9 229.8,756.5 230.6,758.0 231.4,759.1 232.2,761.9 233.0,764.0 233.8,765.1 234.6,767.6 235.4,769.5 236.1,771.7 237.0,773.1 237.8,774.0 238.6,775.3 239.4,776.8 240.2,777.0 241.0,777.9 241.8,779.5 242.6,779.9 243.4,780.2 244.0,780.6 245.0,782.3 245.8,783.0 246.6,784.1 247.4,784.2 248.2,783.1 249.0,783.1 249.8,785.8 250.6,786.4 251.4,786.7 252.2,786.4 253.0,788.2 253.8,787.1 254.6,789.6 255.4,790.0 256.0,790.5 257.0,790.5 257.8,789.0 258.6,788.2 259.4,787.7 260.2,787.6 261.0,785.9 262.0,786.2 262.6,784.9 263.4,783.7 264.2,781.7 265.0,778.5 265.8,777.1 266.6,775.8 267.1,774.1 267.4,773.9 268.2,772.8 269.0,773.6 269.8,775.6 270.2,775.9 270.6,776.3 271.4,777.0 272.2,779.8 273.0,782.3 274.0,783.6 274.6,785.3 275.4,785.4 276.2,787.0 277.0,787.8 277.8,787.9 278.6,787.2 279.4,787.9 280.2,788.7 281.0,789.9 281.8,789.3 282.2,790.2 282.6,791.2 283.4,791.4 284.2,790.4 285.0,790.6 285.8,790.2 286.6,790.4 287.4,790.6 288.2,790.6 289.0,790.8 289.8,791.2 290.6,789.6 291.4,789.4 292.0,789.3 293.0,789.8 293.8,788.9 294.6,788.1 295.4,787.6 296.2,786.4 297.0,785.6 297.8,785.8 298.6,786.5 299.0,785.8 299.4,787.1 300.2,787.6 301.0,787.9 301.8,787.8 302.6,788.6 303.4,789.8 304.0,790.3 305.0,790.0 305.8,790.9 306.6,790.0 307.4,789.9 308.2,789.0 309.0,789.3 309.8,791.0 310.6,790.3 311.4,790.2 312.2,790.5 313.0,791.9 313.8,792.3 314.6,792.3 315.4,791.4 316.0,791.7 317.0,791.2 317.8,790.2 318.6,789.9 319.4,790.4 320.2,790.5 321.0,790.1 321.8,789.6 322.6,789.5 323.4,788.1 324.2,788.6 325.0,788.9 325.8,788.5 326.1,788.5 326.6,787.4 327.4,785.3 328.2,784.9 329.0,783.8 329.8,782.9 330.6,781.2 331.4,778.8 332.2,778.6 333.1,778.3 333.8,775.4 334.6,770.7 335.4,765.4 336.2,763.1" fill="none" stroke="#7f7f7f" stroke-width="2.3" stroke-linejoin="round" stroke-linecap="butt"/>
<polyline points="96.2,791.1 97.0,791.5 97.8,792.8 98.6,793.9 99.4,795.0 100.2,794.5 101.0,794.6 101.8,794.1 102.6,796.1 103.4,798.2 104.2,798.1 105.0,799.3 105.8,798.8 106.6,797.7 107.4,799.8 108.2,800.6 109.0,799.1 109.8,799.3 110.6,800.9 111.4,802.0 112.2,803.0 113.0,803.5 113.8,803.1 114.6,803.7 115.4,804.8 116.2,805.3 117.0,806.3 117.8,806.9 118.6,806.7 119.4,806.8 120.2,807.1 121.0,808.0 121.8,808.6 122.6,807.9 123.4,807.5 124.2,807.5 125.0,806.1 125.8,807.8 126.6,806.6 127.4,806.3 128.2,807.4 129.0,807.0 129.8,806.4 130.6,806.9 131.4,807.2 132.2,806.6 133.0,805.8 133.8,807.2 134.6,807.4 135.4,806.3 136.2,806.9 137.0,807.3 137.8,806.5 138.6,806.7 139.4,807.1 140.2,807.1 141.0,806.7 141.8,807.0 142.6,807.1 143.4,806.8 144.2,807.4 145.0,806.8 145.8,807.0 146.6,807.1 147.4,806.5 148.2,806.3 149.0,806.6 149.8,805.6 150.6,806.7 151.4,807.0 152.2,806.7 153.0,805.9 153.8,805.6 154.6,804.9 155.4,804.8 156.2,804.8 157.0,806.1 157.8,805.4 158.6,805.4 159.4,805.5 160.2,805.1 161.0,804.6 161.8,804.8 162.6,804.9 163.4,804.3 164.2,803.7 165.0,805.3 165.8,805.6 166.6,804.9 167.4,804.1 168.2,805.0 169.0,806.1 169.8,805.8 170.6,804.6 171.4,804.1 172.2,805.2 173.0,804.6 173.8,803.8 174.6,803.1 175.4,804.2 176.1,804.6 177.0,804.0 177.8,803.8 178.6,803.8 179.4,803.3 180.2,803.0 181.0,802.6 181.8,802.4 182.6,801.9 183.4,802.3 184.2,802.0 185.0,802.7 185.8,802.8 186.6,802.6 187.4,800.7 188.2,801.8 189.0,801.3 189.8,801.6 190.6,800.6 191.4,799.7 192.2,800.9 193.0,801.5 193.8,801.8 194.6,801.2 195.4,799.8 196.2,799.1 197.0,799.2 197.8,799.7 198.6,800.0 199.4,798.0 200.1,797.2 201.0,795.9 201.8,793.1 202.6,790.7 203.4,787.5 204.2,785.3 205.2,782.5 205.8,779.9 206.6,776.3 207.4,772.5 208.2,769.7 208.8,768.1 209.8,772.2 210.6,775.6 211.4,779.3 212.1,782.7 213.0,783.4 213.8,784.3 214.6,785.8 215.4,787.1 216.2,788.4 217.0,789.5 217.8,791.6 218.1,791.4 218.6,791.4 219.4,791.9 220.2,793.5 221.0,794.4 221.8,794.1 222.6,795.0 223.4,796.1 224.2,795.5 225.0,796.5 225.8,797.4 226.6,798.0 227.4,798.6 228.2,798.9 229.0,798.5 229.8,799.2 230.6,798.7 231.4,798.0 232.2,799.4 233.0,801.0 233.8,800.2 234.6,799.8 235.4,800.6 236.2,800.7 237.0,800.2 237.8,800.4 238.6,801.5 239.4,802.0 240.2,801.7 241.0,802.5 241.8,802.0 242.6,802.1 243.4,801.3 244.2,801.2 245.0,802.0 245.8,802.0 246.6,802.3 247.4,802.4 248.2,804.5 249.0,804.2 249.8,802.5 250.6,802.6 251.4,803.6 252.2,803.7 253.0,802.8 253.8,803.2 254.6,804.7 255.4,804.7 256.0,804.0 257.0,803.2 257.8,803.7 258.6,802.3 259.4,802.0 260.2,803.2 261.0,802.2 261.8,802.3 262.6,804.3 263.4,803.4 264.2,802.4 265.0,801.4 265.8,800.5 266.1,801.4 266.6,800.7 267.4,801.7 268.2,801.7 269.0,803.8 269.8,803.9 270.6,803.3 271.4,801.7 272.2,801.9 273.0,803.5 273.8,802.9 274.6,802.9 275.4,803.6 276.2,804.7 277.0,803.7 277.8,803.0 278.6,804.3 279.4,803.5 280.0,803.7 281.0,804.0 281.8,803.4 282.6,803.5 283.4,804.4 284.2,805.4 285.0,803.9 285.8,802.9 286.6,803.7 287.4,804.0 288.2,802.9 289.0,803.3 289.8,802.6 290.6,803.4 291.4,803.1 292.2,803.5 293.0,802.6 293.8,803.2 294.6,803.9 295.4,802.9 296.1,803.6 297.0,803.3 297.8,803.2 298.6,804.0 299.4,804.4 300.2,803.7 301.0,803.5 301.8,804.6 302.6,805.2 303.4,805.2 304.2,804.3 305.0,804.0 305.8,804.0 306.6,804.3 307.4,803.9 308.2,803.7 309.0,803.6 309.8,803.3 310.6,803.2 311.4,804.8 312.2,804.6 313.0,804.5 313.8,804.8 314.6,804.5 315.4,803.9 316.0,802.6 317.0,804.0 317.8,803.7 318.6,803.5 319.4,802.3 320.2,803.7 321.0,803.0 321.8,801.8 322.6,802.7 323.4,802.4 324.2,801.7 325.0,802.1 325.8,802.1 326.1,802.7 326.6,803.2 327.4,804.0 328.2,802.3 329.0,800.1 329.8,799.9 330.6,800.0 331.4,799.6 332.2,799.9 333.0,799.1 333.8,797.3 334.6,796.0 335.4,796.5 336.2,795.5" fill="none" stroke="#bcbd22" stroke-width="2.3" stroke-linejoin="round" stroke-linecap="butt"/>
<polyline points="96.2,810.4 97.0,810.4 97.8,810.5 98.6,809.5 99.4,809.7 100.2,811.1 101.0,811.0 101.8,810.4 102.6,809.2 103.4,808.9 104.2,809.9 105.0,810.4 105.8,809.6 106.6,809.5 107.4,808.9 108.2,808.5 109.0,807.9 109.8,807.4 110.6,808.8 111.4,808.1 112.2,808.3 113.0,808.3 113.8,809.2 114.6,808.7 115.4,809.6 116.2,809.9 117.0,809.4 117.8,810.7 118.6,811.7 119.4,811.7 120.2,812.1 121.0,812.3 121.8,813.0 122.6,812.4 123.4,813.6 124.2,814.1 125.0,813.6 125.8,813.8 126.6,813.8 127.4,813.6 128.2,813.5 129.0,812.8 129.8,812.0 130.6,812.9 131.4,813.5 132.2,813.1 133.0,812.8 133.8,813.4 134.6,814.5 135.4,813.6 136.2,813.9 137.0,813.9 137.8,815.3 138.6,815.4 139.4,815.8 140.2,813.7 141.0,813.8 141.8,814.6 142.6,815.3 143.4,815.3 144.2,814.6 145.0,815.5 145.8,814.2 146.6,814.2 147.4,813.8 148.2,812.8 149.0,813.4 149.8,813.0 150.6,812.8 151.4,814.7 152.2,812.9 153.0,813.4 153.8,812.4 154.6,812.2 155.4,813.6 156.2,812.9 157.0,812.9 157.8,812.0 158.6,811.2 159.4,811.1 160.2,811.2 161.0,812.2 161.8,811.4 162.6,811.4 163.4,810.8 164.2,809.4 165.0,809.4 165.8,811.0 166.6,810.5 167.4,809.4 168.2,809.7 169.0,809.6 169.8,807.8 170.6,807.3 171.4,806.9 172.2,806.5 173.0,804.5 173.8,804.0 174.6,803.0 175.4,802.5 176.1,802.2 177.0,799.7 177.8,797.8 178.6,796.7 179.4,796.4 180.2,793.7 181.0,791.4 181.8,790.4 182.1,789.1 182.6,787.0 183.4,781.4 184.2,774.7 185.0,768.8 185.8,763.9 186.2,761.1 186.6,753.5 187.4,739.8 188.2,724.4 189.1,708.4 189.8,691.9 190.6,673.7 191.2,659.5 192.2,634.4 193.0,611.4 193.9,586.7 194.6,579.3 195.4,569.9 196.2,562.2 196.5,559.4 197.0,556.6 197.8,548.9 198.4,542.8 199.4,549.1 200.2,551.8 201.0,556.9 202.0,561.7 202.6,559.7 203.4,560.1 204.2,558.4 205.0,556.1 205.8,553.4 206.6,552.6 207.3,551.0 208.2,558.0 209.0,564.1 209.8,570.8 210.6,577.2 210.9,580.8 211.4,593.1 212.2,613.0 212.6,623.7 213.0,632.8 213.8,649.2 214.3,660.4 214.6,664.8 215.2,670.8 216.2,689.6 217.2,709.7 217.8,717.4 218.6,725.9 219.4,733.3 220.2,742.1 221.0,751.7 221.8,755.5 222.6,758.8 223.4,762.3 224.2,766.7 225.0,772.9 226.0,776.7 226.6,779.1 227.4,780.3 228.2,781.3 229.0,783.9 229.8,787.1 230.6,788.4 231.4,789.7 232.0,791.8 233.0,792.1 233.8,793.7 234.6,795.4 235.4,794.7 236.2,796.4 237.0,796.7 237.8,796.9 238.6,798.6 239.4,799.9 240.2,799.6 241.0,799.9 241.8,800.7 242.6,801.1 243.4,801.6 244.2,800.9 245.0,800.3 245.8,800.4 246.6,801.5 247.4,802.6 248.2,803.1 249.0,803.5 249.8,803.7 250.6,803.2 251.4,803.8 252.2,804.4 253.0,803.7 253.8,802.0 254.6,801.2 255.4,802.0 256.2,802.1 257.0,800.9 257.8,801.5 258.6,799.7 259.4,798.3 260.1,798.5 261.0,795.1 261.8,790.4 262.6,786.3 263.4,781.3 264.2,776.8 265.0,776.3 265.6,776.0 266.6,781.4 267.4,784.7 268.0,789.1 269.0,791.4 269.8,792.5 270.6,794.7 271.4,794.9 272.2,796.4 273.0,797.9 274.0,799.0 274.6,799.2 275.4,801.4 276.2,801.8 277.0,801.5 277.8,802.9 278.6,802.9 279.4,805.2 280.2,805.1 281.0,804.9 281.8,806.3 282.6,805.5 283.4,807.5 284.1,807.8 285.0,806.9 285.8,808.2 286.6,808.8 287.4,807.3 288.2,808.9 289.0,809.7 289.8,809.7 290.6,809.5 291.4,809.7 292.2,811.3 293.0,811.3 293.8,811.0 294.6,813.2 295.4,814.6 296.1,812.7 297.0,811.9 297.8,812.2 298.6,812.1 299.4,813.8 300.2,813.5 301.0,812.6 301.8,812.4 302.6,812.6 303.4,812.9 304.2,814.7 305.0,814.0 305.8,814.5 306.6,813.6 307.4,813.8 308.2,813.6 309.0,814.9 309.8,815.5 310.6,816.3 311.4,815.0 312.2,813.7 313.0,814.5 313.8,815.2 314.6,815.1 315.4,814.1 316.2,815.6 317.0,814.0 317.8,814.6 318.6,813.5 319.4,813.4 320.2,813.4 321.0,812.9 321.8,813.2 322.6,813.1 323.4,813.6 324.2,812.7 325.0,812.4 325.8,812.5 326.1,812.4 326.6,812.8 327.4,813.0 328.2,811.6 329.0,810.2 329.8,811.6 330.6,809.8 331.4,808.1 332.2,807.8 333.0,808.5 334.0,808.0 334.6,806.7 335.4,804.9 336.2,803.9" fill="none" stroke="#17becf" stroke-width="2.3" stroke-linejoin="round" stroke-linecap="butt"/>
<line x1="96.2" y1="494.3" x2="96.2" y2="839.5" stroke="#000" stroke-width="1.2"/>
<line x1="90.9" y1="808.0" x2="96.2" y2="808.0" stroke="#000" stroke-width="1.2"/>
<text x="85.2" y="813.9" font-size="15.3" text-anchor="end" fill="#000">0</text>
<line x1="90.9" y1="742.8" x2="96.2" y2="742.8" stroke="#000" stroke-width="1.2"/>
<text x="85.2" y="748.7" font-size="15.3" text-anchor="end" fill="#000">100</text>
<line x1="90.9" y1="677.6" x2="96.2" y2="677.6" stroke="#000" stroke-width="1.2"/>
<text x="85.2" y="683.5" font-size="15.3" text-anchor="end" fill="#000">200</text>
<line x1="90.9" y1="612.4" x2="96.2" y2="612.4" stroke="#000" stroke-width="1.2"/>
<text x="85.2" y="618.3" font-size="15.3" text-anchor="end" fill="#000">300</text>
<line x1="90.9" y1="547.2" x2="96.2" y2="547.2" stroke="#000" stroke-width="1.2"/>
<text x="85.2" y="553.1" font-size="15.3" text-anchor="end" fill="#000">400</text>
<line x1="96.2" y1="839.5" x2="336.2" y2="839.5" stroke="#000" stroke-width="1.2"/>
<line x1="96.2" y1="839.5" x2="96.2" y2="844.8" stroke="#000" stroke-width="1.2"/>
<text x="96.2" y="861.1" font-size="15.3" text-anchor="middle" fill="#000">0</text>
<line x1="144.2" y1="839.5" x2="144.2" y2="844.8" stroke="#000" stroke-width="1.2"/>
<text x="144.2" y="861.1" font-size="15.3" text-anchor="middle" fill="#000">2</text>
<line x1="192.2" y1="839.5" x2="192.2" y2="844.8" stroke="#000" stroke-width="1.2"/>
<text x="192.2" y="861.1" font-size="15.3" text-anchor="middle" fill="#000">4</text>
<line x1="240.2" y1="839.5" x2="240.2" y2="844.8" stroke="#000" stroke-width="1.2"/>
<text x="240.2" y="861.1" font-size="15.3" text-anchor="middle" fill="#000">6</text>
<line x1="288.2" y1="839.5" x2="288.2" y2="844.8" stroke="#000" stroke-width="1.2"/>
<text x="288.2" y="861.1" font-size="15.3" text-anchor="middle" fill="#000">8</text>
<line x1="336.2" y1="839.5" x2="336.2" y2="844.8" stroke="#000" stroke-width="1.2"/>
<text x="336.2" y="861.1" font-size="15.3" text-anchor="middle" fill="#000">10</text>
<text x="216.0" y="486.0" font-size="18.3" text-anchor="middle" fill="#000">non-somatic roi 1</text>
<text x="48.4" y="666.7" font-size="15.3" text-anchor="middle" fill="#000" transform="rotate(-90 48.4 666.7)">ΔF/F (%)</text>
<text x="216.0" y="880.8" font-size="15.3" text-anchor="middle" fill="#000">Time from</text>
<text x="216.0" y="897.7" font-size="15.3" text-anchor="middle" fill="#000">start of movie (s)</text>
<polyline points="384.9,625.8 385.7,624.5 386.5,625.5 387.3,625.3 388.1,626.4 388.9,625.5 389.7,626.6 390.5,627.1 391.3,630.5 392.1,629.2 392.9,629.6 393.7,630.0 394.0,629.4 394.5,628.5 395.3,628.8 396.1,628.9 396.9,627.5 397.7,627.6 398.5,628.6 399.3,626.7 400.1,627.4 400.9,628.7 401.7,628.9 402.5,627.7 403.3,625.4 404.2,628.2 405.0,627.0 405.8,626.4 406.6,625.8 407.4,626.5 407.9,625.2 409.0,624.1 409.8,624.9 410.6,625.8 411.4,626.1 412.2,623.8 413.0,622.8 413.8,624.1 414.6,624.6 415.4,624.4 416.2,625.5 417.0,625.4 417.8,624.1 418.6,623.9 419.4,625.0 420.2,623.9 421.0,623.4 421.8,623.8 422.6,623.9 423.4,624.4 424.2,622.3 425.0,620.9 425.8,622.0 426.6,623.6 427.4,624.4 428.2,624.0 429.0,622.9 429.8,625.1 430.6,624.8 431.4,625.4 432.2,624.8 433.0,625.4 433.8,625.8 434.6,624.8 435.4,624.4 436.2,626.6 437.0,627.5 437.5,625.3 437.8,623.4 438.6,622.6 439.4,623.6 440.2,626.4 441.1,625.2 441.9,624.8 442.7,625.0 443.5,623.9 444.3,624.5 445.1,624.2 445.9,623.3 446.7,624.6 447.5,622.9 448.3,622.3 449.1,620.6 449.9,622.1 450.7,621.3 451.5,624.4 452.3,622.4 453.1,620.3 453.9,620.8 454.7,620.6 455.5,620.6 456.3,621.2 457.1,621.1 457.9,619.8 458.7,618.9 459.5,617.7 460.3,619.3 460.7,620.9 461.1,619.2 461.9,621.1 462.7,622.3 463.5,621.3 464.3,624.3 465.1,623.9 465.9,624.0 467.0,625.5 467.5,625.7 468.3,623.4 469.1,620.2 469.9,619.4 470.7,619.5 471.5,619.7 472.3,618.6 473.1,617.1 473.9,615.6 474.9,615.3 475.5,616.5 476.3,614.5 477.1,613.7 477.9,612.0 478.8,611.7 479.6,609.3 480.4,608.7 480.9,606.4 482.0,607.5 482.8,605.8 483.6,606.1 484.4,603.9 485.2,603.1 486.0,604.5 486.4,603.5 486.8,602.6 487.6,602.2 488.4,604.3 489.2,605.0 490.0,604.7 490.8,606.2 491.2,607.5 491.6,605.3 492.4,602.5 493.2,598.6 494.0,596.9 494.3,597.9 494.8,596.5 495.6,592.1 496.5,587.6 497.2,590.4 498.0,596.1 498.9,598.8 499.6,599.9 500.4,604.3 501.2,605.9 502.0,606.7 502.7,608.4 503.6,606.6 504.4,607.6 505.2,609.9 506.0,612.4 506.8,613.8 507.6,614.0 508.4,614.0 509.2,617.0 510.0,617.7 510.8,617.6 511.6,618.1 512.1,620.1 512.4,619.8 513.2,617.7 514.0,617.7 514.8,619.2 515.7,616.9 516.5,618.4 517.3,618.1 518.1,619.3 518.9,618.5 519.7,620.8 520.5,621.2 521.3,620.3 522.1,623.2 522.9,623.8 523.7,623.8 524.5,622.6 525.3,622.7 526.1,624.4 526.9,624.0 527.7,623.0 528.5,624.3 529.3,624.0 530.1,624.1 530.9,625.1 531.7,625.7 532.3,626.5 533.3,626.8 534.1,627.1 534.9,628.6 535.7,628.5 536.5,629.0 537.3,633.1 537.8,632.0 538.1,630.2 538.9,629.4 539.7,629.0 540.5,627.5 541.3,627.6 541.6,625.2 542.1,625.8 542.9,622.1 543.7,620.2 544.5,617.9 545.3,614.8 546.1,613.0 546.4,613.3 546.9,610.4 547.7,608.0 548.5,605.3 549.3,601.5 550.3,598.2 550.9,597.7 551.7,595.7 552.5,595.0 553.4,593.1 554.2,593.6 555.0,596.2 555.8,601.2 556.5,605.0 557.4,605.2 558.2,608.7 559.0,607.7 559.8,606.7 560.6,609.6 561.4,608.5 562.2,608.1 563.0,608.6 563.5,612.4 563.8,612.8 564.6,611.8 565.4,611.0 566.2,612.2 567.0,612.2 567.8,610.7 568.6,613.6 569.4,614.5 570.2,616.2 571.0,615.4 571.8,617.0 572.6,617.2 573.4,615.6 574.3,617.4 575.0,616.2 575.8,616.9 576.6,617.8 577.4,618.6 578.2,617.6 579.0,615.8 579.8,616.8 580.6,618.1 581.4,618.3 582.2,618.8 583.0,617.2 583.8,618.2 584.6,618.1 585.4,619.2 586.2,620.1 586.7,617.3 587.0,616.3 587.8,615.9 588.6,617.8 589.4,618.8 590.2,621.2 591.1,619.7 591.9,617.6 592.7,617.8 593.5,619.8 594.3,620.1 595.1,618.6 595.9,618.8 596.7,618.5 597.5,620.5 598.3,619.5 599.1,619.6 599.9,620.6 600.7,618.6 601.5,617.7 602.3,619.5 603.1,618.3 603.9,619.6 604.7,622.4 605.5,622.0 606.3,620.9 607.1,619.8 607.9,620.5 608.7,619.3 609.5,620.9 610.3,620.5 611.1,620.6 611.9,621.1 612.7,621.9 613.1,624.1 613.5,625.1 614.3,622.5 615.1,623.3 615.9,625.1 616.7,623.6 617.5,622.4 618.3,623.9 619.1,623.5 619.9,623.8 620.7,621.9 621.5,621.4 622.3,621.8 623.1,624.1 623.9,625.8" fill="none" stroke="#1f77b4" stroke-width="2.3" stroke-linejoin="round" stroke-linecap="butt"/>
<polyline points="384.9,636.9 385.7,635.2 386.5,636.9 387.3,636.6 388.1,637.1 388.9,635.5 389.7,634.6 390.5,636.6 391.3,636.8 392.1,637.6 392.9,636.7 393.7,634.5 394.5,634.9 395.3,635.4 396.1,638.0 396.9,636.9 397.7,637.2 398.5,637.4 399.3,636.4 400.1,638.5 400.9,638.6 401.7,638.3 402.5,639.0 403.3,637.3 404.2,637.0 404.8,638.5 405.8,637.2 406.6,639.8 407.4,638.8 408.2,639.4 409.0,639.5 409.8,637.5 410.6,638.8 411.4,640.2 412.2,638.9 413.0,636.5 413.8,640.4 414.6,640.5 415.4,640.1 416.2,640.4 417.0,640.3 417.8,641.8 418.6,640.9 419.0,640.0 419.4,641.4 420.2,642.0 421.0,642.2 421.8,642.2 422.6,643.3 423.4,642.2 424.2,642.6 425.0,643.3 425.8,643.3 426.6,644.0 427.4,643.3 428.2,642.1 429.0,641.2 429.8,642.2 430.6,643.7 431.4,644.9 432.2,645.6 433.0,644.7 433.8,644.3 434.3,643.7 434.6,644.7 435.4,646.1 436.2,645.5 437.0,644.2 437.8,643.4 438.6,646.0 439.4,646.3 440.2,644.7 441.1,645.5 441.9,644.8 442.7,643.3 443.5,646.5 444.3,645.6 445.1,643.8 445.9,643.9 446.7,644.9 447.5,643.7 448.5,642.6 449.1,642.3 449.9,642.4 450.7,642.6 451.5,642.8 452.3,643.6 453.1,644.4 453.9,645.0 454.7,645.0 455.5,643.9 456.3,645.0 457.1,644.6 457.9,644.7 458.7,643.2 459.5,643.2 460.3,642.4 460.7,642.8 461.1,641.8 461.9,643.3 462.7,644.8 463.5,645.2 464.3,645.5 465.1,647.0 465.9,649.5 467.0,648.6 467.5,650.0 468.3,653.3 469.1,653.8 469.9,654.3 470.8,655.3 471.5,652.8 472.3,649.5 473.1,644.6 473.9,642.0 474.9,638.2 475.5,633.5 476.3,627.2 477.1,623.5 477.9,618.0 478.8,611.4 479.5,604.1 480.4,601.6 481.2,597.3 482.0,591.8 482.8,587.3 483.3,583.8 484.4,581.1 485.2,577.5 485.9,573.0 486.8,574.8 487.6,581.5 488.4,585.2 488.8,586.5 489.2,589.2 490.0,594.9 490.8,596.9 491.6,600.0 492.7,605.9 493.2,607.2 494.0,609.7 494.8,612.2 495.6,616.2 496.4,617.6 497.2,618.6 498.2,620.5 498.8,621.8 499.6,623.4 500.4,625.3 501.2,624.4 502.0,625.9 502.8,627.6 503.6,630.3 504.4,630.3 505.2,630.5 506.0,630.0 506.8,631.3 507.6,631.7 508.4,633.8 509.2,633.5 510.0,633.8 510.8,634.5 511.6,632.4 512.1,634.4 512.4,634.9 513.2,633.9 514.0,632.9 514.8,632.7 515.7,632.9 516.5,633.4 516.9,633.4 517.3,634.5 518.1,634.2 518.9,632.0 519.7,633.5 520.5,634.3 521.3,633.6 522.1,634.6 522.9,635.2 523.7,634.4 524.5,634.7 525.3,636.1 526.1,636.8 526.9,638.3 527.7,637.8 528.5,636.8 529.3,637.0 530.1,636.9 530.9,636.9 531.7,637.0 532.5,639.5 533.3,637.9 534.1,636.7 534.9,636.2 535.7,635.9 536.5,638.6 537.3,637.4 538.1,638.8 538.5,637.8 538.9,637.5 539.7,638.7 540.5,635.7 541.3,637.1 542.1,637.5 542.9,636.1 543.7,636.8 544.5,638.0 545.3,638.2 546.1,637.6 546.9,637.9 547.7,636.6 548.5,634.9 549.3,637.4 550.1,634.9 551.0,634.5 551.7,635.2 552.5,635.2 553.4,634.6 554.2,635.1 555.0,634.7 555.8,633.5 556.6,634.1 557.4,635.0 558.2,636.1 559.0,636.2 559.8,635.4 560.3,635.2 561.4,633.8 562.2,634.0 563.0,634.9 563.8,635.5 564.6,633.8 565.4,634.7 566.2,635.6 567.0,634.9 567.8,631.8 568.6,632.0 569.4,634.7 570.2,634.1 571.0,636.1 571.8,634.1 572.6,636.2 573.4,636.0 574.3,634.1 575.0,634.4 575.8,635.7 576.6,637.8 577.4,639.4 578.2,636.8 579.0,636.1 579.8,637.4 580.6,637.1 581.4,637.3 582.2,636.4 583.0,637.0 583.8,638.2 584.6,638.4 585.4,638.1 586.2,638.0 587.0,638.9 587.8,639.5 588.6,638.8 589.4,640.1 589.9,638.1 590.2,639.2 591.1,640.3 591.9,638.3 592.7,641.0 593.5,641.3 594.3,640.2 595.1,640.8 595.9,641.9 596.7,641.8 597.5,642.6 598.3,642.4 599.1,642.9 599.9,642.4 600.7,644.3 601.5,644.5 602.3,644.2 603.1,643.5 603.9,643.5 604.7,642.0 605.5,642.8 606.3,643.7 607.1,644.1 607.9,644.0 608.7,642.1 609.5,643.5 610.3,645.4 611.1,644.4 611.9,642.7 612.7,642.7 613.5,643.0 614.3,643.7 615.1,642.9 615.9,641.2 616.3,639.5 616.7,641.2 617.5,643.9 618.3,644.7 619.1,642.2 619.9,644.1 620.7,642.7 621.5,642.6 622.3,642.2 623.1,642.2 623.9,642.2" fill="none" stroke="#ff7f0e" stroke-width="2.3" stroke-linejoin="round" stroke-linecap="butt"/>
<polyline points="384.9,667.4 385.7,667.7 386.5,666.6 387.3,667.5 388.1,669.4 388.9,671.3 389.7,667.1 390.5,666.5 391.3,666.0 392.1,667.0 392.9,665.7 393.7,666.9 394.5,665.8 395.3,664.6 396.1,664.9 396.9,664.7 397.7,665.7 398.5,667.2 399.3,666.9 400.3,664.2 400.9,662.6 401.7,663.5 402.5,662.5 403.3,663.3 404.2,664.7 405.0,664.5 405.8,662.7 406.6,660.6 407.4,660.5 407.9,661.8 409.0,662.4 409.8,662.6 410.6,662.5 411.4,663.3 412.2,664.4 413.0,664.9 413.8,666.4 414.6,668.1 415.4,666.9 415.9,664.7 416.2,667.3 417.0,667.5 417.8,665.5 418.6,667.1 419.4,666.6 420.2,666.7 421.0,666.9 421.8,665.9 422.6,666.1 423.4,667.2 424.2,666.5 425.0,665.6 425.8,665.4 426.6,666.6 427.4,666.6 428.2,666.4 429.0,666.3 429.8,667.5 430.6,667.0 431.4,668.3 432.2,667.2 433.0,666.1 433.8,666.4 434.3,665.2 434.6,665.5 435.4,664.9 436.2,666.6 437.0,669.0 437.8,666.4 438.6,667.4 439.4,666.3 440.2,664.8 441.1,667.0 441.9,667.1 442.7,666.7 443.5,667.9 444.3,667.5 445.1,665.3 445.9,665.0 446.7,663.0 447.5,666.7 448.3,667.5 449.1,666.9 449.9,665.6 450.7,665.1 451.5,664.0 452.3,664.4 453.1,664.4 453.9,664.0 454.7,664.1 455.5,663.0 456.3,665.9 457.1,666.3 457.9,664.7 458.7,666.7 459.5,667.9 460.3,666.3 461.1,665.6 461.9,668.4 462.4,668.4 462.7,669.8 463.5,671.9 464.3,672.3 465.1,673.0 465.5,675.8 465.9,675.8 466.7,676.1 467.5,675.7 468.3,673.0 468.7,673.4 469.1,671.3 469.9,670.1 470.7,665.9 471.5,663.5 472.3,661.4 473.2,658.1 473.9,655.8 474.7,651.9 475.5,648.7 476.3,646.2 477.1,642.2 478.0,638.8 478.8,636.3 479.6,632.9 480.4,631.1 481.2,626.3 481.9,626.3 482.8,629.3 483.6,632.5 484.4,636.2 485.0,637.0 486.0,641.2 486.8,642.8 487.6,645.1 488.4,648.2 488.8,647.8 489.2,649.2 490.0,650.9 490.8,652.6 491.6,651.6 492.4,652.6 493.4,654.8 494.0,651.8 494.8,652.8 495.6,654.2 496.4,654.5 497.2,653.8 498.0,656.4 498.8,658.3 499.6,656.4 500.4,655.8 501.2,656.0 502.0,658.3 502.7,658.5 503.6,659.7 504.4,659.5 505.2,659.9 506.0,661.4 506.8,661.7 507.6,661.0 508.4,661.4 509.2,661.4 510.0,662.7 510.8,663.5 511.6,663.9 512.4,661.4 513.2,661.8 513.8,661.5 514.8,661.9 515.7,663.9 516.5,664.3 517.3,664.3 518.1,664.6 518.9,663.5 519.7,662.4 520.5,664.0 521.3,664.4 522.1,664.8 522.9,664.5 523.7,667.3 524.5,668.4 525.3,667.6 526.1,666.4 526.9,666.7 527.7,668.4 528.5,668.3 529.1,669.0 530.1,672.4 530.9,673.2 531.7,675.8 532.5,677.2 533.2,678.1 534.1,676.5 534.9,677.9 535.7,677.2 536.5,675.6 537.3,674.9 538.1,675.8 538.5,675.5 538.9,672.8 539.7,674.4 540.5,671.2 541.3,670.0 542.1,669.7 542.9,667.2 543.3,666.7 543.7,664.8 544.5,661.7 545.3,657.6 546.1,654.9 546.9,649.6 547.9,647.2 548.5,643.7 549.3,639.1 550.1,635.1 550.9,628.3 551.7,627.8 552.5,625.6 553.4,621.8 554.2,619.7 554.8,618.2 555.8,620.5 556.6,623.9 557.4,625.7 558.2,627.4 558.7,629.9 559.0,630.6 559.8,634.4 560.6,635.3 561.4,635.0 562.2,638.6 563.0,640.6 563.5,643.7 563.8,643.4 564.6,645.8 565.4,650.2 566.2,652.0 567.0,651.4 568.0,653.7 568.6,655.5 569.4,656.9 570.2,659.9 571.0,660.5 571.8,661.7 572.6,663.9 573.5,663.4 574.2,662.0 575.0,662.8 575.8,659.6 576.6,659.3 577.4,659.5 578.2,660.1 579.0,661.8 579.8,661.2 580.6,661.3 581.4,660.9 581.9,658.9 582.2,658.5 583.0,659.2 583.8,658.9 584.6,658.5 585.4,660.0 586.2,659.7 587.0,659.8 587.8,660.9 588.6,660.8 589.4,660.7 590.2,661.0 591.1,660.4 591.9,661.5 592.7,661.4 593.5,661.7 594.3,661.4 595.1,661.3 595.9,661.8 596.7,662.5 597.5,662.1 598.3,662.0 599.1,662.2 599.9,664.5 600.7,664.3 601.5,665.9 602.3,665.5 603.1,666.7 603.9,665.0 604.7,664.2 605.5,663.2 606.3,664.1 607.1,665.9 607.9,666.5 608.7,665.0 609.5,666.2 610.0,666.9 611.1,668.2 611.9,667.0 612.7,667.8 613.5,666.4 614.3,665.0 615.1,666.5 615.9,666.4 616.7,667.8 617.5,669.2 618.3,668.4 619.1,668.8 619.9,670.6 620.7,668.5 621.5,667.2 622.3,666.6 623.1,666.7 623.9,668.1" fill="none" stroke="#2ca02c" stroke-width="2.3" stroke-linejoin="round" stroke-linecap="butt"/>
<polyline points="384.9,686.5 385.7,688.2 386.5,688.4 387.3,685.4 388.1,686.0 388.9,688.3 389.7,686.9 390.5,684.7 391.3,686.5 392.1,686.5 392.9,687.4 393.7,686.5 394.5,683.9 395.3,686.5 396.1,687.7 396.9,687.0 397.7,685.9 398.5,687.0 399.3,685.7 400.1,685.6 400.9,683.8 401.7,685.0 402.5,683.8 403.4,685.7 404.2,684.5 405.0,684.7 405.8,684.4 406.6,683.1 407.4,683.0 408.2,684.3 409.0,684.6 409.8,685.4 410.6,684.5 411.4,684.8 412.2,687.8 413.0,684.3 413.8,683.7 414.6,682.6 415.4,682.6 416.2,684.5 417.0,685.2 417.8,687.1 418.6,683.5 419.4,682.5 420.2,682.9 421.0,681.6 421.8,683.9 422.6,685.5 423.4,684.1 424.2,683.4 425.0,684.1 425.8,683.4 426.7,682.1 427.4,682.9 428.2,683.2 429.0,682.8 429.8,682.5 430.6,683.1 431.4,683.0 432.2,683.5 433.0,681.9 433.8,682.0 434.6,681.9 435.4,680.2 436.2,680.4 437.0,681.4 437.8,682.5 438.6,683.3 439.4,682.9 440.2,682.3 441.1,683.1 441.9,681.5 442.7,681.6 443.5,683.7 444.3,679.6 445.1,680.8 445.4,683.7 445.9,683.6 446.7,683.7 447.5,681.8 448.3,681.6 449.1,681.7 449.9,681.5 450.2,681.5 450.7,678.9 451.5,677.2 451.9,678.1 452.3,677.3 453.1,679.5 453.9,681.6 454.5,681.8 455.5,682.2 456.3,683.1 457.1,684.6 457.9,683.9 458.7,685.9 459.5,683.7 460.3,683.8 461.1,683.3 461.9,683.4 462.7,683.1 463.5,684.3 464.3,683.6 465.1,682.8 465.9,683.3 466.7,683.7 467.5,683.4 468.3,684.8 469.1,683.9 470.1,682.7 470.7,686.8 471.5,687.6 472.3,686.9 473.2,688.1 473.9,689.3 474.7,689.1 475.5,689.6 476.3,688.3 477.1,691.2 477.9,690.3 478.7,691.8 479.6,690.5 480.4,686.0 481.2,682.4 482.0,679.9 482.6,680.1 483.6,675.2 484.4,668.6 485.2,663.5 486.0,658.9 486.8,652.3 487.1,653.0 487.6,651.2 488.4,645.2 489.2,640.9 490.3,634.8 490.8,633.2 491.6,632.3 492.2,630.4 493.2,637.7 494.0,641.5 495.1,644.9 495.6,649.2 496.4,653.8 497.2,657.6 498.0,658.3 498.8,658.5 499.6,662.8 500.4,663.6 501.2,667.6 502.0,670.0 502.8,670.2 503.6,670.7 504.4,673.6 505.2,675.1 505.9,676.3 506.8,674.6 507.6,676.7 508.4,678.2 509.2,677.6 510.0,677.1 510.8,677.6 511.6,678.8 512.4,679.2 513.2,680.4 513.8,680.0 514.8,679.9 515.7,681.0 516.5,682.4 517.3,683.8 518.1,681.8 518.9,681.0 519.7,681.0 520.5,681.4 521.3,682.0 522.1,682.0 522.9,680.4 523.7,681.0 524.5,682.3 525.3,682.2 526.1,684.6 526.9,683.1 527.7,684.7 528.5,684.5 529.3,685.5 530.1,685.8 530.9,686.0 531.7,686.6 532.3,686.9 533.3,686.5 534.1,687.8 534.9,685.8 535.7,687.4 536.5,687.7 537.3,686.9 538.1,687.0 538.9,687.7 539.7,688.6 540.5,687.7 541.3,688.6 541.6,690.0 542.1,690.2 542.9,689.3 543.7,686.9 544.5,687.3 545.3,687.6 546.1,690.0 546.9,692.0 547.9,692.8 548.5,688.6 549.3,685.8 550.1,683.7 550.9,682.6 551.7,680.5 552.4,677.8 553.4,673.6 554.2,671.0 555.0,668.2 555.5,667.0 556.6,665.6 557.4,664.7 558.2,662.7 558.7,660.3 559.0,660.4 559.8,663.3 560.6,666.6 561.4,667.1 562.2,670.4 562.5,669.7 563.0,671.9 563.8,672.3 564.6,673.7 565.4,674.8 566.2,675.8 567.0,676.2 568.0,678.2 568.6,680.2 569.4,679.4 570.2,678.7 571.0,680.3 571.8,680.2 572.6,680.5 573.4,681.7 574.2,682.6 575.0,681.7 575.8,680.3 576.6,680.2 577.4,677.8 578.2,680.7 579.0,680.2 579.8,677.1 580.6,678.9 581.4,681.2 582.2,682.1 583.0,681.0 583.8,682.8 584.6,679.0 585.4,678.2 586.2,679.0 587.0,678.6 587.8,679.3 588.6,679.8 589.4,677.8 589.9,679.1 590.2,680.8 591.1,679.7 591.9,677.5 592.7,677.6 593.5,679.3 594.3,677.8 595.1,678.1 595.9,680.1 596.7,678.8 597.5,676.5 598.3,675.2 599.1,678.2 599.9,676.4 600.7,676.9 601.5,678.0 602.3,677.2 603.1,679.5 603.9,679.7 604.7,680.7 605.5,680.0 606.3,680.8 607.1,683.2 607.9,684.0 608.3,685.8 608.7,685.9 609.5,684.1 610.3,682.1 611.1,681.4 611.9,684.5 612.7,684.8 613.5,685.7 614.3,683.5 615.1,684.7 615.9,685.9 616.3,685.6 616.7,682.9 617.5,680.6 618.3,678.1 619.1,676.2 620.1,671.6 620.7,667.3 621.5,661.6 622.3,657.5 623.1,654.7 623.9,648.3" fill="none" stroke="#d62728" stroke-width="2.3" stroke-linejoin="round" stroke-linecap="butt"/>
<polyline points="384.9,693.7 385.7,691.6 386.5,692.8 387.3,692.6 388.1,693.4 388.9,693.4 389.7,692.5 390.5,694.0 391.3,694.7 392.1,693.1 392.9,693.2 393.7,695.3 394.5,693.9 395.5,693.3 396.1,694.1 396.9,694.5 397.7,695.3 398.5,696.0 399.3,698.1 400.1,698.3 400.9,697.6 401.7,697.3 402.5,698.4 403.3,697.2 404.2,697.8 405.0,698.2 405.8,699.0 406.5,699.0 407.4,698.0 408.2,698.2 409.0,698.4 409.8,698.4 410.6,697.4 411.4,697.8 412.2,697.5 413.0,696.5 413.8,695.1 414.6,696.5 415.4,695.5 416.2,695.2 417.0,696.5 417.8,696.0 418.6,694.0 419.4,694.3 420.4,695.5 421.0,693.3 421.8,690.7 422.6,690.9 423.5,689.4 424.2,691.4 425.0,690.7 425.8,694.3 426.7,698.0 427.4,697.8 428.2,698.5 429.0,699.4 429.8,699.6 430.6,697.9 431.4,697.5 432.2,697.2 433.0,700.0 433.8,699.7 434.6,700.4 435.4,700.7 436.2,701.0 437.0,702.1 437.8,703.4 438.6,702.8 439.1,704.2 439.4,702.9 440.2,702.8 441.1,700.6 441.9,703.5 442.7,705.0 443.5,704.5 444.3,704.2 445.1,705.2 445.9,704.9 446.7,706.5 447.5,702.9 448.5,704.0 449.1,705.9 449.9,703.0 450.7,704.4 451.5,703.3 452.3,703.0 453.1,702.7 453.9,700.5 454.7,700.1 455.5,702.8 456.3,703.7 457.1,704.0 457.9,702.6 458.7,702.2 459.5,702.3 460.3,701.1 460.7,702.2 461.1,703.3 461.9,702.5 462.7,701.8 463.5,700.7 464.3,701.3 465.1,701.0 465.9,699.3 466.7,700.0 467.5,698.9 468.3,697.6 469.1,697.9 469.9,699.3 470.7,697.9 471.5,698.2 472.3,698.8 473.2,699.3 473.9,699.0 474.7,700.5 475.5,699.9 476.3,697.5 477.1,697.4 477.9,698.2 478.8,696.9 479.6,698.7 480.4,697.0 481.2,697.0 482.0,698.1 482.8,695.8 483.6,696.2 484.4,698.8 485.2,697.4 485.7,697.6 486.8,697.9 487.6,695.9 488.4,696.1 489.2,694.3 490.0,692.2 490.8,693.6 491.6,692.9 492.4,691.2 493.2,689.9 494.0,690.1 495.1,690.4 495.6,691.5 496.4,692.4 497.2,693.2 498.0,692.8 498.8,693.4 499.6,693.3 500.4,693.1 501.2,693.9 502.0,695.3 502.8,694.6 503.6,692.1 504.4,694.2 505.2,692.4 506.0,691.6 506.8,690.6 507.6,691.0 508.4,688.7 509.2,690.6 510.0,690.2 510.7,688.8 511.6,685.0 512.4,684.4 513.2,682.1 513.8,683.1 514.8,685.1 515.7,687.4 516.5,689.8 517.3,692.8 518.3,694.9 518.9,694.2 519.7,693.7 520.5,694.3 521.3,697.3 522.1,697.2 522.9,698.6 523.7,701.0 524.5,700.0 525.3,701.3 526.1,702.2 526.9,702.2 527.7,702.8 528.5,701.3 529.3,699.5 530.1,699.9 530.9,698.0 531.7,697.3 532.5,695.9 533.3,695.7 534.1,694.8 534.9,693.6 535.4,691.6 535.7,691.3 536.5,694.3 537.3,694.4 538.1,693.9 538.9,692.1 539.7,692.0 540.5,691.5 541.3,690.2 542.1,690.4 542.9,690.4 543.7,690.8 544.7,688.8 545.3,687.8 546.1,691.2 546.9,688.6 547.7,687.2 548.5,687.2 549.3,689.0 550.1,686.5 550.9,686.9 551.7,685.8 552.5,686.2 553.4,687.5 554.1,687.2 555.0,683.3 555.8,683.3 556.6,681.9 557.4,681.4 558.2,679.7 558.7,678.0 559.0,677.1 559.8,673.6 560.6,669.3 561.4,666.3 562.2,662.0 562.5,661.5 563.0,661.2 563.8,660.3 564.6,658.2 564.9,655.7 565.4,658.1 566.2,662.8 567.0,665.3 567.3,668.2 567.8,669.3 568.6,674.5 569.4,678.4 570.4,683.6 571.0,686.0 571.8,685.9 572.6,686.5 573.4,687.2 574.2,687.0 575.0,688.2 575.9,691.4 576.6,692.7 577.4,693.0 578.2,693.9 579.0,693.9 579.8,693.1 580.6,693.6 581.4,694.2 582.2,693.2 583.0,695.2 583.8,695.2 584.6,695.5 585.1,694.3 585.4,694.8 586.2,692.8 587.0,692.5 587.8,692.6 588.6,691.6 589.4,690.2 590.2,690.8 591.1,690.5 591.9,690.0 592.7,687.9 593.0,686.2 593.5,686.3 594.3,687.7 595.1,686.9 595.9,685.8 596.7,685.5 597.5,683.3 598.3,683.9 599.1,686.3 599.9,688.1 600.7,688.5 601.5,690.9 602.1,692.0 603.1,692.0 603.9,692.5 604.7,691.3 605.5,693.5 606.3,694.4 607.1,696.0 607.9,693.6 608.7,693.5 609.5,696.1 610.0,696.3 611.1,695.8 611.9,696.2 612.7,695.3 613.5,694.6 614.3,695.0 615.1,695.8 615.9,694.2 616.7,693.3 617.7,692.6 618.3,693.4 619.1,692.7 619.9,689.1 620.7,688.1 621.5,689.3 622.5,687.9 623.1,689.0 623.9,689.9" fill="none" stroke="#9467bd" stroke-width="2.3" stroke-linejoin="round" stroke-linecap="butt"/>
<polyline points="384.9,716.1 385.7,714.1 386.5,715.1 387.3,715.5 388.1,715.0 388.9,713.1 389.7,712.1 390.5,711.8 390.9,713.5 391.3,713.9 392.1,715.5 392.9,715.2 393.7,715.3 394.5,714.9 395.3,713.7 396.1,714.1 396.9,714.1 397.7,715.9 398.5,716.4 399.3,715.6 400.1,715.9 400.9,715.3 401.7,716.1 402.5,715.6 403.4,714.6 404.2,715.9 405.0,717.1 405.8,718.0 406.6,718.8 407.4,717.4 408.2,716.6 409.0,718.0 409.8,717.9 410.6,718.1 411.4,717.4 412.2,716.3 413.0,717.1 413.8,718.2 414.2,717.4 414.6,718.1 415.4,717.6 416.2,718.4 417.0,719.1 417.8,719.1 418.6,721.6 419.4,720.3 419.7,721.6 420.2,721.6 421.0,722.3 421.8,722.0 422.6,720.6 423.4,721.5 424.2,723.4 425.0,722.0 425.8,722.3 426.6,720.6 427.4,720.0 428.2,720.6 429.0,721.2 429.8,722.6 430.6,720.1 431.4,720.8 432.2,721.4 433.0,719.7 433.8,719.2 434.6,719.5 435.4,720.1 436.2,720.0 437.0,721.6 437.8,720.7 438.6,718.5 439.4,719.1 440.2,720.7 441.1,719.4 441.9,718.1 442.7,719.3 443.5,718.8 444.3,717.8 445.1,717.5 445.4,717.3 445.9,718.2 446.7,717.6 447.5,717.6 448.3,716.2 449.1,717.6 449.9,718.9 450.7,718.4 451.5,718.1 452.3,717.8 453.1,717.0 453.9,716.9 454.5,716.0 455.5,716.4 456.3,716.2 457.1,716.3 457.9,717.6 458.7,717.1 459.5,718.5 460.3,718.2 461.1,717.3 461.9,719.3 462.7,718.1 463.5,718.0 464.3,717.8 465.1,719.5 465.9,719.3 467.0,717.2 467.5,716.5 468.3,716.3 469.1,716.1 469.9,717.6 470.7,719.1 471.5,721.3 472.3,717.8 473.1,716.7 473.9,717.3 474.7,715.8 475.5,718.4 476.3,716.8 477.1,716.3 477.9,718.0 478.8,717.0 479.5,716.3 480.4,714.1 481.2,714.1 482.0,714.9 482.8,714.9 483.6,713.6 484.4,713.5 485.2,711.9 486.0,710.2 486.8,711.4 487.1,712.3 487.6,711.5 488.4,708.5 489.2,708.8 490.0,707.5 490.8,706.0 491.6,707.0 492.4,704.9 493.4,704.7 494.0,702.3 494.8,698.4 495.6,697.4 496.5,694.0 497.2,691.8 498.2,688.5 498.8,693.4 499.6,694.7 500.4,695.9 501.3,700.4 502.0,702.2 502.8,702.6 503.6,703.8 504.4,707.1 505.2,707.0 505.9,707.0 506.8,707.5 507.6,709.6 508.4,709.7 509.2,710.3 510.0,710.1 510.8,711.6 511.6,713.3 512.4,713.1 513.2,713.3 513.8,712.9 514.8,714.6 515.7,715.5 516.5,715.6 517.3,716.5 518.1,716.3 518.9,716.7 519.7,716.8 520.0,718.7 520.5,718.2 521.3,717.7 522.1,717.3 522.9,717.4 523.7,716.5 524.5,718.8 525.3,716.9 526.1,716.5 526.9,716.5 527.7,718.2 528.5,718.5 529.3,717.0 530.1,717.6 530.9,716.7 531.7,717.3 532.5,718.1 533.3,717.8 534.1,718.9 534.9,718.4 535.4,718.5 535.7,717.1 536.5,715.7 537.3,717.9 538.1,717.1 538.9,718.3 539.7,717.8 540.5,718.5 541.3,719.0 542.1,718.3 542.9,717.7 543.7,717.9 544.5,717.4 545.3,716.6 546.1,716.5 546.4,715.6 546.9,716.1 547.7,716.8 548.5,715.2 549.3,713.8 550.1,714.5 550.9,717.1 551.7,716.5 552.5,713.3 553.4,713.7 554.1,713.4 555.0,713.5 555.8,714.8 556.6,710.6 557.4,711.5 558.2,712.9 558.7,711.1 559.0,711.0 559.8,706.1 560.6,700.5 561.4,698.9 561.8,697.5 562.2,694.8 563.0,693.4 563.5,693.3 563.8,694.2 564.6,698.2 565.4,700.2 566.2,703.1 566.6,703.1 567.0,702.4 567.8,706.0 568.6,704.7 569.4,707.2 570.2,708.7 571.0,708.9 571.8,710.1 572.8,709.4 573.4,709.7 574.2,710.6 575.0,709.8 575.8,711.2 576.6,710.9 577.4,710.4 578.2,709.0 579.0,708.6 579.8,709.4 580.6,711.8 581.4,708.6 581.9,709.0 582.2,708.4 583.0,708.2 583.8,710.5 584.6,708.9 585.4,708.5 586.2,707.4 587.0,707.2 587.8,706.6 588.6,706.6 589.4,707.5 590.2,707.4 591.1,707.8 591.9,706.7 592.7,706.5 593.5,707.5 594.3,708.6 595.1,708.2 595.9,707.4 596.7,706.2 597.5,706.4 598.3,706.0 599.1,706.4 599.9,707.6 600.7,706.4 601.5,706.5 602.3,706.3 603.1,703.5 603.9,705.7 604.7,707.3 605.5,705.5 606.3,705.3 607.1,707.2 607.9,708.1 608.7,708.4 609.5,706.8 610.3,704.8 611.1,706.9 611.9,708.9 612.7,710.0 613.5,709.1 614.3,709.1 615.1,709.6 615.9,711.0 616.3,709.0 616.7,707.9 617.5,707.5 618.3,707.5 619.1,707.1 619.9,707.2 620.7,708.1 621.5,708.4 622.5,707.3 623.1,704.7 623.9,704.1" fill="none" stroke="#8c564b" stroke-width="2.3" stroke-linejoin="round" stroke-linecap="butt"/>
<polyline points="384.9,734.9 385.7,734.2 386.5,734.2 387.3,735.9 388.1,735.8 388.9,736.4 389.7,735.3 390.5,734.2 390.9,735.7 391.3,735.1 392.1,735.2 392.9,735.4 393.7,735.2 394.5,734.0 395.3,733.8 396.1,732.5 396.9,732.4 397.7,732.9 398.5,732.7 399.3,733.6 400.3,733.3 400.9,730.6 401.7,729.9 402.5,731.7 403.3,731.3 404.2,730.8 405.0,730.8 405.8,731.2 406.6,730.3 407.4,729.1 408.2,729.2 409.0,728.5 409.8,729.3 410.6,728.4 411.4,727.7 412.2,727.3 413.0,726.4 413.8,725.3 414.2,725.6 414.6,728.5 415.4,727.8 416.2,726.7 417.0,727.4 417.8,725.9 418.6,724.1 419.4,725.1 420.2,723.9 421.0,722.3 421.8,722.5 422.6,722.5 423.4,722.8 424.2,722.5 425.0,725.1 425.8,723.7 426.7,721.9 427.4,721.6 428.2,722.6 429.0,723.5 429.8,724.2 430.6,722.9 431.4,720.8 432.2,723.7 433.0,724.9 433.8,723.9 434.6,723.8 435.4,724.4 436.2,720.8 437.0,722.6 437.8,724.0 438.6,723.3 439.1,724.4 439.4,724.7 440.2,724.1 441.1,723.1 441.9,722.8 442.7,722.6 443.5,723.2 444.3,723.6 445.1,722.6 445.9,722.1 446.7,719.6 447.5,719.4 448.5,721.2 449.1,721.1 449.9,720.9 450.7,722.0 451.5,721.8 452.3,722.5 453.1,723.9 453.9,724.9 454.7,725.5 455.5,725.8 456.3,725.2 457.1,726.7 457.6,726.6 458.7,726.3 459.5,725.8 460.3,724.0 461.1,723.4 461.9,725.0 462.7,726.6 463.5,728.0 464.3,726.8 465.1,726.3 465.9,726.1 466.7,728.4 467.5,728.9 468.3,728.2 469.1,731.3 470.1,731.5 470.7,729.0 471.5,727.9 472.3,729.2 473.1,729.5 473.9,731.3 474.9,732.2 475.5,731.1 476.3,731.4 477.1,732.6 477.9,737.7 478.7,741.7 479.6,739.1 480.4,737.0 481.2,735.6 482.0,734.6 482.6,734.1 483.6,730.1 484.4,725.9 485.2,724.0 486.0,722.4 486.8,720.5 487.1,719.7 487.6,718.1 488.4,713.1 489.2,708.0 490.0,705.0 490.8,702.0 491.2,700.0 491.6,698.5 492.4,697.3 493.2,695.6 494.0,692.7 494.3,692.1 494.8,692.3 495.6,695.4 496.4,698.7 497.5,703.8 498.0,705.7 498.8,709.5 499.6,713.8 500.4,715.2 501.3,718.6 502.0,720.0 502.8,719.7 503.6,720.8 504.4,722.6 505.2,724.4 506.0,724.5 506.8,724.2 507.5,724.9 508.4,726.9 509.2,726.6 510.0,727.8 510.8,726.9 511.6,725.1 512.4,726.1 513.2,727.1 514.0,726.6 514.8,727.4 515.2,727.1 515.7,727.8 516.5,727.8 517.3,726.8 518.1,726.0 518.9,726.4 519.7,726.5 520.5,725.5 521.3,726.3 522.1,726.5 522.9,724.9 523.7,727.2 524.5,726.2 525.3,724.5 526.1,723.5 526.9,725.0 527.7,726.3 528.5,725.0 529.3,725.2 530.1,725.7 530.9,725.0 531.7,725.0 532.5,726.0 533.3,725.3 534.1,724.4 534.9,724.4 535.7,724.3 536.5,724.7 537.3,724.9 538.1,725.5 538.9,725.5 539.7,724.8 540.5,725.4 541.3,722.8 542.1,723.3 542.9,722.8 543.3,723.0 543.7,722.5 544.5,723.5 545.3,724.9 546.1,723.5 546.9,723.5 547.7,725.4 548.5,726.6 549.3,725.4 550.1,723.8 550.9,724.3 551.7,726.8 552.5,725.0 553.4,723.4 554.2,723.8 555.0,724.6 555.8,724.8 556.6,725.2 557.4,726.3 558.2,725.0 558.7,724.0 559.0,722.4 559.8,725.6 560.6,725.2 561.4,723.8 562.2,723.6 563.0,724.9 563.8,726.8 564.6,726.3 565.4,725.9 566.2,725.5 567.0,725.0 568.0,724.8 568.6,722.1 569.4,720.7 569.9,718.8 571.0,722.9 571.9,726.4 572.6,725.5 573.4,724.2 574.2,723.8 575.0,725.5 575.8,726.5 576.6,727.2 577.4,727.5 578.2,725.9 579.0,726.1 579.8,723.9 580.6,725.3 581.4,724.6 581.9,724.3 582.2,726.1 583.0,725.7 583.8,724.7 584.6,725.3 585.4,725.9 586.2,726.8 587.0,724.9 587.8,723.9 588.6,725.2 589.4,724.0 590.2,723.5 591.1,723.0 591.9,723.4 592.7,724.2 593.5,724.0 594.3,723.5 595.1,723.5 595.9,722.8 596.7,724.2 597.5,723.1 598.3,724.6 599.1,725.5 599.9,724.1 600.7,723.7 601.5,723.9 602.3,722.0 603.1,720.5 603.9,721.9 604.7,723.9 605.5,724.7 606.3,725.3 607.1,725.6 607.9,722.8 608.7,722.3 609.5,724.9 610.0,723.8 611.1,723.4 611.9,725.0 612.7,723.3 613.5,722.0 614.3,722.1 615.1,723.5 615.9,721.9 616.7,721.7 617.5,720.3 618.3,720.6 619.4,722.4 619.9,721.8 620.7,721.3 621.5,721.1 622.3,720.5 623.1,719.0 623.9,720.2" fill="none" stroke="#e377c2" stroke-width="2.3" stroke-linejoin="round" stroke-linecap="butt"/>
<polyline points="384.9,752.8 385.7,751.5 386.5,752.3 387.3,753.9 388.1,752.7 388.9,751.7 389.7,752.3 390.5,753.4 391.3,752.0 392.1,752.3 392.9,751.9 393.7,750.5 394.5,748.6 395.5,748.6 396.1,749.9 396.9,749.3 397.7,747.1 398.5,747.3 399.3,747.3 400.1,748.0 400.9,746.5 401.7,746.9 402.5,746.7 403.3,747.4 404.2,745.2 405.0,745.8 405.8,744.9 406.5,743.7 407.4,743.4 408.2,741.9 409.0,743.2 409.8,743.2 410.6,743.0 411.4,743.9 412.2,743.4 413.0,743.4 413.8,743.3 414.6,744.0 415.4,742.5 415.9,743.9 416.2,746.0 417.0,744.9 417.8,744.2 418.6,743.8 419.4,746.4 420.2,744.0 421.0,744.0 421.8,744.1 422.6,743.5 423.4,744.5 424.2,744.5 425.0,743.8 425.8,743.5 426.7,741.8 427.4,743.3 428.2,744.4 429.0,744.1 429.8,743.9 430.6,744.8 431.4,747.2 432.2,746.8 433.0,747.4 433.8,747.6 434.6,748.9 435.4,748.4 436.2,746.6 437.0,746.5 437.8,748.2 438.6,747.5 439.1,747.5 439.4,747.9 440.2,748.3 441.1,747.6 441.9,746.2 442.7,748.0 443.5,750.2 444.3,749.8 445.1,747.8 445.9,747.9 446.7,748.9 447.5,748.3 448.3,748.6 449.1,751.3 449.9,750.7 450.7,749.4 451.5,749.8 452.3,751.1 453.1,751.0 453.9,749.8 454.5,749.1 455.5,749.5 456.3,750.8 457.1,751.3 457.9,750.7 458.7,750.7 459.5,750.3 460.3,751.7 461.1,752.4 461.9,752.3 462.7,751.4 463.5,751.3 464.3,752.6 465.1,751.7 465.5,752.5 465.9,754.6 466.7,755.1 467.5,755.8 468.3,756.7 469.1,757.1 469.9,756.5 470.7,759.2 471.8,761.7 472.3,758.2 473.1,756.5 473.9,754.3 474.7,750.3 475.5,746.6 476.3,744.3 477.1,743.6 477.9,739.5 478.8,736.7 479.6,732.3 480.4,731.4 480.9,731.2 482.0,728.6 482.8,726.0 483.6,724.3 484.4,720.1 485.2,719.7 486.0,716.7 486.8,714.8 487.1,714.0 487.6,714.0 488.4,713.5 489.2,713.2 490.0,710.8 490.8,710.4 491.6,708.5 491.9,707.2 492.4,708.9 493.2,710.9 494.0,711.4 495.1,713.4 495.6,716.5 496.4,719.8 497.2,725.9 498.2,731.1 498.8,731.9 499.6,735.3 500.4,738.3 501.2,741.3 502.0,741.0 502.7,744.6 503.6,745.5 504.4,749.0 505.2,751.3 506.0,752.3 506.8,751.8 507.6,751.9 508.4,751.8 509.0,751.1 510.0,752.4 510.8,755.3 511.6,754.9 512.4,754.4 513.2,753.0 514.0,752.9 514.8,752.6 515.7,754.8 516.5,755.7 517.3,755.1 518.1,753.9 518.9,752.0 519.7,752.2 520.0,752.9 520.5,754.2 521.3,754.0 522.1,753.8 522.9,753.9 523.7,753.2 524.5,752.9 525.3,754.0 526.1,754.2 526.9,755.0 527.7,752.3 528.5,751.9 529.1,754.5 530.1,753.9 530.9,754.3 531.7,753.6 532.5,755.4 533.3,757.5 534.1,757.6 534.9,758.2 535.7,757.0 536.5,758.3 537.3,759.7 538.1,760.3 538.9,759.5 539.7,759.3 540.2,760.7 540.5,759.3 541.3,759.2 542.1,760.2 542.9,760.4 543.7,758.4 544.5,758.4 545.3,755.9 546.1,757.0 546.9,759.3 547.7,756.7 548.5,756.8 549.5,756.9 550.1,756.5 550.9,753.8 551.7,750.8 552.5,750.3 553.4,750.4 554.2,749.6 555.0,749.0 555.8,747.6 556.6,744.7 557.2,744.6 558.2,743.7 559.0,740.7 559.8,738.6 560.6,737.0 561.1,735.8 561.4,736.0 562.2,739.3 563.0,740.8 563.8,740.8 564.6,738.8 565.4,739.3 565.9,742.2 566.2,742.7 567.0,744.2 567.8,745.8 568.6,746.9 569.4,748.0 570.2,750.3 571.1,752.1 571.8,752.8 572.6,753.3 573.4,753.7 574.2,753.0 575.0,752.4 575.8,751.5 576.6,754.0 577.4,753.6 578.2,752.5 579.0,752.5 579.8,753.8 580.6,755.0 581.4,754.7 581.9,754.3 582.2,753.1 583.0,751.1 583.8,753.2 584.6,753.1 585.4,750.3 586.2,752.1 587.0,754.8 587.8,754.5 588.6,752.8 589.4,752.4 590.2,752.3 591.3,752.4 591.9,754.4 592.7,754.9 593.5,753.2 594.3,752.9 595.1,753.1 595.9,753.1 596.7,751.3 597.5,748.6 598.3,749.7 599.1,748.9 599.9,746.4 600.7,748.0 601.5,748.7 602.3,750.1 603.1,750.3 603.9,751.0 604.7,751.9 605.5,751.8 606.3,751.7 607.1,752.7 607.9,752.9 608.7,752.6 609.5,752.2 610.0,752.6 611.1,752.2 611.9,753.6 612.7,752.8 613.5,752.6 614.3,750.0 615.1,749.3 615.9,750.6 616.7,750.4 617.5,751.9 618.3,753.1 619.1,753.2 619.9,753.6 620.7,753.1 621.5,752.2 622.3,752.5 623.1,752.9 623.9,751.9" fill="none" stroke="#7f7f7f" stroke-width="2.3" stroke-linejoin="round" stroke-linecap="butt"/>
<polyline points="384.9,759.2 385.7,762.2 386.5,764.2 387.3,766.0 388.1,769.4 388.9,770.4 389.2,770.3 389.7,771.2 390.5,772.6 391.3,772.8 392.1,774.5 392.9,772.9 393.7,775.2 394.5,779.0 395.5,779.8 396.1,779.8 396.9,777.7 397.7,779.8 398.5,781.0 399.3,779.4 400.1,779.8 400.9,779.1 401.7,780.7 402.5,779.9 403.3,779.5 404.2,779.3 405.0,778.9 405.8,780.1 406.6,781.8 407.4,783.8 407.9,783.3 409.0,781.9 409.8,780.5 410.6,782.0 411.4,783.4 412.2,782.8 413.0,782.8 413.8,782.6 414.6,782.9 415.4,783.2 416.2,780.1 417.0,780.2 417.8,781.8 418.7,782.6 419.4,783.0 420.2,781.8 421.0,782.9 421.8,783.9 422.6,783.8 423.4,782.3 424.2,779.8 425.0,779.4 425.8,779.1 426.6,778.9 427.4,778.3 428.2,779.7 429.0,779.3 429.8,779.1 430.6,779.4 431.4,778.7 432.2,779.7 433.0,779.6 433.8,778.3 434.3,778.0 434.6,778.3 435.4,777.7 436.2,778.7 437.0,780.5 437.8,780.7 438.6,778.6 439.4,777.2 440.2,778.7 441.1,778.7 441.9,777.3 442.7,776.3 443.5,775.1 444.3,774.9 445.1,776.1 445.9,774.7 446.7,774.4 447.5,774.8 448.3,777.2 449.1,775.4 449.9,773.5 450.7,773.9 451.5,775.5 452.3,775.5 453.1,773.5 453.9,775.5 454.7,775.6 455.5,775.0 456.3,774.3 457.1,774.2 457.9,775.1 458.7,775.3 459.5,775.4 460.3,775.6 461.1,774.9 461.9,776.2 462.7,776.9 463.5,774.6 464.3,775.5 465.1,775.7 465.5,775.2 465.9,776.3 466.7,775.0 467.5,774.3 468.3,772.7 469.1,773.4 469.9,774.1 470.7,775.5 471.5,776.2 472.3,776.8 473.1,776.9 473.9,773.8 474.7,774.3 475.5,776.6 476.3,777.5 477.1,775.3 477.9,775.5 478.8,774.9 479.6,775.5 480.4,775.3 480.9,775.4 482.0,776.9 482.8,775.9 483.6,776.7 484.4,776.3 485.2,774.6 486.0,773.3 486.8,773.7 487.6,773.3 488.4,774.4 489.2,773.4 490.0,773.2 490.8,774.6 491.6,773.1 491.9,773.5 492.4,772.8 493.2,767.5 494.0,763.3 494.3,762.2 494.8,761.0 495.6,760.9 496.5,759.6 497.2,761.5 498.0,763.3 498.8,765.8 499.6,768.3 500.3,770.1 501.2,772.7 502.0,774.3 502.8,778.2 503.6,778.5 504.4,779.1 505.2,778.1 506.0,781.1 506.8,781.2 507.6,781.5 508.4,779.9 509.2,779.6 510.0,780.2 510.8,780.1 511.6,779.0 512.4,779.3 513.2,779.7 513.8,780.7 514.8,780.1 515.7,779.3 516.5,779.1 517.3,778.4 518.1,779.7 518.9,780.4 519.7,779.7 520.5,779.9 521.3,780.5 522.1,778.1 522.9,778.7 523.7,779.8 524.5,778.5 525.3,780.1 526.1,780.0 526.9,779.6 527.7,776.2 528.5,778.0 529.3,778.4 530.1,779.1 530.9,779.3 531.7,778.4 532.5,778.5 533.3,778.7 534.1,778.2 534.9,779.7 535.7,780.9 536.5,778.5 537.3,777.6 538.1,780.6 538.9,778.5 539.7,778.2 540.5,778.5 541.3,778.9 541.6,780.5 542.1,780.4 542.9,780.8 543.7,778.1 544.5,776.7 545.3,777.1 546.1,776.4 546.9,777.4 547.7,778.9 548.5,779.3 549.3,776.3 550.1,775.9 551.0,775.0 551.7,773.0 552.5,773.4 553.4,774.3 554.2,772.9 555.0,773.2 555.8,774.5 556.6,774.0 557.4,774.0 558.2,774.6 559.0,775.8 559.8,772.2 560.3,770.7 561.4,770.6 562.2,770.0 563.0,768.8 563.8,768.3 564.2,768.9 564.6,765.2 565.4,762.4 565.9,759.9 566.2,761.9 567.0,765.2 567.3,766.6 567.8,767.9 568.6,769.3 569.4,769.3 570.2,769.3 571.0,768.6 571.8,767.1 572.6,769.7 573.4,769.2 574.2,769.3 575.0,770.1 575.8,769.0 576.6,768.7 577.4,766.9 578.2,768.9 579.0,769.7 579.8,769.0 580.6,769.8 581.4,768.5 581.9,770.3 582.2,773.4 583.0,769.1 583.8,767.6 584.6,769.2 585.4,769.5 586.2,770.7 587.0,770.2 587.8,770.1 588.6,771.3 589.4,770.5 590.2,771.3 591.1,770.3 591.9,770.1 592.7,771.0 593.5,770.3 594.3,771.3 595.1,772.2 595.9,772.0 596.7,771.6 597.5,771.6 598.3,771.2 599.1,770.3 599.9,771.1 600.7,771.7 601.5,770.2 602.3,769.1 603.1,769.6 603.9,770.1 604.7,771.0 605.5,769.2 606.3,768.0 607.1,766.7 607.9,766.5 608.6,766.8 609.5,768.3 610.3,767.2 611.1,766.1 611.9,766.7 612.7,767.7 613.5,768.0 614.3,769.5 615.1,769.5 615.9,768.8 616.3,770.2 616.7,769.7 617.5,769.7 618.3,768.8 619.1,769.4 619.9,768.0 620.7,768.6 621.5,768.9 622.3,766.8 623.1,766.6 623.9,764.7" fill="none" stroke="#bcbd22" stroke-width="2.3" stroke-linejoin="round" stroke-linecap="butt"/>
<polyline points="384.9,790.0 385.7,790.2 386.5,790.4 387.3,790.1 388.1,789.3 388.9,789.9 389.7,789.0 390.5,786.4 391.3,786.4 392.3,786.2 392.9,786.7 393.7,785.6 394.5,785.8 395.3,786.6 396.1,786.0 396.9,786.0 397.7,786.4 398.5,786.7 399.3,787.0 400.1,786.2 400.9,788.2 401.7,787.8 402.5,786.1 403.3,787.9 404.2,787.4 405.0,787.1 405.8,787.6 406.6,786.8 407.4,785.3 408.2,787.3 409.0,787.6 409.8,786.7 410.6,787.0 411.1,785.6 411.4,787.0 412.2,788.5 413.0,788.2 413.8,787.1 414.6,787.7 415.4,787.1 416.2,788.0 417.0,788.0 417.8,786.2 418.6,786.8 419.4,786.1 419.7,787.5 420.2,783.6 421.1,779.4 421.8,782.2 422.6,781.9 423.4,782.1 424.2,783.5 425.0,781.4 425.8,782.0 426.6,783.7 427.4,781.8 428.2,782.8 429.0,781.4 429.8,779.5 430.6,779.4 431.4,778.5 432.2,779.9 432.9,780.4 433.8,780.7 434.6,782.2 435.4,781.2 436.2,781.4 437.0,783.4 437.8,785.8 438.6,786.4 439.1,787.7 439.4,787.5 440.2,785.7 441.1,785.1 441.9,785.6 442.7,785.6 443.5,787.0 444.3,785.7 445.1,786.4 445.9,786.3 446.7,784.8 447.5,784.6 448.3,784.7 449.1,784.8 449.9,786.9 450.7,789.4 451.5,787.4 452.3,786.9 453.1,788.1 453.9,788.6 454.7,787.7 455.5,788.2 456.3,790.3 457.1,791.2 457.9,790.2 458.7,791.2 459.5,792.3 460.3,791.8 461.1,790.8 461.9,792.6 462.4,790.1 462.7,789.3 463.5,791.0 464.3,792.7 465.1,792.3 465.9,793.1 466.7,795.4 467.5,797.0 468.3,797.4 468.7,798.6 469.1,796.1 469.9,794.8 470.7,795.2 471.5,795.5 472.3,796.2 473.2,791.4 473.9,783.2 474.7,774.0 475.6,766.5 476.3,762.0 477.1,756.3 477.9,749.4 478.3,747.7 478.8,748.0 479.6,752.0 480.4,757.3 480.9,759.0 482.0,762.4 482.8,765.4 483.6,767.6 484.4,769.8 485.2,772.3 485.7,771.7 486.8,772.7 487.6,773.7 488.4,774.4 489.2,774.2 490.0,774.5 490.8,775.4 491.6,775.8 491.9,777.1 492.4,776.0 493.2,776.3 494.0,777.2 494.8,777.2 495.6,779.2 496.4,781.1 497.2,782.4 498.2,782.7 498.8,782.5 499.6,783.8 500.4,782.1 501.2,782.0 502.0,785.7 502.8,786.9 503.6,786.3 504.4,786.7 505.2,788.6 506.0,789.4 506.8,789.4 507.5,790.0 508.4,790.2 509.2,790.6 510.0,792.6 510.8,792.4 511.6,794.9 512.4,795.4 513.2,795.6 513.8,795.2 514.8,794.3 515.7,791.5 516.5,791.7 517.3,791.8 518.1,791.6 518.9,791.9 519.7,790.5 520.5,791.5 521.3,791.8 522.1,791.8 522.9,792.5 523.7,789.4 524.5,788.5 525.3,788.5 526.1,790.6 526.9,790.1 527.7,788.3 528.5,788.6 529.3,791.6 530.1,790.7 530.9,790.1 531.7,789.8 532.5,789.6 533.3,789.5 534.1,789.3 534.9,790.4 535.4,790.1 535.7,790.1 536.5,791.1 537.3,791.9 538.1,794.2 538.9,792.9 539.7,793.1 540.5,794.3 541.3,795.8 541.6,795.3 542.1,796.3 542.9,795.4 543.7,793.8 544.5,793.5 545.3,792.6 546.1,791.7 546.9,791.2 547.7,789.2 548.5,787.8 549.5,789.0 550.1,788.3 550.9,785.1 551.7,781.9 552.5,781.4 553.4,776.1 554.2,774.2 555.0,773.6 555.5,774.0 556.6,775.6 557.4,777.2 558.2,782.0 558.7,782.0 559.0,781.9 559.8,782.1 560.6,784.3 561.4,784.9 562.2,787.0 563.0,788.5 563.8,792.2 564.2,793.4 564.6,791.7 565.4,790.2 566.2,791.6 567.0,790.8 567.8,789.2 568.6,789.3 569.4,789.6 570.2,789.4 571.1,788.1 571.8,788.2 572.6,787.0 573.4,786.3 574.2,787.4 575.0,787.5 575.8,788.2 576.6,788.3 577.4,789.4 578.2,789.7 579.0,788.1 579.8,787.2 580.6,785.8 581.4,786.4 582.2,789.1 583.0,788.7 583.8,787.6 584.6,789.5 585.4,789.7 586.2,788.6 586.7,790.9 587.0,791.3 587.8,790.6 588.6,790.1 589.4,790.6 590.2,792.0 591.1,791.6 591.9,790.6 592.7,793.1 593.5,793.3 594.3,794.0 595.1,794.4 595.9,795.1 596.7,794.8 597.5,795.2 598.3,798.7 599.1,796.5 599.9,797.0 600.7,796.6 601.5,795.3 602.3,795.7 603.1,795.2 603.9,794.8 604.7,793.0 605.5,795.0 606.3,794.7 607.1,794.0 607.9,794.1 608.6,792.9 609.5,793.8 610.3,792.8 611.1,794.9 611.9,795.7 612.7,795.5 613.5,795.0 614.3,794.0 615.1,794.4 615.9,794.4 616.7,794.8 617.5,798.5 618.3,797.5 619.4,797.7 619.9,797.8 620.7,798.7 621.5,799.2 622.3,798.2 623.1,796.1 623.9,795.2" fill="none" stroke="#17becf" stroke-width="2.3" stroke-linejoin="round" stroke-linecap="butt"/>
<line x1="384.9" y1="494.3" x2="384.9" y2="839.5" stroke="#000" stroke-width="1.2"/>
<line x1="379.6" y1="792.0" x2="384.9" y2="792.0" stroke="#000" stroke-width="1.2"/>
<text x="373.9" y="797.9" font-size="15.3" text-anchor="end" fill="#000">0</text>
<line x1="379.6" y1="728.0" x2="384.9" y2="728.0" stroke="#000" stroke-width="1.2"/>
<text x="373.9" y="733.9" font-size="15.3" text-anchor="end" fill="#000">50</text>
<line x1="379.6" y1="664.0" x2="384.9" y2="664.0" stroke="#000" stroke-width="1.2"/>
<text x="373.9" y="669.9" font-size="15.3" text-anchor="end" fill="#000">100</text>
<line x1="379.6" y1="600.0" x2="384.9" y2="600.0" stroke="#000" stroke-width="1.2"/>
<text x="373.9" y="605.9" font-size="15.3" text-anchor="end" fill="#000">150</text>
<line x1="379.6" y1="536.0" x2="384.9" y2="536.0" stroke="#000" stroke-width="1.2"/>
<text x="373.9" y="541.9" font-size="15.3" text-anchor="end" fill="#000">200</text>
<line x1="384.9" y1="839.5" x2="624.9" y2="839.5" stroke="#000" stroke-width="1.2"/>
<line x1="384.9" y1="839.5" x2="384.9" y2="844.8" stroke="#000" stroke-width="1.2"/>
<text x="384.9" y="861.1" font-size="15.3" text-anchor="middle" fill="#000">0</text>
<line x1="432.9" y1="839.5" x2="432.9" y2="844.8" stroke="#000" stroke-width="1.2"/>
<text x="432.9" y="861.1" font-size="15.3" text-anchor="middle" fill="#000">2</text>
<line x1="480.9" y1="839.5" x2="480.9" y2="844.8" stroke="#000" stroke-width="1.2"/>
<text x="480.9" y="861.1" font-size="15.3" text-anchor="middle" fill="#000">4</text>
<line x1="528.9" y1="839.5" x2="528.9" y2="844.8" stroke="#000" stroke-width="1.2"/>
<text x="528.9" y="861.1" font-size="15.3" text-anchor="middle" fill="#000">6</text>
<line x1="576.9" y1="839.5" x2="576.9" y2="844.8" stroke="#000" stroke-width="1.2"/>
<text x="576.9" y="861.1" font-size="15.3" text-anchor="middle" fill="#000">8</text>
<line x1="624.9" y1="839.5" x2="624.9" y2="844.8" stroke="#000" stroke-width="1.2"/>
<text x="624.9" y="861.1" font-size="15.3" text-anchor="middle" fill="#000">10</text>
<text x="504.9" y="486.0" font-size="18.3" text-anchor="middle" fill="#000">non-somatic roi 2</text>
<text x="504.9" y="880.8" font-size="15.3" text-anchor="middle" fill="#000">Time from</text>
<text x="504.9" y="897.7" font-size="15.3" text-anchor="middle" fill="#000">start of movie (s)</text>
</g>
<defs><filter id="bl" x="-5%" y="-5%" width="110%" height="110%" color-interpolation-filters="sRGB"><feTurbulence type="fractalNoise" baseFrequency="0.11" numOctaves="2" seed="7" result="n"/><feDisplacementMap in="SourceGraphic" in2="n" scale="6" xChannelSelector="R" yChannelSelector="G" result="d"/><feGaussianBlur in="d" stdDeviation="0.95" result="b"/><feTurbulence type="fractalNoise" baseFrequency="0.075" numOctaves="1" seed="11" result="n2"/><feColorMatrix in="n2" type="matrix" values="1.5 0 0 0 0.05  1.5 0 0 0 0.05  1.5 0 0 0 0.05  0 0 0 0 1" result="m"/><feComposite in="b" in2="m" operator="arithmetic" k1="1" k2="0" k3="0" k4="0"/></filter><filter id="bl2" x="-40%" y="-5%" width="180%" height="110%" color-interpolation-filters="sRGB"><feGaussianBlur stdDeviation="2.0"/></filter><linearGradient id="hsv" x1="0" x2="1" y1="0" y2="0"><stop offset="0.000%" stop-color="#ff0000"/><stop offset="15.873%" stop-color="#ffef00"/><stop offset="17.460%" stop-color="#f7ff00"/><stop offset="33.333%" stop-color="#08ff00"/><stop offset="34.921%" stop-color="#00ff10"/><stop offset="50.794%" stop-color="#00ffff"/><stop offset="66.667%" stop-color="#0010ff"/><stop offset="68.254%" stop-color="#0800ff"/><stop offset="84.127%" stop-color="#f700ff"/><stop offset="85.714%" stop-color="#ff00ef"/><stop offset="100.000%" stop-color="#ff0018"/></linearGradient></defs>
<rect x="734.0" y="37.5" width="422.5" height="15.8" fill="url(#hsv)" stroke="#000" stroke-width="1.2"/>
<line x1="734.0" y1="53.3" x2="734.0" y2="58.8" stroke="#000" stroke-width="1.2"/>
<text x="734.0" y="75.2" font-size="15.3" text-anchor="middle" fill="#000">0</text>
<line x1="804.4" y1="53.3" x2="804.4" y2="58.8" stroke="#000" stroke-width="1.2"/>
<text x="804.4" y="75.2" font-size="15.3" text-anchor="middle" fill="#000">10</text>
<line x1="874.8" y1="53.3" x2="874.8" y2="58.8" stroke="#000" stroke-width="1.2"/>
<text x="874.8" y="75.2" font-size="15.3" text-anchor="middle" fill="#000">20</text>
<line x1="945.2" y1="53.3" x2="945.2" y2="58.8" stroke="#000" stroke-width="1.2"/>
<text x="945.2" y="75.2" font-size="15.3" text-anchor="middle" fill="#000">30</text>
<line x1="1015.7" y1="53.3" x2="1015.7" y2="58.8" stroke="#000" stroke-width="1.2"/>
<text x="1015.7" y="75.2" font-size="15.3" text-anchor="middle" fill="#000">40</text>
<line x1="1086.1" y1="53.3" x2="1086.1" y2="58.8" stroke="#000" stroke-width="1.2"/>
<text x="1086.1" y="75.2" font-size="15.3" text-anchor="middle" fill="#000">50</text>
<line x1="1156.5" y1="53.3" x2="1156.5" y2="58.8" stroke="#000" stroke-width="1.2"/>
<text x="1156.5" y="75.2" font-size="15.3" text-anchor="middle" fill="#000">60</text>
<text x="945.2" y="28.3" font-size="18.3" text-anchor="middle" fill="#000">Preferred Frame time (s)</text>
<rect x="1202.0" y="37.5" width="422.5" height="15.8" fill="url(#hsv)" stroke="#000" stroke-width="1.2"/>
<line x1="1202.0" y1="53.3" x2="1202.0" y2="58.8" stroke="#000" stroke-width="1.2"/>
<text x="1202.0" y="75.2" font-size="15.3" text-anchor="middle" fill="#000">0</text>
<line x1="1252.8" y1="53.3" x2="1252.8" y2="58.8" stroke="#000" stroke-width="1.2"/>
<text x="1252.8" y="75.2" font-size="15.3" text-anchor="middle" fill="#000">25</text>
<line x1="1303.7" y1="53.3" x2="1303.7" y2="58.8" stroke="#000" stroke-width="1.2"/>
<text x="1303.7" y="75.2" font-size="15.3" text-anchor="middle" fill="#000">50</text>
<line x1="1354.5" y1="53.3" x2="1354.5" y2="58.8" stroke="#000" stroke-width="1.2"/>
<text x="1354.5" y="75.2" font-size="15.3" text-anchor="middle" fill="#000">75</text>
<line x1="1405.3" y1="53.3" x2="1405.3" y2="58.8" stroke="#000" stroke-width="1.2"/>
<text x="1405.3" y="75.2" font-size="15.3" text-anchor="middle" fill="#000">100</text>
<line x1="1456.1" y1="53.3" x2="1456.1" y2="58.8" stroke="#000" stroke-width="1.2"/>
<text x="1456.1" y="75.2" font-size="15.3" text-anchor="middle" fill="#000">125</text>
<line x1="1507.0" y1="53.3" x2="1507.0" y2="58.8" stroke="#000" stroke-width="1.2"/>
<text x="1507.0" y="75.2" font-size="15.3" text-anchor="middle" fill="#000">150</text>
<line x1="1557.8" y1="53.3" x2="1557.8" y2="58.8" stroke="#000" stroke-width="1.2"/>
<text x="1557.8" y="75.2" font-size="15.3" text-anchor="middle" fill="#000">175</text>
<line x1="1608.6" y1="53.3" x2="1608.6" y2="58.8" stroke="#000" stroke-width="1.2"/>
<text x="1608.6" y="75.2" font-size="15.3" text-anchor="middle" fill="#000">200</text>
<text x="1413.2" y="28.3" font-size="18.3" text-anchor="middle" fill="#000">Preferred frame response amplitude (%ΔF/F)</text>
<rect x="1691.2" y="37.5" width="422.0" height="15.8" fill="url(#hsv)" stroke="#000" stroke-width="1.2"/>
<line x1="1746.0" y1="53.3" x2="1746.0" y2="58.8" stroke="#000" stroke-width="1.2"/>
<text x="1746.0" y="75.2" font-size="15.3" text-anchor="middle" fill="#000">0.1</text>
<line x1="1805.7" y1="53.3" x2="1805.7" y2="58.8" stroke="#000" stroke-width="1.2"/>
<text x="1805.7" y="75.2" font-size="15.3" text-anchor="middle" fill="#000">0.2</text>
<line x1="1865.5" y1="53.3" x2="1865.5" y2="58.8" stroke="#000" stroke-width="1.2"/>
<text x="1865.5" y="75.2" font-size="15.3" text-anchor="middle" fill="#000">0.3</text>
<line x1="1925.2" y1="53.3" x2="1925.2" y2="58.8" stroke="#000" stroke-width="1.2"/>
<text x="1925.2" y="75.2" font-size="15.3" text-anchor="middle" fill="#000">0.4</text>
<line x1="1984.9" y1="53.3" x2="1984.9" y2="58.8" stroke="#000" stroke-width="1.2"/>
<text x="1984.9" y="75.2" font-size="15.3" text-anchor="middle" fill="#000">0.5</text>
<line x1="2044.6" y1="53.3" x2="2044.6" y2="58.8" stroke="#000" stroke-width="1.2"/>
<text x="2044.6" y="75.2" font-size="15.3" text-anchor="middle" fill="#000">0.6</text>
<line x1="2104.4" y1="53.3" x2="2104.4" y2="58.8" stroke="#000" stroke-width="1.2"/>
<text x="2104.4" y="75.2" font-size="15.3" text-anchor="middle" fill="#000">0.7</text>
<text x="1902.2" y="28.3" font-size="18.3" text-anchor="middle" fill="#000">Response reliability</text>
<defs><radialGradient id="g0"><stop offset="0" stop-color="#f1562c"/><stop offset="0.55" stop-color="#f04010"/><stop offset="1" stop-color="#782008"/></radialGradient><radialGradient id="g1"><stop offset="0" stop-color="#abe32c"/><stop offset="0.55" stop-color="#a0e010"/><stop offset="1" stop-color="#507008"/></radialGradient><radialGradient id="g2"><stop offset="0" stop-color="#2ce348"/><stop offset="0.55" stop-color="#10e030"/><stop offset="1" stop-color="#087018"/></radialGradient><radialGradient id="g3"><stop offset="0" stop-color="#812ce3"/><stop offset="0.55" stop-color="#7010e0"/><stop offset="1" stop-color="#380870"/></radialGradient><radialGradient id="g4"><stop offset="0" stop-color="#2cd5b9"/><stop offset="0.55" stop-color="#10d0b0"/><stop offset="1" stop-color="#086858"/></radialGradient><radialGradient id="g5"><stop offset="0" stop-color="#2c81f1"/><stop offset="0.55" stop-color="#1070f0"/><stop offset="1" stop-color="#083878"/></radialGradient><radialGradient id="g6"><stop offset="0" stop-color="#f18f2c"/><stop offset="0.55" stop-color="#f08010"/><stop offset="1" stop-color="#784008"/></radialGradient><radialGradient id="g7"><stop offset="0" stop-color="#73e32c"/><stop offset="0.55" stop-color="#60e010"/><stop offset="1" stop-color="#307008"/></radialGradient><radialGradient id="g8"><stop offset="0" stop-color="#9d6126"/><stop offset="0.55" stop-color="#904c09"/><stop offset="1" stop-color="#482604"/></radialGradient><radialGradient id="g9"><stop offset="0" stop-color="#2c48f1"/><stop offset="0.55" stop-color="#1030f0"/><stop offset="1" stop-color="#081878"/></radialGradient><radialGradient id="g10"><stop offset="0" stop-color="#562cf1"/><stop offset="0.55" stop-color="#4010f0"/><stop offset="1" stop-color="#200878"/></radialGradient><radialGradient id="g11"><stop offset="0" stop-color="#592694"/><stop offset="0.55" stop-color="#430986"/><stop offset="1" stop-color="#210443"/></radialGradient><radialGradient id="g12"><stop offset="0" stop-color="#f1b92c"/><stop offset="0.55" stop-color="#f0b010"/><stop offset="1" stop-color="#785808"/></radialGradient><radialGradient id="g13"><stop offset="0" stop-color="#9d4026"/><stop offset="0.55" stop-color="#902609"/><stop offset="1" stop-color="#481304"/></radialGradient><radialGradient id="g14"><stop offset="0" stop-color="#e3e32c"/><stop offset="0.55" stop-color="#e0e010"/><stop offset="1" stop-color="#707008"/></radialGradient><radialGradient id="g15"><stop offset="0" stop-color="#2cabf1"/><stop offset="0.55" stop-color="#10a0f0"/><stop offset="1" stop-color="#085078"/></radialGradient><radialGradient id="g16"><stop offset="0" stop-color="#f12c3a"/><stop offset="0.55" stop-color="#f01020"/><stop offset="1" stop-color="#780810"/></radialGradient><radialGradient id="g17"><stop offset="0" stop-color="#2ce38f"/><stop offset="0.55" stop-color="#10e080"/><stop offset="1" stop-color="#087040"/></radialGradient><radialGradient id="g18"><stop offset="0" stop-color="#2cd5f1"/><stop offset="0.55" stop-color="#10d0f0"/><stop offset="1" stop-color="#086878"/></radialGradient><radialGradient id="g19"><stop offset="0" stop-color="#7b7b26"/><stop offset="0.55" stop-color="#696909"/><stop offset="1" stop-color="#343404"/></radialGradient><radialGradient id="g20"><stop offset="0" stop-color="#7b5026"/><stop offset="0.55" stop-color="#693909"/><stop offset="1" stop-color="#341c04"/></radialGradient><radialGradient id="g21"><stop offset="0" stop-color="#269437"/><stop offset="0.55" stop-color="#09861c"/><stop offset="1" stop-color="#04430e"/></radialGradient><radialGradient id="g22"><stop offset="0" stop-color="#e32cc7"/><stop offset="0.55" stop-color="#e010c0"/><stop offset="1" stop-color="#700860"/></radialGradient><radialGradient id="g23"><stop offset="0" stop-color="#f12c65"/><stop offset="0.55" stop-color="#f01050"/><stop offset="1" stop-color="#780828"/></radialGradient><radialGradient id="g24"><stop offset="0" stop-color="#9dc73a"/><stop offset="0.55" stop-color="#90c020"/><stop offset="1" stop-color="#486010"/></radialGradient><radialGradient id="g25"><stop offset="0" stop-color="#733325"/><stop offset="0.55" stop-color="#601808"/><stop offset="1" stop-color="#300c04"/></radialGradient><radialGradient id="g26"><stop offset="0" stop-color="#65652c"/><stop offset="0.55" stop-color="#505010"/><stop offset="1" stop-color="#282808"/></radialGradient><radialGradient id="g27"><stop offset="0" stop-color="#23652d"/><stop offset="0.55" stop-color="#055011"/><stop offset="1" stop-color="#022808"/></radialGradient><radialGradient id="g28"><stop offset="0" stop-color="#235f56"/><stop offset="0.55" stop-color="#054a3f"/><stop offset="1" stop-color="#02251f"/></radialGradient><radialGradient id="g29"><stop offset="0" stop-color="#26379d"/><stop offset="0.55" stop-color="#091c90"/><stop offset="1" stop-color="#040e48"/></radialGradient><radialGradient id="g30"><stop offset="0" stop-color="#26739d"/><stop offset="0.55" stop-color="#096090"/><stop offset="1" stop-color="#043048"/></radialGradient><radialGradient id="g31"><stop offset="0" stop-color="#b9b92c"/><stop offset="0.55" stop-color="#b0b010"/><stop offset="1" stop-color="#585808"/></radialGradient><radialGradient id="g32"><stop offset="0" stop-color="#ab2ce3"/><stop offset="0.55" stop-color="#a010e0"/><stop offset="1" stop-color="#500870"/></radialGradient><radialGradient id="g33"><stop offset="0" stop-color="#26599d"/><stop offset="0.55" stop-color="#094390"/><stop offset="1" stop-color="#042148"/></radialGradient><radialGradient id="g34"><stop offset="0" stop-color="#9d7b26"/><stop offset="0.55" stop-color="#906909"/><stop offset="1" stop-color="#483404"/></radialGradient><radialGradient id="g35"><stop offset="0" stop-color="#e32c8f"/><stop offset="0.55" stop-color="#e01080"/><stop offset="1" stop-color="#700840"/></radialGradient><radialGradient id="g36"><stop offset="0" stop-color="#f1732c"/><stop offset="0.55" stop-color="#f06010"/><stop offset="1" stop-color="#783008"/></radialGradient><radialGradient id="g37"><stop offset="0" stop-color="#d52ce3"/><stop offset="0.55" stop-color="#d010e0"/><stop offset="1" stop-color="#680870"/></radialGradient><radialGradient id="g38"><stop offset="0" stop-color="#942683"/><stop offset="0.55" stop-color="#860973"/><stop offset="1" stop-color="#430439"/></radialGradient><radialGradient id="g39"><stop offset="0" stop-color="#b9732c"/><stop offset="0.55" stop-color="#b06010"/><stop offset="1" stop-color="#583008"/></radialGradient><radialGradient id="g40"><stop offset="0" stop-color="#40269d"/><stop offset="0.55" stop-color="#260990"/><stop offset="1" stop-color="#130448"/></radialGradient><radialGradient id="g41"><stop offset="0" stop-color="#268b7b"/><stop offset="0.55" stop-color="#097c69"/><stop offset="1" stop-color="#043e34"/></radialGradient><radialGradient id="g42"><stop offset="0" stop-color="#2c5665"/><stop offset="0.55" stop-color="#104050"/><stop offset="1" stop-color="#082028"/></radialGradient><radialGradient id="g43"><stop offset="0" stop-color="#8f3a2c"/><stop offset="0.55" stop-color="#802010"/><stop offset="1" stop-color="#401008"/></radialGradient><radialGradient id="g44"><stop offset="0" stop-color="#f1652c"/><stop offset="0.55" stop-color="#f05010"/><stop offset="1" stop-color="#782808"/></radialGradient><radialGradient id="g45"><stop offset="0" stop-color="#c7c72c"/><stop offset="0.55" stop-color="#c0c010"/><stop offset="1" stop-color="#606008"/></radialGradient><radialGradient id="g46"><stop offset="0" stop-color="#48e32c"/><stop offset="0.55" stop-color="#30e010"/><stop offset="1" stop-color="#187008"/></radialGradient><radialGradient id="g47"><stop offset="0" stop-color="#949426"/><stop offset="0.55" stop-color="#868609"/><stop offset="1" stop-color="#434304"/></radialGradient><radialGradient id="g48"><stop offset="0" stop-color="#9d262f"/><stop offset="0.55" stop-color="#900913"/><stop offset="1" stop-color="#480409"/></radialGradient><radialGradient id="g49"><stop offset="0" stop-color="#818f2c"/><stop offset="0.55" stop-color="#708010"/><stop offset="1" stop-color="#384008"/></radialGradient><radialGradient id="g50"><stop offset="0" stop-color="#3ab93a"/><stop offset="0.55" stop-color="#20b020"/><stop offset="1" stop-color="#105810"/></radialGradient><radialGradient id="g51"><stop offset="0" stop-color="#942661"/><stop offset="0.55" stop-color="#86094c"/><stop offset="1" stop-color="#430426"/></radialGradient><radialGradient id="g52"><stop offset="0" stop-color="#9d2648"/><stop offset="0.55" stop-color="#900930"/><stop offset="1" stop-color="#480418"/></radialGradient><radialGradient id="g53"><stop offset="0" stop-color="#b98f2c"/><stop offset="0.55" stop-color="#b08010"/><stop offset="1" stop-color="#584008"/></radialGradient><radialGradient id="g54"><stop offset="0" stop-color="#48c72c"/><stop offset="0.55" stop-color="#30c010"/><stop offset="1" stop-color="#186008"/></radialGradient></defs>
<g id="img0"><rect x="734.0" y="88.4" width="422.5" height="421.6" fill="#000"/>
<svg x="734.0" y="88.4" width="422.5" height="421.6" viewBox="0 0 422.5 421.6">
<g filter="url(#bl2)"><rect x="408.5" y="10" width="8.5" height="411" fill="#051419"/><rect x="408.5" y="8" width="8.5" height="24" fill="#0c2833"/></g>
<polyline points="229,92 229.6,118 229,143" fill="none" stroke="#0a4a4a" stroke-width="1.2" stroke-linecap="round" opacity="0.4"/>
<polyline points="214,58 222,64 236,68" fill="none" stroke="#3a1010" stroke-width="1.0" stroke-linecap="round" opacity="0.4"/>
<polyline points="212,54 226,47.5 245,48 256,51" fill="none" stroke="#2a0c0c" stroke-width="1.0" stroke-linecap="round" opacity="0.4"/>
<polyline points="172,138 186,143 192,142" fill="none" stroke="#8a8a10" stroke-width="1.3" stroke-linecap="round" opacity="0.4"/>
<polyline points="160,132 154,128" fill="none" stroke="#8a8a10" stroke-width="1.2" stroke-linecap="round" opacity="0.4"/>
<polyline points="228,300 228.5,330 229,352" fill="none" stroke="#0a3a3a" stroke-width="1.1" stroke-linecap="round" opacity="0.4"/>
<polyline points="109,74 128,78" fill="none" stroke="#5a6a18" stroke-width="1.6" stroke-linecap="round" opacity="0.4"/>
<g filter="url(#bl)">
<ellipse cx="56.5" cy="8.5" rx="3.4" ry="3.4" fill="url(#g0)"/>
<ellipse cx="51.8" cy="17.2" rx="6.8" ry="6.0" fill="url(#g3)"/>
<ellipse cx="27.8" cy="29.0" rx="6.8" ry="4.4" fill="url(#g0)"/>
<ellipse cx="23.5" cy="44.3" rx="4.4" ry="6.8" fill="url(#g6)"/>
<ellipse cx="14.1" cy="49.0" rx="4.4" ry="6.0" fill="url(#g8)"/>
<ellipse cx="43.5" cy="45.5" rx="6.8" ry="6.8" fill="url(#g10)"/>
<ellipse cx="65.9" cy="56.1" rx="5.4" ry="6.3" fill="url(#g2)"/>
<ellipse cx="82.4" cy="49.0" rx="3.9" ry="3.9" fill="url(#g2)"/>
<ellipse cx="45.9" cy="73.7" rx="7.3" ry="7.3" fill="url(#g9)"/>
<ellipse cx="62.4" cy="70.2" rx="7.3" ry="6.8" fill="url(#g9)"/>
<ellipse cx="80.0" cy="66.2" rx="6.3" ry="4.8" fill="url(#g5)"/>
<ellipse cx="17.6" cy="74.9" rx="2.5" ry="2.5" fill="url(#g12)"/>
<ellipse cx="25.9" cy="83.1" rx="2.9" ry="2.9" fill="url(#g0)"/>
<ellipse cx="43.5" cy="87.8" rx="3.4" ry="3.4" fill="url(#g6)"/>
<ellipse cx="20.7" cy="93.7" rx="7.7" ry="5.8" fill="url(#g14)"/>
<ellipse cx="23.1" cy="111.4" rx="6.8" ry="7.3" fill="url(#g1)"/>
<ellipse cx="22.4" cy="126.7" rx="3.4" ry="3.4" fill="url(#g3)"/>
<ellipse cx="14.6" cy="139.6" rx="5.8" ry="8.3" fill="url(#g15)"/>
<ellipse cx="9.4" cy="152.5" rx="2.5" ry="2.5" fill="url(#g2)"/>
<ellipse cx="17.6" cy="153.7" rx="2.5" ry="2.5" fill="url(#g2)"/>
<ellipse cx="38.8" cy="140.3" rx="2.5" ry="2.5" fill="url(#g14)"/>
<ellipse cx="37.6" cy="156.1" rx="8.3" ry="5.4" fill="url(#g2)"/>
<ellipse cx="32.9" cy="165.5" rx="6.3" ry="5.4" fill="url(#g6)"/>
<ellipse cx="24.7" cy="178.4" rx="3.4" ry="5.4" fill="url(#g17)"/>
<ellipse cx="36.5" cy="183.1" rx="2.5" ry="2.5" fill="url(#g16)"/>
<ellipse cx="44.2" cy="197.2" rx="7.3" ry="6.3" fill="url(#g2)"/>
<ellipse cx="21.2" cy="209.0" rx="7.3" ry="3.4" fill="url(#g12)"/>
<ellipse cx="110.6" cy="6.7" rx="3.4" ry="3.4" fill="url(#g9)"/>
<ellipse cx="110.6" cy="14.9" rx="2.9" ry="2.9" fill="url(#g18)"/>
<ellipse cx="92.9" cy="11.4" rx="4.8" ry="3.9" fill="url(#g19)"/>
<ellipse cx="77.6" cy="22.0" rx="2.1" ry="2.9" fill="url(#g18)"/>
<ellipse cx="81.2" cy="25.5" rx="2.1" ry="3.9" fill="url(#g22)"/>
<ellipse cx="90.6" cy="22.0" rx="2.5" ry="5.4" fill="url(#g22)"/>
<ellipse cx="88.9" cy="30.2" rx="2.5" ry="2.5" fill="url(#g23)"/>
<ellipse cx="97.6" cy="34.9" rx="2.5" ry="3.4" fill="url(#g16)"/>
<ellipse cx="109.4" cy="49.0" rx="9.2" ry="6.3" fill="url(#g24)"/>
<ellipse cx="126.6" cy="40.8" rx="2.1" ry="2.1" fill="url(#g12)"/>
<ellipse cx="149.4" cy="12.5" rx="2.1" ry="2.1" fill="url(#g4)"/>
<ellipse cx="172.9" cy="16.1" rx="7.3" ry="6.8" fill="url(#g25)"/>
<ellipse cx="176.5" cy="23.1" rx="2.1" ry="2.1" fill="url(#g16)"/>
<ellipse cx="187.1" cy="21.2" rx="2.1" ry="2.1" fill="url(#g16)"/>
<ellipse cx="195.3" cy="18.4" rx="2.9" ry="2.9" fill="url(#g22)"/>
<ellipse cx="161.2" cy="38.4" rx="6.8" ry="5.8" fill="url(#g22)"/>
<ellipse cx="148.7" cy="43.1" rx="3.9" ry="2.5" fill="url(#g0)"/>
<ellipse cx="174.1" cy="33.7" rx="5.8" ry="4.4" fill="url(#g11)"/>
<ellipse cx="181.2" cy="36.1" rx="2.1" ry="2.1" fill="url(#g15)"/>
<ellipse cx="198.8" cy="33.7" rx="2.5" ry="2.5" fill="url(#g3)"/>
<ellipse cx="203.5" cy="40.8" rx="2.5" ry="4.4" fill="url(#g5)"/>
<ellipse cx="172.9" cy="51.4" rx="2.1" ry="2.1" fill="url(#g14)"/>
<ellipse cx="192.9" cy="65.5" rx="5.8" ry="5.8" fill="url(#g5)"/>
<ellipse cx="185.9" cy="73.7" rx="5.4" ry="7.3" fill="url(#g3)"/>
<ellipse cx="170.6" cy="74.9" rx="7.3" ry="2.1" fill="url(#g5)" transform="rotate(-25 170.6 74.9)"/>
<ellipse cx="209.4" cy="67.8" rx="2.1" ry="2.1" fill="url(#g15)"/>
<ellipse cx="108.2" cy="72.5" rx="7.3" ry="6.3" fill="url(#g30)"/>
<ellipse cx="109.4" cy="78.4" rx="2.5" ry="4.8" fill="url(#g32)"/>
<ellipse cx="127.1" cy="90.2" rx="11.6" ry="2.1" fill="url(#g33)" transform="rotate(42 127.1 90.2)"/>
<ellipse cx="141.2" cy="78.4" rx="2.1" ry="2.1" fill="url(#g2)"/>
<ellipse cx="157.2" cy="76.1" rx="2.5" ry="2.5" fill="url(#g2)"/>
<ellipse cx="175.3" cy="82.4" rx="2.1" ry="2.1" fill="url(#g1)"/>
<ellipse cx="176.0" cy="88.5" rx="2.5" ry="2.5" fill="url(#g23)"/>
<ellipse cx="159.5" cy="91.4" rx="2.5" ry="3.4" fill="url(#g23)"/>
<ellipse cx="102.4" cy="91.4" rx="5.4" ry="6.8" fill="url(#g2)"/>
<ellipse cx="81.2" cy="98.0" rx="4.4" ry="6.3" fill="url(#g4)"/>
<ellipse cx="70.6" cy="102.0" rx="2.1" ry="2.1" fill="url(#g2)"/>
<ellipse cx="114.1" cy="100.3" rx="2.5" ry="2.5" fill="url(#g23)"/>
<ellipse cx="122.8" cy="102.7" rx="2.5" ry="2.5" fill="url(#g2)"/>
<ellipse cx="74.8" cy="112.1" rx="7.7" ry="7.3" fill="url(#g15)"/>
<ellipse cx="91.8" cy="113.7" rx="7.3" ry="8.3" fill="url(#g12)"/>
<ellipse cx="122.4" cy="113.7" rx="8.3" ry="5.4" fill="url(#g15)"/>
<ellipse cx="112.5" cy="123.1" rx="7.3" ry="6.8" fill="url(#g15)"/>
<ellipse cx="54.1" cy="117.2" rx="2.1" ry="2.1" fill="url(#g15)"/>
<ellipse cx="48.7" cy="128.5" rx="7.3" ry="2.9" fill="url(#g15)" transform="rotate(25 48.7 128.5)"/>
<ellipse cx="71.8" cy="130.2" rx="2.5" ry="2.5" fill="url(#g16)"/>
<ellipse cx="82.4" cy="142.0" rx="3.4" ry="3.4" fill="url(#g5)"/>
<ellipse cx="60.0" cy="147.4" rx="2.5" ry="2.5" fill="url(#g35)"/>
<ellipse cx="138.8" cy="130.2" rx="2.9" ry="2.9" fill="url(#g29)"/>
<ellipse cx="167.5" cy="117.2" rx="6.3" ry="6.8" fill="url(#g17)"/>
<ellipse cx="166.6" cy="134.2" rx="8.7" ry="7.7" fill="url(#g14)"/>
<ellipse cx="168.2" cy="147.4" rx="7.3" ry="5.8" fill="url(#g10)"/>
<ellipse cx="194.8" cy="137.2" rx="5.8" ry="5.8" fill="url(#g2)"/>
<ellipse cx="180.0" cy="127.8" rx="2.1" ry="2.1" fill="url(#g2)"/>
<ellipse cx="197.2" cy="147.4" rx="2.1" ry="2.1" fill="url(#g6)"/>
<ellipse cx="201.2" cy="110.2" rx="2.5" ry="2.5" fill="url(#g29)"/>
<ellipse cx="140.0" cy="152.5" rx="2.5" ry="5.4" fill="url(#g16)"/>
<ellipse cx="130.6" cy="169.0" rx="7.3" ry="6.8" fill="url(#g1)"/>
<ellipse cx="111.1" cy="164.3" rx="2.5" ry="2.5" fill="url(#g22)"/>
<ellipse cx="115.8" cy="169.5" rx="2.1" ry="2.1" fill="url(#g22)"/>
<ellipse cx="81.9" cy="162.4" rx="2.1" ry="2.1" fill="url(#g17)"/>
<ellipse cx="100.0" cy="179.6" rx="2.9" ry="2.9" fill="url(#g35)"/>
<ellipse cx="180.7" cy="174.9" rx="7.7" ry="7.7" fill="url(#g37)"/>
<ellipse cx="164.7" cy="182.7" rx="6.8" ry="7.3" fill="url(#g5)"/>
<ellipse cx="170.6" cy="194.9" rx="2.9" ry="3.9" fill="url(#g35)"/>
<ellipse cx="161.2" cy="200.1" rx="2.1" ry="2.1" fill="url(#g17)"/>
<ellipse cx="175.3" cy="163.1" rx="2.1" ry="2.1" fill="url(#g9)"/>
<ellipse cx="69.4" cy="191.4" rx="2.1" ry="2.1" fill="url(#g23)"/>
<ellipse cx="65.9" cy="199.6" rx="2.5" ry="2.5" fill="url(#g3)"/>
<ellipse cx="81.2" cy="202.4" rx="8.7" ry="4.4" fill="url(#g15)"/>
<ellipse cx="96.0" cy="195.4" rx="2.1" ry="2.1" fill="url(#g0)"/>
<ellipse cx="140.0" cy="208.5" rx="2.5" ry="2.5" fill="url(#g12)"/>
<ellipse cx="156.5" cy="207.8" rx="2.1" ry="2.1" fill="url(#g22)"/>
<ellipse cx="114.1" cy="210.2" rx="2.5" ry="2.5" fill="url(#g0)"/>
<ellipse cx="69.4" cy="209.0" rx="4.8" ry="2.5" fill="url(#g0)"/>
<ellipse cx="211.1" cy="173.7" rx="2.1" ry="3.4" fill="url(#g16)"/>
<ellipse cx="342.6" cy="9.5" rx="6.8" ry="5.4" fill="url(#g14)"/>
<ellipse cx="317.4" cy="7.8" rx="2.5" ry="4.4" fill="url(#g16)"/>
<ellipse cx="288.5" cy="16.5" rx="7.3" ry="5.4" fill="url(#g6)"/>
<ellipse cx="300.9" cy="19.6" rx="2.5" ry="2.5" fill="url(#g11)"/>
<ellipse cx="255.1" cy="16.5" rx="2.1" ry="2.1" fill="url(#g1)"/>
<ellipse cx="254.4" cy="30.2" rx="2.1" ry="4.4" fill="url(#g23)"/>
<ellipse cx="290.1" cy="29.0" rx="2.1" ry="2.9" fill="url(#g35)"/>
<ellipse cx="318.4" cy="26.7" rx="2.1" ry="3.4" fill="url(#g15)"/>
<ellipse cx="336.7" cy="24.3" rx="7.7" ry="2.1" fill="url(#g23)" transform="rotate(40 336.7 24.3)"/>
<ellipse cx="360.7" cy="17.2" rx="6.8" ry="2.1" fill="url(#g2)" transform="rotate(-10 360.7 17.2)"/>
<ellipse cx="374.4" cy="20.3" rx="7.3" ry="6.8" fill="url(#g38)"/>
<ellipse cx="389.6" cy="18.4" rx="6.3" ry="6.8" fill="url(#g2)"/>
<ellipse cx="397.9" cy="37.2" rx="6.3" ry="6.8" fill="url(#g2)"/>
<ellipse cx="409.6" cy="34.4" rx="2.5" ry="2.5" fill="url(#g5)"/>
<ellipse cx="359.1" cy="31.4" rx="2.5" ry="2.5" fill="url(#g29)"/>
<ellipse cx="377.9" cy="37.2" rx="7.3" ry="2.1" fill="url(#g2)" transform="rotate(-55 377.9 37.2)"/>
<ellipse cx="364.9" cy="43.1" rx="2.1" ry="4.8" fill="url(#g2)"/>
<ellipse cx="307.3" cy="42.4" rx="3.9" ry="3.4" fill="url(#g2)"/>
<ellipse cx="323.1" cy="43.1" rx="2.1" ry="2.1" fill="url(#g23)"/>
<ellipse cx="335.5" cy="47.8" rx="2.5" ry="2.5" fill="url(#g16)"/>
<ellipse cx="341.4" cy="43.8" rx="2.5" ry="2.5" fill="url(#g9)"/>
<ellipse cx="342.6" cy="50.2" rx="2.1" ry="3.4" fill="url(#g15)"/>
<ellipse cx="323.8" cy="52.5" rx="7.3" ry="6.3" fill="url(#g1)"/>
<ellipse cx="284.5" cy="46.7" rx="2.5" ry="2.5" fill="url(#g14)"/>
<ellipse cx="256.7" cy="53.7" rx="2.1" ry="2.1" fill="url(#g6)"/>
<ellipse cx="266.6" cy="52.5" rx="2.1" ry="2.1" fill="url(#g9)"/>
<ellipse cx="296.2" cy="54.9" rx="2.9" ry="2.9" fill="url(#g40)"/>
<ellipse cx="335.5" cy="56.5" rx="2.1" ry="2.1" fill="url(#g5)"/>
<ellipse cx="369.2" cy="56.1" rx="2.1" ry="4.4" fill="url(#g4)"/>
<ellipse cx="397.4" cy="58.4" rx="2.5" ry="4.4" fill="url(#g15)"/>
<ellipse cx="400.2" cy="56.1" rx="2.1" ry="2.1" fill="url(#g35)"/>
<ellipse cx="407.3" cy="54.9" rx="2.1" ry="5.4" fill="url(#g34)"/>
<ellipse cx="228.0" cy="59.6" rx="2.1" ry="2.1" fill="url(#g14)"/>
<ellipse cx="222.6" cy="65.5" rx="2.5" ry="2.5" fill="url(#g38)"/>
<ellipse cx="282.1" cy="62.0" rx="2.5" ry="2.5" fill="url(#g16)"/>
<ellipse cx="308.0" cy="63.6" rx="2.5" ry="2.5" fill="url(#g23)"/>
<ellipse cx="264.9" cy="67.4" rx="7.3" ry="5.4" fill="url(#g2)"/>
<ellipse cx="231.3" cy="77.2" rx="2.1" ry="2.1" fill="url(#g4)"/>
<ellipse cx="333.2" cy="76.8" rx="5.8" ry="5.4" fill="url(#g5)"/>
<ellipse cx="357.9" cy="83.8" rx="7.3" ry="7.3" fill="url(#g22)"/>
<ellipse cx="374.4" cy="77.2" rx="7.7" ry="9.7" fill="url(#g29)"/>
<ellipse cx="367.3" cy="89.5" rx="2.1" ry="2.1" fill="url(#g15)"/>
<ellipse cx="406.1" cy="83.1" rx="3.4" ry="5.4" fill="url(#g3)"/>
<ellipse cx="326.8" cy="87.8" rx="2.5" ry="2.5" fill="url(#g41)"/>
<ellipse cx="332.0" cy="85.5" rx="2.1" ry="2.1" fill="url(#g6)"/>
<ellipse cx="302.1" cy="96.5" rx="6.3" ry="7.3" fill="url(#g0)"/>
<ellipse cx="314.4" cy="95.6" rx="2.1" ry="4.4" fill="url(#g14)"/>
<ellipse cx="373.2" cy="102.0" rx="3.9" ry="2.5" fill="url(#g2)" transform="rotate(30 373.2 102.0)"/>
<ellipse cx="393.2" cy="100.8" rx="6.8" ry="7.7" fill="url(#g42)"/>
<ellipse cx="396.7" cy="104.3" rx="2.1" ry="4.8" fill="url(#g15)"/>
<ellipse cx="404.5" cy="103.1" rx="2.5" ry="4.8" fill="url(#g35)"/>
<ellipse cx="333.2" cy="104.3" rx="6.8" ry="6.8" fill="url(#g6)"/>
<ellipse cx="343.8" cy="113.7" rx="6.8" ry="7.7" fill="url(#g44)"/>
<ellipse cx="328.5" cy="123.1" rx="2.9" ry="6.8" fill="url(#g0)" transform="rotate(-35 328.5 123.1)"/>
<ellipse cx="215.5" cy="102.0" rx="2.1" ry="2.9" fill="url(#g14)"/>
<ellipse cx="228.9" cy="109.7" rx="2.1" ry="2.1" fill="url(#g14)"/>
<ellipse cx="242.1" cy="114.9" rx="2.5" ry="4.4" fill="url(#g22)"/>
<ellipse cx="253.2" cy="113.7" rx="2.9" ry="2.9" fill="url(#g9)"/>
<ellipse cx="253.2" cy="123.8" rx="3.9" ry="3.4" fill="url(#g9)"/>
<ellipse cx="351.3" cy="127.1" rx="2.1" ry="2.1" fill="url(#g1)"/>
<ellipse cx="377.9" cy="132.5" rx="7.7" ry="7.3" fill="url(#g15)"/>
<ellipse cx="348.5" cy="139.6" rx="6.8" ry="7.3" fill="url(#g12)"/>
<ellipse cx="359.1" cy="136.1" rx="3.4" ry="3.4" fill="url(#g9)"/>
<ellipse cx="339.1" cy="140.8" rx="2.1" ry="3.4" fill="url(#g4)"/>
<ellipse cx="216.2" cy="140.8" rx="2.5" ry="2.5" fill="url(#g2)"/>
<ellipse cx="229.6" cy="139.6" rx="3.9" ry="2.1" fill="url(#g4)"/>
<ellipse cx="293.2" cy="142.0" rx="2.5" ry="4.4" fill="url(#g23)"/>
<ellipse cx="310.8" cy="146.0" rx="6.3" ry="2.1" fill="url(#g17)" transform="rotate(10 310.8 146.0)"/>
<ellipse cx="231.3" cy="150.2" rx="2.1" ry="3.9" fill="url(#g12)"/>
<ellipse cx="356.7" cy="153.7" rx="6.3" ry="6.3" fill="url(#g15)"/>
<ellipse cx="372.0" cy="162.0" rx="7.7" ry="6.8" fill="url(#g15)"/>
<ellipse cx="386.1" cy="165.5" rx="4.4" ry="9.7" fill="url(#g16)"/>
<ellipse cx="329.6" cy="164.3" rx="2.1" ry="4.8" fill="url(#g2)"/>
<ellipse cx="368.5" cy="174.9" rx="2.1" ry="3.9" fill="url(#g14)"/>
<ellipse cx="216.2" cy="166.7" rx="2.1" ry="2.1" fill="url(#g23)"/>
<ellipse cx="223.3" cy="172.5" rx="6.3" ry="6.3" fill="url(#g10)"/>
<ellipse cx="242.1" cy="173.2" rx="2.5" ry="2.5" fill="url(#g29)"/>
<ellipse cx="257.2" cy="170.2" rx="6.3" ry="6.3" fill="url(#g5)"/>
<ellipse cx="268.0" cy="178.4" rx="3.9" ry="2.1" fill="url(#g1)" transform="rotate(40 268.0 178.4)"/>
<ellipse cx="292.0" cy="174.9" rx="2.1" ry="2.1" fill="url(#g3)"/>
<ellipse cx="301.9" cy="172.5" rx="2.5" ry="2.5" fill="url(#g23)"/>
<ellipse cx="327.8" cy="175.6" rx="2.5" ry="2.5" fill="url(#g23)"/>
<ellipse cx="395.1" cy="185.0" rx="2.1" ry="2.1" fill="url(#g1)"/>
<ellipse cx="371.5" cy="187.8" rx="2.1" ry="2.9" fill="url(#g14)"/>
<ellipse cx="372.0" cy="192.5" rx="2.1" ry="2.1" fill="url(#g15)"/>
<ellipse cx="269.6" cy="187.8" rx="2.1" ry="2.9" fill="url(#g0)"/>
<ellipse cx="306.1" cy="194.4" rx="2.5" ry="4.4" fill="url(#g16)" transform="rotate(-30 306.1 194.4)"/>
<ellipse cx="221.9" cy="194.4" rx="6.3" ry="5.4" fill="url(#g5)"/>
<ellipse cx="251.5" cy="193.7" rx="7.3" ry="6.8" fill="url(#g46)"/>
<ellipse cx="234.4" cy="186.7" rx="2.5" ry="2.5" fill="url(#g29)"/>
<ellipse cx="216.7" cy="202.0" rx="3.4" ry="2.1" fill="url(#g23)"/>
<ellipse cx="249.6" cy="206.7" rx="8.7" ry="4.8" fill="url(#g3)"/>
<ellipse cx="235.5" cy="208.5" rx="2.5" ry="2.5" fill="url(#g14)"/>
<ellipse cx="263.3" cy="199.6" rx="2.1" ry="2.1" fill="url(#g22)"/>
<ellipse cx="331.3" cy="207.1" rx="2.1" ry="2.1" fill="url(#g14)"/>
<ellipse cx="357.4" cy="206.2" rx="2.1" ry="3.9" fill="url(#g23)"/>
<ellipse cx="400.2" cy="206.7" rx="5.8" ry="4.8" fill="url(#g2)"/>
<ellipse cx="289.6" cy="209.0" rx="2.1" ry="2.1" fill="url(#g16)"/>
<ellipse cx="310.8" cy="210.2" rx="2.1" ry="2.1" fill="url(#g2)"/>
<ellipse cx="22.4" cy="214.0" rx="8.7" ry="4.4" fill="url(#g12)"/>
<ellipse cx="69.4" cy="215.1" rx="7.3" ry="5.8" fill="url(#g0)"/>
<ellipse cx="115.3" cy="215.1" rx="5.4" ry="5.4" fill="url(#g0)"/>
<ellipse cx="5.2" cy="230.9" rx="2.9" ry="3.4" fill="url(#g16)"/>
<ellipse cx="29.4" cy="229.2" rx="5.8" ry="4.8" fill="url(#g20)"/>
<ellipse cx="17.6" cy="237.5" rx="4.4" ry="6.8" fill="url(#g8)"/>
<ellipse cx="27.8" cy="248.8" rx="8.3" ry="6.8" fill="url(#g0)"/>
<ellipse cx="45.9" cy="248.1" rx="3.4" ry="4.4" fill="url(#g8)"/>
<ellipse cx="57.6" cy="240.3" rx="3.4" ry="3.4" fill="url(#g22)"/>
<ellipse cx="72.9" cy="231.6" rx="2.5" ry="2.5" fill="url(#g48)"/>
<ellipse cx="80.0" cy="251.6" rx="7.3" ry="5.8" fill="url(#g9)"/>
<ellipse cx="98.4" cy="241.7" rx="7.7" ry="6.3" fill="url(#g6)"/>
<ellipse cx="109.4" cy="234.7" rx="4.8" ry="5.4" fill="url(#g0)"/>
<ellipse cx="130.6" cy="233.2" rx="7.7" ry="8.3" fill="url(#g19)"/>
<ellipse cx="117.2" cy="251.1" rx="8.3" ry="7.3" fill="url(#g15)"/>
<ellipse cx="133.6" cy="256.8" rx="7.3" ry="5.4" fill="url(#g10)"/>
<ellipse cx="120.5" cy="225.7" rx="2.1" ry="2.1" fill="url(#g3)"/>
<ellipse cx="144.7" cy="221.0" rx="2.9" ry="4.4" fill="url(#g8)"/>
<ellipse cx="155.3" cy="227.6" rx="2.1" ry="2.1" fill="url(#g1)"/>
<ellipse cx="163.5" cy="228.5" rx="2.1" ry="2.1" fill="url(#g9)"/>
<ellipse cx="169.9" cy="235.1" rx="7.3" ry="6.8" fill="url(#g12)"/>
<ellipse cx="181.2" cy="225.7" rx="2.1" ry="4.4" fill="url(#g6)"/>
<ellipse cx="195.3" cy="226.9" rx="6.3" ry="6.3" fill="url(#g0)"/>
<ellipse cx="154.1" cy="242.2" rx="2.1" ry="2.1" fill="url(#g15)"/>
<ellipse cx="174.6" cy="248.1" rx="3.9" ry="3.4" fill="url(#g29)"/>
<ellipse cx="184.7" cy="245.7" rx="2.1" ry="2.1" fill="url(#g35)"/>
<ellipse cx="178.8" cy="254.0" rx="2.1" ry="2.1" fill="url(#g15)"/>
<ellipse cx="161.9" cy="260.5" rx="3.4" ry="3.9" fill="url(#g3)"/>
<ellipse cx="198.8" cy="257.5" rx="8.3" ry="5.8" fill="url(#g19)"/>
<ellipse cx="189.4" cy="272.3" rx="4.8" ry="5.8" fill="url(#g8)"/>
<ellipse cx="68.7" cy="263.8" rx="5.8" ry="5.4" fill="url(#g3)"/>
<ellipse cx="74.8" cy="273.2" rx="5.4" ry="4.8" fill="url(#g1)"/>
<ellipse cx="83.5" cy="267.6" rx="2.1" ry="2.1" fill="url(#g16)"/>
<ellipse cx="28.2" cy="273.2" rx="5.8" ry="4.4" fill="url(#g22)"/>
<ellipse cx="15.3" cy="271.6" rx="3.4" ry="2.5" fill="url(#g38)"/>
<ellipse cx="48.2" cy="275.6" rx="6.3" ry="5.8" fill="url(#g22)"/>
<ellipse cx="67.1" cy="278.7" rx="2.5" ry="2.5" fill="url(#g38)"/>
<ellipse cx="18.8" cy="284.5" rx="7.7" ry="8.3" fill="url(#g2)"/>
<ellipse cx="52.2" cy="288.1" rx="9.2" ry="5.8" fill="url(#g16)"/>
<ellipse cx="24.7" cy="300.5" rx="6.8" ry="7.7" fill="url(#g3)"/>
<ellipse cx="40.5" cy="299.1" rx="5.8" ry="8.3" fill="url(#g1)"/>
<ellipse cx="12.9" cy="302.2" rx="3.4" ry="6.3" fill="url(#g6)"/>
<ellipse cx="61.6" cy="301.5" rx="8.7" ry="7.7" fill="url(#g6)"/>
<ellipse cx="48.2" cy="305.2" rx="2.1" ry="4.4" fill="url(#g15)"/>
<ellipse cx="35.3" cy="311.6" rx="6.3" ry="4.8" fill="url(#g1)"/>
<ellipse cx="11.8" cy="315.1" rx="6.3" ry="7.3" fill="url(#g23)"/>
<ellipse cx="27.8" cy="318.7" rx="2.5" ry="5.4" fill="url(#g0)"/>
<ellipse cx="34.1" cy="320.3" rx="2.1" ry="3.9" fill="url(#g4)"/>
<ellipse cx="5.9" cy="329.2" rx="2.9" ry="5.8" fill="url(#g5)"/>
<ellipse cx="13.6" cy="331.6" rx="2.5" ry="6.3" fill="url(#g51)"/>
<ellipse cx="22.4" cy="338.7" rx="6.3" ry="6.3" fill="url(#g8)"/>
<ellipse cx="36.5" cy="352.8" rx="6.8" ry="7.7" fill="url(#g1)"/>
<ellipse cx="106.4" cy="274.7" rx="5.4" ry="5.4" fill="url(#g7)"/>
<ellipse cx="124.2" cy="270.9" rx="8.3" ry="6.8" fill="url(#g15)"/>
<ellipse cx="119.5" cy="279.8" rx="5.4" ry="4.4" fill="url(#g6)"/>
<ellipse cx="108.2" cy="289.2" rx="6.8" ry="6.8" fill="url(#g52)"/>
<ellipse cx="96.9" cy="292.8" rx="2.1" ry="2.9" fill="url(#g15)"/>
<ellipse cx="132.9" cy="298.2" rx="8.3" ry="6.8" fill="url(#g17)"/>
<ellipse cx="88.9" cy="303.4" rx="3.4" ry="3.9" fill="url(#g5)"/>
<ellipse cx="96.0" cy="299.8" rx="2.1" ry="2.1" fill="url(#g48)"/>
<ellipse cx="96.0" cy="308.1" rx="2.1" ry="3.4" fill="url(#g0)"/>
<ellipse cx="108.2" cy="301.0" rx="2.1" ry="3.4" fill="url(#g23)"/>
<ellipse cx="81.2" cy="311.6" rx="6.3" ry="6.8" fill="url(#g16)"/>
<ellipse cx="71.1" cy="315.1" rx="3.4" ry="5.8" fill="url(#g23)"/>
<ellipse cx="94.6" cy="326.9" rx="8.3" ry="8.7" fill="url(#g22)"/>
<ellipse cx="75.3" cy="334.4" rx="8.7" ry="6.3" fill="url(#g23)"/>
<ellipse cx="112.5" cy="319.8" rx="2.1" ry="2.9" fill="url(#g22)"/>
<ellipse cx="123.5" cy="328.8" rx="2.1" ry="2.1" fill="url(#g4)"/>
<ellipse cx="138.4" cy="317.5" rx="3.9" ry="5.4" fill="url(#g3)"/>
<ellipse cx="150.1" cy="315.1" rx="4.4" ry="4.8" fill="url(#g6)"/>
<ellipse cx="136.0" cy="332.8" rx="2.1" ry="3.9" fill="url(#g23)"/>
<ellipse cx="117.6" cy="338.2" rx="4.8" ry="4.8" fill="url(#g20)"/>
<ellipse cx="130.6" cy="344.5" rx="6.8" ry="8.3" fill="url(#g5)"/>
<ellipse cx="151.8" cy="338.7" rx="2.1" ry="3.4" fill="url(#g9)"/>
<ellipse cx="65.4" cy="343.4" rx="6.8" ry="7.7" fill="url(#g7)"/>
<ellipse cx="86.6" cy="349.2" rx="6.8" ry="6.3" fill="url(#g2)"/>
<ellipse cx="120.5" cy="352.3" rx="6.8" ry="6.8" fill="url(#g14)"/>
<ellipse cx="171.3" cy="296.3" rx="3.4" ry="3.4" fill="url(#g1)"/>
<ellipse cx="202.8" cy="286.9" rx="9.7" ry="7.3" fill="url(#g16)"/>
<ellipse cx="192.5" cy="296.3" rx="5.8" ry="6.3" fill="url(#g9)"/>
<ellipse cx="197.6" cy="295.1" rx="2.5" ry="2.5" fill="url(#g2)"/>
<ellipse cx="195.8" cy="315.6" rx="6.8" ry="6.8" fill="url(#g12)"/>
<ellipse cx="184.0" cy="319.4" rx="2.1" ry="2.1" fill="url(#g8)"/>
<ellipse cx="169.9" cy="340.5" rx="2.1" ry="2.1" fill="url(#g29)"/>
<ellipse cx="189.4" cy="351.6" rx="7.3" ry="4.8" fill="url(#g29)"/>
<ellipse cx="189.4" cy="358.7" rx="4.8" ry="5.4" fill="url(#g8)"/>
<ellipse cx="202.8" cy="360.3" rx="6.3" ry="7.3" fill="url(#g9)"/>
<ellipse cx="204.2" cy="371.6" rx="6.3" ry="5.8" fill="url(#g2)"/>
<ellipse cx="141.2" cy="370.4" rx="8.7" ry="7.7" fill="url(#g53)"/>
<ellipse cx="128.9" cy="369.7" rx="2.1" ry="3.9" fill="url(#g48)"/>
<ellipse cx="134.6" cy="379.1" rx="2.1" ry="2.1" fill="url(#g48)"/>
<ellipse cx="150.6" cy="375.1" rx="2.1" ry="3.4" fill="url(#g6)"/>
<ellipse cx="182.4" cy="377.5" rx="2.5" ry="3.9" fill="url(#g5)"/>
<ellipse cx="173.6" cy="385.7" rx="2.5" ry="2.5" fill="url(#g23)"/>
<ellipse cx="148.7" cy="390.0" rx="8.3" ry="8.3" fill="url(#g15)"/>
<ellipse cx="143.5" cy="390.4" rx="3.4" ry="4.4" fill="url(#g15)"/>
<ellipse cx="161.2" cy="394.0" rx="2.1" ry="2.1" fill="url(#g15)"/>
<ellipse cx="154.1" cy="401.0" rx="2.1" ry="3.4" fill="url(#g15)"/>
<ellipse cx="198.8" cy="395.1" rx="7.3" ry="6.8" fill="url(#g2)"/>
<ellipse cx="178.8" cy="399.8" rx="2.1" ry="3.4" fill="url(#g6)"/>
<ellipse cx="27.8" cy="382.9" rx="5.8" ry="5.4" fill="url(#g15)"/>
<ellipse cx="130.6" cy="400.3" rx="4.4" ry="4.4" fill="url(#g6)"/>
<ellipse cx="138.8" cy="407.4" rx="8.3" ry="5.8" fill="url(#g2)"/>
<ellipse cx="115.8" cy="406.9" rx="7.3" ry="4.8" fill="url(#g21)"/>
<ellipse cx="123.5" cy="411.6" rx="2.5" ry="2.5" fill="url(#g9)"/>
<ellipse cx="115.3" cy="418.2" rx="6.3" ry="2.9" fill="url(#g3)"/>
<ellipse cx="71.1" cy="413.5" rx="5.8" ry="4.4" fill="url(#g16)"/>
<ellipse cx="18.4" cy="410.4" rx="4.8" ry="5.4" fill="url(#g35)"/>
<ellipse cx="30.6" cy="413.5" rx="7.7" ry="3.9" fill="url(#g3)"/>
<ellipse cx="210.6" cy="243.4" rx="2.1" ry="7.3" fill="url(#g20)" transform="rotate(30 210.6 243.4)"/>
<ellipse cx="138.8" cy="212.8" rx="2.1" ry="2.1" fill="url(#g6)"/>
<ellipse cx="297.2" cy="220.5" rx="6.8" ry="7.7" fill="url(#g7)"/>
<ellipse cx="310.8" cy="214.0" rx="4.8" ry="3.9" fill="url(#g2)"/>
<ellipse cx="332.0" cy="222.2" rx="3.9" ry="5.4" fill="url(#g35)"/>
<ellipse cx="273.2" cy="221.5" rx="2.1" ry="3.9" fill="url(#g23)"/>
<ellipse cx="286.1" cy="218.7" rx="2.1" ry="2.1" fill="url(#g3)"/>
<ellipse cx="315.5" cy="224.5" rx="2.1" ry="2.1" fill="url(#g6)"/>
<ellipse cx="324.9" cy="225.7" rx="3.4" ry="2.1" fill="url(#g6)"/>
<ellipse cx="246.1" cy="229.2" rx="5.8" ry="5.4" fill="url(#g30)"/>
<ellipse cx="222.6" cy="228.1" rx="3.4" ry="5.8" fill="url(#g13)" transform="rotate(30 222.6 228.1)"/>
<ellipse cx="235.5" cy="237.0" rx="2.1" ry="2.1" fill="url(#g15)"/>
<ellipse cx="282.1" cy="235.1" rx="2.1" ry="2.1" fill="url(#g14)"/>
<ellipse cx="293.2" cy="232.3" rx="2.1" ry="2.1" fill="url(#g1)"/>
<ellipse cx="348.0" cy="234.0" rx="3.9" ry="2.5" fill="url(#g10)"/>
<ellipse cx="356.0" cy="230.4" rx="2.1" ry="4.8" fill="url(#g4)"/>
<ellipse cx="389.6" cy="224.5" rx="7.3" ry="6.8" fill="url(#g4)"/>
<ellipse cx="374.4" cy="219.1" rx="2.5" ry="2.5" fill="url(#g2)"/>
<ellipse cx="398.4" cy="212.8" rx="3.9" ry="2.5" fill="url(#g2)"/>
<ellipse cx="251.5" cy="245.0" rx="6.8" ry="5.4" fill="url(#g6)"/>
<ellipse cx="272.7" cy="248.8" rx="6.3" ry="4.8" fill="url(#g3)"/>
<ellipse cx="224.2" cy="255.8" rx="4.4" ry="3.9" fill="url(#g9)"/>
<ellipse cx="285.4" cy="256.8" rx="2.1" ry="2.9" fill="url(#g0)"/>
<ellipse cx="344.9" cy="256.8" rx="6.8" ry="7.3" fill="url(#g10)"/>
<ellipse cx="404.5" cy="255.1" rx="2.9" ry="4.8" fill="url(#g3)"/>
<ellipse cx="320.7" cy="261.5" rx="2.1" ry="3.9" fill="url(#g16)"/>
<ellipse cx="309.6" cy="268.1" rx="2.1" ry="4.8" fill="url(#g23)"/>
<ellipse cx="332.0" cy="266.9" rx="2.1" ry="3.4" fill="url(#g23)"/>
<ellipse cx="330.8" cy="273.2" rx="2.5" ry="4.8" fill="url(#g23)"/>
<ellipse cx="270.8" cy="266.9" rx="2.9" ry="3.4" fill="url(#g48)"/>
<ellipse cx="228.5" cy="274.7" rx="2.5" ry="3.4" fill="url(#g35)"/>
<ellipse cx="358.4" cy="269.2" rx="4.4" ry="2.5" fill="url(#g4)" transform="rotate(20 358.4 269.2)"/>
<ellipse cx="361.4" cy="274.7" rx="2.1" ry="2.1" fill="url(#g4)"/>
<ellipse cx="367.3" cy="275.1" rx="2.1" ry="2.1" fill="url(#g16)"/>
<ellipse cx="283.1" cy="274.7" rx="7.3" ry="8.3" fill="url(#g7)"/>
<ellipse cx="300.2" cy="277.5" rx="7.3" ry="5.8" fill="url(#g2)"/>
<ellipse cx="322.1" cy="278.7" rx="2.5" ry="3.9" fill="url(#g23)"/>
<ellipse cx="269.6" cy="282.2" rx="4.8" ry="2.9" fill="url(#g35)" transform="rotate(-30 269.6 282.2)"/>
<ellipse cx="275.1" cy="291.6" rx="8.3" ry="8.7" fill="url(#g0)"/>
<ellipse cx="289.6" cy="291.6" rx="3.9" ry="3.9" fill="url(#g3)"/>
<ellipse cx="306.6" cy="291.6" rx="2.1" ry="2.1" fill="url(#g2)"/>
<ellipse cx="316.0" cy="295.1" rx="2.9" ry="5.4" fill="url(#g3)"/>
<ellipse cx="335.5" cy="291.6" rx="9.7" ry="7.3" fill="url(#g0)"/>
<ellipse cx="328.5" cy="287.4" rx="2.5" ry="3.9" fill="url(#g0)"/>
<ellipse cx="216.7" cy="294.0" rx="3.9" ry="4.8" fill="url(#g15)"/>
<ellipse cx="228.0" cy="295.1" rx="5.8" ry="5.8" fill="url(#g9)"/>
<ellipse cx="213.2" cy="286.9" rx="2.1" ry="3.9" fill="url(#g23)"/>
<ellipse cx="257.9" cy="296.8" rx="4.8" ry="3.9" fill="url(#g15)"/>
<ellipse cx="251.5" cy="306.9" rx="7.7" ry="7.3" fill="url(#g35)"/>
<ellipse cx="226.6" cy="312.8" rx="2.9" ry="4.8" fill="url(#g8)"/>
<ellipse cx="240.2" cy="315.1" rx="6.3" ry="5.8" fill="url(#g1)"/>
<ellipse cx="268.0" cy="311.6" rx="2.5" ry="2.5" fill="url(#g6)"/>
<ellipse cx="281.4" cy="309.2" rx="4.4" ry="6.3" fill="url(#g9)"/>
<ellipse cx="360.7" cy="306.9" rx="2.1" ry="4.4" fill="url(#g16)"/>
<ellipse cx="348.5" cy="315.1" rx="2.5" ry="7.3" fill="url(#g0)" transform="rotate(20 348.5 315.1)"/>
<ellipse cx="404.5" cy="314.7" rx="2.5" ry="5.4" fill="url(#g3)"/>
<ellipse cx="399.8" cy="321.7" rx="2.1" ry="3.9" fill="url(#g14)"/>
<ellipse cx="265.6" cy="322.7" rx="6.3" ry="6.8" fill="url(#g0)"/>
<ellipse cx="277.4" cy="327.4" rx="4.4" ry="4.8" fill="url(#g9)"/>
<ellipse cx="315.5" cy="326.4" rx="3.9" ry="3.9" fill="url(#g2)"/>
<ellipse cx="336.7" cy="325.0" rx="6.8" ry="6.3" fill="url(#g0)"/>
<ellipse cx="359.1" cy="325.7" rx="2.9" ry="3.9" fill="url(#g23)"/>
<ellipse cx="373.2" cy="326.9" rx="7.3" ry="2.5" fill="url(#g0)" transform="rotate(25 373.2 326.9)"/>
<ellipse cx="286.1" cy="333.5" rx="5.8" ry="5.4" fill="url(#g0)"/>
<ellipse cx="216.2" cy="335.1" rx="2.1" ry="3.9" fill="url(#g6)"/>
<ellipse cx="233.2" cy="335.1" rx="5.4" ry="6.8" fill="url(#g15)"/>
<ellipse cx="322.1" cy="332.1" rx="2.1" ry="2.9" fill="url(#g15)"/>
<ellipse cx="374.8" cy="337.5" rx="3.9" ry="4.4" fill="url(#g4)"/>
<ellipse cx="321.4" cy="342.2" rx="6.8" ry="5.8" fill="url(#g4)"/>
<ellipse cx="332.0" cy="344.5" rx="2.5" ry="5.8" fill="url(#g2)" transform="rotate(-30 332.0 344.5)"/>
<ellipse cx="336.2" cy="337.5" rx="2.1" ry="3.4" fill="url(#g15)"/>
<ellipse cx="287.8" cy="345.2" rx="2.1" ry="5.8" fill="url(#g15)" transform="rotate(20 287.8 345.2)"/>
<ellipse cx="299.1" cy="346.9" rx="8.3" ry="8.7" fill="url(#g14)"/>
<ellipse cx="369.6" cy="350.0" rx="6.3" ry="6.3" fill="url(#g2)"/>
<ellipse cx="263.3" cy="353.2" rx="6.3" ry="5.8" fill="url(#g23)"/>
<ellipse cx="257.2" cy="361.0" rx="6.3" ry="6.3" fill="url(#g9)"/>
<ellipse cx="218.6" cy="362.7" rx="2.1" ry="2.1" fill="url(#g1)"/>
<ellipse cx="395.5" cy="358.0" rx="8.3" ry="5.4" fill="url(#g32)"/>
<ellipse cx="380.9" cy="363.4" rx="7.3" ry="7.3" fill="url(#g23)"/>
<ellipse cx="366.1" cy="364.1" rx="3.9" ry="4.4" fill="url(#g35)"/>
<ellipse cx="356.0" cy="368.1" rx="5.8" ry="6.3" fill="url(#g0)"/>
<ellipse cx="340.9" cy="371.6" rx="8.3" ry="7.3" fill="url(#g34)"/>
<ellipse cx="322.6" cy="373.5" rx="2.1" ry="2.1" fill="url(#g1)"/>
<ellipse cx="244.9" cy="372.1" rx="3.9" ry="2.1" fill="url(#g6)" transform="rotate(20 244.9 372.1)"/>
<ellipse cx="262.6" cy="379.1" rx="5.8" ry="5.4" fill="url(#g2)"/>
<ellipse cx="272.0" cy="374.0" rx="2.1" ry="3.4" fill="url(#g3)"/>
<ellipse cx="272.0" cy="382.9" rx="2.1" ry="2.1" fill="url(#g3)"/>
<ellipse cx="362.1" cy="377.5" rx="3.9" ry="5.4" fill="url(#g23)"/>
<ellipse cx="367.8" cy="383.4" rx="2.9" ry="8.7" fill="url(#g2)"/>
<ellipse cx="387.3" cy="382.9" rx="3.9" ry="3.9" fill="url(#g23)"/>
<ellipse cx="333.9" cy="384.5" rx="3.4" ry="5.4" fill="url(#g8)"/>
<ellipse cx="293.2" cy="396.3" rx="7.3" ry="6.3" fill="url(#g2)"/>
<ellipse cx="281.4" cy="394.0" rx="2.5" ry="2.5" fill="url(#g6)"/>
<ellipse cx="253.9" cy="394.7" rx="2.5" ry="3.9" fill="url(#g14)"/>
<ellipse cx="241.4" cy="397.5" rx="4.8" ry="5.4" fill="url(#g8)"/>
<ellipse cx="250.1" cy="405.0" rx="8.7" ry="6.8" fill="url(#g12)"/>
<ellipse cx="304.2" cy="405.7" rx="6.3" ry="5.4" fill="url(#g6)"/>
<ellipse cx="319.8" cy="401.0" rx="2.1" ry="2.1" fill="url(#g1)"/>
<ellipse cx="315.5" cy="410.4" rx="2.1" ry="2.1" fill="url(#g9)"/>
<ellipse cx="373.2" cy="401.0" rx="2.1" ry="2.1" fill="url(#g2)"/>
<ellipse cx="400.2" cy="399.8" rx="7.7" ry="6.8" fill="url(#g14)"/>
<ellipse cx="392.0" cy="414.4" rx="9.2" ry="3.9" fill="url(#g14)"/>
<ellipse cx="230.4" cy="412.8" rx="2.9" ry="3.9" fill="url(#g29)"/>
<ellipse cx="233.6" cy="402.7" rx="2.1" ry="2.1" fill="url(#g15)"/>
<ellipse cx="256.7" cy="418.2" rx="2.1" ry="2.1" fill="url(#g15)"/>
<ellipse cx="268.0" cy="214.0" rx="2.1" ry="3.9" fill="url(#g15)"/>
<ellipse cx="254.4" cy="214.4" rx="2.1" ry="2.1" fill="url(#g15)"/>
<ellipse cx="234.4" cy="212.8" rx="3.9" ry="2.1" fill="url(#g6)"/>
</g>
<rect x="16" y="388.6" width="107.5" height="14" fill="#fff"/>
</svg></g>
<g id="img1"><rect x="1202.0" y="88.4" width="422.5" height="421.6" fill="#000"/>
<svg x="1202.0" y="88.4" width="422.5" height="421.6" viewBox="0 0 422.5 421.6">
<g filter="url(#bl2)"><rect x="408.5" y="10" width="8.5" height="411" fill="#170704"/><rect x="408.5" y="8" width="8.5" height="24" fill="#2e0e09"/></g>
<polyline points="229,92 229.6,118 229,143" fill="none" stroke="#6a5210" stroke-width="1.2" stroke-linecap="round" opacity="0.4"/>
<polyline points="214,58 222,64 236,68" fill="none" stroke="#5a5010" stroke-width="1.0" stroke-linecap="round" opacity="0.4"/>
<polyline points="212,54 226,47.5 245,48 256,51" fill="none" stroke="#4a4210" stroke-width="1.0" stroke-linecap="round" opacity="0.4"/>
<polyline points="172,138 186,143 192,142" fill="none" stroke="#8a4010" stroke-width="1.3" stroke-linecap="round" opacity="0.4"/>
<polyline points="160,132 154,128" fill="none" stroke="#8a4010" stroke-width="1.2" stroke-linecap="round" opacity="0.4"/>
<polyline points="228,300 228.5,330 229,352" fill="none" stroke="#5a4610" stroke-width="1.1" stroke-linecap="round" opacity="0.4"/>
<polyline points="109,74 128,78" fill="none" stroke="#106a28" stroke-width="1.6" stroke-linecap="round" opacity="0.4"/>
<g filter="url(#bl)">
<ellipse cx="56.5" cy="8.5" rx="3.4" ry="3.4" fill="url(#g1)"/>
<ellipse cx="51.8" cy="17.2" rx="6.8" ry="6.0" fill="url(#g4)"/>
<ellipse cx="27.8" cy="29.0" rx="6.8" ry="4.4" fill="url(#g6)"/>
<ellipse cx="23.5" cy="44.3" rx="4.4" ry="6.8" fill="url(#g0)"/>
<ellipse cx="14.1" cy="49.0" rx="4.4" ry="6.0" fill="url(#g2)"/>
<ellipse cx="43.5" cy="45.5" rx="6.8" ry="6.8" fill="url(#g2)"/>
<ellipse cx="65.9" cy="56.1" rx="5.4" ry="6.3" fill="url(#g0)"/>
<ellipse cx="82.4" cy="49.0" rx="3.9" ry="3.9" fill="url(#g2)"/>
<ellipse cx="45.9" cy="73.7" rx="7.3" ry="7.3" fill="url(#g1)"/>
<ellipse cx="62.4" cy="70.2" rx="7.3" ry="6.8" fill="url(#g1)"/>
<ellipse cx="80.0" cy="66.2" rx="6.3" ry="4.8" fill="url(#g8)"/>
<ellipse cx="17.6" cy="74.9" rx="2.5" ry="2.5" fill="url(#g0)"/>
<ellipse cx="25.9" cy="83.1" rx="2.9" ry="2.9" fill="url(#g13)"/>
<ellipse cx="43.5" cy="87.8" rx="3.4" ry="3.4" fill="url(#g8)"/>
<ellipse cx="20.7" cy="93.7" rx="7.7" ry="5.8" fill="url(#g0)"/>
<ellipse cx="23.1" cy="111.4" rx="6.8" ry="7.3" fill="url(#g7)"/>
<ellipse cx="22.4" cy="126.7" rx="3.4" ry="3.4" fill="url(#g14)"/>
<ellipse cx="14.6" cy="139.6" rx="5.8" ry="8.3" fill="url(#g0)"/>
<ellipse cx="9.4" cy="152.5" rx="2.5" ry="2.5" fill="url(#g6)"/>
<ellipse cx="17.6" cy="153.7" rx="2.5" ry="2.5" fill="url(#g2)"/>
<ellipse cx="38.8" cy="140.3" rx="2.5" ry="2.5" fill="url(#g6)"/>
<ellipse cx="37.6" cy="156.1" rx="8.3" ry="5.4" fill="url(#g2)"/>
<ellipse cx="32.9" cy="165.5" rx="6.3" ry="5.4" fill="url(#g16)"/>
<ellipse cx="24.7" cy="178.4" rx="3.4" ry="5.4" fill="url(#g6)"/>
<ellipse cx="36.5" cy="183.1" rx="2.5" ry="2.5" fill="url(#g6)"/>
<ellipse cx="44.2" cy="197.2" rx="7.3" ry="6.3" fill="url(#g4)"/>
<ellipse cx="21.2" cy="209.0" rx="7.3" ry="3.4" fill="url(#g12)"/>
<ellipse cx="110.6" cy="6.7" rx="3.4" ry="3.4" fill="url(#g2)"/>
<ellipse cx="110.6" cy="14.9" rx="2.9" ry="2.9" fill="url(#g0)"/>
<ellipse cx="92.9" cy="11.4" rx="4.8" ry="3.9" fill="url(#g20)"/>
<ellipse cx="77.6" cy="22.0" rx="2.1" ry="2.9" fill="url(#g14)"/>
<ellipse cx="81.2" cy="25.5" rx="2.1" ry="3.9" fill="url(#g14)"/>
<ellipse cx="90.6" cy="22.0" rx="2.5" ry="5.4" fill="url(#g0)"/>
<ellipse cx="88.9" cy="30.2" rx="2.5" ry="2.5" fill="url(#g14)"/>
<ellipse cx="97.6" cy="34.9" rx="2.5" ry="3.4" fill="url(#g14)"/>
<ellipse cx="109.4" cy="49.0" rx="9.2" ry="6.3" fill="url(#g2)"/>
<ellipse cx="126.6" cy="40.8" rx="2.1" ry="2.1" fill="url(#g2)"/>
<ellipse cx="149.4" cy="12.5" rx="2.1" ry="2.1" fill="url(#g15)"/>
<ellipse cx="172.9" cy="16.1" rx="7.3" ry="6.8" fill="url(#g26)"/>
<ellipse cx="176.5" cy="23.1" rx="2.1" ry="2.1" fill="url(#g14)"/>
<ellipse cx="187.1" cy="21.2" rx="2.1" ry="2.1" fill="url(#g14)"/>
<ellipse cx="195.3" cy="18.4" rx="2.9" ry="2.9" fill="url(#g1)"/>
<ellipse cx="161.2" cy="38.4" rx="6.8" ry="5.8" fill="url(#g6)"/>
<ellipse cx="148.7" cy="43.1" rx="3.9" ry="2.5" fill="url(#g14)"/>
<ellipse cx="174.1" cy="33.7" rx="5.8" ry="4.4" fill="url(#g28)"/>
<ellipse cx="181.2" cy="36.1" rx="2.1" ry="2.1" fill="url(#g3)"/>
<ellipse cx="198.8" cy="33.7" rx="2.5" ry="2.5" fill="url(#g6)"/>
<ellipse cx="203.5" cy="40.8" rx="2.5" ry="4.4" fill="url(#g1)"/>
<ellipse cx="172.9" cy="51.4" rx="2.1" ry="2.1" fill="url(#g14)"/>
<ellipse cx="192.9" cy="65.5" rx="5.8" ry="5.8" fill="url(#g4)"/>
<ellipse cx="185.9" cy="73.7" rx="5.4" ry="7.3" fill="url(#g9)"/>
<ellipse cx="170.6" cy="74.9" rx="7.3" ry="2.1" fill="url(#g14)" transform="rotate(-25 170.6 74.9)"/>
<ellipse cx="209.4" cy="67.8" rx="2.1" ry="2.1" fill="url(#g2)"/>
<ellipse cx="108.2" cy="72.5" rx="7.3" ry="6.3" fill="url(#g31)"/>
<ellipse cx="109.4" cy="78.4" rx="2.5" ry="4.8" fill="url(#g14)"/>
<ellipse cx="127.1" cy="90.2" rx="11.6" ry="2.1" fill="url(#g34)" transform="rotate(42 127.1 90.2)"/>
<ellipse cx="141.2" cy="78.4" rx="2.1" ry="2.1" fill="url(#g14)"/>
<ellipse cx="157.2" cy="76.1" rx="2.5" ry="2.5" fill="url(#g14)"/>
<ellipse cx="175.3" cy="82.4" rx="2.1" ry="2.1" fill="url(#g2)"/>
<ellipse cx="176.0" cy="88.5" rx="2.5" ry="2.5" fill="url(#g29)"/>
<ellipse cx="159.5" cy="91.4" rx="2.5" ry="3.4" fill="url(#g2)"/>
<ellipse cx="102.4" cy="91.4" rx="5.4" ry="6.8" fill="url(#g15)"/>
<ellipse cx="81.2" cy="98.0" rx="4.4" ry="6.3" fill="url(#g12)"/>
<ellipse cx="70.6" cy="102.0" rx="2.1" ry="2.1" fill="url(#g2)"/>
<ellipse cx="114.1" cy="100.3" rx="2.5" ry="2.5" fill="url(#g6)"/>
<ellipse cx="122.8" cy="102.7" rx="2.5" ry="2.5" fill="url(#g17)"/>
<ellipse cx="74.8" cy="112.1" rx="7.7" ry="7.3" fill="url(#g18)"/>
<ellipse cx="91.8" cy="113.7" rx="7.3" ry="8.3" fill="url(#g6)"/>
<ellipse cx="122.4" cy="113.7" rx="8.3" ry="5.4" fill="url(#g14)"/>
<ellipse cx="112.5" cy="123.1" rx="7.3" ry="6.8" fill="url(#g10)"/>
<ellipse cx="54.1" cy="117.2" rx="2.1" ry="2.1" fill="url(#g16)"/>
<ellipse cx="48.7" cy="128.5" rx="7.3" ry="2.9" fill="url(#g0)" transform="rotate(25 48.7 128.5)"/>
<ellipse cx="71.8" cy="130.2" rx="2.5" ry="2.5" fill="url(#g6)"/>
<ellipse cx="82.4" cy="142.0" rx="3.4" ry="3.4" fill="url(#g31)"/>
<ellipse cx="60.0" cy="147.4" rx="2.5" ry="2.5" fill="url(#g6)"/>
<ellipse cx="138.8" cy="130.2" rx="2.9" ry="2.9" fill="url(#g8)"/>
<ellipse cx="167.5" cy="117.2" rx="6.3" ry="6.8" fill="url(#g1)"/>
<ellipse cx="166.6" cy="134.2" rx="8.7" ry="7.7" fill="url(#g36)"/>
<ellipse cx="168.2" cy="147.4" rx="7.3" ry="5.8" fill="url(#g2)"/>
<ellipse cx="194.8" cy="137.2" rx="5.8" ry="5.8" fill="url(#g32)"/>
<ellipse cx="180.0" cy="127.8" rx="2.1" ry="2.1" fill="url(#g2)"/>
<ellipse cx="197.2" cy="147.4" rx="2.1" ry="2.1" fill="url(#g2)"/>
<ellipse cx="201.2" cy="110.2" rx="2.5" ry="2.5" fill="url(#g21)"/>
<ellipse cx="140.0" cy="152.5" rx="2.5" ry="5.4" fill="url(#g6)"/>
<ellipse cx="130.6" cy="169.0" rx="7.3" ry="6.8" fill="url(#g14)"/>
<ellipse cx="111.1" cy="164.3" rx="2.5" ry="2.5" fill="url(#g2)"/>
<ellipse cx="115.8" cy="169.5" rx="2.1" ry="2.1" fill="url(#g14)"/>
<ellipse cx="81.9" cy="162.4" rx="2.1" ry="2.1" fill="url(#g14)"/>
<ellipse cx="100.0" cy="179.6" rx="2.9" ry="2.9" fill="url(#g14)"/>
<ellipse cx="180.7" cy="174.9" rx="7.7" ry="7.7" fill="url(#g12)"/>
<ellipse cx="164.7" cy="182.7" rx="6.8" ry="7.3" fill="url(#g18)"/>
<ellipse cx="170.6" cy="194.9" rx="2.9" ry="3.9" fill="url(#g29)"/>
<ellipse cx="161.2" cy="200.1" rx="2.1" ry="2.1" fill="url(#g1)"/>
<ellipse cx="175.3" cy="163.1" rx="2.1" ry="2.1" fill="url(#g0)"/>
<ellipse cx="69.4" cy="191.4" rx="2.1" ry="2.1" fill="url(#g2)"/>
<ellipse cx="65.9" cy="199.6" rx="2.5" ry="2.5" fill="url(#g6)"/>
<ellipse cx="81.2" cy="202.4" rx="8.7" ry="4.4" fill="url(#g7)"/>
<ellipse cx="96.0" cy="195.4" rx="2.1" ry="2.1" fill="url(#g11)"/>
<ellipse cx="140.0" cy="208.5" rx="2.5" ry="2.5" fill="url(#g6)"/>
<ellipse cx="156.5" cy="207.8" rx="2.1" ry="2.1" fill="url(#g6)"/>
<ellipse cx="114.1" cy="210.2" rx="2.5" ry="2.5" fill="url(#g16)"/>
<ellipse cx="69.4" cy="209.0" rx="4.8" ry="2.5" fill="url(#g2)"/>
<ellipse cx="211.1" cy="173.7" rx="2.1" ry="3.4" fill="url(#g2)"/>
<ellipse cx="342.6" cy="9.5" rx="6.8" ry="5.4" fill="url(#g2)"/>
<ellipse cx="317.4" cy="7.8" rx="2.5" ry="4.4" fill="url(#g14)"/>
<ellipse cx="288.5" cy="16.5" rx="7.3" ry="5.4" fill="url(#g8)"/>
<ellipse cx="300.9" cy="19.6" rx="2.5" ry="2.5" fill="url(#g0)"/>
<ellipse cx="255.1" cy="16.5" rx="2.1" ry="2.1" fill="url(#g2)"/>
<ellipse cx="254.4" cy="30.2" rx="2.1" ry="4.4" fill="url(#g2)"/>
<ellipse cx="290.1" cy="29.0" rx="2.1" ry="2.9" fill="url(#g14)"/>
<ellipse cx="318.4" cy="26.7" rx="2.1" ry="3.4" fill="url(#g6)"/>
<ellipse cx="336.7" cy="24.3" rx="7.7" ry="2.1" fill="url(#g12)" transform="rotate(40 336.7 24.3)"/>
<ellipse cx="360.7" cy="17.2" rx="6.8" ry="2.1" fill="url(#g12)" transform="rotate(-10 360.7 17.2)"/>
<ellipse cx="374.4" cy="20.3" rx="7.3" ry="6.8" fill="url(#g39)"/>
<ellipse cx="389.6" cy="18.4" rx="6.3" ry="6.8" fill="url(#g5)"/>
<ellipse cx="397.9" cy="37.2" rx="6.3" ry="6.8" fill="url(#g3)"/>
<ellipse cx="409.6" cy="34.4" rx="2.5" ry="2.5" fill="url(#g16)"/>
<ellipse cx="359.1" cy="31.4" rx="2.5" ry="2.5" fill="url(#g14)"/>
<ellipse cx="377.9" cy="37.2" rx="7.3" ry="2.1" fill="url(#g12)" transform="rotate(-55 377.9 37.2)"/>
<ellipse cx="364.9" cy="43.1" rx="2.1" ry="4.8" fill="url(#g14)"/>
<ellipse cx="307.3" cy="42.4" rx="3.9" ry="3.4" fill="url(#g2)"/>
<ellipse cx="323.1" cy="43.1" rx="2.1" ry="2.1" fill="url(#g14)"/>
<ellipse cx="335.5" cy="47.8" rx="2.5" ry="2.5" fill="url(#g6)"/>
<ellipse cx="341.4" cy="43.8" rx="2.5" ry="2.5" fill="url(#g6)"/>
<ellipse cx="342.6" cy="50.2" rx="2.1" ry="3.4" fill="url(#g6)"/>
<ellipse cx="323.8" cy="52.5" rx="7.3" ry="6.3" fill="url(#g2)"/>
<ellipse cx="284.5" cy="46.7" rx="2.5" ry="2.5" fill="url(#g9)"/>
<ellipse cx="256.7" cy="53.7" rx="2.1" ry="2.1" fill="url(#g1)"/>
<ellipse cx="266.6" cy="52.5" rx="2.1" ry="2.1" fill="url(#g15)"/>
<ellipse cx="296.2" cy="54.9" rx="2.9" ry="2.9" fill="url(#g14)"/>
<ellipse cx="335.5" cy="56.5" rx="2.1" ry="2.1" fill="url(#g4)"/>
<ellipse cx="369.2" cy="56.1" rx="2.1" ry="4.4" fill="url(#g12)"/>
<ellipse cx="397.4" cy="58.4" rx="2.5" ry="4.4" fill="url(#g6)"/>
<ellipse cx="400.2" cy="56.1" rx="2.1" ry="2.1" fill="url(#g2)"/>
<ellipse cx="407.3" cy="54.9" rx="2.1" ry="5.4" fill="url(#g6)"/>
<ellipse cx="228.0" cy="59.6" rx="2.1" ry="2.1" fill="url(#g6)"/>
<ellipse cx="222.6" cy="65.5" rx="2.5" ry="2.5" fill="url(#g14)"/>
<ellipse cx="282.1" cy="62.0" rx="2.5" ry="2.5" fill="url(#g16)"/>
<ellipse cx="308.0" cy="63.6" rx="2.5" ry="2.5" fill="url(#g15)"/>
<ellipse cx="264.9" cy="67.4" rx="7.3" ry="5.4" fill="url(#g2)"/>
<ellipse cx="231.3" cy="77.2" rx="2.1" ry="2.1" fill="url(#g14)"/>
<ellipse cx="333.2" cy="76.8" rx="5.8" ry="5.4" fill="url(#g15)"/>
<ellipse cx="357.9" cy="83.8" rx="7.3" ry="7.3" fill="url(#g15)"/>
<ellipse cx="374.4" cy="77.2" rx="7.7" ry="9.7" fill="url(#g21)"/>
<ellipse cx="367.3" cy="89.5" rx="2.1" ry="2.1" fill="url(#g2)"/>
<ellipse cx="406.1" cy="83.1" rx="3.4" ry="5.4" fill="url(#g14)"/>
<ellipse cx="326.8" cy="87.8" rx="2.5" ry="2.5" fill="url(#g6)"/>
<ellipse cx="332.0" cy="85.5" rx="2.1" ry="2.1" fill="url(#g14)"/>
<ellipse cx="302.1" cy="96.5" rx="6.3" ry="7.3" fill="url(#g2)"/>
<ellipse cx="314.4" cy="95.6" rx="2.1" ry="4.4" fill="url(#g14)"/>
<ellipse cx="373.2" cy="102.0" rx="3.9" ry="2.5" fill="url(#g5)" transform="rotate(30 373.2 102.0)"/>
<ellipse cx="393.2" cy="100.8" rx="6.8" ry="7.7" fill="url(#g43)"/>
<ellipse cx="396.7" cy="104.3" rx="2.1" ry="4.8" fill="url(#g0)"/>
<ellipse cx="404.5" cy="103.1" rx="2.5" ry="4.8" fill="url(#g1)"/>
<ellipse cx="333.2" cy="104.3" rx="6.8" ry="6.8" fill="url(#g7)"/>
<ellipse cx="343.8" cy="113.7" rx="6.8" ry="7.7" fill="url(#g35)"/>
<ellipse cx="328.5" cy="123.1" rx="2.9" ry="6.8" fill="url(#g14)" transform="rotate(-35 328.5 123.1)"/>
<ellipse cx="215.5" cy="102.0" rx="2.1" ry="2.9" fill="url(#g4)"/>
<ellipse cx="228.9" cy="109.7" rx="2.1" ry="2.1" fill="url(#g6)"/>
<ellipse cx="242.1" cy="114.9" rx="2.5" ry="4.4" fill="url(#g2)"/>
<ellipse cx="253.2" cy="113.7" rx="2.9" ry="2.9" fill="url(#g0)"/>
<ellipse cx="253.2" cy="123.8" rx="3.9" ry="3.4" fill="url(#g5)"/>
<ellipse cx="351.3" cy="127.1" rx="2.1" ry="2.1" fill="url(#g6)"/>
<ellipse cx="377.9" cy="132.5" rx="7.7" ry="7.3" fill="url(#g15)"/>
<ellipse cx="348.5" cy="139.6" rx="6.8" ry="7.3" fill="url(#g7)"/>
<ellipse cx="359.1" cy="136.1" rx="3.4" ry="3.4" fill="url(#g6)"/>
<ellipse cx="339.1" cy="140.8" rx="2.1" ry="3.4" fill="url(#g6)"/>
<ellipse cx="216.2" cy="140.8" rx="2.5" ry="2.5" fill="url(#g14)"/>
<ellipse cx="229.6" cy="139.6" rx="3.9" ry="2.1" fill="url(#g12)"/>
<ellipse cx="293.2" cy="142.0" rx="2.5" ry="4.4" fill="url(#g14)"/>
<ellipse cx="310.8" cy="146.0" rx="6.3" ry="2.1" fill="url(#g12)" transform="rotate(10 310.8 146.0)"/>
<ellipse cx="231.3" cy="150.2" rx="2.1" ry="3.9" fill="url(#g4)"/>
<ellipse cx="356.7" cy="153.7" rx="6.3" ry="6.3" fill="url(#g7)"/>
<ellipse cx="372.0" cy="162.0" rx="7.7" ry="6.8" fill="url(#g0)"/>
<ellipse cx="386.1" cy="165.5" rx="4.4" ry="9.7" fill="url(#g0)"/>
<ellipse cx="329.6" cy="164.3" rx="2.1" ry="4.8" fill="url(#g2)"/>
<ellipse cx="368.5" cy="174.9" rx="2.1" ry="3.9" fill="url(#g14)"/>
<ellipse cx="216.2" cy="166.7" rx="2.1" ry="2.1" fill="url(#g35)"/>
<ellipse cx="223.3" cy="172.5" rx="6.3" ry="6.3" fill="url(#g5)"/>
<ellipse cx="242.1" cy="173.2" rx="2.5" ry="2.5" fill="url(#g2)"/>
<ellipse cx="257.2" cy="170.2" rx="6.3" ry="6.3" fill="url(#g6)"/>
<ellipse cx="268.0" cy="178.4" rx="3.9" ry="2.1" fill="url(#g12)" transform="rotate(40 268.0 178.4)"/>
<ellipse cx="292.0" cy="174.9" rx="2.1" ry="2.1" fill="url(#g15)"/>
<ellipse cx="301.9" cy="172.5" rx="2.5" ry="2.5" fill="url(#g14)"/>
<ellipse cx="327.8" cy="175.6" rx="2.5" ry="2.5" fill="url(#g2)"/>
<ellipse cx="395.1" cy="185.0" rx="2.1" ry="2.1" fill="url(#g14)"/>
<ellipse cx="371.5" cy="187.8" rx="2.1" ry="2.9" fill="url(#g0)"/>
<ellipse cx="372.0" cy="192.5" rx="2.1" ry="2.1" fill="url(#g16)"/>
<ellipse cx="269.6" cy="187.8" rx="2.1" ry="2.9" fill="url(#g14)"/>
<ellipse cx="306.1" cy="194.4" rx="2.5" ry="4.4" fill="url(#g14)" transform="rotate(-30 306.1 194.4)"/>
<ellipse cx="221.9" cy="194.4" rx="6.3" ry="5.4" fill="url(#g2)"/>
<ellipse cx="251.5" cy="193.7" rx="7.3" ry="6.8" fill="url(#g2)"/>
<ellipse cx="234.4" cy="186.7" rx="2.5" ry="2.5" fill="url(#g14)"/>
<ellipse cx="216.7" cy="202.0" rx="3.4" ry="2.1" fill="url(#g4)"/>
<ellipse cx="249.6" cy="206.7" rx="8.7" ry="4.8" fill="url(#g6)"/>
<ellipse cx="235.5" cy="208.5" rx="2.5" ry="2.5" fill="url(#g14)"/>
<ellipse cx="263.3" cy="199.6" rx="2.1" ry="2.1" fill="url(#g14)"/>
<ellipse cx="331.3" cy="207.1" rx="2.1" ry="2.1" fill="url(#g47)"/>
<ellipse cx="357.4" cy="206.2" rx="2.1" ry="3.9" fill="url(#g0)"/>
<ellipse cx="400.2" cy="206.7" rx="5.8" ry="4.8" fill="url(#g13)"/>
<ellipse cx="289.6" cy="209.0" rx="2.1" ry="2.1" fill="url(#g14)"/>
<ellipse cx="310.8" cy="210.2" rx="2.1" ry="2.1" fill="url(#g9)"/>
<ellipse cx="22.4" cy="214.0" rx="8.7" ry="4.4" fill="url(#g12)"/>
<ellipse cx="69.4" cy="215.1" rx="7.3" ry="5.8" fill="url(#g2)"/>
<ellipse cx="115.3" cy="215.1" rx="5.4" ry="5.4" fill="url(#g0)"/>
<ellipse cx="5.2" cy="230.9" rx="2.9" ry="3.4" fill="url(#g2)"/>
<ellipse cx="29.4" cy="229.2" rx="5.8" ry="4.8" fill="url(#g13)"/>
<ellipse cx="17.6" cy="237.5" rx="4.4" ry="6.8" fill="url(#g31)"/>
<ellipse cx="27.8" cy="248.8" rx="8.3" ry="6.8" fill="url(#g8)"/>
<ellipse cx="45.9" cy="248.1" rx="3.4" ry="4.4" fill="url(#g13)"/>
<ellipse cx="57.6" cy="240.3" rx="3.4" ry="3.4" fill="url(#g7)"/>
<ellipse cx="72.9" cy="231.6" rx="2.5" ry="2.5" fill="url(#g48)"/>
<ellipse cx="80.0" cy="251.6" rx="7.3" ry="5.8" fill="url(#g2)"/>
<ellipse cx="98.4" cy="241.7" rx="7.7" ry="6.3" fill="url(#g16)"/>
<ellipse cx="109.4" cy="234.7" rx="4.8" ry="5.4" fill="url(#g7)"/>
<ellipse cx="130.6" cy="233.2" rx="7.7" ry="8.3" fill="url(#g49)"/>
<ellipse cx="117.2" cy="251.1" rx="8.3" ry="7.3" fill="url(#g12)"/>
<ellipse cx="133.6" cy="256.8" rx="7.3" ry="5.4" fill="url(#g2)"/>
<ellipse cx="120.5" cy="225.7" rx="2.1" ry="2.1" fill="url(#g9)"/>
<ellipse cx="144.7" cy="221.0" rx="2.9" ry="4.4" fill="url(#g6)"/>
<ellipse cx="155.3" cy="227.6" rx="2.1" ry="2.1" fill="url(#g14)"/>
<ellipse cx="163.5" cy="228.5" rx="2.1" ry="2.1" fill="url(#g14)"/>
<ellipse cx="169.9" cy="235.1" rx="7.3" ry="6.8" fill="url(#g16)"/>
<ellipse cx="181.2" cy="225.7" rx="2.1" ry="4.4" fill="url(#g6)"/>
<ellipse cx="195.3" cy="226.9" rx="6.3" ry="6.3" fill="url(#g6)"/>
<ellipse cx="154.1" cy="242.2" rx="2.1" ry="2.1" fill="url(#g11)"/>
<ellipse cx="174.6" cy="248.1" rx="3.9" ry="3.4" fill="url(#g14)"/>
<ellipse cx="184.7" cy="245.7" rx="2.1" ry="2.1" fill="url(#g4)"/>
<ellipse cx="178.8" cy="254.0" rx="2.1" ry="2.1" fill="url(#g14)"/>
<ellipse cx="161.9" cy="260.5" rx="3.4" ry="3.9" fill="url(#g14)"/>
<ellipse cx="198.8" cy="257.5" rx="8.3" ry="5.8" fill="url(#g27)"/>
<ellipse cx="189.4" cy="272.3" rx="4.8" ry="5.8" fill="url(#g39)"/>
<ellipse cx="68.7" cy="263.8" rx="5.8" ry="5.4" fill="url(#g18)"/>
<ellipse cx="74.8" cy="273.2" rx="5.4" ry="4.8" fill="url(#g1)"/>
<ellipse cx="83.5" cy="267.6" rx="2.1" ry="2.1" fill="url(#g14)"/>
<ellipse cx="28.2" cy="273.2" rx="5.8" ry="4.4" fill="url(#g6)"/>
<ellipse cx="15.3" cy="271.6" rx="3.4" ry="2.5" fill="url(#g6)"/>
<ellipse cx="48.2" cy="275.6" rx="6.3" ry="5.8" fill="url(#g6)"/>
<ellipse cx="67.1" cy="278.7" rx="2.5" ry="2.5" fill="url(#g4)"/>
<ellipse cx="18.8" cy="284.5" rx="7.7" ry="8.3" fill="url(#g14)"/>
<ellipse cx="52.2" cy="288.1" rx="9.2" ry="5.8" fill="url(#g7)"/>
<ellipse cx="24.7" cy="300.5" rx="6.8" ry="7.7" fill="url(#g6)"/>
<ellipse cx="40.5" cy="299.1" rx="5.8" ry="8.3" fill="url(#g7)"/>
<ellipse cx="12.9" cy="302.2" rx="3.4" ry="6.3" fill="url(#g31)"/>
<ellipse cx="61.6" cy="301.5" rx="8.7" ry="7.7" fill="url(#g4)"/>
<ellipse cx="48.2" cy="305.2" rx="2.1" ry="4.4" fill="url(#g14)"/>
<ellipse cx="35.3" cy="311.6" rx="6.3" ry="4.8" fill="url(#g2)"/>
<ellipse cx="11.8" cy="315.1" rx="6.3" ry="7.3" fill="url(#g31)"/>
<ellipse cx="27.8" cy="318.7" rx="2.5" ry="5.4" fill="url(#g6)"/>
<ellipse cx="34.1" cy="320.3" rx="2.1" ry="3.9" fill="url(#g6)"/>
<ellipse cx="5.9" cy="329.2" rx="2.9" ry="5.8" fill="url(#g2)"/>
<ellipse cx="13.6" cy="331.6" rx="2.5" ry="6.3" fill="url(#g8)"/>
<ellipse cx="22.4" cy="338.7" rx="6.3" ry="6.3" fill="url(#g7)"/>
<ellipse cx="36.5" cy="352.8" rx="6.8" ry="7.7" fill="url(#g6)"/>
<ellipse cx="106.4" cy="274.7" rx="5.4" ry="5.4" fill="url(#g2)"/>
<ellipse cx="124.2" cy="270.9" rx="8.3" ry="6.8" fill="url(#g4)"/>
<ellipse cx="119.5" cy="279.8" rx="5.4" ry="4.4" fill="url(#g12)"/>
<ellipse cx="108.2" cy="289.2" rx="6.8" ry="6.8" fill="url(#g5)"/>
<ellipse cx="96.9" cy="292.8" rx="2.1" ry="2.9" fill="url(#g14)"/>
<ellipse cx="132.9" cy="298.2" rx="8.3" ry="6.8" fill="url(#g2)"/>
<ellipse cx="88.9" cy="303.4" rx="3.4" ry="3.9" fill="url(#g6)"/>
<ellipse cx="96.0" cy="299.8" rx="2.1" ry="2.1" fill="url(#g14)"/>
<ellipse cx="96.0" cy="308.1" rx="2.1" ry="3.4" fill="url(#g2)"/>
<ellipse cx="108.2" cy="301.0" rx="2.1" ry="3.4" fill="url(#g14)"/>
<ellipse cx="81.2" cy="311.6" rx="6.3" ry="6.8" fill="url(#g12)"/>
<ellipse cx="71.1" cy="315.1" rx="3.4" ry="5.8" fill="url(#g2)"/>
<ellipse cx="94.6" cy="326.9" rx="8.3" ry="8.7" fill="url(#g6)"/>
<ellipse cx="75.3" cy="334.4" rx="8.7" ry="6.3" fill="url(#g9)"/>
<ellipse cx="112.5" cy="319.8" rx="2.1" ry="2.9" fill="url(#g14)"/>
<ellipse cx="123.5" cy="328.8" rx="2.1" ry="2.1" fill="url(#g14)"/>
<ellipse cx="138.4" cy="317.5" rx="3.9" ry="5.4" fill="url(#g6)"/>
<ellipse cx="150.1" cy="315.1" rx="4.4" ry="4.8" fill="url(#g14)"/>
<ellipse cx="136.0" cy="332.8" rx="2.1" ry="3.9" fill="url(#g13)"/>
<ellipse cx="117.6" cy="338.2" rx="4.8" ry="4.8" fill="url(#g39)"/>
<ellipse cx="130.6" cy="344.5" rx="6.8" ry="8.3" fill="url(#g0)"/>
<ellipse cx="151.8" cy="338.7" rx="2.1" ry="3.4" fill="url(#g2)"/>
<ellipse cx="65.4" cy="343.4" rx="6.8" ry="7.7" fill="url(#g14)"/>
<ellipse cx="86.6" cy="349.2" rx="6.8" ry="6.3" fill="url(#g12)"/>
<ellipse cx="120.5" cy="352.3" rx="6.8" ry="6.8" fill="url(#g1)"/>
<ellipse cx="171.3" cy="296.3" rx="3.4" ry="3.4" fill="url(#g9)"/>
<ellipse cx="202.8" cy="286.9" rx="9.7" ry="7.3" fill="url(#g31)"/>
<ellipse cx="192.5" cy="296.3" rx="5.8" ry="6.3" fill="url(#g12)"/>
<ellipse cx="197.6" cy="295.1" rx="2.5" ry="2.5" fill="url(#g14)"/>
<ellipse cx="195.8" cy="315.6" rx="6.8" ry="6.8" fill="url(#g5)"/>
<ellipse cx="184.0" cy="319.4" rx="2.1" ry="2.1" fill="url(#g6)"/>
<ellipse cx="169.9" cy="340.5" rx="2.1" ry="2.1" fill="url(#g6)"/>
<ellipse cx="189.4" cy="351.6" rx="7.3" ry="4.8" fill="url(#g12)"/>
<ellipse cx="189.4" cy="358.7" rx="4.8" ry="5.4" fill="url(#g2)"/>
<ellipse cx="202.8" cy="360.3" rx="6.3" ry="7.3" fill="url(#g6)"/>
<ellipse cx="204.2" cy="371.6" rx="6.3" ry="5.8" fill="url(#g6)"/>
<ellipse cx="141.2" cy="370.4" rx="8.7" ry="7.7" fill="url(#g31)"/>
<ellipse cx="128.9" cy="369.7" rx="2.1" ry="3.9" fill="url(#g2)"/>
<ellipse cx="134.6" cy="379.1" rx="2.1" ry="2.1" fill="url(#g16)"/>
<ellipse cx="150.6" cy="375.1" rx="2.1" ry="3.4" fill="url(#g2)"/>
<ellipse cx="182.4" cy="377.5" rx="2.5" ry="3.9" fill="url(#g2)"/>
<ellipse cx="173.6" cy="385.7" rx="2.5" ry="2.5" fill="url(#g2)"/>
<ellipse cx="148.7" cy="390.0" rx="8.3" ry="8.3" fill="url(#g2)"/>
<ellipse cx="143.5" cy="390.4" rx="3.4" ry="4.4" fill="url(#g2)"/>
<ellipse cx="161.2" cy="394.0" rx="2.1" ry="2.1" fill="url(#g4)"/>
<ellipse cx="154.1" cy="401.0" rx="2.1" ry="3.4" fill="url(#g2)"/>
<ellipse cx="198.8" cy="395.1" rx="7.3" ry="6.8" fill="url(#g10)"/>
<ellipse cx="178.8" cy="399.8" rx="2.1" ry="3.4" fill="url(#g6)"/>
<ellipse cx="27.8" cy="382.9" rx="5.8" ry="5.4" fill="url(#g6)"/>
<ellipse cx="130.6" cy="400.3" rx="4.4" ry="4.4" fill="url(#g14)"/>
<ellipse cx="138.8" cy="407.4" rx="8.3" ry="5.8" fill="url(#g12)"/>
<ellipse cx="115.8" cy="406.9" rx="7.3" ry="4.8" fill="url(#g7)"/>
<ellipse cx="123.5" cy="411.6" rx="2.5" ry="2.5" fill="url(#g14)"/>
<ellipse cx="115.3" cy="418.2" rx="6.3" ry="2.9" fill="url(#g18)"/>
<ellipse cx="71.1" cy="413.5" rx="5.8" ry="4.4" fill="url(#g0)"/>
<ellipse cx="18.4" cy="410.4" rx="4.8" ry="5.4" fill="url(#g31)"/>
<ellipse cx="30.6" cy="413.5" rx="7.7" ry="3.9" fill="url(#g0)"/>
<ellipse cx="210.6" cy="243.4" rx="2.1" ry="7.3" fill="url(#g27)" transform="rotate(30 210.6 243.4)"/>
<ellipse cx="138.8" cy="212.8" rx="2.1" ry="2.1" fill="url(#g14)"/>
<ellipse cx="75.3" cy="397.5" rx="8.3" ry="7.3" fill="url(#g2)"/>
<ellipse cx="100.0" cy="395.1" rx="6.3" ry="7.7" fill="url(#g2)"/>
<ellipse cx="42.4" cy="396.3" rx="5.8" ry="3.4" fill="url(#g0)"/>
<ellipse cx="297.2" cy="220.5" rx="6.8" ry="7.7" fill="url(#g45)"/>
<ellipse cx="310.8" cy="214.0" rx="4.8" ry="3.9" fill="url(#g9)"/>
<ellipse cx="332.0" cy="222.2" rx="3.9" ry="5.4" fill="url(#g2)"/>
<ellipse cx="273.2" cy="221.5" rx="2.1" ry="3.9" fill="url(#g14)"/>
<ellipse cx="286.1" cy="218.7" rx="2.1" ry="2.1" fill="url(#g4)"/>
<ellipse cx="315.5" cy="224.5" rx="2.1" ry="2.1" fill="url(#g2)"/>
<ellipse cx="324.9" cy="225.7" rx="3.4" ry="2.1" fill="url(#g2)"/>
<ellipse cx="246.1" cy="229.2" rx="5.8" ry="5.4" fill="url(#g31)"/>
<ellipse cx="222.6" cy="228.1" rx="3.4" ry="5.8" fill="url(#g8)" transform="rotate(30 222.6 228.1)"/>
<ellipse cx="235.5" cy="237.0" rx="2.1" ry="2.1" fill="url(#g2)"/>
<ellipse cx="282.1" cy="235.1" rx="2.1" ry="2.1" fill="url(#g4)"/>
<ellipse cx="293.2" cy="232.3" rx="2.1" ry="2.1" fill="url(#g2)"/>
<ellipse cx="348.0" cy="234.0" rx="3.9" ry="2.5" fill="url(#g7)"/>
<ellipse cx="356.0" cy="230.4" rx="2.1" ry="4.8" fill="url(#g14)"/>
<ellipse cx="389.6" cy="224.5" rx="7.3" ry="6.8" fill="url(#g12)"/>
<ellipse cx="374.4" cy="219.1" rx="2.5" ry="2.5" fill="url(#g6)"/>
<ellipse cx="398.4" cy="212.8" rx="3.9" ry="2.5" fill="url(#g0)"/>
<ellipse cx="251.5" cy="245.0" rx="6.8" ry="5.4" fill="url(#g9)"/>
<ellipse cx="272.7" cy="248.8" rx="6.3" ry="4.8" fill="url(#g33)"/>
<ellipse cx="224.2" cy="255.8" rx="4.4" ry="3.9" fill="url(#g21)"/>
<ellipse cx="285.4" cy="256.8" rx="2.1" ry="2.9" fill="url(#g2)"/>
<ellipse cx="344.9" cy="256.8" rx="6.8" ry="7.3" fill="url(#g12)"/>
<ellipse cx="404.5" cy="255.1" rx="2.9" ry="4.8" fill="url(#g0)"/>
<ellipse cx="320.7" cy="261.5" rx="2.1" ry="3.9" fill="url(#g14)"/>
<ellipse cx="309.6" cy="268.1" rx="2.1" ry="4.8" fill="url(#g6)"/>
<ellipse cx="332.0" cy="266.9" rx="2.1" ry="3.4" fill="url(#g14)"/>
<ellipse cx="330.8" cy="273.2" rx="2.5" ry="4.8" fill="url(#g14)"/>
<ellipse cx="270.8" cy="266.9" rx="2.9" ry="3.4" fill="url(#g2)"/>
<ellipse cx="228.5" cy="274.7" rx="2.5" ry="3.4" fill="url(#g7)"/>
<ellipse cx="358.4" cy="269.2" rx="4.4" ry="2.5" fill="url(#g6)" transform="rotate(20 358.4 269.2)"/>
<ellipse cx="361.4" cy="274.7" rx="2.1" ry="2.1" fill="url(#g6)"/>
<ellipse cx="367.3" cy="275.1" rx="2.1" ry="2.1" fill="url(#g14)"/>
<ellipse cx="283.1" cy="274.7" rx="7.3" ry="8.3" fill="url(#g12)"/>
<ellipse cx="300.2" cy="277.5" rx="7.3" ry="5.8" fill="url(#g0)"/>
<ellipse cx="322.1" cy="278.7" rx="2.5" ry="3.9" fill="url(#g14)"/>
<ellipse cx="269.6" cy="282.2" rx="4.8" ry="2.9" fill="url(#g7)" transform="rotate(-30 269.6 282.2)"/>
<ellipse cx="275.1" cy="291.6" rx="8.3" ry="8.7" fill="url(#g7)"/>
<ellipse cx="289.6" cy="291.6" rx="3.9" ry="3.9" fill="url(#g14)"/>
<ellipse cx="306.6" cy="291.6" rx="2.1" ry="2.1" fill="url(#g2)"/>
<ellipse cx="316.0" cy="295.1" rx="2.9" ry="5.4" fill="url(#g6)"/>
<ellipse cx="335.5" cy="291.6" rx="9.7" ry="7.3" fill="url(#g5)"/>
<ellipse cx="328.5" cy="287.4" rx="2.5" ry="3.9" fill="url(#g14)"/>
<ellipse cx="216.7" cy="294.0" rx="3.9" ry="4.8" fill="url(#g6)"/>
<ellipse cx="228.0" cy="295.1" rx="5.8" ry="5.8" fill="url(#g2)"/>
<ellipse cx="213.2" cy="286.9" rx="2.1" ry="3.9" fill="url(#g4)"/>
<ellipse cx="257.9" cy="296.8" rx="4.8" ry="3.9" fill="url(#g12)"/>
<ellipse cx="251.5" cy="306.9" rx="7.7" ry="7.3" fill="url(#g0)"/>
<ellipse cx="226.6" cy="312.8" rx="2.9" ry="4.8" fill="url(#g14)"/>
<ellipse cx="240.2" cy="315.1" rx="6.3" ry="5.8" fill="url(#g6)"/>
<ellipse cx="268.0" cy="311.6" rx="2.5" ry="2.5" fill="url(#g2)"/>
<ellipse cx="281.4" cy="309.2" rx="4.4" ry="6.3" fill="url(#g31)"/>
<ellipse cx="360.7" cy="306.9" rx="2.1" ry="4.4" fill="url(#g12)"/>
<ellipse cx="348.5" cy="315.1" rx="2.5" ry="7.3" fill="url(#g6)" transform="rotate(20 348.5 315.1)"/>
<ellipse cx="404.5" cy="314.7" rx="2.5" ry="5.4" fill="url(#g6)"/>
<ellipse cx="399.8" cy="321.7" rx="2.1" ry="3.9" fill="url(#g6)"/>
<ellipse cx="265.6" cy="322.7" rx="6.3" ry="6.8" fill="url(#g12)"/>
<ellipse cx="277.4" cy="327.4" rx="4.4" ry="4.8" fill="url(#g12)"/>
<ellipse cx="315.5" cy="326.4" rx="3.9" ry="3.9" fill="url(#g2)"/>
<ellipse cx="336.7" cy="325.0" rx="6.8" ry="6.3" fill="url(#g22)"/>
<ellipse cx="359.1" cy="325.7" rx="2.9" ry="3.9" fill="url(#g14)"/>
<ellipse cx="373.2" cy="326.9" rx="7.3" ry="2.5" fill="url(#g23)" transform="rotate(25 373.2 326.9)"/>
<ellipse cx="286.1" cy="333.5" rx="5.8" ry="5.4" fill="url(#g0)"/>
<ellipse cx="216.2" cy="335.1" rx="2.1" ry="3.9" fill="url(#g6)"/>
<ellipse cx="233.2" cy="335.1" rx="5.4" ry="6.8" fill="url(#g12)"/>
<ellipse cx="322.1" cy="332.1" rx="2.1" ry="2.9" fill="url(#g14)"/>
<ellipse cx="374.8" cy="337.5" rx="3.9" ry="4.4" fill="url(#g6)"/>
<ellipse cx="321.4" cy="342.2" rx="6.8" ry="5.8" fill="url(#g12)"/>
<ellipse cx="332.0" cy="344.5" rx="2.5" ry="5.8" fill="url(#g2)" transform="rotate(-30 332.0 344.5)"/>
<ellipse cx="336.2" cy="337.5" rx="2.1" ry="3.4" fill="url(#g6)"/>
<ellipse cx="287.8" cy="345.2" rx="2.1" ry="5.8" fill="url(#g14)" transform="rotate(20 287.8 345.2)"/>
<ellipse cx="299.1" cy="346.9" rx="8.3" ry="8.7" fill="url(#g6)"/>
<ellipse cx="369.6" cy="350.0" rx="6.3" ry="6.3" fill="url(#g17)"/>
<ellipse cx="263.3" cy="353.2" rx="6.3" ry="5.8" fill="url(#g6)"/>
<ellipse cx="257.2" cy="361.0" rx="6.3" ry="6.3" fill="url(#g2)"/>
<ellipse cx="218.6" cy="362.7" rx="2.1" ry="2.1" fill="url(#g2)"/>
<ellipse cx="395.5" cy="358.0" rx="8.3" ry="5.4" fill="url(#g0)"/>
<ellipse cx="380.9" cy="363.4" rx="7.3" ry="7.3" fill="url(#g0)"/>
<ellipse cx="366.1" cy="364.1" rx="3.9" ry="4.4" fill="url(#g14)"/>
<ellipse cx="356.0" cy="368.1" rx="5.8" ry="6.3" fill="url(#g7)"/>
<ellipse cx="340.9" cy="371.6" rx="8.3" ry="7.3" fill="url(#g54)"/>
<ellipse cx="322.6" cy="373.5" rx="2.1" ry="2.1" fill="url(#g6)"/>
<ellipse cx="244.9" cy="372.1" rx="3.9" ry="2.1" fill="url(#g14)" transform="rotate(20 244.9 372.1)"/>
<ellipse cx="262.6" cy="379.1" rx="5.8" ry="5.4" fill="url(#g7)"/>
<ellipse cx="272.0" cy="374.0" rx="2.1" ry="3.4" fill="url(#g14)"/>
<ellipse cx="272.0" cy="382.9" rx="2.1" ry="2.1" fill="url(#g14)"/>
<ellipse cx="362.1" cy="377.5" rx="3.9" ry="5.4" fill="url(#g6)"/>
<ellipse cx="367.8" cy="383.4" rx="2.9" ry="8.7" fill="url(#g7)"/>
<ellipse cx="387.3" cy="382.9" rx="3.9" ry="3.9" fill="url(#g14)"/>
<ellipse cx="333.9" cy="384.5" rx="3.4" ry="5.4" fill="url(#g48)"/>
<ellipse cx="293.2" cy="396.3" rx="7.3" ry="6.3" fill="url(#g22)"/>
<ellipse cx="281.4" cy="394.0" rx="2.5" ry="2.5" fill="url(#g14)"/>
<ellipse cx="253.9" cy="394.7" rx="2.5" ry="3.9" fill="url(#g6)"/>
<ellipse cx="241.4" cy="397.5" rx="4.8" ry="5.4" fill="url(#g2)"/>
<ellipse cx="250.1" cy="405.0" rx="8.7" ry="6.8" fill="url(#g0)"/>
<ellipse cx="304.2" cy="405.7" rx="6.3" ry="5.4" fill="url(#g12)"/>
<ellipse cx="319.8" cy="401.0" rx="2.1" ry="2.1" fill="url(#g14)"/>
<ellipse cx="315.5" cy="410.4" rx="2.1" ry="2.1" fill="url(#g9)"/>
<ellipse cx="373.2" cy="401.0" rx="2.1" ry="2.1" fill="url(#g6)"/>
<ellipse cx="400.2" cy="399.8" rx="7.7" ry="6.8" fill="url(#g7)"/>
<ellipse cx="392.0" cy="414.4" rx="9.2" ry="3.9" fill="url(#g12)"/>
<ellipse cx="230.4" cy="412.8" rx="2.9" ry="3.9" fill="url(#g1)"/>
<ellipse cx="233.6" cy="402.7" rx="2.1" ry="2.1" fill="url(#g14)"/>
<ellipse cx="256.7" cy="418.2" rx="2.1" ry="2.1" fill="url(#g6)"/>
<ellipse cx="268.0" cy="214.0" rx="2.1" ry="3.9" fill="url(#g14)"/>
<ellipse cx="254.4" cy="214.4" rx="2.1" ry="2.1" fill="url(#g6)"/>
<ellipse cx="234.4" cy="212.8" rx="3.9" ry="2.1" fill="url(#g14)"/>
</g>
</svg></g>
<g id="img2"><rect x="1691.2" y="88.4" width="422.5" height="421.6" fill="#000"/>
<svg x="1691.2" y="88.4" width="422.5" height="421.6" viewBox="0 0 422.5 421.6">
<g filter="url(#bl2)"><rect x="408.5" y="10" width="8.5" height="411" fill="#041612"/><rect x="408.5" y="8" width="8.5" height="24" fill="#093029"/></g>
<polyline points="229,92 229.6,118 229,143" fill="none" stroke="#5a4a10" stroke-width="1.2" stroke-linecap="round" opacity="0.4"/>
<polyline points="214,58 222,64 236,68" fill="none" stroke="#3a4a10" stroke-width="1.0" stroke-linecap="round" opacity="0.4"/>
<polyline points="212,54 226,47.5 245,48 256,51" fill="none" stroke="#303c10" stroke-width="1.0" stroke-linecap="round" opacity="0.4"/>
<polyline points="172,138 186,143 192,142" fill="none" stroke="#2a7a18" stroke-width="1.3" stroke-linecap="round" opacity="0.4"/>
<polyline points="160,132 154,128" fill="none" stroke="#2a7a18" stroke-width="1.2" stroke-linecap="round" opacity="0.4"/>
<polyline points="228,300 228.5,330 229,352" fill="none" stroke="#4a4210" stroke-width="1.1" stroke-linecap="round" opacity="0.4"/>
<polyline points="109,74 128,78" fill="none" stroke="#28107a" stroke-width="1.6" stroke-linecap="round" opacity="0.4"/>
<g filter="url(#bl)">
<ellipse cx="56.5" cy="8.5" rx="3.4" ry="3.4" fill="url(#g2)"/>
<ellipse cx="51.8" cy="17.2" rx="6.8" ry="6.0" fill="url(#g5)"/>
<ellipse cx="27.8" cy="29.0" rx="6.8" ry="4.4" fill="url(#g2)"/>
<ellipse cx="23.5" cy="44.3" rx="4.4" ry="6.8" fill="url(#g7)"/>
<ellipse cx="14.1" cy="49.0" rx="4.4" ry="6.0" fill="url(#g9)"/>
<ellipse cx="43.5" cy="45.5" rx="6.8" ry="6.8" fill="url(#g5)"/>
<ellipse cx="65.9" cy="56.1" rx="5.4" ry="6.3" fill="url(#g2)"/>
<ellipse cx="82.4" cy="49.0" rx="3.9" ry="3.9" fill="url(#g11)"/>
<ellipse cx="45.9" cy="73.7" rx="7.3" ry="7.3" fill="url(#g9)"/>
<ellipse cx="62.4" cy="70.2" rx="7.3" ry="6.8" fill="url(#g2)"/>
<ellipse cx="80.0" cy="66.2" rx="6.3" ry="4.8" fill="url(#g4)"/>
<ellipse cx="17.6" cy="74.9" rx="2.5" ry="2.5" fill="url(#g2)"/>
<ellipse cx="25.9" cy="83.1" rx="2.9" ry="2.9" fill="url(#g2)"/>
<ellipse cx="43.5" cy="87.8" rx="3.4" ry="3.4" fill="url(#g2)"/>
<ellipse cx="20.7" cy="93.7" rx="7.7" ry="5.8" fill="url(#g7)"/>
<ellipse cx="23.1" cy="111.4" rx="6.8" ry="7.3" fill="url(#g15)"/>
<ellipse cx="22.4" cy="126.7" rx="3.4" ry="3.4" fill="url(#g14)"/>
<ellipse cx="14.6" cy="139.6" rx="5.8" ry="8.3" fill="url(#g1)"/>
<ellipse cx="9.4" cy="152.5" rx="2.5" ry="2.5" fill="url(#g14)"/>
<ellipse cx="17.6" cy="153.7" rx="2.5" ry="2.5" fill="url(#g9)"/>
<ellipse cx="38.8" cy="140.3" rx="2.5" ry="2.5" fill="url(#g14)"/>
<ellipse cx="37.6" cy="156.1" rx="8.3" ry="5.4" fill="url(#g15)"/>
<ellipse cx="32.9" cy="165.5" rx="6.3" ry="5.4" fill="url(#g2)"/>
<ellipse cx="24.7" cy="178.4" rx="3.4" ry="5.4" fill="url(#g1)"/>
<ellipse cx="36.5" cy="183.1" rx="2.5" ry="2.5" fill="url(#g1)"/>
<ellipse cx="44.2" cy="197.2" rx="7.3" ry="6.3" fill="url(#g17)"/>
<ellipse cx="21.2" cy="209.0" rx="7.3" ry="3.4" fill="url(#g1)"/>
<ellipse cx="110.6" cy="6.7" rx="3.4" ry="3.4" fill="url(#g2)"/>
<ellipse cx="110.6" cy="14.9" rx="2.9" ry="2.9" fill="url(#g1)"/>
<ellipse cx="92.9" cy="11.4" rx="4.8" ry="3.9" fill="url(#g21)"/>
<ellipse cx="77.6" cy="22.0" rx="2.1" ry="2.9" fill="url(#g1)"/>
<ellipse cx="81.2" cy="25.5" rx="2.1" ry="3.9" fill="url(#g1)"/>
<ellipse cx="90.6" cy="22.0" rx="2.5" ry="5.4" fill="url(#g14)"/>
<ellipse cx="88.9" cy="30.2" rx="2.5" ry="2.5" fill="url(#g2)"/>
<ellipse cx="97.6" cy="34.9" rx="2.5" ry="3.4" fill="url(#g2)"/>
<ellipse cx="109.4" cy="49.0" rx="9.2" ry="6.3" fill="url(#g10)"/>
<ellipse cx="126.6" cy="40.8" rx="2.1" ry="2.1" fill="url(#g2)"/>
<ellipse cx="149.4" cy="12.5" rx="2.1" ry="2.1" fill="url(#g4)"/>
<ellipse cx="172.9" cy="16.1" rx="7.3" ry="6.8" fill="url(#g27)"/>
<ellipse cx="176.5" cy="23.1" rx="2.1" ry="2.1" fill="url(#g14)"/>
<ellipse cx="187.1" cy="21.2" rx="2.1" ry="2.1" fill="url(#g14)"/>
<ellipse cx="195.3" cy="18.4" rx="2.9" ry="2.9" fill="url(#g2)"/>
<ellipse cx="161.2" cy="38.4" rx="6.8" ry="5.8" fill="url(#g1)"/>
<ellipse cx="148.7" cy="43.1" rx="3.9" ry="2.5" fill="url(#g1)"/>
<ellipse cx="174.1" cy="33.7" rx="5.8" ry="4.4" fill="url(#g29)"/>
<ellipse cx="181.2" cy="36.1" rx="2.1" ry="2.1" fill="url(#g14)"/>
<ellipse cx="198.8" cy="33.7" rx="2.5" ry="2.5" fill="url(#g14)"/>
<ellipse cx="203.5" cy="40.8" rx="2.5" ry="4.4" fill="url(#g14)"/>
<ellipse cx="172.9" cy="51.4" rx="2.1" ry="2.1" fill="url(#g14)"/>
<ellipse cx="192.9" cy="65.5" rx="5.8" ry="5.8" fill="url(#g7)"/>
<ellipse cx="185.9" cy="73.7" rx="5.4" ry="7.3" fill="url(#g5)"/>
<ellipse cx="170.6" cy="74.9" rx="7.3" ry="2.1" fill="url(#g7)" transform="rotate(-25 170.6 74.9)"/>
<ellipse cx="209.4" cy="67.8" rx="2.1" ry="2.1" fill="url(#g14)"/>
<ellipse cx="108.2" cy="72.5" rx="7.3" ry="6.3" fill="url(#g27)"/>
<ellipse cx="109.4" cy="78.4" rx="2.5" ry="4.8" fill="url(#g12)"/>
<ellipse cx="127.1" cy="90.2" rx="11.6" ry="2.1" fill="url(#g21)" transform="rotate(42 127.1 90.2)"/>
<ellipse cx="141.2" cy="78.4" rx="2.1" ry="2.1" fill="url(#g16)"/>
<ellipse cx="157.2" cy="76.1" rx="2.5" ry="2.5" fill="url(#g2)"/>
<ellipse cx="175.3" cy="82.4" rx="2.1" ry="2.1" fill="url(#g6)"/>
<ellipse cx="176.0" cy="88.5" rx="2.5" ry="2.5" fill="url(#g4)"/>
<ellipse cx="159.5" cy="91.4" rx="2.5" ry="3.4" fill="url(#g14)"/>
<ellipse cx="102.4" cy="91.4" rx="5.4" ry="6.8" fill="url(#g10)"/>
<ellipse cx="81.2" cy="98.0" rx="4.4" ry="6.3" fill="url(#g12)"/>
<ellipse cx="70.6" cy="102.0" rx="2.1" ry="2.1" fill="url(#g14)"/>
<ellipse cx="114.1" cy="100.3" rx="2.5" ry="2.5" fill="url(#g14)"/>
<ellipse cx="122.8" cy="102.7" rx="2.5" ry="2.5" fill="url(#g4)"/>
<ellipse cx="74.8" cy="112.1" rx="7.7" ry="7.3" fill="url(#g5)"/>
<ellipse cx="91.8" cy="113.7" rx="7.3" ry="8.3" fill="url(#g2)"/>
<ellipse cx="122.4" cy="113.7" rx="8.3" ry="5.4" fill="url(#g7)"/>
<ellipse cx="112.5" cy="123.1" rx="7.3" ry="6.8" fill="url(#g5)"/>
<ellipse cx="54.1" cy="117.2" rx="2.1" ry="2.1" fill="url(#g2)"/>
<ellipse cx="48.7" cy="128.5" rx="7.3" ry="2.9" fill="url(#g2)" transform="rotate(25 48.7 128.5)"/>
<ellipse cx="71.8" cy="130.2" rx="2.5" ry="2.5" fill="url(#g6)"/>
<ellipse cx="82.4" cy="142.0" rx="3.4" ry="3.4" fill="url(#g17)"/>
<ellipse cx="60.0" cy="147.4" rx="2.5" ry="2.5" fill="url(#g14)"/>
<ellipse cx="138.8" cy="130.2" rx="2.9" ry="2.9" fill="url(#g2)"/>
<ellipse cx="167.5" cy="117.2" rx="6.3" ry="6.8" fill="url(#g17)"/>
<ellipse cx="166.6" cy="134.2" rx="8.7" ry="7.7" fill="url(#g2)"/>
<ellipse cx="168.2" cy="147.4" rx="7.3" ry="5.8" fill="url(#g1)"/>
<ellipse cx="194.8" cy="137.2" rx="5.8" ry="5.8" fill="url(#g9)"/>
<ellipse cx="180.0" cy="127.8" rx="2.1" ry="2.1" fill="url(#g2)"/>
<ellipse cx="197.2" cy="147.4" rx="2.1" ry="2.1" fill="url(#g14)"/>
<ellipse cx="201.2" cy="110.2" rx="2.5" ry="2.5" fill="url(#g14)"/>
<ellipse cx="140.0" cy="152.5" rx="2.5" ry="5.4" fill="url(#g14)"/>
<ellipse cx="130.6" cy="169.0" rx="7.3" ry="6.8" fill="url(#g7)"/>
<ellipse cx="111.1" cy="164.3" rx="2.5" ry="2.5" fill="url(#g14)"/>
<ellipse cx="115.8" cy="169.5" rx="2.1" ry="2.1" fill="url(#g14)"/>
<ellipse cx="81.9" cy="162.4" rx="2.1" ry="2.1" fill="url(#g14)"/>
<ellipse cx="100.0" cy="179.6" rx="2.9" ry="2.9" fill="url(#g14)"/>
<ellipse cx="180.7" cy="174.9" rx="7.7" ry="7.7" fill="url(#g14)"/>
<ellipse cx="164.7" cy="182.7" rx="6.8" ry="7.3" fill="url(#g10)"/>
<ellipse cx="170.6" cy="194.9" rx="2.9" ry="3.9" fill="url(#g4)"/>
<ellipse cx="161.2" cy="200.1" rx="2.1" ry="2.1" fill="url(#g1)"/>
<ellipse cx="175.3" cy="163.1" rx="2.1" ry="2.1" fill="url(#g14)"/>
<ellipse cx="69.4" cy="191.4" rx="2.1" ry="2.1" fill="url(#g4)"/>
<ellipse cx="65.9" cy="199.6" rx="2.5" ry="2.5" fill="url(#g14)"/>
<ellipse cx="81.2" cy="202.4" rx="8.7" ry="4.4" fill="url(#g1)"/>
<ellipse cx="96.0" cy="195.4" rx="2.1" ry="2.1" fill="url(#g4)"/>
<ellipse cx="140.0" cy="208.5" rx="2.5" ry="2.5" fill="url(#g2)"/>
<ellipse cx="156.5" cy="207.8" rx="2.1" ry="2.1" fill="url(#g14)"/>
<ellipse cx="114.1" cy="210.2" rx="2.5" ry="2.5" fill="url(#g4)"/>
<ellipse cx="69.4" cy="209.0" rx="4.8" ry="2.5" fill="url(#g9)"/>
<ellipse cx="211.1" cy="173.7" rx="2.1" ry="3.4" fill="url(#g2)"/>
<ellipse cx="342.6" cy="9.5" rx="6.8" ry="5.4" fill="url(#g7)"/>
<ellipse cx="317.4" cy="7.8" rx="2.5" ry="4.4" fill="url(#g0)"/>
<ellipse cx="288.5" cy="16.5" rx="7.3" ry="5.4" fill="url(#g2)"/>
<ellipse cx="300.9" cy="19.6" rx="2.5" ry="2.5" fill="url(#g21)"/>
<ellipse cx="255.1" cy="16.5" rx="2.1" ry="2.1" fill="url(#g4)"/>
<ellipse cx="254.4" cy="30.2" rx="2.1" ry="4.4" fill="url(#g4)"/>
<ellipse cx="290.1" cy="29.0" rx="2.1" ry="2.9" fill="url(#g14)"/>
<ellipse cx="318.4" cy="26.7" rx="2.1" ry="3.4" fill="url(#g2)"/>
<ellipse cx="336.7" cy="24.3" rx="7.7" ry="2.1" fill="url(#g15)" transform="rotate(40 336.7 24.3)"/>
<ellipse cx="360.7" cy="17.2" rx="6.8" ry="2.1" fill="url(#g2)" transform="rotate(-10 360.7 17.2)"/>
<ellipse cx="374.4" cy="20.3" rx="7.3" ry="6.8" fill="url(#g31)"/>
<ellipse cx="389.6" cy="18.4" rx="6.3" ry="6.8" fill="url(#g14)"/>
<ellipse cx="397.9" cy="37.2" rx="6.3" ry="6.8" fill="url(#g17)"/>
<ellipse cx="409.6" cy="34.4" rx="2.5" ry="2.5" fill="url(#g2)"/>
<ellipse cx="359.1" cy="31.4" rx="2.5" ry="2.5" fill="url(#g6)"/>
<ellipse cx="377.9" cy="37.2" rx="7.3" ry="2.1" fill="url(#g2)" transform="rotate(-55 377.9 37.2)"/>
<ellipse cx="364.9" cy="43.1" rx="2.1" ry="4.8" fill="url(#g6)"/>
<ellipse cx="307.3" cy="42.4" rx="3.9" ry="3.4" fill="url(#g2)"/>
<ellipse cx="323.1" cy="43.1" rx="2.1" ry="2.1" fill="url(#g2)"/>
<ellipse cx="335.5" cy="47.8" rx="2.5" ry="2.5" fill="url(#g14)"/>
<ellipse cx="341.4" cy="43.8" rx="2.5" ry="2.5" fill="url(#g14)"/>
<ellipse cx="342.6" cy="50.2" rx="2.1" ry="3.4" fill="url(#g14)"/>
<ellipse cx="323.8" cy="52.5" rx="7.3" ry="6.3" fill="url(#g14)"/>
<ellipse cx="284.5" cy="46.7" rx="2.5" ry="2.5" fill="url(#g9)"/>
<ellipse cx="256.7" cy="53.7" rx="2.1" ry="2.1" fill="url(#g2)"/>
<ellipse cx="266.6" cy="52.5" rx="2.1" ry="2.1" fill="url(#g14)"/>
<ellipse cx="296.2" cy="54.9" rx="2.9" ry="2.9" fill="url(#g2)"/>
<ellipse cx="335.5" cy="56.5" rx="2.1" ry="2.1" fill="url(#g6)"/>
<ellipse cx="369.2" cy="56.1" rx="2.1" ry="4.4" fill="url(#g6)"/>
<ellipse cx="397.4" cy="58.4" rx="2.5" ry="4.4" fill="url(#g2)"/>
<ellipse cx="400.2" cy="56.1" rx="2.1" ry="2.1" fill="url(#g2)"/>
<ellipse cx="407.3" cy="54.9" rx="2.1" ry="5.4" fill="url(#g2)"/>
<ellipse cx="228.0" cy="59.6" rx="2.1" ry="2.1" fill="url(#g14)"/>
<ellipse cx="222.6" cy="65.5" rx="2.5" ry="2.5" fill="url(#g14)"/>
<ellipse cx="282.1" cy="62.0" rx="2.5" ry="2.5" fill="url(#g2)"/>
<ellipse cx="308.0" cy="63.6" rx="2.5" ry="2.5" fill="url(#g29)"/>
<ellipse cx="264.9" cy="67.4" rx="7.3" ry="5.4" fill="url(#g2)"/>
<ellipse cx="231.3" cy="77.2" rx="2.1" ry="2.1" fill="url(#g6)"/>
<ellipse cx="333.2" cy="76.8" rx="5.8" ry="5.4" fill="url(#g2)"/>
<ellipse cx="357.9" cy="83.8" rx="7.3" ry="7.3" fill="url(#g3)"/>
<ellipse cx="374.4" cy="77.2" rx="7.7" ry="9.7" fill="url(#g27)"/>
<ellipse cx="367.3" cy="89.5" rx="2.1" ry="2.1" fill="url(#g4)"/>
<ellipse cx="406.1" cy="83.1" rx="3.4" ry="5.4" fill="url(#g12)"/>
<ellipse cx="326.8" cy="87.8" rx="2.5" ry="2.5" fill="url(#g6)"/>
<ellipse cx="332.0" cy="85.5" rx="2.1" ry="2.1" fill="url(#g14)"/>
<ellipse cx="302.1" cy="96.5" rx="6.3" ry="7.3" fill="url(#g1)"/>
<ellipse cx="314.4" cy="95.6" rx="2.1" ry="4.4" fill="url(#g14)"/>
<ellipse cx="373.2" cy="102.0" rx="3.9" ry="2.5" fill="url(#g2)" transform="rotate(30 373.2 102.0)"/>
<ellipse cx="393.2" cy="100.8" rx="6.8" ry="7.7" fill="url(#g27)"/>
<ellipse cx="396.7" cy="104.3" rx="2.1" ry="4.8" fill="url(#g2)"/>
<ellipse cx="404.5" cy="103.1" rx="2.5" ry="4.8" fill="url(#g2)"/>
<ellipse cx="333.2" cy="104.3" rx="6.8" ry="6.8" fill="url(#g17)"/>
<ellipse cx="343.8" cy="113.7" rx="6.8" ry="7.7" fill="url(#g5)"/>
<ellipse cx="328.5" cy="123.1" rx="2.9" ry="6.8" fill="url(#g4)" transform="rotate(-35 328.5 123.1)"/>
<ellipse cx="215.5" cy="102.0" rx="2.1" ry="2.9" fill="url(#g1)"/>
<ellipse cx="228.9" cy="109.7" rx="2.1" ry="2.1" fill="url(#g6)"/>
<ellipse cx="242.1" cy="114.9" rx="2.5" ry="4.4" fill="url(#g14)"/>
<ellipse cx="253.2" cy="113.7" rx="2.9" ry="2.9" fill="url(#g14)"/>
<ellipse cx="253.2" cy="123.8" rx="3.9" ry="3.4" fill="url(#g4)"/>
<ellipse cx="351.3" cy="127.1" rx="2.1" ry="2.1" fill="url(#g17)"/>
<ellipse cx="377.9" cy="132.5" rx="7.7" ry="7.3" fill="url(#g32)"/>
<ellipse cx="348.5" cy="139.6" rx="6.8" ry="7.3" fill="url(#g2)"/>
<ellipse cx="359.1" cy="136.1" rx="3.4" ry="3.4" fill="url(#g14)"/>
<ellipse cx="339.1" cy="140.8" rx="2.1" ry="3.4" fill="url(#g14)"/>
<ellipse cx="216.2" cy="140.8" rx="2.5" ry="2.5" fill="url(#g14)"/>
<ellipse cx="229.6" cy="139.6" rx="3.9" ry="2.1" fill="url(#g6)"/>
<ellipse cx="293.2" cy="142.0" rx="2.5" ry="4.4" fill="url(#g1)"/>
<ellipse cx="310.8" cy="146.0" rx="6.3" ry="2.1" fill="url(#g6)" transform="rotate(10 310.8 146.0)"/>
<ellipse cx="231.3" cy="150.2" rx="2.1" ry="3.9" fill="url(#g14)"/>
<ellipse cx="356.7" cy="153.7" rx="6.3" ry="6.3" fill="url(#g45)"/>
<ellipse cx="372.0" cy="162.0" rx="7.7" ry="6.8" fill="url(#g14)"/>
<ellipse cx="386.1" cy="165.5" rx="4.4" ry="9.7" fill="url(#g4)"/>
<ellipse cx="329.6" cy="164.3" rx="2.1" ry="4.8" fill="url(#g6)"/>
<ellipse cx="368.5" cy="174.9" rx="2.1" ry="3.9" fill="url(#g2)"/>
<ellipse cx="216.2" cy="166.7" rx="2.1" ry="2.1" fill="url(#g9)"/>
<ellipse cx="223.3" cy="172.5" rx="6.3" ry="6.3" fill="url(#g4)"/>
<ellipse cx="242.1" cy="173.2" rx="2.5" ry="2.5" fill="url(#g14)"/>
<ellipse cx="257.2" cy="170.2" rx="6.3" ry="6.3" fill="url(#g2)"/>
<ellipse cx="268.0" cy="178.4" rx="3.9" ry="2.1" fill="url(#g2)" transform="rotate(40 268.0 178.4)"/>
<ellipse cx="292.0" cy="174.9" rx="2.1" ry="2.1" fill="url(#g2)"/>
<ellipse cx="301.9" cy="172.5" rx="2.5" ry="2.5" fill="url(#g4)"/>
<ellipse cx="327.8" cy="175.6" rx="2.5" ry="2.5" fill="url(#g6)"/>
<ellipse cx="395.1" cy="185.0" rx="2.1" ry="2.1" fill="url(#g14)"/>
<ellipse cx="371.5" cy="187.8" rx="2.1" ry="2.9" fill="url(#g2)"/>
<ellipse cx="372.0" cy="192.5" rx="2.1" ry="2.1" fill="url(#g2)"/>
<ellipse cx="269.6" cy="187.8" rx="2.1" ry="2.9" fill="url(#g14)"/>
<ellipse cx="306.1" cy="194.4" rx="2.5" ry="4.4" fill="url(#g14)" transform="rotate(-30 306.1 194.4)"/>
<ellipse cx="221.9" cy="194.4" rx="6.3" ry="5.4" fill="url(#g4)"/>
<ellipse cx="251.5" cy="193.7" rx="7.3" ry="6.8" fill="url(#g14)"/>
<ellipse cx="234.4" cy="186.7" rx="2.5" ry="2.5" fill="url(#g14)"/>
<ellipse cx="216.7" cy="202.0" rx="3.4" ry="2.1" fill="url(#g6)"/>
<ellipse cx="249.6" cy="206.7" rx="8.7" ry="4.8" fill="url(#g1)"/>
<ellipse cx="235.5" cy="208.5" rx="2.5" ry="2.5" fill="url(#g14)"/>
<ellipse cx="263.3" cy="199.6" rx="2.1" ry="2.1" fill="url(#g14)"/>
<ellipse cx="331.3" cy="207.1" rx="2.1" ry="2.1" fill="url(#g14)"/>
<ellipse cx="357.4" cy="206.2" rx="2.1" ry="3.9" fill="url(#g2)"/>
<ellipse cx="400.2" cy="206.7" rx="5.8" ry="4.8" fill="url(#g9)"/>
<ellipse cx="289.6" cy="209.0" rx="2.1" ry="2.1" fill="url(#g47)"/>
<ellipse cx="310.8" cy="210.2" rx="2.1" ry="2.1" fill="url(#g9)"/>
<ellipse cx="22.4" cy="214.0" rx="8.7" ry="4.4" fill="url(#g1)"/>
<ellipse cx="69.4" cy="215.1" rx="7.3" ry="5.8" fill="url(#g5)"/>
<ellipse cx="115.3" cy="215.1" rx="5.4" ry="5.4" fill="url(#g17)"/>
<ellipse cx="5.2" cy="230.9" rx="2.9" ry="3.4" fill="url(#g2)"/>
<ellipse cx="29.4" cy="229.2" rx="5.8" ry="4.8" fill="url(#g41)"/>
<ellipse cx="17.6" cy="237.5" rx="4.4" ry="6.8" fill="url(#g4)"/>
<ellipse cx="27.8" cy="248.8" rx="8.3" ry="6.8" fill="url(#g1)"/>
<ellipse cx="45.9" cy="248.1" rx="3.4" ry="4.4" fill="url(#g2)"/>
<ellipse cx="57.6" cy="240.3" rx="3.4" ry="3.4" fill="url(#g1)"/>
<ellipse cx="72.9" cy="231.6" rx="2.5" ry="2.5" fill="url(#g14)"/>
<ellipse cx="80.0" cy="251.6" rx="7.3" ry="5.8" fill="url(#g15)"/>
<ellipse cx="98.4" cy="241.7" rx="7.7" ry="6.3" fill="url(#g3)"/>
<ellipse cx="109.4" cy="234.7" rx="4.8" ry="5.4" fill="url(#g17)"/>
<ellipse cx="130.6" cy="233.2" rx="7.7" ry="8.3" fill="url(#g50)"/>
<ellipse cx="117.2" cy="251.1" rx="8.3" ry="7.3" fill="url(#g7)"/>
<ellipse cx="133.6" cy="256.8" rx="7.3" ry="5.4" fill="url(#g17)"/>
<ellipse cx="120.5" cy="225.7" rx="2.1" ry="2.1" fill="url(#g2)"/>
<ellipse cx="144.7" cy="221.0" rx="2.9" ry="4.4" fill="url(#g2)"/>
<ellipse cx="155.3" cy="227.6" rx="2.1" ry="2.1" fill="url(#g2)"/>
<ellipse cx="163.5" cy="228.5" rx="2.1" ry="2.1" fill="url(#g1)"/>
<ellipse cx="169.9" cy="235.1" rx="7.3" ry="6.8" fill="url(#g32)"/>
<ellipse cx="181.2" cy="225.7" rx="2.1" ry="4.4" fill="url(#g2)"/>
<ellipse cx="195.3" cy="226.9" rx="6.3" ry="6.3" fill="url(#g17)"/>
<ellipse cx="154.1" cy="242.2" rx="2.1" ry="2.1" fill="url(#g15)"/>
<ellipse cx="174.6" cy="248.1" rx="3.9" ry="3.4" fill="url(#g2)"/>
<ellipse cx="184.7" cy="245.7" rx="2.1" ry="2.1" fill="url(#g15)"/>
<ellipse cx="178.8" cy="254.0" rx="2.1" ry="2.1" fill="url(#g14)"/>
<ellipse cx="161.9" cy="260.5" rx="3.4" ry="3.9" fill="url(#g14)"/>
<ellipse cx="198.8" cy="257.5" rx="8.3" ry="5.8" fill="url(#g41)"/>
<ellipse cx="189.4" cy="272.3" rx="4.8" ry="5.8" fill="url(#g2)"/>
<ellipse cx="68.7" cy="263.8" rx="5.8" ry="5.4" fill="url(#g4)"/>
<ellipse cx="74.8" cy="273.2" rx="5.4" ry="4.8" fill="url(#g15)"/>
<ellipse cx="83.5" cy="267.6" rx="2.1" ry="2.1" fill="url(#g1)"/>
<ellipse cx="28.2" cy="273.2" rx="5.8" ry="4.4" fill="url(#g4)"/>
<ellipse cx="15.3" cy="271.6" rx="3.4" ry="2.5" fill="url(#g2)"/>
<ellipse cx="48.2" cy="275.6" rx="6.3" ry="5.8" fill="url(#g2)"/>
<ellipse cx="67.1" cy="278.7" rx="2.5" ry="2.5" fill="url(#g9)"/>
<ellipse cx="18.8" cy="284.5" rx="7.7" ry="8.3" fill="url(#g2)"/>
<ellipse cx="52.2" cy="288.1" rx="9.2" ry="5.8" fill="url(#g2)"/>
<ellipse cx="24.7" cy="300.5" rx="6.8" ry="7.7" fill="url(#g2)"/>
<ellipse cx="40.5" cy="299.1" rx="5.8" ry="8.3" fill="url(#g2)"/>
<ellipse cx="12.9" cy="302.2" rx="3.4" ry="6.3" fill="url(#g5)"/>
<ellipse cx="61.6" cy="301.5" rx="8.7" ry="7.7" fill="url(#g2)"/>
<ellipse cx="48.2" cy="305.2" rx="2.1" ry="4.4" fill="url(#g2)"/>
<ellipse cx="35.3" cy="311.6" rx="6.3" ry="4.8" fill="url(#g15)"/>
<ellipse cx="11.8" cy="315.1" rx="6.3" ry="7.3" fill="url(#g2)"/>
<ellipse cx="27.8" cy="318.7" rx="2.5" ry="5.4" fill="url(#g4)"/>
<ellipse cx="34.1" cy="320.3" rx="2.1" ry="3.9" fill="url(#g6)"/>
<ellipse cx="5.9" cy="329.2" rx="2.9" ry="5.8" fill="url(#g2)"/>
<ellipse cx="13.6" cy="331.6" rx="2.5" ry="6.3" fill="url(#g12)"/>
<ellipse cx="22.4" cy="338.7" rx="6.3" ry="6.3" fill="url(#g1)"/>
<ellipse cx="36.5" cy="352.8" rx="6.8" ry="7.7" fill="url(#g31)"/>
<ellipse cx="106.4" cy="274.7" rx="5.4" ry="5.4" fill="url(#g4)"/>
<ellipse cx="124.2" cy="270.9" rx="8.3" ry="6.8" fill="url(#g17)"/>
<ellipse cx="119.5" cy="279.8" rx="5.4" ry="4.4" fill="url(#g5)"/>
<ellipse cx="108.2" cy="289.2" rx="6.8" ry="6.8" fill="url(#g3)"/>
<ellipse cx="96.9" cy="292.8" rx="2.1" ry="2.9" fill="url(#g14)"/>
<ellipse cx="132.9" cy="298.2" rx="8.3" ry="6.8" fill="url(#g9)"/>
<ellipse cx="88.9" cy="303.4" rx="3.4" ry="3.9" fill="url(#g4)"/>
<ellipse cx="96.0" cy="299.8" rx="2.1" ry="2.1" fill="url(#g14)"/>
<ellipse cx="96.0" cy="308.1" rx="2.1" ry="3.4" fill="url(#g4)"/>
<ellipse cx="108.2" cy="301.0" rx="2.1" ry="3.4" fill="url(#g2)"/>
<ellipse cx="81.2" cy="311.6" rx="6.3" ry="6.8" fill="url(#g2)"/>
<ellipse cx="71.1" cy="315.1" rx="3.4" ry="5.8" fill="url(#g2)"/>
<ellipse cx="94.6" cy="326.9" rx="8.3" ry="8.7" fill="url(#g2)"/>
<ellipse cx="75.3" cy="334.4" rx="8.7" ry="6.3" fill="url(#g9)"/>
<ellipse cx="112.5" cy="319.8" rx="2.1" ry="2.9" fill="url(#g2)"/>
<ellipse cx="123.5" cy="328.8" rx="2.1" ry="2.1" fill="url(#g14)"/>
<ellipse cx="138.4" cy="317.5" rx="3.9" ry="5.4" fill="url(#g2)"/>
<ellipse cx="150.1" cy="315.1" rx="4.4" ry="4.8" fill="url(#g2)"/>
<ellipse cx="136.0" cy="332.8" rx="2.1" ry="3.9" fill="url(#g2)"/>
<ellipse cx="117.6" cy="338.2" rx="4.8" ry="4.8" fill="url(#g21)"/>
<ellipse cx="130.6" cy="344.5" rx="6.8" ry="8.3" fill="url(#g2)"/>
<ellipse cx="151.8" cy="338.7" rx="2.1" ry="3.4" fill="url(#g14)"/>
<ellipse cx="65.4" cy="343.4" rx="6.8" ry="7.7" fill="url(#g17)"/>
<ellipse cx="86.6" cy="349.2" rx="6.8" ry="6.3" fill="url(#g17)"/>
<ellipse cx="120.5" cy="352.3" rx="6.8" ry="6.8" fill="url(#g5)"/>
<ellipse cx="171.3" cy="296.3" rx="3.4" ry="3.4" fill="url(#g9)"/>
<ellipse cx="202.8" cy="286.9" rx="9.7" ry="7.3" fill="url(#g7)"/>
<ellipse cx="192.5" cy="296.3" rx="5.8" ry="6.3" fill="url(#g4)"/>
<ellipse cx="197.6" cy="295.1" rx="2.5" ry="2.5" fill="url(#g14)"/>
<ellipse cx="195.8" cy="315.6" rx="6.8" ry="6.8" fill="url(#g9)"/>
<ellipse cx="184.0" cy="319.4" rx="2.1" ry="2.1" fill="url(#g14)"/>
<ellipse cx="169.9" cy="340.5" rx="2.1" ry="2.1" fill="url(#g14)"/>
<ellipse cx="189.4" cy="351.6" rx="7.3" ry="4.8" fill="url(#g2)"/>
<ellipse cx="189.4" cy="358.7" rx="4.8" ry="5.4" fill="url(#g1)"/>
<ellipse cx="202.8" cy="360.3" rx="6.3" ry="7.3" fill="url(#g4)"/>
<ellipse cx="204.2" cy="371.6" rx="6.3" ry="5.8" fill="url(#g4)"/>
<ellipse cx="141.2" cy="370.4" rx="8.7" ry="7.7" fill="url(#g1)"/>
<ellipse cx="128.9" cy="369.7" rx="2.1" ry="3.9" fill="url(#g14)"/>
<ellipse cx="134.6" cy="379.1" rx="2.1" ry="2.1" fill="url(#g2)"/>
<ellipse cx="150.6" cy="375.1" rx="2.1" ry="3.4" fill="url(#g6)"/>
<ellipse cx="182.4" cy="377.5" rx="2.5" ry="3.9" fill="url(#g2)"/>
<ellipse cx="173.6" cy="385.7" rx="2.5" ry="2.5" fill="url(#g2)"/>
<ellipse cx="148.7" cy="390.0" rx="8.3" ry="8.3" fill="url(#g15)"/>
<ellipse cx="143.5" cy="390.4" rx="3.4" ry="4.4" fill="url(#g22)"/>
<ellipse cx="161.2" cy="394.0" rx="2.1" ry="2.1" fill="url(#g4)"/>
<ellipse cx="154.1" cy="401.0" rx="2.1" ry="3.4" fill="url(#g15)"/>
<ellipse cx="198.8" cy="395.1" rx="7.3" ry="6.8" fill="url(#g32)"/>
<ellipse cx="178.8" cy="399.8" rx="2.1" ry="3.4" fill="url(#g14)"/>
<ellipse cx="27.8" cy="382.9" rx="5.8" ry="5.4" fill="url(#g2)"/>
<ellipse cx="130.6" cy="400.3" rx="4.4" ry="4.4" fill="url(#g4)"/>
<ellipse cx="138.8" cy="407.4" rx="8.3" ry="5.8" fill="url(#g15)"/>
<ellipse cx="115.8" cy="406.9" rx="7.3" ry="4.8" fill="url(#g2)"/>
<ellipse cx="123.5" cy="411.6" rx="2.5" ry="2.5" fill="url(#g2)"/>
<ellipse cx="115.3" cy="418.2" rx="6.3" ry="2.9" fill="url(#g1)"/>
<ellipse cx="71.1" cy="413.5" rx="5.8" ry="4.4" fill="url(#g1)"/>
<ellipse cx="18.4" cy="410.4" rx="4.8" ry="5.4" fill="url(#g4)"/>
<ellipse cx="30.6" cy="413.5" rx="7.7" ry="3.9" fill="url(#g1)"/>
<ellipse cx="210.6" cy="243.4" rx="2.1" ry="7.3" fill="url(#g28)" transform="rotate(30 210.6 243.4)"/>
<ellipse cx="138.8" cy="212.8" rx="2.1" ry="2.1" fill="url(#g2)"/>
<ellipse cx="75.3" cy="397.5" rx="8.3" ry="7.3" fill="url(#g5)"/>
<ellipse cx="100.0" cy="395.1" rx="6.3" ry="7.7" fill="url(#g15)"/>
<ellipse cx="42.4" cy="396.3" rx="5.8" ry="3.4" fill="url(#g2)"/>
<ellipse cx="297.2" cy="220.5" rx="6.8" ry="7.7" fill="url(#g31)"/>
<ellipse cx="310.8" cy="214.0" rx="4.8" ry="3.9" fill="url(#g9)"/>
<ellipse cx="332.0" cy="222.2" rx="3.9" ry="5.4" fill="url(#g2)"/>
<ellipse cx="273.2" cy="221.5" rx="2.1" ry="3.9" fill="url(#g2)"/>
<ellipse cx="286.1" cy="218.7" rx="2.1" ry="2.1" fill="url(#g4)"/>
<ellipse cx="315.5" cy="224.5" rx="2.1" ry="2.1" fill="url(#g2)"/>
<ellipse cx="324.9" cy="225.7" rx="3.4" ry="2.1" fill="url(#g2)"/>
<ellipse cx="246.1" cy="229.2" rx="5.8" ry="5.4" fill="url(#g2)"/>
<ellipse cx="222.6" cy="228.1" rx="3.4" ry="5.8" fill="url(#g21)" transform="rotate(30 222.6 228.1)"/>
<ellipse cx="235.5" cy="237.0" rx="2.1" ry="2.1" fill="url(#g2)"/>
<ellipse cx="282.1" cy="235.1" rx="2.1" ry="2.1" fill="url(#g4)"/>
<ellipse cx="293.2" cy="232.3" rx="2.1" ry="2.1" fill="url(#g2)"/>
<ellipse cx="348.0" cy="234.0" rx="3.9" ry="2.5" fill="url(#g2)"/>
<ellipse cx="356.0" cy="230.4" rx="2.1" ry="4.8" fill="url(#g14)"/>
<ellipse cx="389.6" cy="224.5" rx="7.3" ry="6.8" fill="url(#g1)"/>
<ellipse cx="374.4" cy="219.1" rx="2.5" ry="2.5" fill="url(#g2)"/>
<ellipse cx="398.4" cy="212.8" rx="3.9" ry="2.5" fill="url(#g9)"/>
<ellipse cx="251.5" cy="245.0" rx="6.8" ry="5.4" fill="url(#g9)"/>
<ellipse cx="272.7" cy="248.8" rx="6.3" ry="4.8" fill="url(#g38)"/>
<ellipse cx="224.2" cy="255.8" rx="4.4" ry="3.9" fill="url(#g21)"/>
<ellipse cx="285.4" cy="256.8" rx="2.1" ry="2.9" fill="url(#g15)"/>
<ellipse cx="344.9" cy="256.8" rx="6.8" ry="7.3" fill="url(#g7)"/>
<ellipse cx="404.5" cy="255.1" rx="2.9" ry="4.8" fill="url(#g2)"/>
<ellipse cx="320.7" cy="261.5" rx="2.1" ry="3.9" fill="url(#g14)"/>
<ellipse cx="309.6" cy="268.1" rx="2.1" ry="4.8" fill="url(#g4)"/>
<ellipse cx="332.0" cy="266.9" rx="2.1" ry="3.4" fill="url(#g2)"/>
<ellipse cx="330.8" cy="273.2" rx="2.5" ry="4.8" fill="url(#g2)"/>
<ellipse cx="270.8" cy="266.9" rx="2.9" ry="3.4" fill="url(#g9)"/>
<ellipse cx="228.5" cy="274.7" rx="2.5" ry="3.4" fill="url(#g14)"/>
<ellipse cx="358.4" cy="269.2" rx="4.4" ry="2.5" fill="url(#g4)" transform="rotate(20 358.4 269.2)"/>
<ellipse cx="361.4" cy="274.7" rx="2.1" ry="2.1" fill="url(#g2)"/>
<ellipse cx="367.3" cy="275.1" rx="2.1" ry="2.1" fill="url(#g2)"/>
<ellipse cx="283.1" cy="274.7" rx="7.3" ry="8.3" fill="url(#g7)"/>
<ellipse cx="300.2" cy="277.5" rx="7.3" ry="5.8" fill="url(#g2)"/>
<ellipse cx="322.1" cy="278.7" rx="2.5" ry="3.9" fill="url(#g2)"/>
<ellipse cx="269.6" cy="282.2" rx="4.8" ry="2.9" fill="url(#g4)" transform="rotate(-30 269.6 282.2)"/>
<ellipse cx="275.1" cy="291.6" rx="8.3" ry="8.7" fill="url(#g5)"/>
<ellipse cx="289.6" cy="291.6" rx="3.9" ry="3.9" fill="url(#g2)"/>
<ellipse cx="306.6" cy="291.6" rx="2.1" ry="2.1" fill="url(#g2)"/>
<ellipse cx="316.0" cy="295.1" rx="2.9" ry="5.4" fill="url(#g14)"/>
<ellipse cx="335.5" cy="291.6" rx="9.7" ry="7.3" fill="url(#g9)"/>
<ellipse cx="328.5" cy="287.4" rx="2.5" ry="3.9" fill="url(#g2)"/>
<ellipse cx="216.7" cy="294.0" rx="3.9" ry="4.8" fill="url(#g2)"/>
<ellipse cx="228.0" cy="295.1" rx="5.8" ry="5.8" fill="url(#g2)"/>
<ellipse cx="213.2" cy="286.9" rx="2.1" ry="3.9" fill="url(#g2)"/>
<ellipse cx="257.9" cy="296.8" rx="4.8" ry="3.9" fill="url(#g15)"/>
<ellipse cx="251.5" cy="306.9" rx="7.7" ry="7.3" fill="url(#g17)"/>
<ellipse cx="226.6" cy="312.8" rx="2.9" ry="4.8" fill="url(#g4)"/>
<ellipse cx="240.2" cy="315.1" rx="6.3" ry="5.8" fill="url(#g15)"/>
<ellipse cx="268.0" cy="311.6" rx="2.5" ry="2.5" fill="url(#g15)"/>
<ellipse cx="281.4" cy="309.2" rx="4.4" ry="6.3" fill="url(#g29)"/>
<ellipse cx="360.7" cy="306.9" rx="2.1" ry="4.4" fill="url(#g14)"/>
<ellipse cx="348.5" cy="315.1" rx="2.5" ry="7.3" fill="url(#g4)" transform="rotate(20 348.5 315.1)"/>
<ellipse cx="404.5" cy="314.7" rx="2.5" ry="5.4" fill="url(#g7)"/>
<ellipse cx="399.8" cy="321.7" rx="2.1" ry="3.9" fill="url(#g2)"/>
<ellipse cx="265.6" cy="322.7" rx="6.3" ry="6.8" fill="url(#g4)"/>
<ellipse cx="277.4" cy="327.4" rx="4.4" ry="4.8" fill="url(#g17)"/>
<ellipse cx="315.5" cy="326.4" rx="3.9" ry="3.9" fill="url(#g5)"/>
<ellipse cx="336.7" cy="325.0" rx="6.8" ry="6.3" fill="url(#g16)"/>
<ellipse cx="359.1" cy="325.7" rx="2.9" ry="3.9" fill="url(#g2)"/>
<ellipse cx="373.2" cy="326.9" rx="7.3" ry="2.5" fill="url(#g2)" transform="rotate(25 373.2 326.9)"/>
<ellipse cx="286.1" cy="333.5" rx="5.8" ry="5.4" fill="url(#g4)"/>
<ellipse cx="216.2" cy="335.1" rx="2.1" ry="3.9" fill="url(#g2)"/>
<ellipse cx="233.2" cy="335.1" rx="5.4" ry="6.8" fill="url(#g1)"/>
<ellipse cx="322.1" cy="332.1" rx="2.1" ry="2.9" fill="url(#g2)"/>
<ellipse cx="374.8" cy="337.5" rx="3.9" ry="4.4" fill="url(#g1)"/>
<ellipse cx="321.4" cy="342.2" rx="6.8" ry="5.8" fill="url(#g15)"/>
<ellipse cx="332.0" cy="344.5" rx="2.5" ry="5.8" fill="url(#g3)" transform="rotate(-30 332.0 344.5)"/>
<ellipse cx="336.2" cy="337.5" rx="2.1" ry="3.4" fill="url(#g2)"/>
<ellipse cx="287.8" cy="345.2" rx="2.1" ry="5.8" fill="url(#g2)" transform="rotate(20 287.8 345.2)"/>
<ellipse cx="299.1" cy="346.9" rx="8.3" ry="8.7" fill="url(#g7)"/>
<ellipse cx="369.6" cy="350.0" rx="6.3" ry="6.3" fill="url(#g22)"/>
<ellipse cx="263.3" cy="353.2" rx="6.3" ry="5.8" fill="url(#g7)"/>
<ellipse cx="257.2" cy="361.0" rx="6.3" ry="6.3" fill="url(#g17)"/>
<ellipse cx="218.6" cy="362.7" rx="2.1" ry="2.1" fill="url(#g2)"/>
<ellipse cx="395.5" cy="358.0" rx="8.3" ry="5.4" fill="url(#g14)"/>
<ellipse cx="380.9" cy="363.4" rx="7.3" ry="7.3" fill="url(#g17)"/>
<ellipse cx="366.1" cy="364.1" rx="3.9" ry="4.4" fill="url(#g2)"/>
<ellipse cx="356.0" cy="368.1" rx="5.8" ry="6.3" fill="url(#g3)"/>
<ellipse cx="340.9" cy="371.6" rx="8.3" ry="7.3" fill="url(#g4)"/>
<ellipse cx="322.6" cy="373.5" rx="2.1" ry="2.1" fill="url(#g6)"/>
<ellipse cx="244.9" cy="372.1" rx="3.9" ry="2.1" fill="url(#g2)" transform="rotate(20 244.9 372.1)"/>
<ellipse cx="262.6" cy="379.1" rx="5.8" ry="5.4" fill="url(#g2)"/>
<ellipse cx="272.0" cy="374.0" rx="2.1" ry="3.4" fill="url(#g2)"/>
<ellipse cx="272.0" cy="382.9" rx="2.1" ry="2.1" fill="url(#g2)"/>
<ellipse cx="362.1" cy="377.5" rx="3.9" ry="5.4" fill="url(#g17)"/>
<ellipse cx="367.8" cy="383.4" rx="2.9" ry="8.7" fill="url(#g10)"/>
<ellipse cx="387.3" cy="382.9" rx="3.9" ry="3.9" fill="url(#g9)"/>
<ellipse cx="333.9" cy="384.5" rx="3.4" ry="5.4" fill="url(#g2)"/>
<ellipse cx="293.2" cy="396.3" rx="7.3" ry="6.3" fill="url(#g3)"/>
<ellipse cx="281.4" cy="394.0" rx="2.5" ry="2.5" fill="url(#g14)"/>
<ellipse cx="253.9" cy="394.7" rx="2.5" ry="3.9" fill="url(#g2)"/>
<ellipse cx="241.4" cy="397.5" rx="4.8" ry="5.4" fill="url(#g4)"/>
<ellipse cx="250.1" cy="405.0" rx="8.7" ry="6.8" fill="url(#g2)"/>
<ellipse cx="304.2" cy="405.7" rx="6.3" ry="5.4" fill="url(#g18)"/>
<ellipse cx="319.8" cy="401.0" rx="2.1" ry="2.1" fill="url(#g14)"/>
<ellipse cx="315.5" cy="410.4" rx="2.1" ry="2.1" fill="url(#g48)"/>
<ellipse cx="373.2" cy="401.0" rx="2.1" ry="2.1" fill="url(#g14)"/>
<ellipse cx="400.2" cy="399.8" rx="7.7" ry="6.8" fill="url(#g5)"/>
<ellipse cx="392.0" cy="414.4" rx="9.2" ry="3.9" fill="url(#g12)"/>
<ellipse cx="230.4" cy="412.8" rx="2.9" ry="3.9" fill="url(#g1)"/>
<ellipse cx="233.6" cy="402.7" rx="2.1" ry="2.1" fill="url(#g14)"/>
<ellipse cx="256.7" cy="418.2" rx="2.1" ry="2.1" fill="url(#g6)"/>
<ellipse cx="268.0" cy="214.0" rx="2.1" ry="3.9" fill="url(#g2)"/>
<ellipse cx="254.4" cy="214.4" rx="2.1" ry="2.1" fill="url(#g14)"/>
<ellipse cx="234.4" cy="212.8" rx="3.9" ry="2.1" fill="url(#g2)"/>
</g>
</svg></g>
<rect x="855.00" y="558.95" width="28.77" height="280.85" fill="#1f77b4" fill-opacity="0.4"/>
<rect x="883.77" y="724.91" width="28.77" height="114.89" fill="#1f77b4" fill-opacity="0.4"/>
<rect x="912.54" y="761.72" width="28.77" height="78.08" fill="#1f77b4" fill-opacity="0.4"/>
<rect x="941.31" y="699.79" width="28.77" height="140.01" fill="#1f77b4" fill-opacity="0.4"/>
<rect x="970.08" y="774.41" width="28.77" height="65.39" fill="#1f77b4" fill-opacity="0.4"/>
<rect x="998.85" y="642.14" width="28.77" height="197.66" fill="#1f77b4" fill-opacity="0.4"/>
<rect x="1027.62" y="745.58" width="28.77" height="94.22" fill="#1f77b4" fill-opacity="0.4"/>
<rect x="1056.39" y="729.19" width="28.77" height="110.61" fill="#1f77b4" fill-opacity="0.4"/>
<rect x="1085.16" y="774.41" width="28.77" height="65.39" fill="#1f77b4" fill-opacity="0.4"/>
<rect x="1113.93" y="596.01" width="28.77" height="243.79" fill="#1f77b4" fill-opacity="0.4"/>
<rect x="855.00" y="637.19" width="28.77" height="202.61" fill="#ff7f0e" fill-opacity="0.4"/>
<rect x="883.77" y="691.55" width="28.77" height="148.25" fill="#ff7f0e" fill-opacity="0.4"/>
<rect x="912.54" y="691.55" width="28.77" height="148.25" fill="#ff7f0e" fill-opacity="0.4"/>
<rect x="941.31" y="677.55" width="28.77" height="162.25" fill="#ff7f0e" fill-opacity="0.4"/>
<rect x="970.08" y="786.60" width="28.77" height="53.20" fill="#ff7f0e" fill-opacity="0.4"/>
<rect x="998.85" y="596.01" width="28.77" height="243.79" fill="#ff7f0e" fill-opacity="0.4"/>
<rect x="1027.62" y="718.65" width="28.77" height="121.15" fill="#ff7f0e" fill-opacity="0.4"/>
<rect x="1056.39" y="704.56" width="28.77" height="135.24" fill="#ff7f0e" fill-opacity="0.4"/>
<rect x="1085.16" y="800.02" width="28.77" height="39.78" fill="#ff7f0e" fill-opacity="0.4"/>
<rect x="1113.93" y="704.56" width="28.77" height="135.24" fill="#ff7f0e" fill-opacity="0.4"/>
<line x1="840.5" y1="544.8" x2="840.5" y2="839.8" stroke="#000" stroke-width="1.2"/>
<line x1="835.2" y1="839.8" x2="840.5" y2="839.8" stroke="#000" stroke-width="1.2"/>
<text x="829.5" y="845.7" font-size="15.3" text-anchor="end" fill="#000">0.000</text>
<line x1="835.2" y1="798.6" x2="840.5" y2="798.6" stroke="#000" stroke-width="1.2"/>
<text x="829.5" y="804.5" font-size="15.3" text-anchor="end" fill="#000">0.005</text>
<line x1="835.2" y1="757.4" x2="840.5" y2="757.4" stroke="#000" stroke-width="1.2"/>
<text x="829.5" y="763.3" font-size="15.3" text-anchor="end" fill="#000">0.010</text>
<line x1="835.2" y1="716.3" x2="840.5" y2="716.3" stroke="#000" stroke-width="1.2"/>
<text x="829.5" y="722.2" font-size="15.3" text-anchor="end" fill="#000">0.015</text>
<line x1="835.2" y1="675.1" x2="840.5" y2="675.1" stroke="#000" stroke-width="1.2"/>
<text x="829.5" y="681.0" font-size="15.3" text-anchor="end" fill="#000">0.020</text>
<line x1="835.2" y1="633.9" x2="840.5" y2="633.9" stroke="#000" stroke-width="1.2"/>
<text x="829.5" y="639.8" font-size="15.3" text-anchor="end" fill="#000">0.025</text>
<line x1="835.2" y1="592.7" x2="840.5" y2="592.7" stroke="#000" stroke-width="1.2"/>
<text x="829.5" y="598.6" font-size="15.3" text-anchor="end" fill="#000">0.030</text>
<line x1="835.2" y1="551.5" x2="840.5" y2="551.5" stroke="#000" stroke-width="1.2"/>
<text x="829.5" y="557.4" font-size="15.3" text-anchor="end" fill="#000">0.035</text>
<line x1="840.5" y1="839.8" x2="1156.4" y2="839.8" stroke="#000" stroke-width="1.2"/>
<line x1="851.5" y1="839.8" x2="851.5" y2="845.1" stroke="#000" stroke-width="1.2"/>
<text x="851.5" y="862.3" font-size="15.3" text-anchor="middle" fill="#000">0</text>
<line x1="948.6" y1="839.8" x2="948.6" y2="845.1" stroke="#000" stroke-width="1.2"/>
<text x="948.6" y="862.3" font-size="15.3" text-anchor="middle" fill="#000">20</text>
<line x1="1045.6" y1="839.8" x2="1045.6" y2="845.1" stroke="#000" stroke-width="1.2"/>
<text x="1045.6" y="862.3" font-size="15.3" text-anchor="middle" fill="#000">40</text>
<line x1="1142.7" y1="839.8" x2="1142.7" y2="845.1" stroke="#000" stroke-width="1.2"/>
<text x="1142.7" y="862.3" font-size="15.3" text-anchor="middle" fill="#000">60</text>
<text x="998.5" y="881.3" font-size="15.3" text-anchor="middle" fill="#000">Preferred Frame time (s)</text>
<text x="781.5" y="692.1" font-size="15.3" text-anchor="middle" fill="#000" transform="rotate(-90 781.5 692.1)">Density of units</text>
<rect x="848.6" y="552.1" width="137.4" height="47.9" rx="3" ry="3" fill="#fff" fill-opacity="0.8" stroke="#ccc" stroke-width="1.2"/>
<rect x="854.5" y="559.3" width="30.3" height="10.5" fill="#1f77b4" fill-opacity="0.4"/>
<rect x="854.5" y="580.8" width="30.3" height="10.5" fill="#ff7f0e" fill-opacity="0.4"/>
<text x="897.0" y="569.8" font-size="15.3" text-anchor="start" fill="#000">non-somatic</text>
<text x="897.0" y="591.4" font-size="15.3" text-anchor="start" fill="#000">somas</text>
<rect x="1323.10" y="559.40" width="28.65" height="280.00" fill="#1f77b4" fill-opacity="0.4"/>
<rect x="1351.75" y="574.97" width="28.65" height="264.43" fill="#1f77b4" fill-opacity="0.4"/>
<rect x="1380.40" y="685.75" width="28.65" height="153.65" fill="#1f77b4" fill-opacity="0.4"/>
<rect x="1409.05" y="756.98" width="28.65" height="82.42" fill="#1f77b4" fill-opacity="0.4"/>
<rect x="1437.70" y="809.12" width="28.65" height="30.27" fill="#1f77b4" fill-opacity="0.4"/>
<rect x="1466.35" y="814.02" width="28.65" height="25.38" fill="#1f77b4" fill-opacity="0.4"/>
<rect x="1495.00" y="821.90" width="28.65" height="17.50" fill="#1f77b4" fill-opacity="0.4"/>
<rect x="1523.65" y="829.77" width="28.65" height="9.62" fill="#1f77b4" fill-opacity="0.4"/>
<rect x="1580.95" y="837.65" width="28.65" height="1.75" fill="#1f77b4" fill-opacity="0.4"/>
<rect x="1323.10" y="627.12" width="28.65" height="212.28" fill="#ff7f0e" fill-opacity="0.4"/>
<rect x="1351.75" y="703.95" width="28.65" height="135.45" fill="#ff7f0e" fill-opacity="0.4"/>
<rect x="1380.40" y="669.65" width="28.65" height="169.75" fill="#ff7f0e" fill-opacity="0.4"/>
<rect x="1409.05" y="703.95" width="28.65" height="135.45" fill="#ff7f0e" fill-opacity="0.4"/>
<rect x="1437.70" y="789.00" width="28.65" height="50.40" fill="#ff7f0e" fill-opacity="0.4"/>
<rect x="1466.35" y="763.27" width="28.65" height="76.12" fill="#ff7f0e" fill-opacity="0.4"/>
<rect x="1495.00" y="822.77" width="28.65" height="16.62" fill="#ff7f0e" fill-opacity="0.4"/>
<rect x="1523.65" y="805.80" width="28.65" height="33.60" fill="#ff7f0e" fill-opacity="0.4"/>
<rect x="1552.30" y="814.55" width="28.65" height="24.85" fill="#ff7f0e" fill-opacity="0.4"/>
<rect x="1580.95" y="831.52" width="28.65" height="7.88" fill="#ff7f0e" fill-opacity="0.4"/>
<line x1="1308.6" y1="544.8" x2="1308.6" y2="839.4" stroke="#000" stroke-width="1.2"/>
<line x1="1303.3" y1="839.4" x2="1308.6" y2="839.4" stroke="#000" stroke-width="1.2"/>
<text x="1297.6" y="845.3" font-size="15.3" text-anchor="end" fill="#000">0.000</text>
<line x1="1303.3" y1="804.4" x2="1308.6" y2="804.4" stroke="#000" stroke-width="1.2"/>
<text x="1297.6" y="810.3" font-size="15.3" text-anchor="end" fill="#000">0.002</text>
<line x1="1303.3" y1="769.4" x2="1308.6" y2="769.4" stroke="#000" stroke-width="1.2"/>
<text x="1297.6" y="775.3" font-size="15.3" text-anchor="end" fill="#000">0.004</text>
<line x1="1303.3" y1="734.4" x2="1308.6" y2="734.4" stroke="#000" stroke-width="1.2"/>
<text x="1297.6" y="740.3" font-size="15.3" text-anchor="end" fill="#000">0.006</text>
<line x1="1303.3" y1="699.4" x2="1308.6" y2="699.4" stroke="#000" stroke-width="1.2"/>
<text x="1297.6" y="705.3" font-size="15.3" text-anchor="end" fill="#000">0.008</text>
<line x1="1303.3" y1="664.4" x2="1308.6" y2="664.4" stroke="#000" stroke-width="1.2"/>
<text x="1297.6" y="670.3" font-size="15.3" text-anchor="end" fill="#000">0.010</text>
<line x1="1303.3" y1="629.4" x2="1308.6" y2="629.4" stroke="#000" stroke-width="1.2"/>
<text x="1297.6" y="635.3" font-size="15.3" text-anchor="end" fill="#000">0.012</text>
<line x1="1303.3" y1="594.4" x2="1308.6" y2="594.4" stroke="#000" stroke-width="1.2"/>
<text x="1297.6" y="600.3" font-size="15.3" text-anchor="end" fill="#000">0.014</text>
<line x1="1303.3" y1="559.4" x2="1308.6" y2="559.4" stroke="#000" stroke-width="1.2"/>
<text x="1297.6" y="565.3" font-size="15.3" text-anchor="end" fill="#000">0.016</text>
<line x1="1308.6" y1="839.4" x2="1624.4" y2="839.4" stroke="#000" stroke-width="1.2"/>
<line x1="1318.0" y1="839.4" x2="1318.0" y2="844.7" stroke="#000" stroke-width="1.2"/>
<text x="1318.0" y="861.9" font-size="15.3" text-anchor="middle" fill="#000">0</text>
<line x1="1389.2" y1="839.4" x2="1389.2" y2="844.7" stroke="#000" stroke-width="1.2"/>
<text x="1389.2" y="861.9" font-size="15.3" text-anchor="middle" fill="#000">50</text>
<line x1="1460.4" y1="839.4" x2="1460.4" y2="844.7" stroke="#000" stroke-width="1.2"/>
<text x="1460.4" y="861.9" font-size="15.3" text-anchor="middle" fill="#000">100</text>
<line x1="1531.6" y1="839.4" x2="1531.6" y2="844.7" stroke="#000" stroke-width="1.2"/>
<text x="1531.6" y="861.9" font-size="15.3" text-anchor="middle" fill="#000">150</text>
<line x1="1602.8" y1="839.4" x2="1602.8" y2="844.7" stroke="#000" stroke-width="1.2"/>
<text x="1602.8" y="861.9" font-size="15.3" text-anchor="middle" fill="#000">200</text>
<text x="1465.6" y="881.3" font-size="15.3" text-anchor="middle" fill="#000">Preferred frame response amplitude (%ΔF/F)</text>
<text x="1249.3" y="692.1" font-size="15.3" text-anchor="middle" fill="#000" transform="rotate(-90 1249.3 692.1)">Density of units</text>
<rect x="1812.30" y="826.10" width="28.67" height="13.30" fill="#1f77b4" fill-opacity="0.4"/>
<rect x="1840.97" y="685.61" width="28.67" height="153.79" fill="#1f77b4" fill-opacity="0.4"/>
<rect x="1869.64" y="559.52" width="28.67" height="279.88" fill="#1f77b4" fill-opacity="0.4"/>
<rect x="1898.31" y="612.90" width="28.67" height="226.50" fill="#1f77b4" fill-opacity="0.4"/>
<rect x="1926.98" y="704.99" width="28.67" height="134.41" fill="#1f77b4" fill-opacity="0.4"/>
<rect x="1955.65" y="767.09" width="28.67" height="72.31" fill="#1f77b4" fill-opacity="0.4"/>
<rect x="1984.32" y="800.62" width="28.67" height="38.78" fill="#1f77b4" fill-opacity="0.4"/>
<rect x="2012.99" y="822.96" width="28.67" height="16.44" fill="#1f77b4" fill-opacity="0.4"/>
<rect x="2041.66" y="838.09" width="28.67" height="1.31" fill="#1f77b4" fill-opacity="0.4"/>
<rect x="2070.33" y="834.16" width="28.67" height="5.24" fill="#1f77b4" fill-opacity="0.4"/>
<rect x="1840.97" y="803.38" width="28.67" height="36.03" fill="#ff7f0e" fill-opacity="0.4"/>
<rect x="1869.64" y="619.58" width="28.67" height="219.82" fill="#ff7f0e" fill-opacity="0.4"/>
<rect x="1898.31" y="628.03" width="28.67" height="211.37" fill="#ff7f0e" fill-opacity="0.4"/>
<rect x="1926.98" y="674.21" width="28.67" height="165.19" fill="#ff7f0e" fill-opacity="0.4"/>
<rect x="1955.65" y="738.99" width="28.67" height="100.41" fill="#ff7f0e" fill-opacity="0.4"/>
<rect x="1984.32" y="729.56" width="28.67" height="109.84" fill="#ff7f0e" fill-opacity="0.4"/>
<rect x="2012.99" y="775.28" width="28.67" height="64.12" fill="#ff7f0e" fill-opacity="0.4"/>
<rect x="2041.66" y="803.38" width="28.67" height="36.03" fill="#ff7f0e" fill-opacity="0.4"/>
<line x1="1797.9" y1="544.8" x2="1797.9" y2="839.4" stroke="#000" stroke-width="1.2"/>
<line x1="1792.6" y1="839.4" x2="1797.9" y2="839.4" stroke="#000" stroke-width="1.2"/>
<text x="1786.9" y="845.3" font-size="15.3" text-anchor="end" fill="#000">0.0</text>
<line x1="1792.6" y1="806.6" x2="1797.9" y2="806.6" stroke="#000" stroke-width="1.2"/>
<text x="1786.9" y="812.5" font-size="15.3" text-anchor="end" fill="#000">0.5</text>
<line x1="1792.6" y1="773.9" x2="1797.9" y2="773.9" stroke="#000" stroke-width="1.2"/>
<text x="1786.9" y="779.8" font-size="15.3" text-anchor="end" fill="#000">1.0</text>
<line x1="1792.6" y1="741.1" x2="1797.9" y2="741.1" stroke="#000" stroke-width="1.2"/>
<text x="1786.9" y="747.0" font-size="15.3" text-anchor="end" fill="#000">1.5</text>
<line x1="1792.6" y1="708.4" x2="1797.9" y2="708.4" stroke="#000" stroke-width="1.2"/>
<text x="1786.9" y="714.3" font-size="15.3" text-anchor="end" fill="#000">2.0</text>
<line x1="1792.6" y1="675.6" x2="1797.9" y2="675.6" stroke="#000" stroke-width="1.2"/>
<text x="1786.9" y="681.5" font-size="15.3" text-anchor="end" fill="#000">2.5</text>
<line x1="1792.6" y1="642.9" x2="1797.9" y2="642.9" stroke="#000" stroke-width="1.2"/>
<text x="1786.9" y="648.8" font-size="15.3" text-anchor="end" fill="#000">3.0</text>
<line x1="1792.6" y1="610.1" x2="1797.9" y2="610.1" stroke="#000" stroke-width="1.2"/>
<text x="1786.9" y="616.0" font-size="15.3" text-anchor="end" fill="#000">3.5</text>
<line x1="1792.6" y1="577.4" x2="1797.9" y2="577.4" stroke="#000" stroke-width="1.2"/>
<text x="1786.9" y="583.3" font-size="15.3" text-anchor="end" fill="#000">4.0</text>
<line x1="1797.9" y1="839.4" x2="2114.0" y2="839.4" stroke="#000" stroke-width="1.2"/>
<line x1="1808.5" y1="839.4" x2="1808.5" y2="844.7" stroke="#000" stroke-width="1.2"/>
<text x="1808.5" y="861.9" font-size="15.3" text-anchor="middle" fill="#000">0.0</text>
<line x1="1891.5" y1="839.4" x2="1891.5" y2="844.7" stroke="#000" stroke-width="1.2"/>
<text x="1891.5" y="861.9" font-size="15.3" text-anchor="middle" fill="#000">0.2</text>
<line x1="1974.5" y1="839.4" x2="1974.5" y2="844.7" stroke="#000" stroke-width="1.2"/>
<text x="1974.5" y="861.9" font-size="15.3" text-anchor="middle" fill="#000">0.4</text>
<line x1="2057.5" y1="839.4" x2="2057.5" y2="844.7" stroke="#000" stroke-width="1.2"/>
<text x="2057.5" y="861.9" font-size="15.3" text-anchor="middle" fill="#000">0.6</text>
<text x="1955.4" y="881.3" font-size="15.3" text-anchor="middle" fill="#000">Reliability</text>
<text x="1756.5" y="692.1" font-size="15.3" text-anchor="middle" fill="#000" transform="rotate(-90 1756.5 692.1)">Density of units</text>
</svg>
</body></html>
